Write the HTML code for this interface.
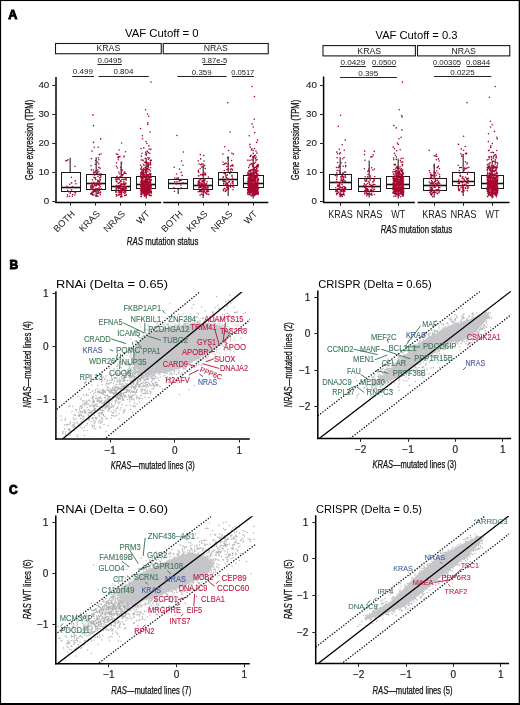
<!DOCTYPE html>
<html><head><meta charset="utf-8"><style>
html,body{margin:0;padding:0;background:#fff;width:520px;height:705px;overflow:hidden;}
svg{display:block;font-family:"Liberation Sans", sans-serif;will-change:transform;}
</style></head><body><svg width="520" height="705" viewBox="0 0 520 705" font-family='"Liberation Sans", sans-serif'><rect x="0" y="0" width="520" height="705" fill="#fff"/><rect x="0" y="0" width="520" height="1.05" fill="#000"/><rect x="0" y="0" width="1.1" height="705" fill="#000"/><rect x="0" y="703" width="520" height="2" fill="#000"/><rect x="518.7" y="0" width="1.3" height="705" fill="#000"/><text x="8.30" y="18.80" font-size="12.6" font-weight="bold" stroke="#000" stroke-width="0.9">A</text><text x="9.40" y="269.30" font-size="12.0" font-weight="bold" stroke="#000" stroke-width="0.9">B</text><text x="8.90" y="494.30" font-size="12.0" font-weight="bold" stroke="#000" stroke-width="0.9">C</text><line x1="70.20" y1="172.50" x2="70.20" y2="157.80" stroke="#444" stroke-width="1.3" /><line x1="70.20" y1="191.50" x2="70.20" y2="194.00" stroke="#444" stroke-width="1.3" /><rect x="61.50" y="172.50" width="19.00" height="19.00" fill="#fff" stroke="#1a1a1a" stroke-width="1"/><line x1="61.50" y1="187.50" x2="80.50" y2="187.50" stroke="#111" stroke-width="1.6" /><line x1="96.20" y1="174.50" x2="96.20" y2="157.20" stroke="#444" stroke-width="1.3" /><line x1="96.20" y1="189.50" x2="96.20" y2="196.50" stroke="#444" stroke-width="1.3" /><rect x="86.50" y="174.50" width="19.00" height="15.00" fill="#fff" stroke="#1a1a1a" stroke-width="1"/><line x1="86.50" y1="183.50" x2="105.50" y2="183.50" stroke="#111" stroke-width="1.6" /><line x1="121.20" y1="177.50" x2="121.20" y2="161.40" stroke="#444" stroke-width="1.3" /><line x1="121.20" y1="190.50" x2="121.20" y2="197.50" stroke="#444" stroke-width="1.3" /><rect x="111.50" y="177.50" width="19.00" height="13.00" fill="#fff" stroke="#1a1a1a" stroke-width="1"/><line x1="111.50" y1="186.50" x2="130.50" y2="186.50" stroke="#111" stroke-width="1.6" /><line x1="146.20" y1="176.50" x2="146.20" y2="158.30" stroke="#444" stroke-width="1.3" /><line x1="146.20" y1="188.50" x2="146.20" y2="198.50" stroke="#444" stroke-width="1.3" /><rect x="136.50" y="176.50" width="19.00" height="12.00" fill="#fff" stroke="#1a1a1a" stroke-width="1"/><line x1="136.50" y1="184.50" x2="155.50" y2="184.50" stroke="#111" stroke-width="1.6" /><line x1="178.20" y1="179.50" x2="178.20" y2="177.00" stroke="#444" stroke-width="1.3" /><line x1="178.20" y1="188.50" x2="178.20" y2="194.00" stroke="#444" stroke-width="1.3" /><rect x="168.50" y="179.50" width="19.00" height="9.00" fill="#fff" stroke="#1a1a1a" stroke-width="1"/><line x1="168.50" y1="183.50" x2="187.50" y2="183.50" stroke="#111" stroke-width="1.6" /><line x1="203.20" y1="178.50" x2="203.20" y2="163.60" stroke="#444" stroke-width="1.3" /><line x1="203.20" y1="189.50" x2="203.20" y2="198.00" stroke="#444" stroke-width="1.3" /><rect x="193.50" y="178.50" width="19.00" height="11.00" fill="#fff" stroke="#1a1a1a" stroke-width="1"/><line x1="193.50" y1="185.50" x2="212.50" y2="185.50" stroke="#111" stroke-width="1.6" /><line x1="228.20" y1="172.50" x2="228.20" y2="156.20" stroke="#444" stroke-width="1.3" /><line x1="228.20" y1="185.50" x2="228.20" y2="196.00" stroke="#444" stroke-width="1.3" /><rect x="218.50" y="172.50" width="19.00" height="13.00" fill="#fff" stroke="#1a1a1a" stroke-width="1"/><line x1="218.50" y1="179.50" x2="237.50" y2="179.50" stroke="#111" stroke-width="1.6" /><line x1="253.20" y1="175.50" x2="253.20" y2="158.30" stroke="#444" stroke-width="1.3" /><line x1="253.20" y1="187.50" x2="253.20" y2="198.50" stroke="#444" stroke-width="1.3" /><rect x="243.50" y="175.50" width="20.00" height="12.00" fill="#fff" stroke="#1a1a1a" stroke-width="1"/><line x1="243.50" y1="183.50" x2="263.50" y2="183.50" stroke="#111" stroke-width="1.6" /><line x1="340.20" y1="174.50" x2="340.20" y2="157.30" stroke="#444" stroke-width="1.3" /><line x1="340.20" y1="189.50" x2="340.20" y2="196.50" stroke="#444" stroke-width="1.3" /><rect x="329.50" y="174.50" width="22.00" height="15.00" fill="#fff" stroke="#1a1a1a" stroke-width="1"/><line x1="329.50" y1="182.50" x2="351.50" y2="182.50" stroke="#111" stroke-width="1.6" /><line x1="369.20" y1="178.50" x2="369.20" y2="160.40" stroke="#444" stroke-width="1.3" /><line x1="369.20" y1="191.50" x2="369.20" y2="197.50" stroke="#444" stroke-width="1.3" /><rect x="358.50" y="178.50" width="22.00" height="13.00" fill="#fff" stroke="#1a1a1a" stroke-width="1"/><line x1="358.50" y1="186.50" x2="380.50" y2="186.50" stroke="#111" stroke-width="1.6" /><line x1="398.20" y1="176.50" x2="398.20" y2="158.80" stroke="#444" stroke-width="1.3" /><line x1="398.20" y1="188.50" x2="398.20" y2="198.50" stroke="#444" stroke-width="1.3" /><rect x="386.50" y="176.50" width="23.00" height="12.00" fill="#fff" stroke="#1a1a1a" stroke-width="1"/><line x1="386.50" y1="184.50" x2="409.50" y2="184.50" stroke="#111" stroke-width="1.6" /><line x1="434.20" y1="178.50" x2="434.20" y2="163.40" stroke="#444" stroke-width="1.3" /><line x1="434.20" y1="190.50" x2="434.20" y2="197.50" stroke="#444" stroke-width="1.3" /><rect x="423.50" y="178.50" width="23.00" height="12.00" fill="#fff" stroke="#1a1a1a" stroke-width="1"/><line x1="423.50" y1="185.50" x2="446.50" y2="185.50" stroke="#111" stroke-width="1.6" /><line x1="463.20" y1="172.50" x2="463.20" y2="154.10" stroke="#444" stroke-width="1.3" /><line x1="463.20" y1="185.50" x2="463.20" y2="196.00" stroke="#444" stroke-width="1.3" /><rect x="452.50" y="172.50" width="22.00" height="13.00" fill="#fff" stroke="#1a1a1a" stroke-width="1"/><line x1="452.50" y1="181.50" x2="474.50" y2="181.50" stroke="#111" stroke-width="1.6" /><line x1="492.20" y1="175.50" x2="492.20" y2="160.40" stroke="#444" stroke-width="1.3" /><line x1="492.20" y1="188.50" x2="492.20" y2="198.50" stroke="#444" stroke-width="1.3" /><rect x="481.50" y="175.50" width="22.00" height="13.00" fill="#fff" stroke="#1a1a1a" stroke-width="1"/><line x1="481.50" y1="183.50" x2="503.50" y2="183.50" stroke="#111" stroke-width="1.6" /><path d="M66.4 187.5h0M75.9 183.8h0M67.7 190.2h0M72.7 194.5h0M68.6 191.7h0M74.8 195.0h0M72.6 186.8h0M66.8 160.6h0M74.5 192.0h0M75.6 192.9h0M75.2 180.9h0M71.6 182.9h0M67.0 186.3h0M67.5 194.7h0M75.4 187.8h0M71.4 177.2h0M67.3 196.5h0M74.9 191.7h0M72.3 196.3h0M71.6 189.9h0M69.5 196.2h0M69.8 184.2h0M68.0 159.8h0M65.8 160.7h0M74.9 166.2h0" stroke="#a8062f" stroke-width="1.6" stroke-linecap="round" fill="none"/><path d="M94.7 175.1h0M93.5 186.9h0M100.2 168.3h0M95.9 183.8h0M98.0 176.4h0M91.4 193.1h0M100.0 179.7h0M94.0 194.8h0M95.9 195.9h0M92.7 186.6h0M95.1 191.0h0M99.5 181.9h0M99.5 190.5h0M95.7 189.1h0M98.9 181.4h0M95.5 177.7h0M94.6 185.4h0M96.5 185.7h0M92.8 174.6h0M94.0 177.3h0M98.2 191.7h0M98.9 184.5h0M91.2 183.3h0M98.5 191.8h0M99.4 180.8h0M95.4 190.7h0M91.3 169.9h0M98.0 181.6h0M93.3 182.7h0M97.5 188.9h0M94.7 184.9h0M97.5 195.8h0M93.4 192.3h0M95.7 179.5h0M96.3 196.2h0M97.4 172.2h0M92.8 195.0h0M101.0 173.7h0M93.7 190.6h0M93.9 173.3h0M93.4 182.3h0M91.3 194.2h0M95.2 164.2h0M98.9 159.7h0M98.3 184.4h0M92.7 186.3h0M92.1 185.3h0M94.1 191.4h0M98.9 167.4h0M95.9 188.5h0M100.6 184.2h0M97.7 190.3h0M97.3 189.1h0M98.9 193.0h0M98.7 164.0h0M94.3 185.2h0M93.4 170.0h0M95.3 183.6h0M95.9 189.6h0M92.1 186.8h0M95.4 188.7h0M97.5 183.6h0M92.1 187.2h0M92.1 186.6h0M92.5 193.5h0M93.7 190.4h0M101.0 154.0h0M90.9 189.5h0M92.6 191.8h0M92.4 179.8h0M95.7 160.5h0M90.8 193.8h0M95.5 185.7h0M92.4 189.2h0M93.5 195.0h0M99.2 174.0h0M92.6 183.9h0M97.3 182.9h0M95.0 190.0h0M95.1 178.2h0M99.4 188.5h0M92.3 185.1h0M100.6 192.1h0M100.2 192.7h0M97.8 162.2h0M91.1 188.3h0M97.8 180.4h0M97.1 184.0h0M98.9 187.7h0M92.9 188.3h0M100.9 175.7h0M100.2 186.6h0M91.8 185.2h0M94.0 183.5h0M91.0 165.8h0M99.6 174.9h0M100.5 179.2h0M101.3 188.7h0M97.2 193.5h0M97.8 170.3h0M97.9 170.0h0M96.8 185.1h0M100.9 177.0h0M97.2 173.3h0M94.2 172.4h0M96.1 170.8h0M90.8 187.9h0M98.4 157.8h0M98.1 192.9h0M95.1 171.9h0M99.8 177.7h0M98.8 171.7h0M94.2 147.2h0M91.4 158.6h0M92.0 192.3h0M92.6 194.8h0M93.9 172.7h0M95.4 191.6h0M100.6 183.8h0M93.6 172.3h0M100.3 194.6h0M97.9 196.2h0M99.8 180.8h0M95.0 183.2h0M90.6 186.1h0M99.1 183.3h0M93.3 190.7h0M92.1 194.1h0M99.2 185.4h0M98.0 191.4h0M92.9 114.9h0M93.5 125.6h0M100.7 138.9h0M93.5 142.4h0M98.2 147.3h0M92.0 151.1h0M99.4 154.6h0" stroke="#a8062f" stroke-width="1.6" stroke-linecap="round" fill="none"/><path d="M119.8 187.2h0M121.1 181.0h0M116.8 179.4h0M121.7 162.9h0M123.9 173.2h0M123.5 183.4h0M118.4 183.5h0M126.3 178.1h0M123.4 190.0h0M120.2 186.5h0M120.1 176.5h0M124.0 157.0h0M117.5 187.5h0M122.5 186.6h0M123.4 184.5h0M121.2 169.8h0M125.0 186.4h0M120.7 167.5h0M120.6 192.4h0M118.7 187.7h0M125.5 187.7h0M119.0 178.1h0M123.1 174.5h0M120.0 194.6h0M125.7 192.1h0M125.8 183.1h0M115.9 190.7h0M126.3 194.7h0M122.1 174.6h0M116.4 181.5h0M121.0 181.5h0M116.1 189.6h0M121.5 174.8h0M117.6 188.0h0M119.6 173.8h0M118.9 192.1h0M122.1 191.8h0M124.5 184.4h0M125.7 191.0h0M119.2 179.4h0M121.8 183.9h0M115.7 192.1h0M119.6 185.6h0M126.0 188.8h0M116.9 176.4h0M125.0 190.6h0M122.6 189.4h0M118.8 172.0h0M124.0 156.0h0M118.7 185.7h0M125.3 184.3h0M116.5 166.3h0M116.9 187.2h0M123.7 192.4h0M120.5 185.2h0M117.2 182.0h0M121.1 191.7h0M118.8 195.1h0M121.5 194.3h0M123.6 179.6h0M124.9 191.3h0M116.2 187.3h0M122.0 184.3h0M126.2 180.1h0M120.6 188.7h0M123.9 181.5h0M116.7 192.0h0M125.0 188.9h0M121.9 192.6h0M125.2 173.2h0M124.1 186.4h0M125.0 191.2h0M116.2 188.8h0M123.3 187.9h0M117.7 179.1h0M118.5 194.9h0M119.1 192.7h0M122.0 189.0h0M122.4 175.8h0M125.7 187.1h0M115.7 179.0h0M117.7 154.5h0M119.5 188.0h0M124.4 188.9h0M121.5 172.0h0M121.1 181.5h0M123.8 179.5h0M122.7 189.8h0M118.7 157.8h0M116.5 162.7h0M120.6 180.7h0M125.1 179.3h0M122.1 196.2h0M116.2 179.9h0M120.4 187.7h0M119.8 182.2h0M121.9 179.4h0M121.9 188.8h0M125.9 195.2h0M119.3 182.8h0M120.0 191.2h0M122.2 188.7h0M125.2 190.4h0M123.2 188.8h0M120.7 196.9h0M124.4 171.9h0M120.8 184.0h0M126.0 173.5h0M118.7 156.5h0M117.0 186.0h0M124.6 195.6h0M118.8 192.0h0M124.8 193.4h0M122.2 189.8h0M121.1 185.5h0M116.5 196.1h0M124.1 183.1h0M116.3 194.6h0M126.0 183.5h0M125.1 187.1h0M118.9 188.6h0M117.0 186.8h0M125.2 190.0h0M120.8 190.5h0M116.9 195.2h0M121.0 186.4h0M118.3 159.7h0M120.0 156.5h0M122.5 170.1h0M125.5 179.1h0M124.3 190.8h0M117.3 168.0h0M120.8 186.7h0M120.9 186.8h0M126.3 188.4h0M116.5 185.4h0M121.1 189.4h0M125.5 186.9h0M119.9 192.9h0M118.4 189.0h0M121.6 143.0h0M119.1 150.0h0M125.6 151.7h0M116.5 154.0h0M117.8 157.5h0" stroke="#a8062f" stroke-width="1.6" stroke-linecap="round" fill="none"/><path d="M150.4 162.0h0M145.0 195.5h0M149.6 186.8h0M145.2 182.1h0M144.2 187.1h0M143.6 189.9h0M142.9 184.6h0M145.3 184.1h0M142.3 184.8h0M149.5 194.6h0M151.1 185.3h0M141.7 190.1h0M141.2 188.3h0M140.6 182.0h0M150.7 177.5h0M141.4 174.1h0M147.9 187.9h0M143.9 173.8h0M142.7 170.0h0M143.3 170.6h0M148.0 166.3h0M140.8 185.3h0M149.9 185.6h0M146.7 175.1h0M143.1 192.7h0M142.9 182.2h0M147.7 188.2h0M147.4 187.0h0M144.0 194.1h0M144.2 190.3h0M145.6 184.3h0M150.4 174.3h0M146.4 172.8h0M149.7 184.8h0M147.5 185.7h0M146.7 190.0h0M145.9 180.2h0M148.0 186.1h0M145.9 177.9h0M148.4 159.2h0M142.6 184.4h0M144.1 193.2h0M150.0 190.2h0M144.9 193.0h0M149.7 191.9h0M150.7 167.8h0M146.8 182.0h0M141.7 193.3h0M148.8 177.3h0M147.8 168.6h0M143.7 187.0h0M149.9 189.1h0M145.8 186.8h0M141.2 181.4h0M141.3 177.5h0M143.1 169.9h0M147.2 169.4h0M149.4 169.8h0M141.7 166.8h0M140.8 177.2h0M147.3 193.3h0M145.0 185.2h0M145.4 181.1h0M149.5 187.1h0M150.5 173.9h0M151.0 187.0h0M149.0 190.5h0M140.6 165.3h0M142.2 177.2h0M146.9 182.1h0M150.9 173.7h0M141.5 171.7h0M146.2 180.8h0M144.9 196.3h0M145.0 189.1h0M143.5 187.7h0M143.5 190.8h0M143.2 182.3h0M141.7 169.7h0M146.6 187.8h0M145.4 191.6h0M148.3 152.8h0M147.5 187.6h0M150.9 192.1h0M144.3 181.9h0M150.1 179.9h0M144.8 189.3h0M147.7 175.6h0M149.3 187.9h0M144.9 190.5h0M145.4 182.5h0M147.4 175.8h0M141.8 188.8h0M146.3 181.0h0M141.6 184.9h0M143.0 189.3h0M147.3 166.4h0M151.1 184.6h0M151.4 185.2h0M143.4 176.5h0M142.2 174.2h0M146.2 168.5h0M145.4 181.0h0M144.7 188.6h0M148.9 188.2h0M148.3 179.0h0M146.7 178.2h0M147.3 166.2h0M146.9 180.0h0M147.9 171.8h0M150.6 164.0h0M150.8 182.6h0M151.2 193.2h0M149.9 191.8h0M141.7 193.0h0M145.5 162.5h0M149.0 190.1h0M143.8 169.1h0M147.2 178.1h0M141.2 160.0h0M142.8 172.6h0M144.9 185.0h0M141.4 185.8h0M145.2 183.3h0M143.1 182.5h0M149.9 188.2h0M144.0 184.4h0M144.7 162.2h0M149.3 194.0h0M146.6 181.7h0M141.1 190.4h0M142.9 182.4h0M147.2 174.9h0M142.8 184.6h0M143.3 175.8h0M147.3 193.6h0M145.9 171.1h0M143.5 188.6h0M146.6 177.7h0M147.4 182.4h0M141.0 196.6h0M143.6 189.6h0M143.9 182.1h0M150.1 163.3h0M141.2 181.4h0M144.3 181.7h0M142.7 192.9h0M148.1 165.6h0M149.4 158.0h0M141.2 183.8h0M149.9 185.9h0M148.1 193.7h0M142.9 174.3h0M150.5 176.5h0M143.8 168.5h0M149.1 178.6h0M141.4 190.8h0M145.5 167.3h0M146.1 192.1h0M150.3 185.8h0M149.6 181.5h0M146.5 174.3h0M141.2 180.0h0M145.2 180.4h0M144.7 189.6h0M151.4 192.3h0M148.0 183.6h0M145.0 189.3h0M144.5 192.4h0M148.9 192.2h0M141.6 187.9h0M149.4 194.5h0M147.8 192.6h0M145.3 193.7h0M148.3 182.4h0M144.9 180.1h0M142.1 153.3h0M145.1 193.2h0M141.2 189.1h0M141.5 173.9h0M145.3 185.9h0M149.5 186.7h0M142.8 160.1h0M146.0 186.8h0M151.2 191.7h0M149.5 192.4h0M150.3 180.9h0M147.9 181.2h0M147.0 192.7h0M146.9 190.8h0M147.1 178.7h0M145.6 178.2h0M144.5 188.9h0M143.2 177.7h0M141.3 178.3h0M144.6 194.3h0M148.9 186.6h0M146.6 180.1h0M142.4 188.4h0M149.4 195.4h0M141.0 186.4h0M150.7 176.1h0M147.6 162.8h0M146.6 195.6h0M145.1 191.6h0M149.5 173.3h0M140.7 169.0h0M140.8 172.9h0M146.2 182.7h0M143.8 191.7h0M144.9 177.6h0M146.4 189.3h0M141.1 196.4h0M151.2 176.6h0M147.9 157.8h0M141.7 190.4h0M148.6 164.9h0M146.4 162.6h0M148.0 163.3h0M148.6 184.3h0M151.3 191.9h0M141.9 185.6h0M151.4 195.6h0M145.8 194.0h0M142.8 183.3h0M144.6 190.9h0M144.5 185.5h0M150.3 185.0h0M146.3 155.2h0M141.3 168.0h0M148.3 184.5h0M146.0 169.4h0M149.4 189.7h0M141.1 186.8h0M149.9 173.9h0M150.2 192.1h0M140.7 186.4h0M145.8 192.5h0M141.9 183.0h0M146.3 161.7h0M141.6 189.5h0M150.2 182.0h0M142.6 190.4h0M147.8 191.7h0M147.7 192.1h0M144.1 165.2h0M142.9 179.3h0M150.5 189.3h0M141.0 176.7h0M143.3 186.8h0M144.1 175.4h0M146.9 181.4h0M144.6 181.5h0M141.8 177.9h0M146.8 188.5h0M148.4 187.3h0M148.2 194.1h0M145.9 187.6h0M143.9 192.9h0M140.7 185.3h0M146.4 190.7h0M147.4 183.2h0M145.4 179.6h0M151.0 192.9h0M142.8 189.9h0M149.4 190.6h0M148.4 176.1h0M150.3 160.2h0M150.6 174.8h0M143.2 186.9h0M150.6 165.0h0M145.0 193.3h0M147.9 164.3h0M150.9 189.0h0M147.0 162.8h0M146.9 191.1h0M141.4 182.6h0M147.0 185.9h0M143.2 183.2h0M144.8 193.1h0M144.7 189.1h0M151.1 179.5h0M147.5 182.0h0M148.4 169.6h0M142.5 183.4h0M143.9 189.3h0M150.1 181.7h0M141.9 194.7h0M150.9 192.2h0M145.2 167.4h0M144.8 190.6h0M146.2 178.8h0M145.4 184.6h0M145.7 191.2h0M145.2 186.9h0M148.2 188.0h0M143.6 187.9h0M142.4 176.1h0M145.3 177.3h0M141.6 188.5h0M145.4 190.4h0M145.9 181.4h0M149.1 185.0h0M141.8 172.2h0M144.9 174.9h0M149.0 184.4h0M144.3 185.5h0M149.6 190.1h0M148.4 190.4h0M141.1 190.9h0M144.8 187.2h0M148.9 187.4h0M146.3 176.2h0M147.9 187.2h0M151.3 185.7h0M147.9 192.0h0M146.5 161.5h0M149.7 179.0h0M145.2 158.4h0M140.7 175.5h0M143.5 164.5h0M147.0 186.1h0M150.8 176.5h0M147.2 192.0h0M143.7 170.0h0M151.3 160.4h0M144.9 180.0h0M143.1 175.9h0M146.6 168.3h0M144.3 189.0h0M141.8 180.0h0M148.3 190.3h0M148.1 189.2h0M151.1 188.8h0M142.1 185.3h0M150.4 182.7h0M149.2 179.5h0M143.3 193.0h0M145.8 152.8h0M147.4 169.8h0M144.0 176.2h0M141.8 187.0h0M149.6 184.9h0M142.4 178.4h0M145.9 180.0h0M145.3 194.1h0M150.4 176.0h0M146.6 194.6h0M145.2 172.4h0M151.1 180.4h0M144.4 185.1h0M148.4 166.0h0M143.1 192.0h0M148.8 182.6h0M148.7 164.3h0M149.5 185.8h0M145.8 187.5h0M143.0 183.0h0M147.4 187.7h0M150.4 162.6h0M143.9 190.6h0M140.8 174.1h0M142.6 192.3h0M150.7 176.9h0M140.7 185.0h0M141.2 196.7h0M141.7 184.2h0M150.2 191.4h0M144.7 187.7h0M148.1 162.7h0M148.2 191.7h0M145.3 191.4h0M148.5 164.7h0M145.6 183.0h0M146.5 162.7h0M143.9 180.9h0M140.6 190.4h0M147.0 184.7h0M143.5 168.5h0M143.6 173.1h0M150.1 184.1h0M144.5 183.7h0M141.7 185.1h0M147.4 188.6h0M146.4 153.8h0M141.2 184.0h0M144.4 191.7h0M147.2 187.9h0M143.6 176.1h0M151.3 177.2h0M149.2 185.3h0M146.0 189.2h0M150.5 183.9h0M141.0 194.1h0M143.0 192.5h0M150.5 175.2h0M146.1 187.9h0M142.4 180.4h0M146.8 168.7h0M148.5 177.1h0M147.1 183.9h0M141.1 148.6h0M141.0 176.9h0M145.0 187.0h0M140.8 176.1h0M141.5 180.0h0M147.5 190.3h0M145.3 183.4h0M141.5 185.5h0M150.1 195.1h0M144.6 185.6h0M150.1 186.5h0M147.2 187.6h0M147.3 193.9h0M145.2 187.0h0M147.9 184.5h0M143.2 183.2h0M143.4 191.8h0M150.0 177.3h0M142.8 192.1h0M144.8 186.0h0M148.6 167.2h0M144.2 189.3h0M144.6 188.1h0M150.4 171.1h0M142.8 187.2h0M143.2 186.6h0M150.2 182.0h0M143.6 171.5h0M144.2 195.8h0M150.1 190.1h0M144.1 191.1h0M151.4 191.5h0M149.5 190.3h0M149.7 190.2h0M143.0 181.2h0M142.9 190.5h0M148.7 183.0h0M149.5 180.1h0M143.0 189.5h0M142.8 182.9h0M143.2 160.8h0M142.1 181.0h0M145.1 188.9h0M146.0 184.7h0M147.4 190.6h0M141.2 181.5h0M142.7 174.3h0M141.9 190.0h0M143.5 185.9h0M142.6 170.6h0M150.7 188.0h0M144.6 182.3h0M142.1 191.2h0M147.8 190.0h0M151.1 188.1h0M149.2 149.0h0M147.6 187.3h0M144.7 188.1h0M145.0 188.4h0M143.9 185.5h0M149.3 177.3h0M149.3 182.4h0M145.9 152.0h0M149.9 182.1h0M147.6 165.3h0M148.0 181.5h0M143.5 177.9h0M143.2 193.0h0M143.1 185.2h0M150.5 184.7h0M149.2 186.1h0M150.3 195.4h0M149.5 174.4h0M149.3 187.2h0M145.3 187.5h0M148.9 186.2h0M142.4 186.0h0M147.7 180.1h0M141.1 192.2h0M151.0 190.6h0M150.1 181.4h0M142.4 182.8h0M148.9 187.1h0M149.5 188.4h0M141.1 190.0h0M146.7 184.6h0M145.1 169.9h0M147.3 191.2h0M150.2 163.9h0M148.4 174.9h0M142.9 187.6h0M146.6 175.7h0M146.7 193.1h0M140.7 194.1h0M142.0 192.3h0M144.5 187.3h0M142.5 186.7h0M143.2 188.1h0M147.9 183.2h0M151.0 82.1h0M145.5 109.7h0M147.6 114.0h0M148.8 116.3h0M147.9 122.7h0M147.7 124.2h0M140.6 128.5h0M150.0 132.0h0M142.3 135.8h0M142.5 138.7h0M146.1 141.6h0M146.9 143.6h0M148.8 145.9h0M143.8 147.9h0M150.8 149.4h0M147.4 151.4h0M149.7 153.2h0M145.8 154.6h0M141.4 156.1h0" stroke="#a8062f" stroke-width="1.6" stroke-linecap="round" fill="none"/><path d="M174.8 181.7h0M176.9 181.8h0M174.8 178.0h0M182.1 175.4h0M174.0 187.8h0M181.0 179.5h0M176.6 184.0h0M180.9 185.1h0M181.3 187.7h0M174.5 191.2h0M181.2 172.4h0M183.2 183.0h0M179.1 181.1h0M180.0 188.7h0M176.5 174.0h0M174.9 178.3h0M181.0 180.3h0M181.9 179.6h0M175.2 183.6h0M174.2 167.3h0M176.8 178.4h0M179.8 180.7h0M176.9 135.5h0M183.4 152.0h0M181.5 161.0h0M182.9 165.3h0M179.5 169.1h0" stroke="#a8062f" stroke-width="1.6" stroke-linecap="round" fill="none"/><path d="M208.3 185.7h0M200.7 174.7h0M205.4 189.4h0M205.5 193.0h0M207.8 191.7h0M205.2 189.2h0M208.6 191.4h0M198.6 172.4h0M198.4 170.4h0M200.1 182.8h0M204.2 191.4h0M202.6 186.0h0M198.9 189.6h0M200.2 168.7h0M204.3 182.5h0M202.3 180.8h0M206.2 187.9h0M203.0 195.0h0M207.5 190.1h0M206.2 191.8h0M203.3 182.0h0M201.9 184.3h0M200.3 190.2h0M201.2 187.8h0M201.8 166.9h0M201.9 191.0h0M199.9 190.8h0M203.1 186.8h0M199.2 189.7h0M207.4 188.1h0M203.9 180.4h0M199.0 164.0h0M201.5 194.3h0M200.8 185.2h0M199.7 184.8h0M203.2 185.7h0M200.0 186.5h0M199.6 187.5h0M205.6 175.0h0M202.6 188.3h0M205.3 186.1h0M203.1 185.1h0M203.4 184.2h0M201.4 186.4h0M202.6 175.1h0M203.2 185.2h0M201.7 183.7h0M206.9 185.5h0M200.7 191.3h0M200.4 190.4h0M201.7 191.5h0M206.5 183.5h0M207.2 189.8h0M204.1 191.5h0M201.9 183.1h0M205.0 180.5h0M206.9 194.3h0M200.6 164.7h0M205.2 184.8h0M205.7 185.9h0M202.2 174.2h0M199.6 184.5h0M204.6 189.2h0M200.3 154.6h0M202.0 191.6h0M203.9 185.8h0M208.4 177.0h0M199.6 191.6h0M198.8 185.9h0M203.8 181.8h0M208.2 190.7h0M198.5 185.5h0M204.9 179.1h0M198.3 184.5h0M204.0 192.2h0M199.3 181.6h0M205.1 184.2h0M201.9 181.2h0M205.1 173.4h0M200.8 174.9h0M198.8 181.6h0M200.0 182.5h0M201.0 191.7h0M199.8 186.1h0M200.1 183.3h0M203.9 187.9h0M202.7 184.3h0M206.9 190.4h0M203.4 167.4h0M203.8 155.6h0M205.7 187.9h0M207.2 181.7h0M204.3 186.8h0M198.4 171.6h0M203.0 181.3h0M198.3 184.5h0M204.5 186.7h0M198.7 184.1h0M203.8 191.2h0M199.6 178.9h0M207.2 189.8h0M199.0 180.4h0M205.1 184.1h0M205.6 173.9h0M201.0 185.2h0M204.4 174.8h0M201.6 190.9h0M200.8 179.6h0M200.8 186.7h0M198.2 183.5h0M205.3 184.5h0M198.8 175.9h0M200.1 195.1h0M198.9 182.4h0M206.7 193.3h0M203.7 172.4h0M203.0 194.9h0M204.3 191.3h0M206.7 194.0h0M204.7 165.6h0M203.5 192.5h0M201.4 184.2h0M203.6 188.8h0M208.7 194.4h0M204.2 187.5h0M203.2 179.0h0M207.6 186.5h0M198.6 175.8h0M198.7 187.7h0M206.5 185.0h0M208.2 187.8h0M198.5 182.2h0M198.3 160.8h0M198.1 182.0h0M204.2 183.5h0M199.5 189.2h0M204.1 190.0h0M205.2 168.5h0M198.2 191.8h0M207.4 190.8h0M200.7 158.9h0M204.0 161.0h0M201.8 163.9h0" stroke="#a8062f" stroke-width="1.6" stroke-linecap="round" fill="none"/><path d="M231.5 165.5h0M223.2 172.5h0M226.8 179.4h0M228.0 184.7h0M229.3 181.3h0M224.4 173.5h0M228.8 186.0h0M230.4 169.3h0M230.8 187.3h0M225.3 191.3h0M227.7 187.4h0M226.1 190.8h0M227.1 189.4h0M226.8 166.5h0M233.1 181.7h0M223.0 177.8h0M233.1 166.1h0M223.3 164.5h0M223.7 184.1h0M225.1 163.4h0M226.0 176.1h0M232.2 179.9h0M232.0 175.4h0M233.0 189.7h0M227.1 186.0h0M223.1 180.9h0M229.7 173.5h0M232.6 183.1h0M224.1 181.0h0M231.8 168.8h0M222.9 162.0h0M230.8 171.5h0M228.2 164.4h0M232.7 183.3h0M232.3 182.5h0M223.4 176.8h0M228.3 182.5h0M225.5 184.1h0M227.6 157.7h0M223.6 181.7h0M226.8 187.1h0M227.3 174.9h0M222.9 154.1h0M228.0 179.1h0M232.6 164.9h0M223.6 183.6h0M233.1 184.0h0M228.2 185.4h0M225.2 181.2h0M233.4 154.1h0M228.0 188.2h0M227.6 158.0h0M227.0 187.4h0M232.4 181.9h0M224.3 170.6h0M225.2 173.2h0M226.0 177.1h0M223.6 190.7h0M232.0 176.3h0M228.2 187.5h0M229.4 181.8h0M232.5 178.1h0M228.2 188.2h0M225.9 183.9h0M228.6 189.0h0M228.3 168.7h0M226.1 182.2h0M225.4 174.0h0M226.8 185.3h0M230.8 184.0h0M224.7 164.0h0M233.7 187.2h0M225.4 191.4h0M225.8 175.8h0M224.2 188.2h0M227.1 183.6h0M226.9 169.6h0M230.3 186.2h0M232.6 170.1h0M225.6 185.3h0M231.6 160.6h0M226.2 163.4h0M227.3 183.8h0M224.3 181.8h0M232.5 186.3h0M226.9 178.0h0M230.5 166.2h0M223.2 189.8h0M230.4 169.5h0M225.3 189.1h0M227.8 102.7h0M230.2 132.0h0M224.7 146.8h0M228.6 150.5h0M231.9 153.2h0" stroke="#a8062f" stroke-width="1.6" stroke-linecap="round" fill="none"/><path d="M251.1 184.5h0M249.4 176.5h0M251.3 177.7h0M252.5 185.9h0M258.1 192.6h0M253.2 171.8h0M255.0 181.4h0M255.6 171.8h0M247.8 194.3h0M250.2 193.0h0M253.5 194.7h0M248.3 189.3h0M249.3 171.0h0M255.8 177.2h0M255.0 183.3h0M249.2 181.8h0M249.0 174.9h0M256.8 185.5h0M252.8 179.1h0M251.1 181.7h0M255.5 194.8h0M254.9 186.1h0M258.4 165.9h0M248.8 186.2h0M256.0 184.2h0M252.7 187.6h0M250.4 186.8h0M253.1 169.7h0M247.9 185.2h0M249.0 190.1h0M248.9 187.4h0M255.2 194.1h0M255.4 193.6h0M250.3 174.4h0M251.0 175.5h0M256.0 194.0h0M251.9 173.7h0M251.5 178.4h0M257.9 188.7h0M253.6 175.2h0M253.5 192.9h0M254.3 191.0h0M248.1 192.1h0M252.0 190.6h0M256.2 173.3h0M254.7 191.6h0M257.3 190.8h0M251.1 189.7h0M252.8 181.2h0M250.2 185.8h0M249.7 173.5h0M248.7 188.3h0M249.8 191.4h0M249.5 186.9h0M252.4 182.7h0M252.1 189.6h0M256.0 180.4h0M256.1 157.2h0M253.5 187.5h0M254.8 182.7h0M252.8 166.2h0M251.1 188.0h0M253.1 189.2h0M254.5 190.5h0M258.0 179.3h0M256.5 178.0h0M248.4 184.4h0M254.6 182.8h0M248.7 167.6h0M254.4 173.7h0M256.9 192.0h0M255.3 183.3h0M249.0 182.2h0M252.3 175.6h0M249.8 185.1h0M254.8 188.0h0M255.4 186.8h0M255.7 193.6h0M251.5 183.5h0M254.2 187.7h0M249.9 178.7h0M257.7 190.3h0M257.8 186.7h0M248.0 190.0h0M253.8 190.5h0M255.5 176.0h0M250.2 186.9h0M248.1 179.0h0M247.7 190.8h0M255.3 182.4h0M247.8 193.3h0M251.9 187.0h0M256.3 187.2h0M248.3 177.5h0M255.3 181.7h0M252.4 184.8h0M251.9 174.4h0M252.9 181.6h0M251.5 178.0h0M257.0 175.3h0M254.9 183.9h0M251.9 185.7h0M249.0 180.3h0M253.1 186.6h0M258.5 179.7h0M257.3 170.7h0M248.4 174.2h0M251.5 186.4h0M252.8 191.6h0M252.1 183.9h0M248.9 184.4h0M249.7 170.7h0M253.5 186.4h0M255.5 185.1h0M255.4 175.8h0M255.0 187.1h0M255.0 184.7h0M247.8 160.3h0M250.1 164.5h0M251.3 177.1h0M250.5 180.9h0M251.9 190.1h0M252.0 177.9h0M251.4 182.9h0M247.8 181.4h0M257.0 187.4h0M258.0 183.5h0M254.3 184.9h0M250.6 180.5h0M252.6 165.6h0M257.6 180.0h0M254.2 193.2h0M255.2 190.1h0M255.3 192.9h0M258.3 189.1h0M254.8 177.9h0M248.9 179.6h0M253.2 187.9h0M257.7 181.0h0M249.1 188.9h0M248.3 192.2h0M248.2 192.2h0M248.5 189.5h0M249.5 165.7h0M256.0 191.9h0M254.2 168.7h0M255.6 167.3h0M253.7 184.9h0M251.5 183.8h0M256.2 188.0h0M249.5 183.6h0M251.6 176.7h0M252.2 183.4h0M255.0 172.4h0M255.9 169.6h0M253.8 180.2h0M254.3 180.4h0M250.7 184.0h0M254.1 180.2h0M256.8 190.8h0M252.4 179.6h0M255.8 181.6h0M253.2 189.5h0M253.2 150.6h0M254.3 190.1h0M249.2 189.5h0M250.0 180.9h0M249.6 194.2h0M253.5 189.1h0M254.9 192.7h0M255.3 190.1h0M250.0 184.6h0M251.3 180.5h0M249.3 170.9h0M254.8 175.0h0M252.2 169.7h0M250.6 177.6h0M250.1 187.1h0M258.0 170.7h0M252.9 187.2h0M258.4 188.0h0M251.2 163.9h0M250.0 175.2h0M255.4 181.5h0M257.6 175.7h0M249.5 174.0h0M257.0 192.0h0M254.0 184.3h0M257.5 191.2h0M257.9 182.4h0M252.3 188.4h0M257.9 166.9h0M249.6 178.4h0M252.5 189.2h0M252.5 183.6h0M250.3 191.3h0M252.9 183.1h0M255.8 178.1h0M248.9 181.1h0M252.9 194.2h0M253.4 186.1h0M249.8 178.5h0M254.6 180.7h0M250.4 170.1h0M253.9 191.7h0M253.9 178.4h0M255.8 188.3h0M257.8 181.7h0M257.7 179.6h0M253.1 176.5h0M250.5 187.8h0M250.3 181.8h0M256.2 191.1h0M255.9 192.2h0M256.3 178.0h0M256.7 184.0h0M253.8 193.1h0M257.4 189.5h0M254.8 183.3h0M254.5 163.5h0M256.7 171.8h0M254.7 175.1h0M256.0 193.7h0M257.7 184.3h0M252.0 178.9h0M255.8 179.8h0M250.9 179.5h0M253.0 185.4h0M257.1 159.6h0M258.2 164.9h0M257.9 184.3h0M255.9 190.2h0M256.9 153.1h0M257.3 187.7h0M254.3 169.5h0M250.3 156.4h0M247.9 190.0h0M255.9 180.8h0M255.9 186.3h0M255.6 178.5h0M254.0 180.5h0M254.8 155.6h0M255.5 177.6h0M253.4 183.6h0M254.8 170.6h0M250.1 185.7h0M253.5 186.4h0M254.5 148.5h0M253.8 189.3h0M250.5 187.2h0M249.1 183.1h0M254.8 190.6h0M248.9 194.8h0M256.3 171.6h0M249.7 189.1h0M256.0 187.6h0M251.5 186.4h0M257.4 190.2h0M250.1 190.7h0M249.4 182.1h0M255.0 175.9h0M256.1 175.8h0M251.5 192.6h0M252.8 183.7h0M254.8 191.2h0M250.9 175.5h0M251.9 185.4h0M253.8 183.2h0M251.0 184.3h0M249.3 187.9h0M257.5 192.7h0M249.0 177.8h0M258.4 192.1h0M256.8 191.2h0M252.5 185.9h0M257.0 188.6h0M248.4 181.1h0M253.8 172.3h0M251.5 181.2h0M250.9 181.7h0M257.4 183.3h0M248.1 174.4h0M257.0 193.9h0M248.6 180.1h0M255.0 189.9h0M250.8 191.5h0M253.4 183.5h0M257.7 186.5h0M256.3 177.7h0M248.8 171.0h0M251.0 195.4h0M253.0 184.1h0M255.4 155.3h0M247.8 174.2h0M257.0 165.4h0M256.8 182.6h0M258.0 192.4h0M249.9 190.9h0M250.0 176.2h0M256.7 173.0h0M253.3 188.8h0M250.3 185.7h0M247.9 181.1h0M250.0 193.6h0M255.0 186.3h0M255.6 162.3h0M251.5 149.9h0M257.6 184.4h0M253.2 158.0h0M253.3 187.5h0M252.0 189.3h0M252.1 195.2h0M251.6 173.0h0M256.6 186.4h0M252.5 180.4h0M250.2 181.8h0M252.4 193.8h0M257.7 164.5h0M254.6 186.4h0M248.8 184.8h0M252.2 195.1h0M252.7 173.4h0M247.9 172.6h0M258.1 188.0h0M257.6 182.7h0M248.8 179.8h0M253.7 172.9h0M251.1 182.6h0M250.0 160.2h0M250.7 185.5h0M248.3 188.0h0M255.1 187.1h0M251.7 196.0h0M255.3 189.2h0M256.5 172.3h0M253.9 181.1h0M251.4 189.3h0M249.2 180.2h0M254.7 194.5h0M255.0 185.8h0M256.1 178.3h0M249.2 176.3h0M248.2 189.0h0M257.2 173.6h0M254.2 157.1h0M248.7 186.8h0M255.4 175.8h0M248.3 192.8h0M254.5 194.3h0M253.7 177.3h0M255.4 183.1h0M248.7 181.7h0M257.5 187.8h0M257.9 185.8h0M258.3 174.9h0M256.0 160.2h0M251.1 185.2h0M258.3 193.2h0M254.3 168.2h0M255.5 177.4h0M254.8 176.5h0M249.9 181.8h0M256.9 182.8h0M254.7 178.4h0M250.1 193.9h0M251.8 187.8h0M249.3 188.5h0M252.4 183.7h0M258.4 180.2h0M251.8 188.9h0M252.0 159.9h0M256.4 190.6h0M248.6 186.9h0M249.0 181.3h0M255.8 191.5h0M249.1 177.8h0M254.3 177.0h0M256.5 185.8h0M253.8 156.2h0M248.6 182.7h0M249.9 180.8h0M253.5 190.0h0M258.0 193.3h0M254.8 188.1h0M255.2 186.0h0M254.1 187.0h0M251.2 175.4h0M254.3 195.6h0M247.8 190.9h0M252.2 193.8h0M256.5 167.1h0M249.9 187.7h0M254.7 187.4h0M255.5 190.8h0M249.4 173.7h0M257.0 186.7h0M250.3 181.4h0M258.1 194.5h0M251.4 169.8h0M254.3 179.7h0M257.9 178.0h0M256.6 168.8h0M252.9 185.0h0M249.8 184.8h0M254.3 176.0h0M254.0 179.3h0M248.4 185.4h0M251.8 183.0h0M257.6 187.3h0M253.4 176.0h0M249.7 173.2h0M254.7 183.4h0M252.6 156.8h0M257.6 192.8h0M253.0 185.3h0M248.0 160.2h0M249.4 186.7h0M249.6 193.0h0M258.0 166.1h0M251.6 178.0h0M251.5 191.2h0M258.2 175.3h0M249.9 190.4h0M254.4 191.9h0M257.9 184.7h0M257.5 187.1h0M249.4 190.8h0M252.8 186.3h0M250.4 190.3h0M255.3 182.9h0M250.4 183.6h0M249.6 175.6h0M250.6 186.9h0M249.1 191.9h0M255.4 191.8h0M250.7 185.4h0M252.0 163.6h0M250.7 174.3h0M251.8 188.2h0M251.0 173.0h0M251.5 191.1h0M255.4 172.0h0M249.6 186.4h0M255.1 175.3h0M251.5 177.1h0M248.7 185.7h0M249.0 180.3h0M257.4 190.6h0M248.2 184.0h0M250.7 171.0h0M257.0 176.1h0M248.6 182.6h0M250.0 190.3h0M250.6 171.4h0M256.7 193.2h0M249.0 189.1h0M257.9 180.0h0M249.0 191.3h0M253.8 163.4h0M256.1 170.9h0M253.7 187.7h0M253.2 187.6h0M252.4 191.8h0M250.4 192.2h0M258.4 179.1h0M252.1 177.1h0M254.6 180.1h0M254.0 180.9h0M258.1 187.6h0M250.3 180.0h0M249.4 192.5h0M257.4 183.3h0M253.2 164.6h0M254.6 167.2h0M254.5 187.0h0M256.1 186.1h0M256.7 166.3h0M255.3 158.6h0M247.8 192.6h0M256.7 186.7h0M248.2 181.2h0M257.0 168.9h0M247.7 189.4h0M256.1 176.8h0M254.6 185.8h0M248.0 179.2h0M255.8 184.5h0M254.0 186.1h0M249.0 171.4h0M257.2 176.4h0M254.1 190.7h0M252.7 181.4h0M257.9 191.9h0M249.9 188.9h0M249.6 191.7h0M257.3 191.8h0M249.4 188.4h0M256.5 190.1h0M250.0 178.2h0M256.5 174.9h0M252.1 86.5h0M254.4 96.6h0M254.3 119.2h0M252.0 123.9h0M253.3 127.0h0M254.7 132.6h0M249.2 135.8h0M257.6 140.1h0M256.6 142.4h0M249.9 144.4h0M250.1 147.1h0M252.0 148.8h0M256.0 151.1h0M253.3 153.4h0M251.1 155.2h0" stroke="#a8062f" stroke-width="1.6" stroke-linecap="round" fill="none"/><path d="M338.0 184.8h0M340.0 187.4h0M341.2 191.8h0M339.7 183.3h0M344.7 186.9h0M344.7 188.2h0M343.4 173.0h0M343.8 191.7h0M340.6 177.0h0M338.1 188.7h0M344.0 177.2h0M336.5 182.1h0M341.6 179.9h0M342.0 191.3h0M336.4 189.9h0M337.4 190.5h0M342.5 180.8h0M344.5 172.0h0M339.4 165.2h0M340.9 187.8h0M342.8 182.0h0M341.5 194.5h0M340.2 196.6h0M342.1 190.6h0M342.9 189.2h0M343.9 194.3h0M341.3 195.2h0M342.3 175.8h0M337.3 190.2h0M336.9 194.8h0M343.9 181.0h0M337.6 186.3h0M339.9 173.5h0M344.8 189.9h0M336.8 152.1h0M342.5 194.2h0M337.9 193.2h0M342.0 184.6h0M344.0 190.0h0M344.1 157.5h0M343.6 194.5h0M340.8 189.8h0M341.1 180.3h0M337.1 175.6h0M336.5 167.5h0M343.3 178.9h0M335.8 187.8h0M345.3 181.2h0M337.2 170.5h0M343.0 186.5h0M340.0 186.3h0M341.8 187.8h0M343.4 189.2h0M338.4 192.3h0M344.1 188.5h0M343.4 194.3h0M341.5 178.5h0M341.4 194.5h0M339.3 149.3h0M345.7 165.5h0M339.4 185.6h0M337.8 188.8h0M341.2 162.8h0M345.1 181.2h0M345.2 175.9h0M341.4 189.8h0M339.4 166.5h0M343.3 190.4h0M341.2 182.2h0M344.1 195.1h0M344.2 189.4h0M342.8 176.9h0M345.7 187.8h0M342.2 187.8h0M345.7 172.1h0M342.2 184.2h0M337.6 162.6h0M342.0 175.9h0M343.5 176.9h0M339.8 194.4h0M337.0 193.3h0M339.0 170.5h0M343.6 192.1h0M337.4 189.3h0M335.3 175.4h0M344.7 186.8h0M345.7 177.3h0M344.6 190.9h0M343.9 179.9h0M343.1 166.3h0M341.2 179.5h0M342.2 196.6h0M343.3 174.6h0M338.7 182.8h0M337.4 191.1h0M342.7 158.8h0M341.7 195.2h0M345.9 189.3h0M339.7 153.8h0M339.7 184.0h0M336.5 193.4h0M335.4 182.4h0M336.7 179.4h0M341.6 176.4h0M345.6 166.8h0M336.4 191.1h0M336.9 177.1h0M342.6 173.2h0M338.5 186.3h0M335.7 191.3h0M344.8 191.4h0M336.8 172.9h0M339.9 172.0h0M343.3 190.6h0M343.6 193.5h0M345.5 162.8h0M341.6 194.4h0M336.8 181.7h0M336.1 190.5h0M342.1 195.2h0M341.0 182.1h0M337.9 185.5h0M337.0 157.7h0M339.0 185.5h0M338.3 167.6h0M339.0 167.2h0M339.0 188.4h0M343.3 190.9h0M340.2 152.8h0M344.4 187.1h0M340.6 115.2h0M338.3 126.2h0M345.2 140.1h0M342.2 144.7h0M344.3 150.2h0M337.7 153.7h0" stroke="#a8062f" stroke-width="1.6" stroke-linecap="round" fill="none"/><path d="M366.9 193.4h0M365.6 186.9h0M374.4 194.5h0M371.5 193.4h0M368.2 190.1h0M374.7 176.6h0M365.2 176.8h0M367.8 190.8h0M373.5 181.3h0M374.5 189.3h0M372.6 185.4h0M366.0 185.0h0M370.1 179.9h0M364.8 190.9h0M364.7 187.5h0M373.3 184.4h0M364.0 185.6h0M365.0 191.9h0M365.1 160.3h0M371.7 189.9h0M370.8 178.1h0M366.3 184.6h0M368.4 170.8h0M374.3 151.4h0M366.3 188.2h0M364.7 194.0h0M371.0 185.3h0M365.2 181.3h0M370.0 194.0h0M366.8 190.0h0M364.4 168.7h0M371.1 194.7h0M372.1 187.9h0M367.4 188.8h0M365.7 188.8h0M374.5 169.1h0M366.6 191.3h0M366.7 192.0h0M368.0 174.5h0M366.6 179.9h0M366.7 195.8h0M374.0 179.7h0M364.9 179.7h0M373.0 190.9h0M369.8 184.4h0M364.4 183.9h0M365.6 190.1h0M371.1 190.8h0M370.0 191.3h0M366.6 188.7h0M367.1 194.4h0M374.0 186.8h0M372.0 195.1h0M371.1 185.8h0M374.0 187.2h0M366.5 193.2h0M367.6 176.9h0M373.1 154.9h0M368.8 169.0h0M368.8 194.6h0M372.7 170.0h0M374.8 184.5h0M373.6 186.9h0M372.3 190.8h0M368.8 186.6h0M371.6 167.8h0M366.4 180.9h0M366.7 189.7h0M366.2 191.3h0M371.4 189.7h0M374.2 180.4h0M372.2 156.8h0M366.9 193.3h0M371.1 186.5h0M367.8 189.5h0M372.9 191.7h0M369.2 182.6h0M366.7 180.9h0M367.1 194.8h0M364.9 193.2h0M367.9 171.4h0M367.7 183.5h0M368.9 181.2h0M371.1 190.2h0M374.0 189.4h0M372.8 181.9h0M370.2 190.2h0M367.9 193.5h0M365.8 186.5h0M370.4 176.1h0M364.7 151.1h0M364.6 154.6h0M370.9 156.9h0" stroke="#a8062f" stroke-width="1.6" stroke-linecap="round" fill="none"/><path d="M402.7 186.6h0M395.2 193.7h0M400.8 177.9h0M394.8 181.4h0M397.9 192.6h0M396.6 183.8h0M399.7 177.3h0M399.8 185.5h0M402.6 176.6h0M402.0 176.9h0M393.6 193.3h0M394.8 187.0h0M393.4 180.1h0M400.6 174.9h0M396.6 167.3h0M403.4 194.9h0M395.2 185.2h0M403.2 177.4h0M401.1 170.4h0M401.1 162.2h0M399.5 190.9h0M402.5 187.5h0M395.4 191.5h0M402.3 176.1h0M402.4 192.7h0M399.4 171.0h0M400.0 174.6h0M395.4 180.0h0M398.2 195.6h0M399.2 189.5h0M396.3 177.0h0M393.4 193.1h0M403.2 186.6h0M401.6 185.5h0M396.8 175.2h0M398.6 182.1h0M399.3 182.2h0M403.2 188.0h0M398.9 184.6h0M400.7 185.8h0M401.6 177.3h0M394.0 186.1h0M399.2 173.2h0M402.9 194.2h0M401.8 170.7h0M402.9 186.0h0M394.7 171.8h0M401.3 184.0h0M395.9 175.7h0M402.4 165.8h0M401.4 188.7h0M397.0 184.0h0M399.2 186.0h0M398.0 182.8h0M403.1 193.9h0M398.9 186.0h0M393.7 186.6h0M398.7 190.1h0M393.1 186.2h0M394.4 193.6h0M398.2 167.5h0M397.9 180.5h0M393.6 158.0h0M396.6 190.6h0M396.0 192.0h0M396.0 182.1h0M397.7 194.1h0M393.3 182.7h0M393.3 189.6h0M395.4 187.3h0M400.6 182.4h0M403.0 184.3h0M401.1 158.6h0M393.7 178.4h0M401.8 192.6h0M401.8 174.0h0M402.0 192.8h0M400.8 184.0h0M395.7 192.4h0M398.2 190.3h0M397.7 169.0h0M393.3 188.8h0M398.7 189.3h0M395.8 188.8h0M403.2 187.1h0M400.1 166.8h0M401.6 192.1h0M393.2 192.4h0M400.6 179.1h0M401.6 193.8h0M397.9 187.5h0M395.6 171.9h0M398.2 184.7h0M398.8 188.3h0M397.6 189.7h0M396.3 190.8h0M400.1 189.0h0M402.5 183.6h0M395.8 170.2h0M402.4 174.3h0M393.5 188.9h0M400.3 189.8h0M396.6 177.8h0M398.6 194.6h0M396.7 188.1h0M393.8 187.3h0M394.7 191.8h0M403.6 191.3h0M397.4 181.6h0M403.2 194.1h0M398.5 190.9h0M402.6 189.4h0M397.7 184.1h0M403.6 193.0h0M398.1 172.8h0M395.7 187.2h0M394.8 186.9h0M393.7 187.6h0M394.1 189.6h0M400.3 191.3h0M396.8 172.0h0M402.3 183.1h0M395.0 185.8h0M403.0 174.2h0M395.0 189.8h0M395.8 178.8h0M396.6 184.7h0M395.7 190.8h0M397.4 177.3h0M401.6 193.5h0M393.7 178.6h0M395.5 190.8h0M393.5 181.2h0M401.3 168.5h0M394.2 179.6h0M398.4 189.2h0M402.3 185.2h0M396.3 187.7h0M394.1 192.2h0M395.8 191.9h0M403.0 184.7h0M393.9 180.0h0M402.2 194.5h0M394.2 185.6h0M394.7 180.3h0M401.2 184.1h0M399.8 191.5h0M396.4 173.9h0M400.5 192.5h0M394.5 178.8h0M402.4 164.9h0M399.1 195.4h0M403.1 182.9h0M399.3 182.3h0M399.1 183.2h0M402.2 190.3h0M399.2 187.5h0M393.8 193.2h0M399.5 184.0h0M396.1 180.1h0M399.8 189.7h0M403.7 191.1h0M399.5 188.6h0M401.9 185.2h0M396.7 184.7h0M393.0 186.0h0M393.4 184.6h0M393.1 192.9h0M395.3 179.3h0M395.8 168.3h0M396.4 193.3h0M400.0 189.7h0M401.0 182.6h0M401.2 175.3h0M401.0 179.0h0M402.1 170.7h0M400.7 185.6h0M397.9 181.5h0M397.4 181.5h0M393.8 188.3h0M393.0 171.9h0M402.2 179.3h0M394.5 175.0h0M402.2 188.1h0M397.2 174.3h0M393.5 191.8h0M401.9 181.7h0M400.6 196.8h0M403.7 191.6h0M398.8 178.0h0M402.9 188.5h0M398.4 183.8h0M395.7 194.1h0M397.2 166.3h0M400.0 179.6h0M402.5 185.4h0M401.7 181.5h0M403.0 182.4h0M398.7 168.6h0M397.9 183.4h0M398.6 193.5h0M403.0 187.2h0M396.9 170.7h0M393.6 179.9h0M397.1 188.3h0M399.9 179.5h0M401.9 184.3h0M403.1 179.5h0M400.3 194.0h0M401.7 191.0h0M401.7 178.9h0M401.6 186.9h0M399.4 182.2h0M403.1 158.3h0M402.5 187.5h0M393.0 183.2h0M394.2 189.1h0M403.6 189.5h0M400.1 185.8h0M394.4 193.5h0M402.7 195.6h0M393.9 169.5h0M398.7 186.0h0M397.1 173.1h0M396.0 184.2h0M395.5 184.0h0M393.8 178.8h0M397.0 178.3h0M394.0 192.4h0M399.6 171.9h0M396.4 191.4h0M401.2 183.5h0M403.0 184.6h0M402.5 164.2h0M400.9 187.8h0M401.3 179.5h0M393.9 184.8h0M403.4 181.5h0M399.1 190.8h0M398.8 191.1h0M400.2 182.3h0M394.9 193.9h0M398.0 190.7h0M394.2 179.2h0M402.8 189.5h0M398.3 191.0h0M394.3 192.0h0M403.4 184.0h0M399.2 187.9h0M401.1 184.0h0M401.6 186.7h0M400.4 160.6h0M397.7 188.4h0M395.9 195.2h0M393.5 184.3h0M399.6 185.2h0M394.1 183.9h0M396.9 194.0h0M402.5 173.0h0M402.7 185.5h0M401.8 185.6h0M395.0 193.9h0M403.1 180.9h0M394.4 185.7h0M402.8 169.7h0M401.0 188.2h0M403.4 192.6h0M403.5 184.2h0M398.6 191.1h0M396.3 181.5h0M402.8 191.9h0M396.3 186.2h0M396.5 186.9h0M399.0 185.5h0M394.4 188.8h0M397.8 190.5h0M394.4 185.7h0M397.8 189.2h0M402.7 184.0h0M402.8 187.3h0M403.2 195.9h0M400.7 185.7h0M401.0 169.2h0M397.5 182.6h0M402.6 179.7h0M394.3 181.1h0M394.7 188.6h0M394.2 193.0h0M397.3 177.3h0M393.5 174.1h0M400.5 180.0h0M394.9 181.5h0M400.3 181.7h0M399.0 185.4h0M400.4 182.9h0M400.5 185.1h0M401.4 182.4h0M398.1 191.2h0M399.1 189.5h0M395.6 180.0h0M398.3 187.7h0M393.9 196.3h0M403.2 184.2h0M402.9 196.0h0M393.7 159.8h0M393.0 178.3h0M397.2 178.9h0M398.6 189.7h0M398.1 192.0h0M396.5 186.8h0M399.6 185.0h0M397.2 190.3h0M397.3 183.9h0M393.2 178.7h0M399.3 179.7h0M393.8 191.6h0M402.2 195.6h0M398.1 185.2h0M396.7 189.6h0M400.0 181.2h0M402.5 165.1h0M394.7 165.1h0M397.2 182.7h0M403.4 173.5h0M402.2 165.0h0M397.1 184.8h0M396.8 182.9h0M401.7 176.8h0M393.8 185.4h0M394.2 188.6h0M399.1 190.1h0M399.0 185.1h0M399.0 189.4h0M401.2 177.4h0M402.4 187.5h0M397.2 168.1h0M396.4 172.0h0M402.1 192.4h0M395.5 173.8h0M402.4 188.0h0M400.5 169.6h0M402.0 180.5h0M399.8 185.4h0M394.0 178.8h0M400.6 188.9h0M398.3 182.2h0M394.9 181.7h0M394.0 186.2h0M395.7 181.7h0M394.3 191.3h0M394.4 179.9h0M402.0 192.2h0M403.2 179.2h0M403.6 180.8h0M398.9 178.3h0M399.0 188.9h0M393.5 186.7h0M394.2 183.7h0M401.2 190.0h0M399.1 168.4h0M399.0 188.3h0M401.0 174.8h0M401.7 190.9h0M400.6 182.3h0M393.0 187.6h0M398.8 175.5h0M401.9 187.1h0M401.8 190.5h0M403.1 180.9h0M398.5 192.1h0M398.5 191.0h0M393.2 177.4h0M398.4 194.6h0M399.0 177.5h0M402.8 187.8h0M402.5 190.7h0M393.6 182.8h0M394.4 178.9h0M397.0 188.9h0M401.3 186.2h0M394.7 177.0h0M401.3 177.5h0M399.3 185.2h0M402.4 189.9h0M396.6 190.8h0M397.2 188.9h0M393.6 178.3h0M398.5 179.4h0M401.3 182.1h0M398.4 168.8h0M398.5 187.0h0M402.8 187.5h0M401.2 187.5h0M396.3 159.4h0M403.1 195.1h0M400.7 182.2h0M396.2 180.7h0M395.2 184.2h0M400.2 149.7h0M398.4 172.0h0M399.4 177.2h0M394.3 190.5h0M401.2 180.1h0M402.2 187.4h0M397.4 184.3h0M396.2 183.0h0M403.4 188.1h0M403.4 178.7h0M394.2 164.6h0M398.7 173.8h0M397.6 182.8h0M395.9 194.6h0M398.5 173.1h0M400.1 173.2h0M396.9 186.1h0M396.2 188.0h0M402.2 178.3h0M400.0 189.9h0M396.2 176.7h0M394.6 191.3h0M397.1 190.5h0M403.0 184.4h0M401.9 192.9h0M395.2 184.5h0M399.4 179.6h0M393.0 192.3h0M402.7 175.1h0M403.1 188.5h0M395.2 179.4h0M396.6 182.7h0M396.2 187.8h0M394.9 188.2h0M400.3 193.8h0M397.0 189.2h0M393.0 189.7h0M395.3 164.2h0M400.0 173.8h0M400.5 192.5h0M393.1 176.6h0M398.8 182.6h0M399.8 187.3h0M399.8 180.3h0M399.9 176.7h0M401.3 188.5h0M396.5 186.5h0M402.1 183.1h0M397.7 190.8h0M393.6 182.9h0M399.9 185.1h0M396.6 189.1h0M399.8 190.0h0M396.9 181.8h0M398.3 175.6h0M398.9 181.5h0M400.5 190.1h0M396.1 177.1h0M400.1 183.0h0M395.4 178.9h0M401.4 171.8h0M395.4 190.3h0M393.7 185.5h0M393.3 188.6h0M399.4 190.2h0M396.4 157.1h0M399.1 174.8h0M396.3 194.0h0M397.6 180.6h0M402.3 188.3h0M402.9 172.0h0M393.4 183.7h0M403.1 185.8h0M398.4 183.2h0M400.9 181.0h0M402.9 184.2h0M394.9 186.1h0M397.0 185.5h0M402.5 179.7h0M398.5 191.4h0M402.6 184.4h0M402.0 185.4h0M403.7 187.9h0M400.0 177.3h0M393.6 192.1h0M402.6 187.1h0M394.9 190.0h0M394.6 179.4h0M396.9 187.8h0M395.1 184.0h0M394.4 181.0h0M399.8 193.4h0M402.7 180.3h0M395.7 189.5h0M396.9 186.3h0M399.8 185.3h0M396.1 176.4h0M398.2 177.3h0M402.8 161.9h0M394.2 182.9h0M398.7 187.8h0M395.2 188.0h0M401.3 178.2h0M395.1 164.9h0M401.7 181.4h0M397.3 188.5h0M403.0 182.0h0M396.8 182.2h0M398.2 184.1h0M394.1 189.4h0M395.9 196.2h0M397.4 188.2h0M402.5 82.1h0M399.2 109.7h0M401.6 115.5h0M402.1 116.9h0M393.9 125.6h0M396.3 127.9h0M401.9 129.9h0M401.1 137.2h0M399.0 138.7h0M397.3 143.0h0M398.3 144.4h0M393.1 147.1h0M394.3 148.8h0M396.7 150.8h0M394.4 153.2h0M395.4 155.2h0" stroke="#a8062f" stroke-width="1.6" stroke-linecap="round" fill="none"/><path d="M435.0 190.3h0M437.9 182.9h0M435.7 192.5h0M438.6 181.6h0M429.4 178.8h0M436.2 175.3h0M435.7 181.1h0M437.6 167.4h0M431.6 191.8h0M435.5 172.9h0M432.1 189.2h0M437.4 189.7h0M430.1 172.6h0M430.9 183.1h0M439.4 168.8h0M437.2 193.7h0M431.9 182.7h0M432.6 189.1h0M433.9 187.3h0M431.7 195.3h0M430.7 174.9h0M439.7 183.3h0M431.5 191.7h0M437.3 193.3h0M437.0 191.1h0M437.1 167.6h0M432.5 186.0h0M431.6 187.8h0M435.9 180.4h0M440.0 185.1h0M433.4 183.1h0M431.6 177.4h0M434.7 182.1h0M431.3 175.6h0M432.9 192.6h0M437.1 184.6h0M431.8 187.9h0M434.0 184.2h0M436.2 185.5h0M430.9 189.7h0M430.8 187.8h0M439.6 174.6h0M438.6 189.2h0M438.8 192.8h0M435.4 179.2h0M434.6 174.3h0M430.4 187.2h0M431.8 184.0h0M430.4 190.8h0M434.9 186.7h0M433.9 172.2h0M431.1 176.6h0M430.3 183.7h0M435.4 187.2h0M430.7 194.3h0M429.3 182.1h0M431.6 180.6h0M437.9 173.0h0M436.3 154.3h0M434.8 181.5h0M431.6 174.4h0M434.2 192.2h0M429.3 170.6h0M432.7 175.6h0M434.4 168.0h0M430.2 178.1h0M435.5 180.6h0M434.0 165.9h0M429.8 189.8h0M430.8 178.4h0M434.5 172.5h0M438.9 190.5h0M429.8 192.3h0M435.3 180.8h0M432.3 183.9h0M433.4 178.8h0M439.2 178.4h0M436.0 190.3h0M432.3 181.8h0M434.1 171.8h0M439.8 187.7h0M438.6 187.2h0M433.8 192.2h0M434.9 176.2h0M434.2 155.7h0M430.8 193.2h0M439.7 176.9h0M431.7 175.0h0M431.6 189.0h0M430.4 187.8h0M439.4 191.7h0M439.1 190.4h0M436.1 183.4h0M434.9 178.2h0M435.5 183.8h0M433.2 175.6h0M438.8 183.0h0M435.2 192.3h0M438.4 166.2h0M436.7 170.8h0M436.5 189.9h0M436.4 159.7h0M437.6 180.3h0M438.0 183.7h0M436.6 156.3h0M432.7 196.7h0M432.0 194.1h0M431.3 177.4h0M438.4 186.8h0M434.4 191.2h0M429.2 150.2h0M435.7 156.1h0M438.5 158.9h0M439.1 161.0h0" stroke="#a8062f" stroke-width="1.6" stroke-linecap="round" fill="none"/><path d="M461.0 187.6h0M465.6 168.5h0M460.3 175.4h0M467.0 182.4h0M465.4 161.8h0M468.4 178.3h0M461.9 191.8h0M465.5 177.2h0M464.6 181.1h0M465.5 153.7h0M468.3 180.7h0M461.9 182.4h0M460.6 176.2h0M466.8 178.2h0M459.7 190.1h0M464.1 179.5h0M468.1 183.4h0M467.2 162.8h0M465.6 188.6h0M458.3 187.7h0M468.7 187.0h0M463.0 185.8h0M461.2 186.0h0M458.8 180.1h0M459.7 167.8h0M458.6 189.6h0M464.1 190.7h0M462.2 192.0h0M461.3 167.5h0M466.9 164.0h0M459.0 190.7h0M462.7 191.1h0M466.8 179.3h0M467.1 167.7h0M465.8 168.8h0M463.8 178.7h0M459.8 173.3h0M462.4 177.3h0M466.0 185.0h0M466.5 153.1h0M464.7 180.6h0M467.8 188.6h0M464.2 184.4h0M467.3 190.7h0M467.9 180.4h0M459.9 167.6h0M459.7 189.4h0M468.8 167.2h0M461.3 148.9h0M462.9 176.8h0M462.7 188.8h0M467.3 187.0h0M458.2 183.4h0M463.4 189.5h0M463.1 189.3h0M459.2 182.8h0M462.9 182.1h0M467.5 174.2h0M458.7 189.0h0M460.8 153.8h0M464.7 168.1h0M464.0 170.6h0M466.3 185.7h0M461.8 156.5h0M459.4 183.5h0M462.1 155.0h0M467.1 168.0h0M462.8 187.3h0M462.4 184.3h0M466.5 153.8h0M464.4 169.0h0M459.6 181.9h0M462.2 178.6h0M467.9 178.7h0M458.4 186.5h0M466.3 182.3h0M461.4 185.8h0M466.2 184.1h0M459.9 175.8h0M465.2 187.7h0M467.4 172.7h0M458.8 179.5h0M468.4 172.2h0M459.2 170.6h0M458.2 165.3h0M467.0 102.7h0M463.6 136.3h0M458.5 144.4h0M465.2 146.5h0M463.6 150.2h0" stroke="#a8062f" stroke-width="1.6" stroke-linecap="round" fill="none"/><path d="M493.5 152.8h0M488.1 191.2h0M488.8 182.8h0M487.7 187.6h0M491.5 171.3h0M495.4 154.8h0M489.7 185.6h0M496.4 196.7h0M487.7 176.1h0M490.7 176.1h0M489.5 193.4h0M497.3 185.0h0M488.8 183.5h0M496.2 195.5h0M492.6 175.3h0M489.9 178.3h0M491.5 180.5h0M488.4 190.5h0M493.6 188.5h0M494.2 188.0h0M491.8 177.8h0M495.6 190.1h0M495.3 162.4h0M494.3 179.0h0M495.1 195.1h0M491.6 157.8h0M488.7 181.4h0M492.7 187.4h0M492.0 181.9h0M488.6 194.0h0M494.5 181.1h0M491.8 195.9h0M494.3 190.4h0M489.1 164.6h0M489.5 166.3h0M488.0 185.9h0M496.8 190.1h0M494.5 171.7h0M490.3 183.4h0M487.6 180.9h0M490.6 176.0h0M495.4 190.7h0M496.7 173.8h0M488.8 195.0h0M497.0 162.5h0M489.2 193.0h0M487.4 188.0h0M488.4 188.3h0M487.2 174.7h0M489.6 174.5h0M495.3 179.3h0M492.2 177.1h0M495.6 178.0h0M488.0 183.7h0M495.1 194.3h0M488.5 195.6h0M490.5 195.6h0M497.1 183.5h0M494.9 185.0h0M494.9 184.3h0M494.0 180.8h0M491.0 185.1h0M493.8 190.3h0M491.6 192.8h0M495.5 194.3h0M494.3 167.2h0M496.6 172.2h0M496.0 192.1h0M496.1 185.5h0M488.0 178.4h0M487.2 159.9h0M491.1 187.9h0M497.2 181.4h0M493.5 168.2h0M493.2 193.8h0M495.9 188.8h0M493.8 183.5h0M488.2 188.7h0M492.1 172.9h0M496.4 181.2h0M495.7 190.2h0M487.7 172.9h0M497.8 176.1h0M492.6 187.3h0M490.1 186.7h0M491.7 192.7h0M497.2 183.8h0M496.7 172.9h0M490.8 170.9h0M493.9 176.8h0M487.8 173.5h0M495.6 187.9h0M487.8 187.0h0M494.7 167.5h0M490.4 178.4h0M488.6 189.2h0M488.6 177.8h0M497.5 173.5h0M489.4 175.2h0M492.1 182.1h0M488.7 187.4h0M492.3 179.0h0M495.9 157.8h0M489.7 181.7h0M494.7 188.4h0M490.8 179.7h0M488.3 191.6h0M495.8 180.9h0M490.7 185.7h0M493.9 171.6h0M497.3 182.2h0M494.8 170.2h0M490.6 185.1h0M493.6 189.5h0M495.1 178.4h0M489.3 184.0h0M497.3 181.8h0M489.5 188.0h0M487.4 177.2h0M492.7 182.5h0M492.1 195.2h0M488.7 185.2h0M492.2 179.8h0M489.9 168.1h0M495.8 187.8h0M492.3 189.3h0M492.7 168.6h0M488.6 188.0h0M497.2 182.2h0M489.7 178.2h0M493.3 174.9h0M495.4 183.1h0M492.6 191.0h0M490.5 170.9h0M493.9 186.8h0M494.7 187.4h0M488.5 150.6h0M489.8 172.9h0M489.0 190.7h0M487.2 187.1h0M493.7 185.3h0M497.8 188.9h0M489.9 194.4h0M497.1 174.0h0M491.2 174.4h0M496.9 180.8h0M488.0 186.6h0M490.4 181.1h0M496.1 176.2h0M496.8 190.6h0M495.7 186.0h0M494.4 187.7h0M490.4 175.5h0M497.6 180.6h0M493.2 191.9h0M495.8 188.1h0M491.3 156.6h0M497.1 190.3h0M493.7 181.8h0M494.7 188.2h0M488.5 167.1h0M491.5 183.8h0M488.0 186.8h0M490.8 191.3h0M493.1 185.4h0M490.1 173.7h0M487.1 175.9h0M491.7 192.1h0M495.2 161.2h0M491.1 185.4h0M495.4 190.7h0M491.2 182.0h0M492.9 188.1h0M490.3 187.9h0M487.9 188.2h0M495.4 184.1h0M492.5 187.3h0M495.6 193.7h0M495.5 177.8h0M495.4 187.5h0M491.1 168.1h0M490.2 177.6h0M489.4 176.6h0M492.1 181.5h0M493.5 166.4h0M496.3 186.0h0M497.8 190.4h0M494.9 179.8h0M493.1 196.7h0M490.1 186.4h0M493.3 181.2h0M490.1 186.7h0M496.4 167.1h0M489.5 175.6h0M491.4 182.2h0M489.4 186.6h0M489.4 169.9h0M495.3 188.5h0M489.2 186.7h0M490.5 175.0h0M487.5 177.0h0M496.8 150.5h0M496.7 185.2h0M491.1 194.3h0M496.9 176.2h0M489.5 167.2h0M489.7 184.8h0M493.0 161.5h0M489.3 156.7h0M496.8 188.5h0M497.5 187.2h0M488.3 191.7h0M491.8 177.6h0M491.6 175.4h0M497.7 176.9h0M497.6 191.7h0M487.7 189.1h0M497.3 192.6h0M494.0 193.3h0M492.1 192.2h0M491.7 193.2h0M496.2 184.9h0M488.4 179.1h0M491.3 176.7h0M488.1 183.5h0M491.3 188.5h0M495.6 183.5h0M496.0 177.4h0M488.5 185.9h0M489.7 182.9h0M494.6 185.9h0M488.9 187.5h0M487.5 183.1h0M496.4 191.1h0M487.3 170.7h0M496.6 193.1h0M493.5 178.7h0M491.3 192.3h0M490.2 162.7h0M491.2 173.5h0M496.7 189.4h0M493.3 187.0h0M488.6 191.1h0M493.1 183.9h0M490.4 179.2h0M496.7 192.3h0M488.7 167.7h0M492.3 188.0h0M487.3 180.7h0M489.8 173.3h0M494.7 177.7h0M493.6 179.1h0M496.9 185.1h0M488.7 183.5h0M492.0 182.0h0M488.1 168.4h0M494.5 192.7h0M488.1 187.3h0M497.0 191.7h0M492.3 190.3h0M492.8 189.3h0M491.0 170.1h0M491.3 165.7h0M496.4 191.4h0M495.2 182.7h0M491.2 191.2h0M495.8 178.9h0M491.1 167.2h0M487.9 177.2h0M489.5 173.5h0M491.6 184.7h0M491.8 194.6h0M488.9 194.6h0M494.6 184.3h0M489.6 177.4h0M494.0 167.2h0M492.7 186.3h0M494.0 182.7h0M496.6 180.9h0M494.7 170.6h0M493.6 184.0h0M494.4 191.0h0M492.6 170.3h0M497.7 179.3h0M495.8 179.6h0M488.7 191.8h0M488.7 183.5h0M491.7 193.7h0M497.0 194.7h0M488.5 185.4h0M489.6 186.9h0M497.8 177.5h0M495.1 164.1h0M492.9 183.7h0M488.8 157.0h0M487.3 188.0h0M490.6 175.0h0M489.1 191.8h0M496.5 182.2h0M492.6 186.0h0M492.5 185.2h0M493.6 177.2h0M492.3 194.3h0M489.6 182.3h0M494.9 189.4h0M495.0 182.3h0M496.8 179.5h0M492.3 186.5h0M488.4 186.5h0M497.4 191.3h0M487.2 177.7h0M488.7 188.5h0M494.6 178.9h0M496.3 192.5h0M497.2 165.5h0M493.4 190.6h0M490.0 169.2h0M487.3 187.0h0M494.9 177.7h0M493.9 184.7h0M488.3 176.1h0M495.1 183.4h0M497.3 167.3h0M489.0 176.2h0M493.5 176.0h0M491.5 159.6h0M493.6 188.7h0M488.3 166.7h0M496.7 182.7h0M490.2 192.8h0M493.9 178.5h0M489.5 185.1h0M488.9 159.2h0M497.4 187.3h0M489.8 183.0h0M497.3 181.2h0M496.3 194.4h0M493.0 178.2h0M493.1 190.4h0M487.3 164.8h0M495.3 159.7h0M494.4 183.5h0M493.3 193.2h0M495.8 181.7h0M492.1 181.7h0M491.1 175.5h0M495.0 185.9h0M492.3 191.4h0M493.5 184.6h0M488.6 190.0h0M489.2 157.4h0M489.0 188.7h0M495.7 188.4h0M497.7 183.8h0M497.5 191.7h0M493.0 187.0h0M495.5 184.6h0M488.3 187.3h0M490.6 185.5h0M497.1 167.8h0M490.2 179.0h0M488.7 192.1h0M491.7 186.9h0M495.3 175.2h0M497.7 188.4h0M487.3 182.6h0M493.9 183.7h0M496.1 177.9h0M495.8 184.9h0M496.9 184.6h0M494.0 189.7h0M496.2 179.8h0M491.3 190.1h0M493.4 158.3h0M492.9 183.6h0M491.8 185.3h0M491.8 174.7h0M494.6 184.1h0M488.6 182.6h0M496.0 183.9h0M494.7 188.9h0M489.2 190.0h0M490.8 188.7h0M496.1 169.6h0M491.6 188.2h0M496.2 186.7h0M491.3 187.0h0M497.7 175.8h0M491.2 152.5h0M497.6 190.0h0M491.2 177.7h0M491.5 182.3h0M488.9 185.9h0M495.5 178.2h0M487.8 191.8h0M495.4 174.1h0M492.4 181.3h0M496.3 190.4h0M493.7 161.2h0M497.2 173.8h0M492.6 169.1h0M489.4 192.6h0M497.0 185.7h0M496.7 187.5h0M496.1 176.8h0M493.5 165.8h0M489.8 194.4h0M487.2 183.2h0M495.8 184.5h0M494.1 171.7h0M491.8 183.8h0M492.5 191.8h0M495.5 185.1h0M489.5 190.6h0M487.2 189.2h0M488.0 183.0h0M497.7 187.2h0M489.3 180.7h0M497.6 192.9h0M487.3 167.5h0M494.3 175.6h0M492.7 191.9h0M492.3 195.2h0M487.0 189.7h0M493.1 185.4h0M493.7 166.7h0M496.0 187.5h0M496.0 168.4h0M495.8 168.1h0M487.6 183.3h0M496.5 168.2h0M492.7 180.2h0M496.4 188.4h0M496.8 191.3h0M487.9 184.5h0M491.4 171.7h0M492.5 192.2h0M493.5 193.3h0M497.1 177.7h0M487.4 196.6h0M493.5 156.4h0M492.3 186.9h0M488.4 175.4h0M494.4 155.5h0M494.9 192.6h0M488.2 190.7h0M488.1 185.8h0M492.3 184.5h0M497.3 181.2h0M496.0 170.8h0M494.2 166.4h0M491.3 182.4h0M497.3 186.2h0M492.1 183.7h0M488.5 180.5h0M493.5 166.6h0M488.0 182.1h0M496.3 156.4h0M492.4 189.6h0M495.0 177.9h0M496.2 157.9h0M495.5 167.0h0M495.5 180.1h0M495.5 189.8h0M491.2 188.8h0M487.3 184.8h0M489.7 180.4h0M494.0 185.5h0M490.4 192.6h0M497.7 188.9h0M490.4 178.1h0M494.7 174.0h0M488.3 192.4h0M491.9 186.4h0M495.7 193.5h0M496.8 187.8h0M487.8 182.8h0M495.7 186.2h0M497.4 188.0h0M487.3 191.5h0M495.8 194.2h0M487.5 183.8h0M494.3 185.7h0M497.7 163.6h0M487.9 193.4h0M495.1 179.0h0M488.2 166.1h0M493.3 194.5h0M490.7 176.4h0M493.0 193.3h0M495.2 178.0h0M489.1 163.6h0M490.2 183.4h0M488.2 180.6h0M491.4 188.6h0M487.9 180.6h0M487.3 169.6h0M494.9 185.0h0M494.6 184.6h0M487.3 179.5h0M494.1 174.2h0M494.3 193.4h0M490.7 182.9h0M490.2 188.6h0M489.5 178.3h0M493.5 171.1h0M488.4 180.4h0M492.9 166.9h0M491.4 190.4h0M492.5 186.7h0M495.2 86.5h0M489.4 97.2h0M490.4 121.2h0M492.2 124.7h0M490.5 127.0h0M494.4 131.4h0M488.5 133.7h0M496.9 137.2h0M497.2 138.9h0M488.4 141.6h0M492.3 143.6h0M490.7 145.9h0M490.7 147.6h0M489.2 150.2h0M492.8 152.3h0M495.7 154.6h0" stroke="#a8062f" stroke-width="1.6" stroke-linecap="round" fill="none"/><line x1="56.00" y1="77.00" x2="56.00" y2="202.90" stroke="#000" stroke-width="1.5" /><line x1="55.30" y1="202.50" x2="161.30" y2="202.50" stroke="#000" stroke-width="1.5" /><line x1="163.20" y1="202.50" x2="268.30" y2="202.50" stroke="#000" stroke-width="1.5" /><line x1="323.60" y1="76.50" x2="323.60" y2="203.00" stroke="#000" stroke-width="1.5" /><line x1="323.00" y1="202.60" x2="414.90" y2="202.60" stroke="#000" stroke-width="1.5" /><line x1="417.60" y1="202.60" x2="509.50" y2="202.60" stroke="#000" stroke-width="1.5" /><line x1="52.30" y1="201.50" x2="55.50" y2="201.50" stroke="#222" stroke-width="1.0" /><text x="49.30" y="204.30" font-size="9.8" fill="#222" text-anchor="end" stroke="#222" stroke-width="0.1">0</text><line x1="320.00" y1="201.50" x2="323.20" y2="201.50" stroke="#222" stroke-width="1.0" /><text x="317.00" y="203.70" font-size="9.8" fill="#222" text-anchor="end" stroke="#222" stroke-width="0.1">0</text><line x1="52.30" y1="172.50" x2="55.50" y2="172.50" stroke="#222" stroke-width="1.0" /><text x="49.30" y="175.30" font-size="9.8" fill="#222" text-anchor="end" stroke="#222" stroke-width="0.1">10</text><line x1="320.00" y1="172.50" x2="323.20" y2="172.50" stroke="#222" stroke-width="1.0" /><text x="317.00" y="174.70" font-size="9.8" fill="#222" text-anchor="end" stroke="#222" stroke-width="0.1">10</text><line x1="52.30" y1="143.50" x2="55.50" y2="143.50" stroke="#222" stroke-width="1.0" /><text x="49.30" y="146.30" font-size="9.8" fill="#222" text-anchor="end" stroke="#222" stroke-width="0.1">20</text><line x1="320.00" y1="143.50" x2="323.20" y2="143.50" stroke="#222" stroke-width="1.0" /><text x="317.00" y="145.70" font-size="9.8" fill="#222" text-anchor="end" stroke="#222" stroke-width="0.1">20</text><line x1="52.30" y1="114.50" x2="55.50" y2="114.50" stroke="#222" stroke-width="1.0" /><text x="49.30" y="117.30" font-size="9.8" fill="#222" text-anchor="end" stroke="#222" stroke-width="0.1">30</text><line x1="320.00" y1="114.50" x2="323.20" y2="114.50" stroke="#222" stroke-width="1.0" /><text x="317.00" y="116.70" font-size="9.8" fill="#222" text-anchor="end" stroke="#222" stroke-width="0.1">30</text><line x1="52.30" y1="85.50" x2="55.50" y2="85.50" stroke="#222" stroke-width="1.0" /><text x="49.30" y="88.30" font-size="9.8" fill="#222" text-anchor="end" stroke="#222" stroke-width="0.1">40</text><line x1="320.00" y1="85.50" x2="323.20" y2="85.50" stroke="#222" stroke-width="1.0" /><text x="317.00" y="87.70" font-size="9.8" fill="#222" text-anchor="end" stroke="#222" stroke-width="0.1">40</text><line x1="70.50" y1="202.80" x2="70.50" y2="205.60" stroke="#222" stroke-width="1.0" /><line x1="95.50" y1="202.80" x2="95.50" y2="205.60" stroke="#222" stroke-width="1.0" /><line x1="120.50" y1="202.80" x2="120.50" y2="205.60" stroke="#222" stroke-width="1.0" /><line x1="145.50" y1="202.80" x2="145.50" y2="205.60" stroke="#222" stroke-width="1.0" /><line x1="178.50" y1="202.80" x2="178.50" y2="205.60" stroke="#222" stroke-width="1.0" /><line x1="203.50" y1="202.80" x2="203.50" y2="205.60" stroke="#222" stroke-width="1.0" /><line x1="228.50" y1="202.80" x2="228.50" y2="205.60" stroke="#222" stroke-width="1.0" /><line x1="253.50" y1="202.80" x2="253.50" y2="205.60" stroke="#222" stroke-width="1.0" /><line x1="340.50" y1="203.00" x2="340.50" y2="205.80" stroke="#222" stroke-width="1.0" /><line x1="369.50" y1="203.00" x2="369.50" y2="205.80" stroke="#222" stroke-width="1.0" /><line x1="398.50" y1="203.00" x2="398.50" y2="205.80" stroke="#222" stroke-width="1.0" /><line x1="434.50" y1="203.00" x2="434.50" y2="205.80" stroke="#222" stroke-width="1.0" /><line x1="463.50" y1="203.00" x2="463.50" y2="205.80" stroke="#222" stroke-width="1.0" /><line x1="492.50" y1="203.00" x2="492.50" y2="205.80" stroke="#222" stroke-width="1.0" /><text x="0.00" y="0.00" font-size="9.3" fill="#222" text-anchor="end" transform="translate(75.50,214.40) rotate(-45)">BOTH</text><text x="0.00" y="0.00" font-size="9.3" fill="#222" text-anchor="end" transform="translate(100.60,214.40) rotate(-45)">KRAS</text><text x="0.00" y="0.00" font-size="9.3" fill="#222" text-anchor="end" transform="translate(125.60,214.40) rotate(-45)">NRAS</text><text x="0.00" y="0.00" font-size="9.3" fill="#222" text-anchor="end" transform="translate(150.50,214.40) rotate(-45)">WT</text><text x="0.00" y="0.00" font-size="9.3" fill="#222" text-anchor="end" transform="translate(183.20,214.40) rotate(-45)">BOTH</text><text x="0.00" y="0.00" font-size="9.3" fill="#222" text-anchor="end" transform="translate(208.20,214.40) rotate(-45)">KRAS</text><text x="0.00" y="0.00" font-size="9.3" fill="#222" text-anchor="end" transform="translate(233.10,214.40) rotate(-45)">NRAS</text><text x="0.00" y="0.00" font-size="9.3" fill="#222" text-anchor="end" transform="translate(257.90,214.40) rotate(-45)">WT</text><text x="328.30" y="217.80" font-size="10.0" fill="#222" textLength="24.60" lengthAdjust="spacingAndGlyphs" >KRAS</text><text x="356.40" y="217.80" font-size="10.0" fill="#222" textLength="26.00" lengthAdjust="spacingAndGlyphs" >NRAS</text><text x="391.30" y="217.80" font-size="10.0" fill="#222" textLength="14.00" lengthAdjust="spacingAndGlyphs" >WT</text><text x="422.30" y="217.80" font-size="10.0" fill="#222" textLength="24.60" lengthAdjust="spacingAndGlyphs" >KRAS</text><text x="450.50" y="217.80" font-size="10.0" fill="#222" textLength="26.00" lengthAdjust="spacingAndGlyphs" >NRAS</text><text x="485.40" y="217.80" font-size="10.0" fill="#222" textLength="14.00" lengthAdjust="spacingAndGlyphs" >WT</text><rect x="55.50" y="43.50" width="105.75" height="10.25" fill="#fff" stroke="#1a1a1a" stroke-width="1.1"/><text x="108.38" y="51.45" font-size="8.7" fill="#1a1a1a" text-anchor="middle" >KRAS</text><rect x="163.25" y="43.50" width="105.00" height="10.25" fill="#fff" stroke="#1a1a1a" stroke-width="1.1"/><text x="215.75" y="51.45" font-size="8.7" fill="#1a1a1a" text-anchor="middle" >NRAS</text><rect x="323.00" y="45.60" width="92.40" height="10.30" fill="#fff" stroke="#1a1a1a" stroke-width="1.1"/><text x="369.20" y="53.60" font-size="8.7" fill="#1a1a1a" text-anchor="middle" >KRAS</text><rect x="417.50" y="45.60" width="92.30" height="10.30" fill="#fff" stroke="#1a1a1a" stroke-width="1.1"/><text x="463.65" y="53.60" font-size="8.7" fill="#1a1a1a" text-anchor="middle" >NRAS</text><text x="124.90" y="36.60" font-size="11" textLength="73.80" lengthAdjust="spacingAndGlyphs" >VAF Cutoff = 0</text><text x="375.50" y="38.90" font-size="11" textLength="82.00" lengthAdjust="spacingAndGlyphs" >VAF Cutoff = 0.3</text><text x="97.60" y="62.90" font-size="7.0" fill="#222" textLength="24.20" lengthAdjust="spacingAndGlyphs" >0.0495</text><line x1="97.50" y1="64.50" x2="121.80" y2="64.50" stroke="#222" stroke-width="1.0" /><text x="72.80" y="74.40" font-size="7.0" fill="#222" textLength="20.20" lengthAdjust="spacingAndGlyphs" >0.499</text><line x1="72.10" y1="76.50" x2="94.00" y2="76.50" stroke="#222" stroke-width="1.0" /><text x="113.50" y="74.40" font-size="7.0" fill="#222" textLength="19.80" lengthAdjust="spacingAndGlyphs" >0.804</text><line x1="98.50" y1="76.50" x2="148.80" y2="76.50" stroke="#222" stroke-width="1.0" /><text x="201.40" y="63.10" font-size="7.0" fill="#222" textLength="26.00" lengthAdjust="spacingAndGlyphs" >3.87e-5</text><line x1="203.00" y1="64.50" x2="225.80" y2="64.50" stroke="#222" stroke-width="1.0" /><text x="191.80" y="74.60" font-size="7.0" fill="#222" textLength="19.80" lengthAdjust="spacingAndGlyphs" >0.359</text><line x1="177.30" y1="76.50" x2="226.70" y2="76.50" stroke="#222" stroke-width="1.0" /><text x="231.20" y="74.60" font-size="7.0" fill="#222" textLength="23.10" lengthAdjust="spacingAndGlyphs" >0.0517</text><line x1="231.90" y1="76.50" x2="254.00" y2="76.50" stroke="#222" stroke-width="1.0" /><text x="340.50" y="64.50" font-size="7.0" fill="#222" textLength="24.90" lengthAdjust="spacingAndGlyphs" >0.0429</text><line x1="340.00" y1="66.50" x2="365.80" y2="66.50" stroke="#222" stroke-width="1.0" /><text x="372.00" y="64.50" font-size="7.0" fill="#222" textLength="24.10" lengthAdjust="spacingAndGlyphs" >0.0500</text><line x1="372.30" y1="66.50" x2="396.20" y2="66.50" stroke="#222" stroke-width="1.0" /><text x="358.20" y="75.80" font-size="7.0" fill="#222" textLength="20.10" lengthAdjust="spacingAndGlyphs" >0.395</text><line x1="340.00" y1="77.50" x2="396.90" y2="77.50" stroke="#222" stroke-width="1.0" /><text x="432.80" y="64.70" font-size="7.0" fill="#222" textLength="28.30" lengthAdjust="spacingAndGlyphs" >0.00305</text><line x1="434.00" y1="66.50" x2="460.10" y2="66.50" stroke="#222" stroke-width="1.0" /><text x="465.90" y="64.70" font-size="7.0" fill="#222" textLength="24.30" lengthAdjust="spacingAndGlyphs" >0.0844</text><line x1="466.50" y1="66.50" x2="489.90" y2="66.50" stroke="#222" stroke-width="1.0" /><text x="450.30" y="75.10" font-size="7.0" fill="#222" textLength="24.30" lengthAdjust="spacingAndGlyphs" >0.0225</text><line x1="434.00" y1="76.50" x2="491.30" y2="76.50" stroke="#222" stroke-width="1.0" /><text x="0" y="0" font-size="10" fill="#111" stroke="#111" stroke-width="0.25" text-anchor="middle" textLength="80.4" lengthAdjust="spacingAndGlyphs" transform="translate(32.60,140.00) rotate(-90)"><tspan>Gene expression (TPM)</tspan></text><text x="0" y="0" font-size="10" fill="#111" stroke="#111" stroke-width="0.25" text-anchor="middle" textLength="80.4" lengthAdjust="spacingAndGlyphs" transform="translate(299.20,140.00) rotate(-90)"><tspan>Gene expression (TPM)</tspan></text><text x="162.60" y="245.30" font-size="10" fill="#111" stroke="#111" stroke-width="0.25" text-anchor="middle" textLength="71.5" lengthAdjust="spacingAndGlyphs"><tspan font-style="italic">RAS</tspan><tspan> mutation status</tspan></text><text x="416.40" y="232.90" font-size="10" fill="#111" stroke="#111" stroke-width="0.25" text-anchor="middle" textLength="71.5" lengthAdjust="spacingAndGlyphs"><tspan font-style="italic">RAS</tspan><tspan> mutation status</tspan></text><clipPath id="cBL"><rect x="55.9" y="292.1" width="193.9" height="147.0"/></clipPath><g clip-path="url(#cBL)"><path transform="scale(0.5)" d="M306 694h0m156-51h0m-157 57h0m33-17h0m-2 14h0m53-8h0m62-86h0m-66 80h0m45-41h0m-153 87h0m-7 7h0m102-34h0m64-25h0m-140 11h0m52-9h0m-24 62h0m-77 20h0m35-36h0m114-50h0m-22-13h0m134-34h0m-142 72h0m-60-34h0m-13 99h0m96-125h0m-50 68h0m91-46h0m-135 119h0m-9-64h0m65-21h0m-13 4h0m67-63h0m50-10h0m-71-11h0m-15 113h0m-170-9h0m222-53h0m-174 49h0m45 32h0m74-12h0m-39-53h0m-25 60h0m41-51h0m25 0h0m39 3h0m-141 115h0m121-149h0m-30-32h0m20 28h0m14 31h0m-141 37h0m93-64h0m67-39h0m-143 152h0m142-95h0m-64 37h0m-9-24h0m-32 34h0m132-40h0m-101 33h0m54 52h0m-127-33h0m116 42h0m-92-25h0m77-87h0m-41 12h0m99-44h0m-135 142h0m52-74h0m28 28h0m-137 16h0m102-44h0m39-21h0m0 3h0m6 0h0m-24 31h0m120-92h0m-92 40h0m-47 95h0m41-85h0m-39 23h0m57-36h0m-58 72h0m-31 14h0m-45-11h0m191-117h0m-74 68h0m-13-11h0m-140 70h0m58 25h0m67-80h0m-60 19h0m53 45h0m-82-4h0m68-51h0m66-9h0m-35-28h0m-89 39h0m91-5h0m-13-32h0m-11 88h0m78-73h0m-178 66h0m140-29h0m-4-1h0m28-71h0m-50 97h0m-64-35h0m-16 11h0m102-72h0m26 34h0m-107 41h0m1-15h0m114-9h0m109-104h0m-57 7h0m-181 168h0m71-11h0m-68 1h0m74-88h0m-41 40h0m83 4h0m-39-54h0m72-16h0m-157 112h0m86-53h0m-33 27h0m17-13h0m-39 4h0m101-108h0m-100 74h0m157-57h0m1 29h0m-25-49h0m-169 156h0m66-59h0m16 14h0m40-74h0m-75 61h0m-15-3h0m230-167h0m-178 148h0m-117 24h0m84-7h0m31-9h0m-112 66h0m-4 23h0m139-104h0m-56 23h0m144-113h0m-136 141h0m-38 21h0m55-48h0m-49 55h0m62-40h0m-18-14h0m-77 29h0m38-44h0m100-46h0m-85 53h0m18 46h0m109-103h0m-52 7h0m9 9h0m-51 81h0m32-38h0m57-58h0m8 19h0m-72-10h0m-79 84h0m58-38h0m-20 10h0m57-25h0m-94 15h0m19 29h0m63-40h0m-21 11h0m78-31h0m-43 41h0m121-81h0m-138 73h0m48 0h0m-140 36h0m93-16h0m82-81h0m-97 50h0m-19 35h0m92-107h0m12 42h0m13-19h0m-130 63h0m53-58h0m-96 66h0m24-25h0m2 48h0m161-107h0m-96 66h0m3 27h0m-166 87h0m165-76h0m-34-23h0m33-8h0m1 1h0m-93 91h0m81-132h0m92-47h0m-42 63h0m-10-17h0m-102 75h0m68-30h0m141-104h0m-293 183h0m-54 15h0m210-86h0m-39 23h0m16-25h0m3-41h0m29 43h0m-9-55h0m-62 25h0m124 14h0m-171 80h0m76-51h0m50-28h0m-53-11h0m56 21h0m1-34h0m-89-6h0m207-34h0m-192 77h0m52-6h0m-42 44h0m19-26h0m-164 73h0m102-55h0m61 10h0m-26-50h0m10-25h0m78-6h0m-27 19h0m-70 57h0m93-46h0m-15-2h0m-161 108h0m223-122h0m-22-5h0m-128 42h0m69-57h0m2 81h0m83-111h0m-154 86h0m46-32h0m-58 59h0m3-12h0m-110 65h0m99-42h0m-73 2h0m201-73h0m-52 10h0m9 15h0m-61 48h0m48-107h0m-39 106h0m-54-48h0m171-115h0m-52 85h0m35 6h0m-77 45h0m135-105h0m3 26h0m-268 132h0m184-110h0m-13 9h0m42-41h0m-75 54h0m-10 38h0m30-74h0m23 47h0m-156 41h0m60-23h0m55-13h0m-53 28h0m-8-2h0m83-37h0m49-35h0m-158 48h0m52 60h0m-80-26h0m58-14h0m36-33h0m56 10h0m9-75h0m-101 82h0m61-52h0m133-24h0m-166 75h0m66-6h0m21-50h0m-118 45h0m76-24h0m-18 38h0m11-78h0m38 13h0m-36 96h0m24-68h0m-19 23h0m34-1h0m-60-17h0m99-12h0m-125 42h0m-21-11h0m163-52h0m-77 4h0m19-29h0m3 13h0m-38 27h0m55 0h0m50-33h0m-51 47h0m-85-8h0m-49 13h0m76-7h0m-154 89h0m236-151h0m-46 53h0m-73 43h0m-9-42h0m57 21h0m-98 83h0m49-28h0m53-22h0m74-88h0m-131 76h0m139-49h0m-53 34h0m-5-36h0m-150 95h0m85-40h0m5 17h0m58-77h0m-1 17h0m-29 20h0m-85 42h0m12-8h0m133-105h0m-45 43h0m34 19h0m24-52h0m-54 45h0m-29 50h0m68-37h0m-84-20h0m59 32h0m19-33h0m-87 80h0m65-117h0m-55 53h0m-42 80h0m-63-35h0m167-58h0m-47 0h0m67-9h0m-60 67h0m-54 16h0m99-112h0m-185 178h0m14-85h0m196-80h0m-168 67h0m25 21h0m42-40h0m-25 19h0m73 13h0m61-75h0m-39 57h0m-45-28h0m-9 25h0m174-121h0m-18 13h0m-179 108h0m70-63h0m-151 79h0m196-72h0m-60 57h0m-37 21h0m23-48h0m-75 98h0m12-56h0m140-87h0m-159 81h0m11-18h0m103-20h0m-22 27h0m-8 31h0m-109 56h0m33-44h0m62-93h0m31 73h0m-68 40h0m23-27h0m2-54h0m-47 37h0m68-87h0m94-5h0m-94 93h0m-12 9h0m-42 22h0m81-85h0m-112 33h0m166-42h0m-26-6h0m-1 3h0m98-48h0m-12-11h0m-65 15h0m-72 79h0m-55 69h0m101-98h0m-72 49h0m-18 20h0m80-28h0m-90-28h0m127 6h0m53-61h0m-226 200h0m104-136h0m-58 29h0m73-25h0m-77 52h0m210-125h0m-132 83h0m-55 9h0m53-4h0m-147 81h0m200-137h0m-91 77h0m34-72h0m142 35h0m-159-12h0m-92 57h0m98-37h0m-6-4h0m55-31h0m35 22h0m-110 59h0m11 3h0m-89-49h0m-40 111h0m50-3h0m70-114h0m-18-24h0m-31 83h0m65-95h0m-55 64h0m28 24h0m17-38h0m-46 16h0m1 3h0m82-78h0m-49 115h0m-43-57h0m-31 89h0m73-117h0m-192 134h0m84-74h0m198-85h0m-122 67h0m102-53h0m10 15h0m-43-44h0m-12 64h0m-40 13h0m99-42h0m25-35h0m-82 63h0m1-45h0m-28 7h0m-12 114h0m1-107h0m25 58h0m16-68h0m-71 74h0m8 43h0m49-81h0m98-44h0m-154 48h0m8 66h0m-61-38h0m23-27h0m154-25h0m-179 104h0m32-87h0m67 11h0m-5-57h0m64 68h0m-26-12h0m-86-24h0m43 75h0m96-78h0m-98 26h0m158-76h0m-266 157h0m114-52h0m32-15h0m12-10h0m-95 66h0m116-90h0m-80 7h0m-36 84h0m-25-47h0m86-20h0m67-41h0m-80 79h0m-58-2h0m92-16h0m-26-46h0m-7-11h0m-6 58h0m-9 63h0m25-86h0m28 16h0m143-112h0m-150 115h0m43-21h0m-86 10h0m-59 39h0m8-20h0m102-35h0m32 6h0m-4-51h0m27 5h0m-29 47h0m-11-95h0m29 72h0m56-23h0m-111 5h0m-42 60h0m30-16h0m-40 13h0m8-9h0m109-84h0m-67 162h0m-88-69h0m24-13h0m-12 33h0m150-85h0m16 2h0m-195 71h0m229-95h0m65-29h0m-159 36h0m-17 44h0m55-60h0m-11 48h0m-65 4h0m-66 62h0m219-39h0m-184 4h0m74-53h0m34-9h0m-56 25h0m110 10h0m-79 55h0m-84-38h0m87-37h0m62-42h0m-128 116h0m-68-37h0m157-34h0m-189 64h0m36 4h0m67-21h0m52-63h0m67-37h0m-8 7h0m-74 109h0m60-45h0m-138 94h0m191-124h0m-199 96h0m-5-12h0m89-34h0m32-23h0m-119 34h0m49-15h0m119-53h0m-67 30h0m-100 95h0m148-123h0m-68 28h0m94-37h0m-50 67h0m-75 1h0m-26 0h0m72 6h0m9 6h0m8-34h0m-111-1h0m-12 81h0m84-46h0m25-1h0m6-68h0m-30-16h0m49 19h0m17 28h0m-42 42h0m-153 58h0m101-48h0m7-33h0m23 36h0m-47 14h0m-81 33h0m125-94h0m-118 143h0m40-110h0m-29 31h0m-43 33h0m53-42h0m5 34h0m-51 51h0m-64 25h0m65-33h0m10-82h0m57 18h0m-61 6h0m-62 81h0m63-60h0m33-2h0m-48 16h0m63-57h0m-49 59h0m67-41h0m-76 32h0m66 2h0m-103 35h0m26-10h0m63-41h0m-65 42h0m42-87h0m-59 84h0m-10 17h0m45-1h0m-63 2h0m73-48h0m61-39h0m-62 89h0m39-64h0m-104 89h0m93-138h0m25 55h0m10-20h0m-8-20h0m-24 29h0m34-24h0m-38 32h0m18-27h0m4 42h0m-136 71h0m122-100h0m15-10h0m-74 71h0m56-55h0m7-39h0m-135 137h0m53-78h0m87 16h0m-88-12h0m59 38h0m30-79h0m30 30h0m-92 19h0m-23 3h0m29-17h0m47-38h0m38 30h0m-9-21h0m-139 104h0m125-105h0m-45 71h0m-33-9h0m70-38h0m13-44h0m-106 41h0m97-33h0m-12-23h0m45 51h0m-129 30h0m72-5h0m-20 6h0m23-27h0m25-18h0m-4 0h0m-35 41h0m1-16h0m-42 4h0m54 18h0m3-37h0m-62 52h0m-16 9h0m44-66h0m-44 41h0m48-2h0m-6 18h0m41-78h0m4-8h0m-40 74h0m-45-5h0m114-14h0m-124 55h0m77-56h0m41 1h0m-49-9h0m20-48h0m27 51h0m-77 16h0m-55 22h0m131-44h0m-130 53h0m107-70h0m-62 68h0m-17 10h0m112-44h0m-70-2h0m-13 34h0m-17 28h0m63-85h0m5-15h0m-82 41h0m-3 37h0m-2 1h0m-17-24h0m75-10h0m13-39h0m22 7h0m-47 30h0m-51 42h0m-9-26h0m83-39h0m-8-14h0m-77 85h0m26-1h0m-19 3h0m46-46h0m8 3h0m-36 20h0m44-79h0m-22 72h0m70-43h0m-14-35h0m10 40h0m-109 53h0m111-64h0m-58-4h0m70-16h0m-40 40h0m-94 48h0m81-25h0m-60 21h0m11-16h0m48-84h0m8 73h0m3-38h0m-42 46h0m29-55h0m-11 36h0m-77 74h0m119-109h0m-79 69h0m2 37h0m-37 15h0m128-124h0m-12-9h0m1-18h0m-128 141h0m90-94h0m-98 81h0m155-89h0m-66-4h0m49 24h0m-92 43h0m60-40h0m-76 41h0m24 1h0m21-43h0m-34 37h0m1 5h0m113-53h0m-42 18h0m-70 40h0m49-44h0m-11 28h0m53-79h0m-46 18h0m42-6h0m-30 30h0m-8 48h0m56-91h0m-99 88h0m53-34h0m-104 61h0m73-33h0m44-23h0m25-87h0m12 35h0m-117 65h0m41 9h0m-52 17h0m100-49h0m-76 60h0m128-90h0m-39-40h0m-57 47h0m0 14h0m-8 56h0m-43 2h0m102-82h0m-17 10h0m-109 110h0m54-73h0m48-62h0m-57 61h0m97-63h0m-153 125h0m123-73h0m-66 36h0m-14-30h0m108-33h0m-19-2h0m-54 26h0m84-52h0m-60 25h0m-59 96h0m97-97h0m6 10h0m-96 70h0m83-66h0m-73 49h0m76-71h0m-42 62h0m13-34h0m-36 30h0m-26 2h0m88-43h0m1-20h0m-43 42h0m-51 86h0m-5-59h0m89-37h0m-8 22h0m13-23h0m-110 75h0m87-52h0m-68 36h0m148-44h0m-10-33h0m-110 57h0m-72 27h0m62-58h0m-46 79h0m139-113h0m10 24h0m-19-14h0m-20 4h0m42 22h0m-109 27h0m9-2h0m72-10h0m15-55h0m11 43h0m13-3h0m-38-32h0m-46 29h0m26 28h0m6-36h0m-50 30h0m25-18h0m55-37h0m-10-22h0m-122 113h0m28-9h0m89-68h0m-72-5h0m11 29h0m4 20h0m86-48h0m-57 27h0m-50 19h0m67-25h0m-34 37h0m55-81h0m-21 11h0m12 22h0m-39 46h0m34-22h0m-109 65h0m42-55h0m50-15h0m24-11h0m-29-12h0m10-5h0m-58 38h0m49-51h0m49-5h0m-26 41h0m-101 30h0m53-9h0m-25 20h0m-5 31h0m48-54h0m70-37h0m-31 10h0m-59-6h0m-27 70h0m66-58h0m4-49h0m-56 50h0m58-53h0m60 34h0m-41-43h0m-75 126h0m82-100h0m9 0h0m-23 5h0m-83 92h0m52-43h0m-60 22h0m114-48h0m5 23h0m-70-8h0m-2 6h0m-6 5h0m-5 8h0m57-61h0m-118 146h0m-10-68h0m97-61h0m41 30h0m-25-51h0m21 11h0m-64 11h0m67-28h0m-5 31h0m20 7h0m-127 53h0m-21 19h0m95-59h0m15-43h0m4 23h0m-55 22h0m68-29h0m-15 52h0m-4-40h0m-18 67h0m-11-71h0m-22 73h0m66-94h0m-71 50h0m47-23h0m58-13h0m-85 26h0m2-34h0m3 23h0m48 20h0m-24-17h0m-118 86h0m135-129h0m-98 97h0m68-43h0m-34 13h0m-39 29h0m129-99h0m-38 50h0m-63 53h0m10-31h0m-12 48h0m106-66h0m-107 25h0m0 37h0m81-42h0m-61-23h0m84-34h0m-22 29h0m36-7h0m-103 65h0m76-89h0m-43 67h0m33-62h0m-53 70h0m12-42h0m-36 44h0m-6 11h0m83-81h0m-9-16h0m-50 52h0m-15 13h0m-15-1h0m23 4h0m-55 47h0m54-101h0m-16 48h0m47-19h0m-30-18h0m90-31h0m-45 24h0m-70 44h0m122-29h0m-26-26h0m-28 35h0m30-32h0m-6-13h0m31 11h0m12 25h0m-127 34h0m95-37h0m-9-12h0m-68 72h0m9-15h0m107-40h0m-83 17h0m-103 60h0m61-53h0m16 15h0m39-27h0m-21-23h0m51 8h0m-52 4h0m72-3h0m-129 52h0m81-77h0m-34 22h0m72-32h0m-42 53h0m-15-3h0m-92 58h0m11-6h0m8-16h0m100-56h0m0-25h0m-55 98h0m70-123h0m-66 90h0m-33-16h0m30-9h0m4 21h0m13 34h0m46-52h0m-3-20h0m-66 69h0m97-75h0m-27 2h0m-23 18h0m43-12h0m-109 19h0m-24 46h0m77-73h0m19-7h0m-55 35h0m68-28h0m12-10h0m16-10h0m-58 51h0m6-3h0m-52 33h0m70-66h0m-72 103h0m7-72h0m115-28h0m-3 12h0m-67-19h0m-74 89h0m119-58h0m-70 18h0m58-13h0m-78 15h0m53-29h0m-83 74h0m138-95h0m-18-33h0m-19 47h0m-33-9h0m-84 93h0m132-108h0m-66 71h0m90-61h0m-26-3h0m0 4h0m-26 22h0m30-46h0m5 29h0m-13 23h0m-88 33h0m81-47h0m-34 31h0m60-26h0m-6-37h0m-52 61h0m-12-13h0m-56 55h0m99-77h0m-78 65h0m-24 18h0m112-98h0m30 0h0m-26 1h0m30 23h0m-99-16h0m56 48h0m16-77h0m4 11h0m7 0h0m-8 17h0m12-8h0m-92 37h0m63-27h0m-67 49h0m55-21h0m-49 29h0m62-40h0m-66 44h0m-17 4h0m82-74h0m-7 18h0m-2 24h0m-13-6h0m-60 21h0m97-59h0m-2-12h0m-66 86h0m-5-25h0m20-16h0m29-19h0m-8-2h0m12-39h0m24 45h0m-86 76h0m63-90h0m-21 53h0m-61 38h0m25-78h0m39 14h0m2-19h0m-18 68h0m44-62h0m27-22h0m-24-6h0m-33 31h0m-5 28h0m-90 28h0m119-75h0m-7 11h0m-119 97h0m75-45h0m19-32h0m39 20h0m-3-3h0m-9-43h0m5-40h0m11 47h0m-8 27h0m-27 4h0m28-52h0m-88 61h0m63-2h0m35-46h0m-105 64h0m-6-3h0m111-66h0m-8 17h0m-41-13h0m-54 65h0m111-55h0m-54 12h0m-21 26h0m51-37h0m-61 73h0m-29 9h0m67-60h0m-45 34h0m60-11h0m-16 6h0m-91 11h0m52-59h0m-2 36h0m86-17h0m-25 11h0m43-14h0m-91 25h0m-41 45h0m94-92h0m-32-7h0m-69 73h0m18-9h0m97-60h0m-93 91h0m-59 28h0m81-56h0m-12 2h0m-9-37h0m93-54h0m-15 47h0m1 5h0m-67 47h0m9 12h0m78-90h0m0 47h0m-88 26h0m20 3h0m61-69h0m-13 58h0m-72-11h0m-20-22h0m105-37h0m-52 64h0m-6-8h0m-74 33h0m89-34h0m69-49h0m-66 45h0m0-5h0m28-53h0m28 5h0m-82 62h0m43-34h0m0 1h0m-72 56h0m53-27h0m52-34h0m-96 19h0m81-13h0m4-13h0m-151 111h0m33-12h0m71-40h0m48-72h0m-41 43h0m21-48h0m-59 48h0m-3 69h0m-12-10h0m73-51h0m-8-66h0m-17 70h0m45-42h0m22 0h0m-62 12h0m-32 27h0m-14-25h0m-7 53h0m-41 6h0m143-64h0m-153 47h0m144-74h0m-73 66h0m32-11h0m37-37h0m18-20h0m-29 31h0m31-23h0m-80 67h0m77-43h0m-102 43h0m75-39h0m-109 57h0m96-62h0m14-21h0m-119 106h0m36-42h0m39-52h0m21 20h0m-92 67h0m143-103h0m-71 88h0m9-53h0m57-2h0m-11-20h0m-95 47h0m107-64h0m-46 82h0m23-59h0m0 16h0m-38 46h0m-60 3h0m-16-34h0m38 15h0m100-93h0m-18 34h0m-46 33h0m-63 8h0m76-36h0m10 21h0m-23 3h0m-55 37h0m-35 43h0m145-109h0m-145 63h0m66-33h0m-6 38h0m-16-20h0m104-36h0m-124 54h0m56-37h0m-45 70h0m100-127h0m-39 26h0m-68 54h0m82-60h0m-11 43h0m-77 40h0m72-60h0m19-14h0m24-10h0m-44 35h0m-60 28h0m51-17h0m43 12h0m-14-50h0m-25 31h0m0 41h0m69-73h0m13 1h0m-43 43h0m-34-47h0m15 4h0m17 37h0m-42-20h0m-1 16h0m-52 27h0m73-34h0m-3-8h0m-39 28h0m47-9h0m49-20h0m-66 7h0m34-6h0m23-10h0m0-5h0m-115 55h0m110-53h0m-25-23h0m-10 71h0m-91 24h0m95-78h0m9 72h0m-99 31h0m150-80h0m-134 55h0m91-85h0m-105 92h0m115-85h0m-6 50h0m2-52h0m-76 60h0m37-29h0m10-8h0m15-23h0m6 39h0m-63 0h0m60 0h0m-101 33h0m-51 19h0m96-15h0m94-89h0m-58 40h0m-2 6h0m34-23h0m-7 21h0m-59 9h0m52-46h0m-24 40h0m5 12h0m-44 36h0m11 6h0m32-45h0m11 23h0m43-24h0m-72 15h0m-13-7h0m70-32h0m-44 45h0m45-74h0m-7 29h0m-64 19h0m-13 18h0m69-26h0m-49 20h0m-53 29h0m121-73h0m-83 37h0m69-74h0m-39 104h0m-12-16h0m14-4h0m-16-36h0m-45 41h0m114-60h0m-3-6h0m-58 45h0m-15 19h0m27-43h0m22 29h0m36-47h0m-100 81h0m1-25h0m19-20h0m23 13h0m-52 38h0m50-31h0m0-6h0m-27 28h0m34-22h0m-116 55h0m119-73h0m-52 7h0m70-66h0m-58 86h0m17-24h0m-40 27h0m75-11h0m49-44h0m-69-6h0m52 41h0m-73-50h0m53-4h0m-17 28h0m-9-4h0m13-11h0m-61 84h0m101-62h0m-23-8h0m-116 70h0m-14 20h0m32-12h0m50-28h0m51-36h0m-8-13h0m-86 91h0m46-65h0m38-9h0m-60 31h0m61-20h0m-33-1h0m48-50h0m-106 99h0m15-2h0m41-72h0m-16 54h0m13 15h0m-110 0h0m179-78h0m-104 72h0m-2-49h0m25-11h0m60-34h0m-92 83h0m43-41h0m26-30h0m1 31h0m-132 91h0m74-47h0m51-28h0m-60 30h0m62-73h0m-36 62h0m75-63h0m12-7h0m-30 26h0m19-21h0m-14 59h0m3-23h0m-131 49h0m102-36h0m-92 43h0m93-62h0m-116 74h0m68-61h0m56-15h0m-9 11h0m13-33h0m9-8h0m19 4h0m-87 38h0m54-31h0m-47 24h0m-73 85h0m128-117h0m-20-6h0m-9 6h0m-67 42h0m3 51h0m42-41h0m55-30h0m-100 41h0m62-32h0m-33 48h0m29-32h0m0-11h0m5 22h0m19-5h0m-36 2h0m-8-16h0m23 9h0m-18 26h0m-17-36h0m57 0h0m-6 35h0m-27-36h0m-36 10h0m55 23h0m-14-78h0m25 16h0m-63 90h0m17-15h0m38-29h0m9-53h0m-50 97h0m-36 17h0m44 2h0m-23-43h0m71-72h0m-41 57h0m70-74h0m-90 111h0m5-41h0m73-61h0m-52 36h0m-4 17h0m-6-3h0m-1 13h0m60-51h0m-6-28h0m17 33h0m-111 104h0m95-106h0m-11-1h0m-58 61h0m104-61h0m-91 49h0m93-59h0m-80 51h0m17-71h0m-8 64h0m-43 3h0m10 13h0m64-75h0m-59 25h0m12 29h0m-25 13h0m113-53h0m-107 75h0m86-53h0m-27-5h0m-31 28h0m43-48h0m-33 21h0m-8 19h0m61-58h0m-85 85h0m58-35h0m-67 73h0m-8-33h0m44-10h0m64-66h0m-56 54h0m-52 32h0m61-51h0m-49 14h0m21 13h0m0-15h0m-92 57h0m157-69h0m-84 55h0m68-41h0m3-33h0m-35 53h0m16-65h0m-27 92h0m70-101h0m-75 53h0m-53 28h0m-5 33h0m40-8h0m60-73h0m14-13h0m-39 39h0m19-36h0m-54 27h0m92-38h0m-128 77h0m118-89h0m20 40h0m-171 87h0m97-109h0m-28 76h0m60-77h0m-62 72h0m61-47h0m11-7h0m-76 39h0m19-2h0m97-62h0m-111 88h0m54-36h0m27 4h0m-90 0h0m47-21h0m53-26h0m-71 11h0m-25 66h0m89-83h0m-21 2h0m-3 47h0m-80 35h0m-12-6h0m48-61h0m-4 38h0m23-1h0m-38 49h0m69-110h0m-41 49h0m23-8h0m-93 40h0m108-5h0m27-68h0m-71 86h0m-9 6h0m16-89h0m-75 122h0m-30-3h0m140-114h0m12 9h0m-65 8h0m4 81h0m64-54h0m6-81h0m-70 99h0m-24 24h0m103-108h0m19 38h0m-41-59h0m-20 59h0m12-22h0m-81 104h0m33-45h0m-70 30h0m51-34h0m80-90h0m-25 63h0m-53 66h0m8 8h0m69-97h0m19-8h0m-80 23h0m-20 33h0m69-16h0m42-33h0m-21 3h0m-124 90h0m15-36h0m69-61h0m-47 107h0m21-55h0m-15 22h0m-48 11h0m96-79h0m-99 91h0m81-52h0m4-2h0m-82 61h0m32-47h0m-2-1h0m119-65h0m-180 125h0m102-86h0m39 5h0m-53 21h0m42-24h0m-125 58h0m151-59h0m22-22h0m-9-32h0m-38 2h0m34 27h0m8-4h0m-39 54h0m-120 44h0m36-17h0m-14 7h0m134-78h0m-54 1h0m1 8h0m0-42h0m-26 74h0m78-41h0m-117 42h0m110-46h0m-122 54h0m94-29h0m-54 33h0m-7 18h0m-2-49h0m-28 42h0m75-68h0m-83 43h0m110 14h0m-33 14h0" stroke="#b3b3b5" stroke-width="2.88" stroke-linecap="round" fill="none" stroke-opacity="1.0"/><polygon points="136.0,346.0 144.0,337.0 152.0,333.0 165.0,329.0 190.0,325.0 212.0,325.0 224.0,328.0 230.0,333.0 226.0,340.0 216.0,347.0 205.0,354.0 193.0,361.0 180.0,367.0 165.0,372.0 150.0,373.0 139.0,371.0 133.0,362.0" fill="#c6c5c9" stroke="#c6c5c9" stroke-width="1.5" stroke-linejoin="round"/><path transform="scale(0.5)" d="M309 735h0m76-66h0m-8 9h0m-55 31h0m88-6h0m-2-16h0m-61 12h0m-11 41h0m-50-42h0m58 35h0m31-86h0m13 10h0m-102 50h0m112 0h0m9-22h0m-20 36h0m-5-48h0m-63 34h0m15-8h0m59 2h0m-71 1h0m-33-31h0m62 51h0m-12-62h0m8 40h0m77-18h0m-89 55h0m-4-42h0m10-34h0m66 26h0m-74-14h0m62 27h0m-20 8h0m20-32h0m-77 66h0m77-92h0m-71 77h0m92-32h0m-137 1h0m89-25h0m89 4h0m-71-11h0m39 9h0m-17 30h0m16-3h0m-73-38h0m-3 68h0m-7-2h0m45-35h0m4 11h0m-76-37h0m21 37h0m-1-28h0m-64 31h0m137-20h0m13-16h0m-89 68h0m34-34h0m-62-41h0m143 5h0m-153 36h0m21 10h0m104-15h0m-3-15h0m-55 7h0m-43-11h0m-45 35h0m63-46h0m-9 67h0m53-14h0m-98 5h0m92-1h0m-53-14h0m21-31h0m6 9h0m17 16h0m-53-40h0m32 31h0m-40 34h0m42-70h0m-27 46h0m-45 10h0m152-33h0m-53-25h0m-57 24h0m18-20h0m-20 37h0m-4-19h0m68-6h0m-93 41h0m120-16h0m-49 33h0m-10-80h0m-41 30h0m133-18h0m-139 63h0m20 2h0m94-40h0m-44-28h0m-3 11h0m-33 59h0m-39-16h0m49 8h0m81-62h0m-65 8h0m-54 3h0m96 32h0m-90 38h0m44-38h0m-51 0h0m36 17h0m-45-47h0m-5 49h0m83-61h0m-27-5h0m-10 27h0m-62 49h0m150-82h0m-143 85h0m131-54h0m-45 37h0m72-49h0m-74-13h0m-49 11h0m-10 43h0m53-1h0m-21-6h0m-28 6h0m128-47h0m-134 47h0m105-22h0m11-37h0m13 33h0m-47-31h0m-83 20h0m134 2h0m-54-15h0m-98 82h0m52-20h0m-9-33h0m-14-7h0m121 10h0m-80-34h0m50 40h0m-56-3h0m30-46h0m-83 81h0m86-74h0m-57 63h0m74-24h0m-34-28h0m9 43h0m25-22h0m-76-6h0m-5 49h0m29-26h0m-41 29h0m87-36h0m-15-34h0m-59 27h0m69 2h0m-31-31h0m44 22h0m-28-26h0m-42 68h0m115-61h0m-169 60h0m109-41h0m-44 30h0m-5-14h0m32-32h0m11 54h0m-60-29h0m-15 40h0m42-21h0m-16 25h0m96-51h0m-28-4h0m-83 43h0m51 0h0m-51-67h0m-2 58h0m108-55h0m-3 25h0m-14-32h0m-131 58h0m29 19h0m59-69h0m-6 29h0m-39 16h0m37-36h0m40-19h0m-76 39h0m-33 44h0m107-31h0m-112 26h0m72-72h0m6 5h0m67 20h0m-14-22h0m13 21h0m-28 2h0m-74 52h0m83-47h0m-13-25h0m-70 68h0m121-71h0m-86 65h0m-35-2h0m49 3h0m38-40h0m-125 12h0m35-30h0m81 28h0m-32 12h0m-74 0h0m17-44h0m60 39h0m27 1h0m3 2h0m-127 26h0m117-29h0m-80-36h0m76 6h0m-34 29h0m-70 17h0m47-21h0m-42 4h0m49-37h0m100 21h0m-22-6h0m-87 12h0m77 16h0m-93-42h0m59 27h0m14 10h0m-69-13h0m70-11h0m25 13h0m-90 21h0m42-28h0m93-15h0m-158 69h0m123-91h0m-137 34h0m53 25h0m-1 27h0m-12-11h0m101-64h0m-83 11h0m67 24h0m-40-42h0m-42 84h0m11-38h0m-55-3h0m84 8h0m22 6h0m8-49h0m-11 7h0m19 26h0m-59 8h0m89-36h0m-112 44h0m-36-21h0m98-27h0m-12 71h0m-36-33h0m32-13h0m56-41h0m-69 40h0m-45 38h0m41-39h0m41-16h0m7-19h0m-51 23h0m-53 11h0m42 4h0m0 22h0m97-48h0m-23 18h0m-94 63h0m115-83h0m17 1h0m-135 25h0m23 27h0m-26 20h0m67-27h0m-28 18h0m-4-61h0m14 67h0m6-55h0m-50 51h0m63-37h0m-38 23h0m30 1h0m-20-18h0m61-32h0m-4 35h0m20-16h0m-99-21h0m-31 12h0m27-8h0m60 52h0m21-27h0m-35 29h0m-9-40h0m25-20h0m34 3h0m30 14h0m-100 54h0m-7-41h0m12 43h0m-53-45h0m24 18h0m-11 39h0m77-42h0m20-17h0m-78 46h0m25-17h0m70-58h0m-84 47h0m57-48h0m-97 45h0m96-1h0m-24 25h0m-37-43h0m65 13h0m-59 6h0m-42-19h0m144-3h0m-166 34h0m138-43h0m-90 10h0m-2 27h0m20 8h0m-42-9h0m95-54h0m-83 41h0m-8 24h0m57-18h0m-79 4h0m9-25h0m68 12h0m55 1h0m-98 10h0m-30-10h0m120 3h0m-67 2h0m-69 26h0m9-15h0m120-12h0m-14-31h0m-45 18h0m-60 0h0m26 44h0m39-66h0m60-10h0m-64 88h0m-14-36h0m49-44h0m29 0h0m-70 58h0m14-55h0m44 49h0m-102-37h0m59 6h0m-24 16h0m14 6h0m-28-7h0m90 1h0m-83-19h0m19 12h0m72-12h0m-108 22h0m-4 32h0m25 3h0m116-52h0m-13 11h0m-112 23h0m8-25h0m3-5h0m76-27h0m-90 36h0m46-27h0m46 3h0m-127 56h0m-14-25h0m46 17h0m14-5h0m-43 6h0m20-34h0m-35 31h0m18-2h0m50-15h0m-37 23h0m115-24h0m8-4h0m-132-5h0m66-41h0m-36 25h0m92-10h0m-67 20h0m-67 2h0m30 16h0m-4-15h0m121-3h0m-114 41h0m69-50h0m64-5h0m-145 53h0m23-35h0m90-26h0m-19 34h0m-6-9h0m-88-13h0m128-11h0m-77 9h0m-33 32h0m68-13h0m35-1h0m-65 27h0m16-63h0m-56 24h0m81-21h0m-7 7h0m-4 14h0m-24-8h0m-72 45h0m69-21h0m21-16h0m-48 16h0m-4 26h0m-36-17h0m82-12h0m13 15h0m-71 36h0m16-70h0m66 10h0m-28 28h0m2-3h0m-39 19h0m3 16h0m80-77h0m-47 22h0m-78 5h0m1 14h0m55 11h0m-5-57h0m86-5h0m-12 42h0m-73-16h0m-31-18h0m64 15h0m-21 44h0m2-34h0m26 10h0m34-33h0m-57 53h0m-24-41h0m76-31h0m-128 90h0m55-9h0m-8-15h0m103-29h0m-133-1h0m-15 55h0m154-58h0m-105-20h0m-45 17h0m151 0h0m-145 49h0m-11 20h0m135-65h0m-111-11h0m-11 74h0m18-40h0m73-26h0m-58-9h0m-7 46h0m18-49h0m45-2h0m-72 30h0m-19 33h0m9-56h0m-13 32h0m24 18h0m51-54h0m-15 42h0m48-38h0m-88 11h0m42 21h0m-57 18h0m14 12h0m39-33h0m-37-6h0m-18 28h0m24-40h0m71-15h0m-106 64h0m83-1h0m-50-31h0m-21-11h0m21-3h0m-54 32h0m148-36h0m-68 57h0m3-58h0m-41 17h0m65 27h0m31-57h0m-109 67h0m64-35h0m46-33h0m-38 67h0m-88-6h0m96-34h0m63-26h0m-103 17h0m64 27h0m-3-56h0m-100 82h0m71-30h0m-94-2h0m75 10h0m-74-12h0m63-29h0m-20 45h0m51 2h0m69-47h0m-69 10h0m45-26h0m-90 72h0m-28-32h0m80-19h0m-15 12h0m-24-13h0m-1 19h0m-8 2h0m-11-7h0m8 23h0m56-38h0m-60 19h0m-28-16h0m84-14h0m-27 51h0m-10-36h0m103-1h0m-115-10h0m-9 10h0m-17 5h0m98 15h0m-18-39h0m28 8h0m-32 52h0m12-14h0m-29-40h0m-67 32h0m111-22h0m-74 46h0m50-33h0m28 18h0m-42 4h0m-82 4h0m135-14h0m-131-7h0m54 44h0m-75-29h0m34 23h0m14-67h0m66 25h0m-99 37h0m67-22h0m47-18h0m-47 47h0m71-68h0m-126 22h0m23 44h0m59-41h0m-37 29h0m114-56h0m-1 2h0m-64 13h0m-6 24h0m-18-41h0m48 49h0m5-55h0m-9 1h0m-87 77h0m8-10h0m38-11h0m26-37h0m-23 22h0m-20-25h0m12 16h0m-54 0h0m101 11h0m21-22h0m-83 46h0m-58-18h0m126-9h0m-14-5h0m4 10h0m-25-42h0m-64 30h0m42 2h0m-30 33h0m-36-11h0m100 0h0m-96-15h0m40-18h0m80-3h0m-51 10h0m-75 41h0m140-35h0m-52-33h0m5 6h0m-46 29h0m101-13h0m-50 22h0m-11-24h0m-59 8h0m-47 21h0m14 31h0m30-37h0m-11 12h0m122-35h0m-58 9h0m-22-12h0m3 51h0m-42-20h0m67-10h0m-61-19h0m12 41h0m40-49h0m24 4h0m18-18h0m-75 19h0m117 0h0m-161 13h0m94 27h0m-42-44h0m12-11h0m-67 51h0m44 8h0m-36 23h0m102-44h0m30-49h0m-2 25h0m-79 12h0m49-27h0m-23 14h0m29-19h0m36 13h0m-85 31h0m16-16h0m12 27h0m42-11h0m-34-21h0m70-21h0m-142 73h0m40-34h0m0-25h0m28-26h0m21 56h0m18-44h0m-76 54h0m70-12h0m-116-22h0m116-13h0m-99 26h0m-39 5h0m74-3h0m65-14h0m-42 38h0m-35 20h0m-31-65h0m115-15h0m-128 55h0m3-11h0m-9-14h0m77 12h0m-35 22h0m-1-37h0m-16-12h0m108 17h0m-101-18h0m-24 10h0m20 24h0m17-27h0m-21-11h0m-15 20h0m148-10h0m-122-7h0m28 54h0m60-50h0m17-11h0m-23-3h0m-50 77h0m-14-50h0m-67 33h0m155-55h0m-111-4h0m115-6h0m-139 86h0m155-78h0m-167 24h0m9 39h0m160-49h0m-48-25h0m-77 34h0m77-24h0m-74 79h0m109-56h0m-152 1h0m110 30h0m-74-16h0m106-17h0m18-18h0m-108 23h0m-15-9h0m111-13h0m-15 5h0m27-5h0m-108 15h0m25-22h0m-61 8h0m53 52h0m-16-55h0m-40 12h0m-15 10h0m79 26h0m55-65h0m-26 63h0m44-31h0m-85 27h0m30-41h0m-12 39h0m27-13h0m-29 12h0m38-45h0m-45 16h0m58 1h0m-117 11h0m33-1h0m-8 0h0m118 5h0m-68-4h0m-8 9h0m42 13h0m-87 32h0m92-53h0m-78-20h0m-52 27h0m94 20h0m-2-55h0m-17 22h0m51-4h0m-136 41h0m106 1h0m-52-5h0m16 2h0m-60 4h0m117-13h0m-117-8h0m34 31h0m-17-59h0m40 37h0m-52-25h0m140-10h0m-128 13h0m31-7h0m20-20h0m-29 17h0m49 5h0m48-14h0m-86-1h0m-18 70h0m-5-56h0m-11-8h0m17 67h0m-2-50h0m78-28h0m-112 19h0m150 14h0m-85-10h0m-55 54h0m-7-26h0m35-15h0m-28 25h0m5-50h0m136 5h0m-119-6h0m88 16h0m11 14h0m-81-43h0m83 9h0m-134 69h0m74-64h0m43-25h0m-42 75h0m21-29h0m-53-11h0m39 23h0m-61 8h0m37-58h0m-33 45h0m55-3h0m-88 21h0m98-20h0m-39-3h0m76-42h0m-8 40h0m-27 26h0m-83 9h0m84-13h0m-74-3h0m77-8h0m-93 23h0m142-76h0m-79 30h0m69-7h0m-136 17h0m47-12h0m19-1h0m20 47h0m-10 2h0m-28 7h0m22-62h0m17 19h0m40-26h0m-79 21h0m20-23h0m19 3h0m80 1h0m-103 20h0m24-28h0m30-4h0m-47 42h0m25-42h0m-22 77h0m97-70h0m-2-5h0m-88 57h0m42-10h0m-44-12h0m35-17h0m-100 65h0m41-3h0m-37-47h0m31-15h0m-31-1h0m-4 44h0m79-7h0m-28-37h0m-66 21h0m131 6h0m-110 23h0m110-23h0m-76-33h0m-14 32h0m29 39h0m10-48h0m23-12h0m-105 7h0m23 45h0m34-71h0m58 0h0m69 11h0m-126 0h0m111-8h0m-77 36h0m65-15h0m-135 13h0m-18 32h0m55-2h0m79-65h0m-5 16h0m-78 65h0m76-51h0m-120 20h0m20-9h0m24-38h0m-28 0h0m65 12h0m-20 10h0m32-26h0m-108 51h0m113-40h0m-76-3h0m73 50h0m14-57h0m-16 43h0m-3-24h0m-86 64h0m25-24h0m-32-44h0m69-3h0m11-15h0m-91 31h0m86-20h0m-75 22h0m97-17h0m-5-5h0m23 43h0m-57-35h0m63 0h0m-39 32h0m55-38h0m-10 13h0m-105-3h0m-4 60h0m12 1h0m120-53h0m-96 5h0m-28 30h0m66 1h0m-40-19h0m-8-39h0m49 17h0m-4-5h0m-44 24h0m-27 10h0m-27 22h0m3-46h0m171-11h0m-100-17h0m20 21h0m-94 22h0m79 3h0m-24-38h0m40 24h0m-15 4h0m41-2h0m-17-34h0m-29 48h0m-7-35h0m-72 40h0m66 19h0m38-38h0m-37 2h0m52 15h0m-88-33h0m-1 3h0m97-17h0m-101 50h0m13-12h0m27 35h0m21-17h0m-18 8h0m-32-17h0m28-50h0m-33 61h0m32-11h0m-9-26h0m-12-17h0m-1 40h0m33-27h0m-4 5h0m70-16h0m-22 21h0m-66 16h0m42-44h0m35 0h0m-98 7h0m134-8h0m-135 33h0m-19 40h0m-10-22h0m84-39h0m86-6h0m-124 28h0m55-39h0m-91 60h0m11 24h0m71-35h0m70-27h0m-99 31h0m29 13h0m-77-52h0m61 57h0m23-40h0m2 34h0m15-29h0m-10 0h0m-108 37h0m91-75h0m-70 41h0m11 10h0m86-56h0m-114 79h0m117-58h0m-118 55h0m138-36h0m-58 13h0m-41 26h0m67-46h0m-39-8h0m27-13h0m42 11h0m16 0h0m-49 33h0m-14-51h0m17 33h0m-15-2h0m-6 13h0m-29 41h0m15-79h0m93 3h0m-111 13h0m-1 10h0m-4-18h0m44 28h0m-95 9h0m79-9h0m1 38h0m80-81h0m-25 23h0m-67 45h0m42-62h0m-18-10h0m-30 37h0m34-17h0m-87 67h0m105-21h0m-56-49h0m65-5h0m-6 56h0m26-53h0m-56 50h0m17-58h0m-21 6h0m57 13h0m42-15h0m-181 71h0m44-43h0m21-23h0m-33 46h0m149-41h0m-135-1h0m119 8h0m-33-17h0m11 36h0m-110 2h0m88-18h0m-91 3h0m-16 41h0m133-73h0m-123 88h0m9-72h0m16 54h0m105-26h0m-34-9h0m-21 26h0m-1-21h0m30-29h0m-88 66h0m-8-21h0m133-38h0m-122 67h0m118-84h0m-136 31h0m-24 9h0m47-24h0m118-13h0m-72-5h0m-71 37h0m60 10h0m-32 24h0m119-46h0m-142-10h0m-11 70h0m58-25h0m108-42h0m-128 34h0m83-20h0m-36-27h0m-80 60h0m23 11h0m-25-27h0m103 12h0m31-26h0m-38 16h0m-55 19h0m-31-43h0m111 19h0m-45-31h0m4 32h0m-59 2h0m-1-18h0m12 7h0m40-10h0m-65 36h0m139-37h0m-160 27h0m131-53h0m-81 66h0m1-48h0m-18 54h0m88-16h0m-40-49h0m18 42h0m-28-39h0m-1 66h0m-29 7h0m70-80h0m-76 79h0m5-22h0m-33-10h0m-5-5h0m141-33h0m-116 71h0m71-59h0m-25 53h0m54-45h0m17-18h0m10 12h0m-130 23h0m83-49h0m-88 32h0m33-20h0m46 44h0m-13 12h0m0-35h0m-69 1h0m3 48h0m136-60h0m-39 7h0m-88-20h0m105 34h0m-126-15h0m112-17h0m-54-1h0m7 60h0m1 1h0m2-69h0m-3 20h0m-59 7h0m121 9h0m-24-32h0m44 0h0m-29 45h0m-63-13h0m20 0h0m59-45h0m-54 79h0m40-61h0m-21 29h0m-48-11h0m76-22h0m-80 54h0m31-40h0m-87 63h0m93-22h0m-29-38h0m47-14h0m62 12h0m-160 70h0m111-74h0m-30-3h0m45 22h0m21-17h0m-111 43h0m-27 28h0m88-58h0m-2 5h0m4-20h0m-30 62h0m-83-47h0m133 15h0m-66-28h0m40 8h0m4-25h0m-84 49h0m-30 4h0m50-43h0m-21 29h0m30 29h0m-50-49h0m50 20h0m6 37h0m100-69h0m-152 30h0m91-7h0m-102 43h0m65-56h0m-5-10h0m40 25h0m-76 11h0m-5 41h0m98-39h0m-1 12h0m-83-9h0m75 10h0m-88-3h0m38 6h0m-11 4h0m56-36h0m-89 37h0m-1-20h0m21 30h0m43 0h0m41-46h0m-49 38h0m-54-12h0m57-39h0m12-7h0m-33 8h0m-25 46h0m-6 14h0m130-61h0m8 13h0m-70 8h0m55-36h0m5 29h0m-125-10h0m67-12h0m44 37h0m-42-52h0m-3 63h0m-35-11h0m-35 42h0m41-73h0m-26 70h0m23-57h0m-12 55h0m105-48h0m4-8h0m-141 6h0m136-29h0m-129 20h0m45 24h0m-23-16h0m80 24h0m-80-39h0m62-7h0m33-17h0m-64 12h0m-16 1h0m-2-1h0m42 24h0m-30-14h0m47 36h0m27-9h0m-18 16h0m-109 2h0m110-52h0m-95 57h0m16-24h0m70-27h0m16 27h0m3-20h0m-17 8h0m-12 5h0m48-38h0m-81 16h0m83 3h0m-115 68h0m49-32h0m41-34h0m-46 7h0m57-3h0m-5 1h0m4 4h0m-15 20h0m-38 16h0m27-21h0m10-12h0m-18-25h0m50 23h0m-35-8h0m-107 46h0m-14-12h0m144-22h0m19-23h0m-41 36h0m-8-36h0m22 32h0m-90-22h0m3 56h0m85-79h0m-14 57h0m34-43h0m-140 63h0m11-40h0m15 52h0m106-43h0m-108-14h0m56-2h0m15 36h0m-111 4h0m38-37h0m136-17h0m-87-13h0m-1 8h0m78-1h0m-91 35h0m-45 50h0m-12-21h0m49-62h0m50-15h0m-56 66h0m34-50h0m61 25h0m-14 2h0m-102-25h0m38-14h0m-67 77h0m71-8h0m33-18h0m-93 30h0m71-36h0m36-28h0m10-12h0m-62 16h0m-55 7h0m80-27h0m-16 74h0m59-53h0m10 11h0m-72-3h0m28-7h0m12 23h0m-101-12h0m123 9h0m-26 17h0m-58-44h0m99 12h0m-24 24h0m-2-1h0m-94-15h0m34 47h0m-3-55h0m-24-14h0m41 5h0m-7 69h0m-74-27h0m39-13h0m110-44h0m-63 36h0m-6-33h0m-37 55h0m38 13h0m-34 0h0m-38 13h0m48-34h0m57-8h0m-95-7h0m19 28h0m-35-33h0m83 35h0m-90 15h0m101-67h0m-56 65h0m25-78h0m95 12h0m-9 6h0m2 17h0m-90-29h0m19 10h0m-35-5h0m73-15h0m-98 76h0m82-39h0m-63 50h0m35-37h0m20 20h0m38-27h0m-90 47h0m49-87h0m-23 69h0m66-47h0m-6-9h0m-71 31h0m3-27h0m-5 38h0m10-45h0m38 35h0m-101-18h0m114 16h0m-79-36h0m7 24h0m128-15h0m-130 32h0m-46 12h0m79 4h0m42-67h0m-14 46h0m-38-8h0m-56-1h0m44 5h0m-21 35h0m104-51h0m-47 6h0m-35-18h0m-32 44h0m48-34h0m89-14h0m-120 2h0m30-1h0m81 14h0m-122 7h0m-23 48h0m28-28h0m72-6h0m29 3h0m-142 11h0m168-33h0m-139 21h0m104-41h0m13 37h0m9-15h0m-134 27h0m111-1h0m-50-48h0m-8 60h0m15-33h0m-73-6h0m94 10h0m-103 38h0m31-33h0m23 25h0m11-37h0m-10-20h0m51-15h0m12 6h0m11 9h0m-80 45h0m-42-26h0m67-6h0m-40 27h0m88-20h0m42-9h0m-146 8h0m92-16h0m9 8h0m-72 9h0m7 10h0m-7 46h0m7-16h0m94-65h0m-44 32h0m37 1h0m-67 42h0m-45 3h0m93-43h0m32-37h0m-109 83h0m2-37h0m-41 20h0m42-62h0m37 21h0m-46 26h0m94-1h0m0-32h0m13-20h0m-70 48h0m-54 6h0m104-39h0m-65 6h0m79-22h0m-40 51h0m-22-28h0m-72 64h0m21-40h0m74-24h0m-12 28h0m-90-7h0m136-1h0m-101 38h0m-29-7h0m29-21h0m28-43h0m-9 41h0m-21-17h0m-13-14h0m42-4h0m80 21h0m-133 9h0m53 40h0m69-42h0m-44 21h0m23-11h0m-114 8h0m117-3h0m31-22h0m-52-31h0m-39 32h0m75-24h0m-103 12h0m71-5h0m28 23h0m8-13h0m-54-34h0m4 23h0m-35 32h0m34-48h0m58 20h0m22-25h0m-8 1h0m-22 39h0m4-44h0m-74 27h0m47-18h0m-21 21h0m-17 5h0m-73 42h0m79 0h0m63-67h0m11-7h0m0 15h0m-35 53h0m-58-53h0m30 18h0m-29 15h0m67 7h0m-70-6h0m73 4h0m-63 3h0m-7 32h0m-35-69h0m98 15h0m-101 45h0m22-61h0m64-10h0m-47 70h0m112-48h0m-139 17h0m37 0h0m-5 42h0m34-18h0m-9-32h0m-45-13h0m11 32h0m-37 1h0m39-33h0m-28 3h0m-25 12h0m49 14h0m0 19h0m8-43h0m41-25h0m12 56h0m-109-31h0m68 21h0m-46 6h0m18 30h0m15-26h0m-44-21h0m27 33h0m-53-6h0m146-54h0m-44 27h0m-24-36h0m0 60h0m-43-15h0m61-48h0m-40 67h0m-40-30h0m68 12h0m-51 21h0m23-32h0m46 24h0m51-26h0m-64 7h0m-26 10h0m-12-28h0m-36 55h0m16-4h0m120-62h0m-74 0h0m-54 49h0m126-22h0m-74-11h0m-69 37h0m66-20h0m15 27h0m100-55h0m-114 55h0m-7-61h0m101-4h0m-32 9h0m46 3h0m-72 7h0m-60-14h0m130 5h0m-107-7h0m17 52h0m-79-20h0m49-28h0m12 63h0m-6-31h0m22 29h0m-42-7h0m99-70h0m-97 70h0m133-50h0m-89 61h0m-86-14h0m165-37h0m-40-21h0m27 0h0m-62 69h0m-30-60h0m-53 33h0m67-39h0m30 25h0m12-8h0m-112 50h0m164-50h0m-51-3h0m65-7h0m-174 9h0m84 29h0m-20 9h0m38-33h0m9 15h0m-81 6h0m95-20h0m-48-11h0m12 39h0m-28-48h0m75 3h0m-11 33h0m-57 8h0m-47-37h0m116-15h0m-131 40h0m90-10h0m-60 34h0m115-45h0m-5-23h0m-139 75h0m46-72h0m59 17h0m-17 32h0m-67-47h0m-28 63h0m61-5h0m89-55h0m-121 35h0m127-44h0m-83 70h0m-2-26h0m-57-18h0m42 7h0m-53 50h0m21 3h0m-7-56h0m-13 46h0m101-25h0m-51-31h0m89 6h0m-67-18h0m-29 28h0m-43 17h0m-9-10h0m47-22h0m-13 39h0m118-62h0m7 25h0m-97-15h0m-8 10h0m32 59h0m-25-32h0m-25-10h0m21 7h0m17 21h0m-47-17h0m-28 5h0m134-18h0m-2-10h0m-119 49h0m40 9h0m-13-70h0m65 34h0m31-6h0m-74-14h0m58 33h0m-43-22h0m21-22h0m4-13h0m-87 25h0m51 57h0m42-27h0m-18-57h0m-88 49h0m92 10h0m55-30h0m-127 10h0m3-20h0m-13 12h0m28-11h0m71-3h0m-4 13h0m-20-18h0m-67 60h0m56 2h0m-65-20h0m78-19h0m-88 11h0m16 8h0m80-10h0m6-1h0m-72 14h0m17-15h0m25 43h0m25-34h0m43-14h0m-107 17h0m8 8h0m28 13h0m20-46h0m-80 28h0m100-56h0m-1 23h0m-89 3h0m102-19h0m-61-1h0m8 10h0m15 9h0m2 29h0m-22-11h0m-60 21h0m126-34h0m-39 50h0m13-85h0m-12 17h0m-41 48h0m54-59h0m-70 85h0m94-81h0m-30 37h0m-9 16h0m-53-1h0m62 11h0m77-43h0m-115 62h0m-24-81h0m88 42h0m-34-14h0m84-17h0m-36-14h0m-48 28h0m54-35h0m-27 17h0m-64 58h0m-39-35h0m62-16h0m43 39h0m29-23h0m-29-1h0m-77 13h0m-25-15h0m83-24h0m-1 23h0m-77 39h0m101-77h0m2 10h0m-33 45h0m-4-2h0m-60-26h0m135-13h0m-50 49h0m-14-58h0m53-8h0m-50 17h0m-83 76h0m52-43h0m-35 16h0m6-43h0m56 11h0m-50 45h0m29-28h0m-78-3h0m94-42h0m23 49h0m-17-12h0m-54-15h0m-50 25h0m121-4h0m-72-4h0m-3 15h0m31 2h0m88-47h0m-150 22h0m2 14h0m33 13h0m-21 16h0m46 4h0m18-35h0m2 8h0m-41-1h0m13 5h0m-59 21h0m30-1h0m19-38h0m10-31h0m65 20h0m-93 60h0m15-75h0m69 6h0m-105 16h0m95-25h0m56 25h0m-34-8h0m-57 57h0m71-50h0m-89 0h0m55 34h0m40-24h0m-121-28h0m-22 67h0m-17-18h0m37-33h0m53 17h0m54-6h0m-119 23h0m140-39h0m-84 7h0m52-35h0m-81 20h0m15 74h0m63-47h0m-32 8h0m-20-5h0m37 3h0m-55 36h0m55-49h0m27 15h0m6-28h0m-39-8h0m76-7h0m-134 58h0m95-45h0m-137 34h0m5 3h0m114-27h0m-58 45h0m20-18h0m67-28h0m-81-20h0m53 29h0m23-37h0m-106 28h0m23 40h0m-23-27h0m72-41h0m39 12h0m-79 43h0m9-47h0m-31 76h0m15 0h0m-36-55h0m51-23h0m-13 70h0m66-40h0m16-30h0m-35 7h0m-57 42h0m-36-22h0m121-17h0m-117-1h0m81 1h0m-93 40h0m51-46h0m-20 8h0m63 27h0m-55 40h0m0-57h0m-9 2h0m74 19h0m-109 26h0m81 1h0m-16-21h0m63-19h0m-49 4h0m18 18h0m-89-35h0m48 42h0m23 9h0m9-41h0m24-7h0m-106 1h0m76-2h0m0-13h0m-6 64h0m64-32h0m-51 30h0m65-73h0m4 11h0m-146 4h0m10 47h0m-11-18h0m130-30h0m-67-18h0m57 17h0m-80-2h0m0 36h0m40 24h0m26-8h0m21-51h0m-94 36h0m-11 0h0m90-44h0m-66 73h0m111-59h0m-176 48h0m119-62h0m-64 16h0m28-17h0m5 37h0m-32 41h0m21-34h0m-33-32h0m20 60h0m8-9h0m-49 23h0m37-85h0m-57 43h0m42-6h0m79 13h0m49-49h0m-141 58h0m7-42h0m-3 24h0m-37 31h0m55 5h0m-25 5h0m54-42h0m84-33h0m-97 7h0m12-17h0m51 16h0m-25 7h0m-47-15h0m66-9h0m-106 66h0m138-49h0m-27 13h0m-58 39h0m3-8h0m-83 7h0m56 13h0m28-74h0m7 15h0m-56 55h0m90-58h0m-121 55h0m53-64h0m-36 51h0m153-38h0m-121 22h0m125-25h0m-131 64h0m75-21h0m-19-38h0m79-26h0m-81 48h0m-89 25h0m58-51h0m-14 62h0m68-22h0m-75-46h0m57 51h0m-50-12h0m68-37h0m42-21h0m-77 77h0m-30-41h0m64-26h0m18-6h0m-114 69h0m146-35h0m-39-27h0m-15 33h0m-81 23h0m95-38h0m-16-4h0m-35 34h0m-6 8h0m-65 9h0m21-43h0m27-16h0m-16 73h0m118-69h0m-93 44h0m-13 0h0m47-46h0m-49 27h0m-26 40h0m96-65h0m-72 40h0m81-36h0m-20 1h0m14 18h0m59-34h0m-142 21h0m-22 49h0m36-18h0m-34 14h0m45-47h0m17-9h0m-57 40h0m121-55h0m10 1h0m-58 38h0m-22-38h0m-21 4h0m84 1h0m46 8h0m-31 2h0m-118 46h0m73-15h0m2-21h0m-2-25h0m-57 65h0m34 3h0m8-1h0m62-50h0m-160 46h0m155-30h0m-58-36h0m10 62h0m-32-6h0m33-5h0m-27 16h0m35-41h0m2 41h0m57-66h0m-109 6h0m54 8h0m-72 32h0m-43 14h0m46-12h0m22-1h0m-19 8h0m24 13h0m-21-31h0m-6 18h0m8 13h0m76-39h0m-17-1h0m-111 49h0m31-41h0m55 25h0m-83 13h0m121-71h0m-8-1h0m0 60h0m-71-26h0m34-34h0m-36 21h0m-28 42h0m36-25h0m15 16h0m6-11h0m65-1h0m-95-35h0m11 17h0m-45 50h0m20-22h0m49 24h0m-76-22h0m85-8h0m-64-25h0m-1 3h0m80 45h0m-81 8h0m96-72h0m-109 60h0m35-51h0m66 24h0m-104 22h0m92-36h0m-9 34h0m-71-12h0m53-27h0m-9 13h0m0 5h0m28-9h0m54-21h0m-23 6h0m-106 40h0m23-24h0m80-39h0m-80 79h0m101-34h0m-11-11h0m-19-8h0m-55 12h0m53 12h0m-110 1h0m66-24h0m-42 0h0m108 15h0m24-24h0m-128 19h0m81 29h0m-34-33h0m68-9h0m-138 55h0m42 6h0m-9-23h0m-28 12h0m86-16h0m-37-37h0m71 38h0m-6-10h0m-49 34h0m85-50h0m-114-5h0m117 13h0m-93-16h0m19 15h0m-39 22h0m10-5h0m29 34h0m-70-54h0m13 0h0m67-18h0m51 22h0m-63-15h0m57-20h0m-15 20h0m-71 6h0m-6 51h0m99-30h0m-109 33h0m121-52h0m-119 45h0m59-64h0m-66 32h0m86-23h0m-79 62h0m57-49h0m-56 56h0m70-82h0m-23 43h0m-20-7h0m13 24h0m74-27h0m-83 12h0m76-29h0m-50-26h0m-89 52h0m48-30h0m48-16h0m-33 15h0m29-6h0m-14 38h0m67-28h0m-141 11h0m87 22h0m-59 10h0m52-51h0m-40 62h0m-27-51h0m7 44h0m146-49h0m-81-16h0m-54 64h0m85-38h0m-42-6h0m-10 42h0m-71-18h0m166-27h0m-142 5h0m126-4h0m-133 1h0m4 58h0m60-72h0m20 59h0m-9-22h0m-13 15h0m-60-4h0m108-40h0m-129 40h0m57-1h0m92-22h0m-130 26h0m144-44h0m-136 18h0m-25 7h0m107 9h0m-40-33h0m58 8h0m2 1h0m-64 44h0m-61 20h0m23-29h0m79-19h0m11-41h0m-45 57h0m-36 20h0m131-76h0m-61 39h0m38-4h0m10-8h0m-98 7h0m-59 10h0m142-37h0m-89 64h0m5-9h0m-3 6h0m72-66h0m-83 9h0m24 27h0m-14 46h0m-20-18h0m89-32h0m10-35h0m9-2h0m-100 34h0m17 32h0m-46-25h0m68 22h0m-23 24h0m20-19h0m-29-9h0m57-36h0m35 23h0m-3-33h0m-82 3h0m-33 10h0m55 38h0m11 2h0m-84-2h0m43 28h0m102-84h0m-129 77h0m7-32h0m18-22h0m28-29h0m-38 91h0m10-45h0m-47 22h0m161-33h0m-137-8h0m38 5h0m-64 37h0m32-21h0m45-13h0m102-23h0m-72 49h0m36-12h0m-54 13h0m26-15h0m-86 31h0m140-52h0m-68-27h0m83 26h0m-151 2h0m125-12h0m-65 29h0m-32 15h0m-47-8h0m105-12h0m40-21h0m-85 2h0m-15-1h0m57-20h0m-82 35h0m-9 41h0m100-33h0m-86-6h0m98-34h0m-2 44h0m-32 25h0m-73-52h0m32 45h0m35 7h0m33-30h0m-62 42h0m43-28h0m2-53h0m-58 42h0m-11 31h0m21-53h0m107-13h0m-127 11h0m35 58h0m-81-32h0m137-9h0m-89 5h0m6 31h0m-7-55h0m62 47h0m-36-1h0m47-6h0m-99-30h0m-16 36h0m131-10h0m-123-10h0m137-4h0m15-24h0m-41 16h0m-113 30h0m117-47h0m3-10h0m-68 84h0m-65-26h0m105-6h0m-89 18h0m159-57h0m-107-3h0m90-9h0m-20 50h0m-91-15h0m28-33h0m53 36h0m-47 4h0m54-43h0m-71 69h0m2 16h0m-38-4h0m66-22h0m-29 17h0m-64-33h0m25 40h0m53-43h0m39 8h0m-44 26h0m-2-70h0m19-2h0m-61 54h0m58 3h0m72-32h0m-58-21h0m-38 44h0m-32-11h0m100 19h0m35-25h0m-27-22h0m-136 45h0m145-12h0m-77 36h0m-25-34h0m56-49h0m31 29h0m45 1h0m-130 16h0m103 1h0m-128 37h0m97-73h0m4 43h0m-122-7h0m160-27h0m-101 19h0m37-20h0m66 6h0m-83 38h0m-8-51h0m86 0h0m-16-14h0m-77 36h0m-40 47h0m79-40h0m-47-33h0m37 49h0m44-50h0m-57 45h0m21-6h0m-99-3h0m63 10h0m-39-22h0m65 44h0m-34-1h0m86-69h0m9 13h0m-10 24h0m-136 4h0m102 14h0m-13-7h0m-29-15h0m-29-9h0m58 20h0m-70 39h0m18-58h0m61-17h0m-95 45h0m74 16h0m-67-10h0m55 0h0m-22-3h0m-10-5h0m-8 24h0m-2 8h0m91-67h0m-99 61h0m86-33h0m35-53h0m-42 7h0m-23 59h0m-14-53h0m-22 53h0m35-56h0m27 37h0m-57-20h0m36 20h0m0 24h0m-23-47h0m46 45h0m35-32h0m-42-34h0m58 13h0m-149 65h0m100-34h0m31-19h0m-67-13h0m-32 55h0m37-51h0m80 5h0m-118 34h0m65 7h0m79-50h0m-179 55h0m89-10h0m-46-7h0m-26 8h0m74-43h0m-50 22h0m11 27h0m-28-25h0m38 8h0m97-17h0m-55 6h0m-98 33h0m75 15h0m-90-20h0m152-23h0m-49 3h0m-17-7h0m56-13h0m-41-6h0m-52 3h0m-9-2h0m-17 45h0m40 5h0m34-12h0m24 6h0m-21-34h0m-65 6h0m117 13h0m-30 12h0m-71-6h0m84-29h0m-65 22h0m75-20h0m-25-2h0m-40 46h0m42-71h0m-18 62h0m-3 18h0m29-31h0m-51 18h0m69-24h0m-67 19h0m53-54h0m-105 66h0m31-51h0m-37 33h0m107-26h0m-21 44h0m16-69h0m-6 30h0m-114 29h0m112-3h0m-31-45h0m-49 20h0m44 24h0m-51 8h0m64 5h0m-1-38h0m-11 42h0m46-14h0m-39-12h0m75-36h0m-132 46h0m28 25h0m43-74h0m89 1h0m-88 60h0m-2-2h0m28-70h0m34 29h0m-105-11h0m63 40h0m-84 1h0m109-7h0m-102-21h0m34 27h0m70-44h0m18 11h0m-34-21h0m-76 82h0m120-76h0m-86 1h0m-47 57h0m-20-36h0m110 23h0m-36-45h0m-81 15h0m73-7h0m-11 31h0m-47 35h0m62-10h0m-64-21h0m139-52h0m-160 45h0m123-9h0m-42 17h0m40-9h0m-67-31h0m-8 77h0m88-79h0m-15 21h0m-74 22h0m35 1h0m84-43h0m-40 22h0m-1-17h0m-70-12h0m128 11h0m-19 16h0m-68-9h0m-37-5h0m40 10h0m-84 0h0m44 27h0m76-32h0m-98 55h0m26-44h0m-24-11h0m147-14h0m-178 28h0m23 55h0m37-52h0m-52 42h0m95-36h0m-91-23h0m14 43h0m22-15h0m59-13h0m-92 13h0m46-32h0m60-5h0m-24 45h0m-48-47h0m-2 19h0m91-12h0m-51-2h0m-68 70h0m81-38h0m-11 2h0m-14-19h0m-61 10h0m46-21h0m40 50h0m18-33h0m-54 38h0m55-58h0m-14 48h0m-71-20h0m93 7h0m-75-3h0m78-43h0m-74 22h0m109-33h0m-138 70h0m85-8h0m14-52h0m-65 69h0m6-41h0m24 32h0m-42 21h0m71-59h0m-102 39h0m-13-44h0m90-12h0m68 22h0m-68 31h0m32-44h0m-53 28h0m-3-42h0m-21 22h0m75 18h0m8-36h0m-25 21h0m-58 22h0m66-34h0m-57 38h0m57-59h0m-84 51h0m-20 30h0m135-38h0m-111 28h0m17 16h0m-41-28h0m-4-31h0m16 16h0m40 37h0m-26-14h0m57-32h0m-85 43h0m73-16h0m-56-3h0m-25-29h0m48 10h0m54 30h0m-88-27h0m153-41h0m-71 18h0m-87 58h0m141-67h0m-83 49h0m-23-22h0m13 28h0m45-61h0m-69 75h0m11-16h0m90-65h0m-85 67h0m-2 14h0m8-72h0m11-3h0m-46 8h0m53 61h0m59-40h0m-121 31h0m44-40h0m-8-3h0m-13 8h0m12-7h0m67 10h0m-75 20h0m-41-23h0m41 50h0m16-73h0m89 0h0m-131 6h0m72 15h0m86-7h0m-69-11h0m-96 68h0m42-36h0m-28 30h0m131-78h0m-88 74h0m-25 18h0m-31-61h0m27 17h0m-28-4h0m151-9h0m-139 41h0m68-62h0m39-12h0m-22 49h0m-26-13h0m-43 57h0m70-29h0m-85-10h0m-22-6h0m62-2h0m65 1h0m39-32h0m-100-7h0m-34 23h0m84 25h0m-111 23h0m153-38h0m-109-1h0m43-30h0m7 11h0m12-13h0m-42 12h0m2 32h0m-2-36h0m-12 73h0m119-61h0m-55-12h0m-63-2h0m-21 46h0m33 17h0m-30-70h0m32 35h0m2 5h0m96-24h0m-50 7h0m-56 40h0m-39 7h0m13-15h0m7-2h0m97-12h0m-132 5h0m70 21h0m59-37h0m-14-32h0m-118 69h0m94-11h0m-68 16h0m142-62h0m-100 38h0m45-35h0m33 4h0m-85 35h0m-9-14h0m-19-15h0m28 47h0m-27-27h0m118-36h0m-157 53h0m53-43h0m65 7h0m-92 16h0m80-8h0m-108 30h0m35-52h0m129 9h0m-156 57h0m26-54h0m-10 38h0m58-2h0m-4-59h0m17 4h0m-39 40h0m57-44h0m-28 66h0m-59-25h0m95-45h0m61 16h0m-163 44h0m25-35h0m36 35h0m-37-40h0m84 34h0m16-45h0m-114 60h0m65-37h0m76-13h0m-108-11h0m82 5h0m-32 46h0m-92-18h0m72-38h0m1 51h0m16-44h0m18-9h0m-87 55h0m13-28h0m-26 8h0m112-28h0m-56 57h0m-66-13h0m121-15h0m-130-5h0m-14 21h0m3 23h0m3-13h0m105-22h0m37-19h0m-132 27h0m121-16h0m-15 30h0m-63 26h0m-55-17h0m17-24h0m23 21h0m129-37h0m-94-13h0m33 22h0m4-28h0m63 15h0m-33-16h0m-42 24h0m-44-2h0m-30-15h0m66 0h0m12-12h0m-7 56h0m31-19h0m-58 19h0m81-57h0m-62 55h0m-51-39h0m56-19h0m40 4h0m22 32h0m-49-32h0m-35 59h0m11-20h0m24-21h0m-90 37h0m-14-20h0m64 23h0m-58-17h0m12-26h0m105 11h0m-39-9h0m40-7h0m18 14h0m13-14h0m-91 36h0m-22-41h0m-38 36h0m24 37h0m40-78h0m-35 26h0m7 44h0m24 0h0m-22-85h0m-14 63h0m49 21h0m-53 26h0m47-65h0m55-15h0m-97-9h0m20 24h0m-50 43h0m79-37h0m-35 6h0m-8 5h0m40-16h0m30-52h0m-59 76h0m0-80h0m-21 71h0m76-49h0m-26 38h0m-34 12h0m53 1h0m26-24h0m-2 4h0m-48 28h0m-14 5h0m21-10h0m-94 28h0m136-57h0m-40 56h0m-41-41h0m49-15h0m8 46h0m-13-7h0m61-64h0m-68 27h0m-32 71h0m92-63h0m19-12h0m-33-2h0m39-21h0m-118 49h0m63 5h0m-77-38h0m98-11h0m-96 30h0m15-14h0m19-6h0m65-9h0m-7 30h0m23-25h0m-114 71h0m137-88h0m-173 65h0m151-26h0m-17 12h0m-113 8h0m111-53h0m-17 65h0m49-45h0m-165 36h0m71 6h0m-16 13h0m-30-63h0m52 11h0m-68 31h0m57-23h0m-35 15h0m32-15h0m76-9h0m-104 12h0m8-20h0m95-4h0m-4 44h0m-33 3h0m16-28h0m-84 21h0m44 31h0m-19-35h0m119-53h0m-134 30h0m40 87h0m-18-49h0m9-4h0m6-41h0m-47-2h0m-3 67h0m-24-66h0m42-22h0m-10 13h0m15 8h0m89-12h0m22 40h0m-129 32h0m145-49h0m-71 33h0m36-68h0m-21 13h0m-82 42h0m-19-20h0m150-52h0m-15 39h0m-29 41h0m-13-43h0m-86 36h0m8 1h0m33 19h0m-69-19h0m162-44h0m-140 26h0m-19 15h0m115-3h0m-84 30h0m29-23h0m-34 25h0m52-64h0m-12 0h0m-54 29h0m100-25h0m-62 68h0m-32-43h0m16 43h0m81-26h0m54-54h0m-79 70h0m-64 14h0m120-44h0m-84-15h0m15-26h0m-14 56h0m-55-39h0m43 73h0m-11-33h0m24-24h0m54 34h0m-46 2h0m48-47h0m11-16h0m26-11h0m-150 90h0m121-41h0m10-27h0m-133 62h0m110-55h0m-62 14h0m18 10h0m77-8h0m-105-26h0m51 40h0m15-63h0m64 32h0m-172 25h0m13 1h0m18-40h0m-7 77h0m0-81h0m24 52h0m61-34h0m-7 36h0m-99 17h0m99-68h0m-19-2h0m14 54h0m-103 25h0m0-5h0m157-71h0m-18-17h0m-21 60h0m-69 24h0m23-41h0m-13 8h0m11 40h0m20-10h0m-38-24h0m-10 1h0m80-30h0m-55 62h0m-53-70h0m34 53h0m3-41h0m-11-19h0m2 69h0m17-20h0m62-12h0m-4 8h0m-114 32h0m100-67h0m-23 3h0m-68 17h0m83 17h0m-97-6h0m126-14h0m-52-19h0m66-24h0m-23 22h0m-31 21h0m-74 29h0m102-11h0m4-33h0m3-7h0m-121 54h0m75 2h0m-98-15h0m162-24h0m-17 30h0m10-36h0m-25-19h0m-43 57h0m3-18h0m7 9h0m77-48h0m-93 79h0m0-70h0m-4 73h0m121-56h0m-3-20h0m-152 54h0m84 1h0m-104 2h0m17-50h0m6 11h0m73-40h0m-59 43h0m24 29h0m58-10h0m18-3h0m-70 19h0m-40-55h0m36 16h0m-50 11h0m16 28h0m112-57h0m-57 36h0m-2-44h0m35 23h0m-33 39h0m-31-15h0m79-20h0m-132 34h0m22-5h0m-9-21h0m24 26h0m58-32h0m-2 62h0m15-68h0m32-12h0m-125 41h0m53-33h0m9 28h0m-19-24h0m97 0h0m-152 36h0m133 0h0m-78-35h0m20 20h0m14-2h0m14-10h0m-73 46h0m115-60h0m-31 7h0m17-33h0m-95 42h0m0 36h0m-4 2h0m30 20h0m26-23h0m12-62h0m-84 68h0m126-59h0m18-13h0m-127 15h0m22 48h0m24-40h0m15-2h0m69-28h0m-39 13h0m-105 71h0m144-52h0m-111 62h0m10-61h0m-71 50h0m70-3h0m98-58h0m-149 39h0m89-9h0m-29 9h0m62-37h0m-86-6h0m58 32h0m-88-10h0m37 2h0m-25-15h0m60 1h0m32 24h0m-73-39h0m104 10h0m0 9h0m-133 69h0m3 3h0m43-56h0m73 20h0m-92-8h0m128-32h0m-77-2h0m-75 63h0m99-10h0m-15-17h0m35-51h0m-69 24h0m62-9h0m-73-29h0m-54 60h0m107-9h0m31 10h0m-24-53h0m-48 62h0m-3-38h0m-49 50h0m98-56h0m70-31h0m-134 52h0m-23-20h0m58 48h0m7-17h0m19-32h0m55-1h0m-26-6h0m-18 17h0m-68-20h0m-27 39h0m68-11h0m-60 9h0m78-22h0m-114 11h0m185-15h0m-104 22h0m29 33h0m-62 1h0m-6-49h0m82-1h0m-24-22h0m-80-7h0m29 76h0m15-62h0m-12-10h0m21 90h0m-10-72h0m76-1h0m-70 34h0m-37-34h0m98 24h0m-11-49h0m-8 62h0m63-61h0m-18 31h0m-47 31h0m-26-41h0m-21-21h0m-56 59h0m2-32h0m62 56h0m36-74h0m-34-2h0m48 6h0m-64 32h0m90 12h0m17-24h0m-111 10h0m47-16h0m-9-3h0m40-1h0m-44-13h0m82 28h0m-106-14h0m92 11h0m-50 10h0m40-1h0m-54 29h0m20-43h0m-19 28h0m-26-4h0m109-33h0m-91-24h0m-32 79h0m32-41h0m-53-15h0m-26 34h0m45 20h0m122-53h0m-125 18h0m19-25h0m45 30h0m-117 42h0m159-74h0m-70 29h0m17-22h0m-66 2h0m-25 50h0m124-45h0m-99 50h0m142-68h0m-106 20h0m-47 7h0m74 12h0m36-12h0m-128 16h0m9 8h0m48-13h0m-41 38h0m108-60h0m-111 33h0m57-58h0m48 37h0m-26 39h0m-21-13h0m-63 40h0m132-57h0m-38-13h0m-93 20h0m137-41h0m-75 2h0m64 9h0m-79 18h0m-35 29h0m67-2h0m32-57h0m-23 2h0m-56 18h0m85-8h0m52-12h0m-64-3h0m-58 4h0m97 34h0m-101-34h0m55 50h0m-43-21h0m-43 44h0m73-8h0m14-35h0m-47 13h0m44-57h0m-113 36h0m67 38h0m-31 12h0m117-43h0m-64-10h0m-82 6h0m-5 38h0m148-49h0m-82 54h0m40-34h0m15 10h0m-122-10h0m7 40h0m97-51h0m-94 17h0m124-10h0m-25 24h0m43-43h0m-55 3h0m-8-13h0m90 13h0m-145 15h0m54 46h0m-25-98h0m110 28h0m-145 43h0m103 11h0m-111-30h0m25-20h0m110 25h0m-107 47h0m77-94h0m-49 51h0m-2-11h0m60-15h0m-35 39h0m-14-1h0m8-16h0m-18 41h0m-50-27h0m39-24h0m-2 50h0m38-22h0m82-43h0m-133-8h0m73 32h0m-78 49h0m79-79h0m22 6h0m-10 8h0m-47 20h0m-71 7h0m55 20h0m92-50h0m-113-13h0m92 4h0m-80 1h0m115-2h0m-109 82h0m-75-24h0m27-11h0m156-23h0m-18-47h0m-135 109h0m132-87h0m-96 74h0m-28-29h0m123 1h0m-82 14h0m-42-40h0m109-51h0m-6 11h0m-99 86h0m-18-15h0m39 18h0m75-76h0m-56 39h0m98-16h0m-39-23h0m-52 79h0m1-6h0m-52-35h0m29-11h0m-25 59h0m-12-68h0m21 26h0m13-37h0m-21 46h0m-5 8h0m-24 25h0m71-65h0m-45 22h0m111-52h0m-27 64h0m-97-2h0m93-53h0m-73 15h0m70-11h0m-95 30h0m-3 54h0m7-57h0m106 3h0m-30 48h0m-75-7h0m11-24h0m41-52h0m-41 88h0m17-51h0m103-28h0m-115 50h0m52-57h0m-82 73h0m104 6h0m-101-21h0m60-50h0m-30 54h0m160-38h0m-188 48h0m20-25h0m56 3h0m23 4h0m56-33h0m-98 53h0m-45-20h0m159-40h0m-175 62h0m8 0h0m-7-20h0m30-25h0m56 38h0m-82-10h0m152-43h0m-92 42h0m26-7h0m-86-16h0m77 6h0m-42 19h0m-23-56h0m52 55h0m3-65h0m-85 52h0m125-50h0m-71 73h0m93-27h0m-97 38h0m29-64h0m29 44h0m-5-57h0m-28 56h0m3-52h0m105 5h0m-111-5h0m78-22h0m-61 79h0m97-64h0m-21 7h0m-146 1h0m60 47h0m120-32h0m-169 1h0m51-6h0m-69 75h0m127-85h0m-117 94h0m83-56h0m-52-23h0m76-11h0m-2 17h0m0 20h0m15-57h0m-65 72h0m-72-3h0m157-68h0m-75 38h0m23 27h0m-45-37h0m129 0h0m-159 51h0m11-67h0m29 41h0m45 14h0m-87 25h0m32-30h0m36-11h0m39-55h0m-60 47h0m-17 48h0m-32-10h0m33 5h0m68-56h0m-70 33h0m131-47h0m-35 19h0m-112 0h0m66-7h0m47 4h0m-61 27h0m38-21h0m-135 35h0m44-17h0m24-29h0m39 13h0m-46-38h0m11 14h0m-11 49h0m73-43h0m-9-16h0m-75 17h0m102 1h0m-73 28h0m43-27h0m-109 10h0m123-14h0m-37-23h0m-93 86h0m200-89h0m-164 58h0m23-33h0m22-14h0m-70 111h0m142-109h0m5 15h0m-95 16h0m24-18h0m-65 43h0m-34-18h0m8-13h0m57 69h0m-24-22h0m64-69h0m-67 59h0m144-70h0m-143 18h0m70 70h0m36-32h0m-121 4h0m154-45h0m-108 60h0m10-35h0m-8-4h0m38-2h0m58 3h0m-56 29h0m-26-3h0m-68 4h0m168-65h0m-145 81h0m7-36h0m116-18h0m-134 67h0m5-57h0m8-19h0m-25 50h0m78-19h0m2 36h0m-46-38h0m-25-14h0m50 41h0m53-44h0m-8 1h0m-78 47h0m106-19h0m-123-23h0m68 19h0m-64-24h0m93 31h0m-75-6h0m-41 25h0m171-53h0m-138 49h0m57-14h0m-80-68h0m45 51h0m70 10h0m25-24h0m-2-17h0m-98 16h0m99-26h0m-46 4h0m46 59h0m-94-46h0m28-18h0m50 73h0m-80-66h0m-10 46h0m59-43h0m74 6h0m-156 32h0m26-59h0m55 47h0m-21-24h0m74-14h0m-130 54h0m116-6h0m16-30h0m11-1h0m-105 48h0m43-24h0m32-58h0m-39 87h0m-64 29h0m0-63h0m28 31h0m-24-7h0m131-52h0m-91 35h0m96-41h0m-146 55h0m55 13h0m-20-14h0m63-44h0m-29 6h0m-8 18h0m-27-5h0m72-34h0m-43 35h0m-31 36h0m59-45h0m-101 29h0m19 12h0m67-20h0m-88 17h0m106-38h0m-107 36h0m76-44h0m-88 32h0m143-27h0m-126 61h0m48-21h0m102-52h0m-89-7h0m-66 68h0m63-21h0m-81 19h0m137-35h0m-109 25h0m-20 18h0m69-64h0m-36 40h0m30 37h0m-31-37h0m20-25h0m-50 13h0m127-41h0m-88 72h0m96-41h0m-57-20h0m81 13h0m-113 24h0m-16 31h0m54-32h0m21-52h0m2 19h0m17 22h0m-79-2h0m2 27h0m42-7h0m-24-34h0m36 46h0m-52 2h0m31 24h0m-47-57h0m38 50h0m37-77h0m63 13h0m-63 24h0m9-28h0m-14 34h0m10-50h0m-17 62h0m-1-11h0m-36-16h0m-28 33h0m73-27h0m-26-25h0m-10 49h0m74 5h0m-88-6h0m69-80h0m20 63h0m-91-38h0m81 3h0m-106 25h0m-29 64h0m59-8h0m-40 6h0m176-102h0m-34 37h0m-73 21h0m-66-58h0m61 46h0m34 17h0m-72-51h0m10 65h0m6-44h0m33 19h0m16-31h0m-41 49h0m91-43h0m-104 54h0m3-42h0m-24-1h0m59 25h0m-14 20h0m-53-23h0m127-39h0m-31 51h0m-129-9h0m179-49h0m-131 22h0m109 30h0m-91-25h0m2 1h0m14-22h0m-68 40h0m40-3h0m102-44h0m-90 74h0m46-58h0m-106 21h0m60 24h0m-42-16h0m75-38h0m18-10h0m-112 66h0m151-63h0m-107 36h0m-8 37h0m-20-33h0m136-29h0m-32 10h0m-125 58h0m52-26h0m-13-39h0m20 8h0m34 11h0m81-57h0m-174 96h0m30-55h0m-14 37h0m44-31h0m127-26h0m-59 70h0m-46-50h0m41 9h0m-54 9h0m-8-9h0m-40 41h0m-12-32h0m54 7h0m-51 16h0m48-62h0m78 24h0m-19-30h0m-59 52h0m40-35h0m30-18h0m-39 43h0m81-6h0m4 1h0m-82 43h0m-37 8h0m-13-56h0m71 12h0m-78 10h0m-11 4h0m94-18h0m-87-30h0m118 0h0m53-11h0m-187 80h0m109-30h0m-51-7h0m19 2h0m-47 19h0m12 1h0m53-59h0m-4 9h0m-88 31h0m58 43h0m-67-32h0m64 41h0m2-34h0m-76-19h0m73 42h0m80-35h0m-67 8h0m-52 19h0m7-37h0m57 21h0m62-42h0m-163 25h0m61 21h0m33 5h0m-87-23h0m-7 41h0m29-50h0m114-14h0m-118 27h0m34 12h0m52-12h0m-16-17h0m-1-6h0m63 3h0m-51-5h0m-12-13h0m-62 61h0m91-16h0m-56 9h0m65-7h0m-64 12h0m-28-13h0m145-38h0m-16-13h0m-165 72h0m27-21h0m19-19h0m-19 3h0m29 46h0m22-9h0m-50-17h0m54-52h0m56 6h0m-3-7h0m30-7h0m1 21h0m-83 24h0m43 11h0m19-16h0m-103 44h0m17-26h0m39-42h0m21-23h0m71 31h0m-98-22h0m-81 19h0m94-11h0m-92 38h0m149-37h0m-14-10h0m-36 23h0m-27 3h0m40 2h0m10-2h0m6-18h0m-53 26h0m25-1h0m-54-29h0m103 10h0m-138 66h0m150-65h0m-44 26h0m-115-13h0m128 7h0m-59-28h0m-20 38h0m-14-8h0m49 20h0m-29 41h0m-19-78h0m110 19h0m-34-40h0m1 4h0m-57 15h0m11 49h0m48-46h0m8 29h0m-73-19h0m73-23h0m0 23h0m-4-19h0m-84-11h0m98 16h0m-93-14h0m-59 3h0m69 30h0m61-51h0m-15 39h0m29 34h0m-123-17h0m155-42h0m-149 97h0m7-50h0m97-30h0m-89 15h0m85 34h0m-39-39h0m57 39h0m-50-5h0m3-48h0m-42 30h0m-9 10h0m45-54h0m-18 33h0m61-40h0m-74 63h0m119-39h0m-158 9h0m104 16h0m8-8h0m-16 24h0m-74-13h0m3-1h0m-24 33h0m-3-53h0m94-30h0m59 8h0m-106 73h0m39-16h0m33-11h0m-146 26h0m76-27h0m-45 27h0m20-61h0m129 0h0m-107 70h0m43-29h0m45-39h0m-88 54h0m-11 4h0m72-95h0m3 32h0m51-27h0m-69 57h0m-48 24h0m71-22h0m-8-49h0m-43 41h0m-94 17h0m182-21h0m-150 3h0m47 46h0m89-58h0m44-1h0m-77 55h0m4-31h0m-71-58h0m38 78h0m20-31h0m-25 37h0m17-64h0m-25 12h0m-46 78h0m17-48h0m57-12h0m26-30h0m38 5h0m-139 1h0m3 38h0m78-42h0m12-6h0m-33 27h0m-77 69h0m5-81h0m-17 16h0m47-2h0m26 12h0m31-10h0m-9 36h0m52-73h0m-80 68h0m71-12h0m-90-29h0m10 32h0m-6 9h0m-32-30h0m109 39h0m-99 16h0m123-63h0m-88 20h0m9-32h0m34-11h0m-59 12h0m6 5h0m58 15h0m-26-20h0m24 49h0m28-50h0m-129 54h0m102-6h0m-5 8h0m-72-20h0m7-7h0m15-40h0m-17 29h0m37-38h0m68 26h0m-121 53h0m95-22h0m-77-5h0m125-31h0m-34 9h0m-59 50h0m85-30h0m-55 43h0m-44-57h0m-6 3h0m-33-3h0m134 5h0m-73 32h0m11-9h0m-46-21h0m-67 37h0m137-74h0m-85 13h0m95 24h0m-29-3h0m-42 3h0m-4 30h0m-31-46h0m-35 28h0m48 32h0m117-43h0m-130 61h0m52-60h0m-47 16h0m102-32h0m-119 39h0m65-31h0m-64 49h0m98-29h0m-62-33h0m24 62h0m6-49h0m10-20h0m-21-2h0m-38 39h0m2-26h0m-23 7h0m37 33h0m19-17h0m76-17h0m-54 43h0m74-42h0m-35 18h0m-34-18h0m-19-1h0m-79 34h0m144-22h0m-66 20h0m34-35h0m66-21h0m-134 43h0m30-13h0m-66-31h0m55 55h0m94-31h0m-34-2h0m-22 10h0m-91 39h0m136-52h0m-98 33h0m102-45h0m-18-6h0m-44 25h0m39-25h0m8 37h0m39-8h0m-192-3h0m108-7h0m22 17h0m35-49h0m13 40h0m-1-5h0m-64-28h0m-91 56h0m65-40h0m-26 22h0m-27 54h0m123-92h0m-75 62h0m111-33h0m-129-5h0m87 4h0m49 2h0m-137 16h0m30 2h0m53-9h0m-62-3h0m79-21h0m-69 77h0m95-79h0m-66 70h0m-81-7h0m-30-1h0m74-52h0m107-8h0m-25-18h0m-107 100h0m-17-66h0m25-25h0m-36 74h0m95-42h0m-39-41h0m30 52h0m-33-4h0m-40 47h0m124-58h0m-117-9h0m95-17h0m50 7h0m-84 29h0m25-46h0m-82 17h0m-17 86h0m2-82h0m164 3h0m-101 16h0m-60 60h0m74-72h0m9 19h0m-16-31h0m4 48h0m-32-7h0m-35-3h0m99-49h0m-104 9h0m107 49h0m-26 11h0m-37 7h0m42-87h0m-53 30h0m125 3h0m-32 14h0m-48-46h0m-90 60h0m80 34h0m98-99h0m-28 24h0m-108-3h0m70 14h0m-70 60h0m40-20h0m-25-28h0m50-5h0m-34 40h0m-71-31h0m112-29h0m-65 71h0m16 3h0m-6-9h0m-15-10h0m-19-40h0m18-18h0m-19 23h0m137-22h0m-108 29h0m-34 34h0m6-19h0m99 6h0m-91 29h0m9-11h0m-2-40h0m82-3h0m-58-27h0m43 60h0m56-52h0m-74 59h0m24-71h0m-20-3h0m-46 45h0m1 40h0m43-31h0m56-30h0m-43-25h0m-26 74h0m-38 19h0m5-15h0m75-39h0m4-28h0m-134 77h0m62-72h0m49 62h0m-71-11h0m34 12h0m59-10h0m-108-43h0m77 42h0m3-17h0m-75-21h0m66-2h0m36 13h0m-92 18h0m19-53h0m-8 4h0m7 51h0m112-30h0m-78-18h0m27 2h0m-88 44h0m16 11h0m-27 2h0m27-42h0m74-31h0m-82 33h0m151-21h0m-117 33h0m-38 20h0m85-57h0m-97 35h0m72 52h0m24-29h0m-22-1h0m-42 0h0m41-54h0m63 6h0m-103 24h0m36 13h0m-8-16h0m46-31h0m-5 27h0m67 9h0m-69-36h0m27 15h0m-98 47h0m127-41h0m-55-10h0m6 59h0m-88-37h0m39 37h0m68-34h0m18-27h0m-109 36h0m96-49h0m-131 77h0m-10-43h0m118-20h0m-102 13h0m-37 50h0m140-85h0m-125 87h0m120-48h0m-15 4h0m-102 21h0m118 1h0m-68-48h0m55 19h0m-59 28h0m75-12h0m-88-40h0m106-19h0m-126 81h0m14-25h0m106-17h0m-143 51h0m44-58h0m90 1h0m-13-17h0m-37 39h0m78-16h0m-90 41h0m5-12h0m71 6h0m-29-66h0m2 2h0m28 27h0m-49-15h0m47 53h0m-124 18h0m36-48h0m61-5h0m-82 24h0m-12 5h0m96-34h0m-23 22h0m-40 39h0m-3-23h0m48 3h0m-49-34h0m1-33h0m-7 14h0m66-22h0m-95 38h0m13-22h0m38 50h0m61-44h0m-50 0h0m-5 0h0m-25 7h0m-11 56h0m7-61h0m39 42h0m2-34h0m66-28h0m-42 30h0m-75 26h0m17-51h0m-6 6h0m72 79h0m33-64h0m-106 65h0m-10-2h0m-40 3h0m128-110h0m-40 42h0m25 42h0m1-64h0m-69 42h0m34 9h0m73-4h0m-62-48h0m13 77h0m86-76h0m-106 21h0m-7 82h0m-37-29h0m24 7h0m32-40h0m51-30h0m-99-9h0m-46 56h0m12-6h0m122-42h0m-118 21h0m43-4h0m48 8h0m4-26h0m26 55h0m-20 6h0m-15-33h0m14 3h0m-4 13h0m-99 29h0m127-62h0m-77 38h0m-13 45h0m163-91h0m-176 60h0m65-16h0m-66 35h0m79-64h0m23 24h0m-50-11h0m13 3h0m57-18h0m-32-17h0m-50 75h0m64-23h0m-59 14h0m56-49h0m-25 24h0m-1 13h0m-100 40h0m42-54h0m-24 22h0m116-55h0m-36 54h0m5-35h0m-46 10h0m32 28h0m-28-111h0m8 90h0m14 4h0m-60-7h0m-3-16h0m187-20h0m-133 1h0m39 20h0m-104 20h0m62 37h0m-71-27h0m-6-24h0m50 25h0m42-25h0m-98 75h0m58-45h0m52-26h0m-29-37h0m24 25h0m-50 3h0m-11 29h0m-19-1h0m125-34h0m-65 10h0m8-15h0m-44 21h0m12-40h0m-15 75h0m31-25h0m-41-42h0m33 17h0m-53 27h0m157-55h0m-102 73h0m87-58h0m-63 53h0m67-42h0m-116 42h0m33-33h0m1 27h0m44-29h0m-83-21h0m4-14h0m-53 68h0m65 27h0m99-88h0m9 22h0m-100 87h0m-29-70h0m101-37h0m-108 25h0m-22 41h0m128-14h0m-52-26h0m83 24h0m-161-36h0m28 13h0m32 24h0m-36 27h0m111-73h0m-70 52h0m-49-36h0m86-16h0m4 53h0m-35-11h0m-50 4h0m21 15h0m-15 26h0m26-10h0m52-8h0m-4-41h0m-25-30h0m-32 77h0m61-11h0m13-53h0m-86 38h0m110 9h0m-11-26h0m-72-27h0m45 44h0m-3-44h0m32 56h0m-26 31h0m31-77h0m-105-3h0m47 1h0m15 28h0m-89 44h0m135-47h0m52-3h0m-127-11h0m6-36h0m50 21h0m-91 49h0m110-14h0m27-6h0m-113-38h0m29 27h0m47-26h0m-30-12h0m-78 58h0m5-12h0m96 17h0m-58 25h0m-51-27h0m84-33h0m48-35h0m-81 83h0m19 13h0m47-58h0m-109-19h0m46 51h0m88-80h0m-95 28h0m77 24h0m38-53h0m-25 0h0m-153 100h0m84-15h0m-111-2h0m83-16h0m-3-30h0m70 59h0m12-25h0m-74-29h0m88 31h0m-27-53h0m20 47h0m-76-17h0m46 23h0m5-8h0m36 4h0m-181-17h0m92 40h0m-48-19h0m9 31h0m-40-11h0m189-46h0m-145-13h0m101 15h0m-19-13h0m-64 73h0m-14 31h0m108-62h0m22-16h0m-81-28h0m-19-15h0m-13 29h0m33 46h0m59-65h0m-31-30h0m-78 75h0m45-4h0m-8-49h0m-54 54h0m50 5h0m22-30h0m-83 6h0m87 19h0m-60-10h0m14 2h0m43-36h0m-50 60h0m65-10h0m75-83h0m-83 67h0m-28 3h0m-66 45h0m25 13h0m5-38h0m148-10h0m-24-52h0m-67-6h0m-13 36h0m-63 53h0m45-33h0m-70 30h0m100-44h0m-48 46h0m-30-85h0m120 66h0m-84-22h0m5 18h0m52-41h0m41-25h0m-101 107h0m145-100h0m-27 4h0m-73 55h0m25-43h0m-119 17h0m134-32h0m-71 29h0m12 6h0m79-6h0m-96 44h0m-11-19h0m45-12h0m0 28h0m-81-8h0m134-35h0m24-14h0m-4-15h0m-85-2h0m102 40h0m7 4h0m-51-21h0m-11 15h0m-12 3h0m-115 47h0m66-7h0m56-33h0m12-8h0m-2-18h0m-70-8h0m-10 54h0m34 10h0m86-61h0m-122 11h0m116 28h0m-117-56h0m19 60h0m75-23h0m-82 37h0m13 5h0m-25-53h0m34-15h0m-50 53h0m32-29h0m-14 23h0m2 29h0m-74-17h0m56-80h0m25 77h0m-3-41h0m18 27h0m72-7h0m-112-15h0m127-1h0m-115 81h0m-23-106h0m-18 82h0m105-48h0m61-25h0m-72 20h0m82-23h0m-56 41h0m-34 12h0m-52 12h0m90-71h0m-92 90h0m-1-52h0m-12 14h0m-10 0h0m123-58h0m13 54h0m-82 21h0m6-47h0m-75 39h0m73-19h0m-74 19h0m23 32h0m149-75h0m-116-12h0m25 75h0m18-66h0m42-9h0m5-10h0m-67 92h0m26-71h0m-12-16h0m-85 60h0m129-45h0m-14 5h0m-3-14h0m-53 42h0m68-10h0m-37-12h0m1 10h0m-2-4h0m-33-42h0m54 19h0m-92 38h0m-3 33h0m23-30h0m103 5h0m-71-13h0m12-27h0m29 57h0m-129-20h0m78 66h0m104-130h0m14 12h0m-111 90h0m51-101h0m43 4h0m3 71h0m-67-41h0m-55-5h0m148 13h0m-153 39h0m0-31h0m86-22h0m-37 22h0m-20-3h0m64-22h0m-84 70h0m11-47h0m75 11h0m-89 25h0m18-71h0m-38 21h0m76 14h0m-21-18h0m5 33h0m41-42h0m-26-15h0m-3 18h0m-104 31h0m67-29h0m-35 13h0m-9 21h0m135-46h0m30-26h0m-31 20h0m3 39h0m-98-37h0m-20 49h0m9 2h0m28-27h0m25-27h0m55 4h0m-92 9h0m26-27h0m-55 55h0m94-7h0m-63 32h0m35-5h0m35-14h0m-30-9h0m-91-11h0m24 19h0m85-41h0m-12 55h0m-4-27h0m-91 62h0m186-46h0m-186 22h0m194-64h0m-161 42h0m-20 3h0m59 2h0m-29 3h0m33-60h0m9 55h0m13-13h0m39 7h0m-129 9h0m126-49h0m-81 95h0m-48-46h0m58 31h0m-20 4h0m135-69h0m-12 25h0m-9-25h0m23-16h0m-148 57h0m66-23h0m-72-17h0m11 44h0m110-45h0m-20 33h0m-40-16h0m-35 14h0m-5-71h0m122 31h0m-163 30h0m64 19h0m45-48h0m-62-13h0m71 33h0m-49-17h0m-24 31h0m-48 1h0m51-9h0m-2 36h0m23 16h0m-21-75h0m107-2h0m-46 47h0m-48-27h0m51-31h0m-35 29h0m-26 41h0m15-23h0m22 24h0m-37-63h0m74 2h0m-96 47h0m121-9h0m-98-38h0m-61-1h0m58 54h0m-36 0h0m134-77h0m-174 34h0m108 17h0m0 4h0m-49-35h0m-3-11h0m48 81h0m16 7h0m0-36h0m25-7h0m-93 18h0m24-61h0m18-13h0m-20 75h0m-31-6h0m81 1h0m-55-57h0m-40 66h0m18 3h0m73-8h0m16-55h0m-25-30h0m17 14h0m-23 35h0m73-30h0m-200 57h0m65 37h0m116-41h0m-42-11h0m-55-3h0m40 19h0m23-61h0m-64 55h0m23-1h0m93-20h0m-124 21h0m21 3h0m72-19h0m-88 5h0m8-21h0m105-14h0m-117 50h0m86 0h0m-28-27h0m-80 79h0m23-29h0m-18-37h0m72-20h0m25 7h0m65 22h0m-166 14h0m101-46h0m10-2h0m-76-21h0m67 14h0m-130 51h0m30-3h0m133-13h0m-151 13h0m29 36h0m56-28h0m-10 1h0m72-83h0m-140 90h0m17-37h0m99-37h0m31 49h0m-122-35h0m109-1h0m-116 73h0m143-43h0m-111 46h0m38-56h0m-72 21h0m6 12h0m-19 8h0m43-27h0m-36 20h0m60 30h0m69-47h0m-129 13h0m-4-54h0m-1 40h0m-6 55h0m29-69h0m34 38h0m-25 15h0m44-88h0m-43 31h0m19 41h0m-38-40h0m8-6h0m102-16h0m-82 23h0m-32 56h0m25-22h0m123-51h0m-153 25h0m-10 77h0m85-32h0m-70-35h0m98 1h0m29-66h0m-15-3h0m-11 86h0m-75 23h0m-60-72h0m2 63h0m58-2h0m104-22h0" stroke="#c6c5c9" stroke-width="2.64" stroke-linecap="round" fill="none" stroke-opacity="1.0"/><line x1="45.60" y1="452.90" x2="258.78" y2="278.00" stroke="#000" stroke-width="1.3" /><line x1="45.60" y1="418.45" x2="258.78" y2="243.55" stroke="#000" stroke-width="1.25" stroke-dasharray="1.3 1.6"/><line x1="45.60" y1="487.35" x2="258.78" y2="312.45" stroke="#000" stroke-width="1.25" stroke-dasharray="1.3 1.6"/></g><line x1="55.90" y1="291.30" x2="55.90" y2="439.80" stroke="#000" stroke-width="1.5" /><line x1="55.20" y1="439.10" x2="249.80" y2="439.10" stroke="#000" stroke-width="1.5" /><line x1="52.50" y1="293.50" x2="55.50" y2="293.50" stroke="#222" stroke-width="1.0" /><text x="48.50" y="297.40" font-size="10" fill="#222" text-anchor="end" stroke="#222" stroke-width="0.2">1</text><line x1="52.50" y1="346.50" x2="55.50" y2="346.50" stroke="#222" stroke-width="1.0" /><text x="48.50" y="350.40" font-size="10" fill="#222" text-anchor="end" stroke="#222" stroke-width="0.2">0</text><line x1="52.50" y1="399.50" x2="55.50" y2="399.50" stroke="#222" stroke-width="1.0" /><text x="48.50" y="403.40" font-size="10" fill="#222" text-anchor="end" stroke="#222" stroke-width="0.2">−1</text><line x1="110.50" y1="439.50" x2="110.50" y2="442.50" stroke="#222" stroke-width="1.0" /><text x="110.20" y="453.50" font-size="10" fill="#222" text-anchor="middle" stroke="#222" stroke-width="0.2">−1</text><line x1="174.50" y1="439.50" x2="174.50" y2="442.50" stroke="#222" stroke-width="1.0" /><text x="174.80" y="453.50" font-size="10" fill="#222" text-anchor="middle" stroke="#222" stroke-width="0.2">0</text><line x1="239.50" y1="439.50" x2="239.50" y2="442.50" stroke="#222" stroke-width="1.0" /><text x="239.40" y="453.50" font-size="10" fill="#222" text-anchor="middle" stroke="#222" stroke-width="0.2">1</text><clipPath id="cBR"><rect x="317.8" y="291.3" width="193.3" height="147.09999999999997"/></clipPath><g clip-path="url(#cBR)"><path transform="scale(0.5)" d="M810 743h0m96-86h0m-50 39h0m-62 42h0m104-84h0m-17 25h0m-53 36h0m9-28h0m-18 84h0m30-60h0m87-53h0m-86 57h0m-12-5h0m-40 32h0m87-65h0m-62 30h0m-70 71h0m194-141h0m-48 35h0m-31-12h0m-35 33h0m85-29h0m-92 29h0m65-28h0m-93 96h0m10 0h0m17-45h0m-64 35h0m147-78h0m-83 28h0m67-26h0m-74 25h0m-20 58h0m105-115h0m53 8h0m-199 101h0m74-60h0m23 2h0m52-17h0m30-27h0m-131 101h0m-7-37h0m-22 17h0m36 8h0m-20-9h0m152-50h0m-16-20h0m-116 94h0m-49 8h0m81-52h0m67-73h0m-35 49h0m77-60h0m-37 57h0m-134 99h0m76-89h0m-65 60h0m163-117h0m-183 109h0m159-58h0m-151 53h0m124-64h0m-66 42h0m43-20h0m-91 34h0m143-93h0m-57 43h0m-23 24h0m-56 62h0m50-78h0m-37 45h0m120-89h0m-9 32h0m21-36h0m16 2h0m-131 82h0m-114 65h0m121-67h0m-46 30h0m157-124h0m-95 83h0m23-25h0m-4 9h0m-74 35h0m97-70h0m30 4h0m-144 94h0m33-28h0m30-29h0m70-48h0m6 7h0m-153 91h0m3 9h0m79-54h0m-13 30h0m12-65h0m96-33h0m-139 97h0m116-79h0m-40 12h0m56-9h0m44-25h0m-141 51h0m-29 46h0m-30-2h0m112-21h0m-109 58h0m189-102h0m-88-19h0m-2 41h0m-78 65h0m124-101h0m-162 103h0m130-90h0m64-19h0m-85 60h0m-116 57h0m62-43h0m86-38h0m-16 10h0m6-30h0m-121 76h0m-34 23h0m51-13h0m171-119h0m-153 96h0m1 6h0m-17-7h0m-30 33h0m57-53h0m114-53h0m-123 72h0m5 34h0m102-93h0m-15 18h0m-146 72h0m61-9h0m-14-20h0m43-29h0m74-41h0m39-19h0m-170 104h0m88-68h0m-86 75h0m70-40h0m-55 29h0m-35 15h0m103-64h0m-102 63h0m2-8h0m57-18h0m-21 2h0m101-59h0m-54 10h0m30 11h0m-80 44h0m47-27h0m85-48h0m-58 21h0m40-38h0m-31 14h0m21 4h0m60-34h0m-90 45h0m-141 101h0m92-63h0m75-38h0m49-7h0m-30-34h0m8 20h0m-160 70h0m139-54h0m-43-23h0m-146 127h0m150-43h0m76-83h0m-146 100h0m39-7h0m-96 14h0m124-86h0m-63 71h0m97-67h0m-93 95h0m148-103h0m-67 6h0m-65 60h0m-81 52h0m100-89h0m-48 44h0m93-57h0m12-1h0m45-28h0m-86 20h0m71-16h0m-80 56h0m-70 37h0m15-6h0m145-84h0m-69 20h0m58-2h0m-163 78h0m9-6h0m118-86h0m-49 28h0m-31 28h0m-18 3h0m156-80h0m-98 69h0m-22 12h0m86-63h0m18-2h0m-107 89h0m-13-7h0m149-99h0m-178 102h0m148-83h0m-160 83h0m31-8h0m-25 13h0m69-24h0m27-22h0m91-41h0m-104 13h0m103-32h0m-176 94h0m137-78h0m-126 99h0m7-21h0m5 11h0m97-53h0m58-59h0m-128 61h0m-5 5h0m92-39h0m-163 89h0m68-29h0m105-49h0m-108 14h0m36 3h0m89-35h0m-230 115h0m156-115h0m-70 90h0m123-89h0m-31-10h0m-92 60h0m151-76h0m-92 66h0m-51 41h0m141-90h0m-135 95h0m52-62h0m55-10h0m-50-4h0m-60 70h0m80-85h0m32 22h0m-6 10h0m-68 36h0m25-15h0m-7-7h0m-1-4h0m76-35h0m-132 65h0m-49 27h0m-8 19h0m94-71h0m80-45h0m-95 72h0m-19 7h0m-51 16h0m79-56h0m54-10h0m12-23h0m16-6h0m-12 18h0m-100 75h0m72-71h0m-21 0h0m-116 103h0m153-85h0m12-58h0m-35 44h0m-7 7h0m49 2h0m-12-7h0m-108 42h0m93-62h0m-5-16h0m48 16h0m-59 27h0m-112 55h0m121-97h0m-53 94h0m111-85h0m-73 24h0m41-40h0m-31 40h0m52 4h0m-107 40h0m-54 25h0m80-75h0m-48 44h0m59-38h0m17-14h0m82-25h0m-69 38h0m56-15h0m-32-13h0m-156 119h0m93-81h0m-81 57h0m56-51h0m-55 62h0m64-22h0m-5-36h0m97-38h0m-141 83h0m134-80h0m-35 12h0m44-43h0m-93 52h0m-26 64h0m13-24h0m65-56h0m-38 73h0m-73 10h0m126-89h0m-24 28h0m-56-3h0m61-18h0m-43 8h0m-48 41h0m68-40h0m-102 76h0m35-15h0m115-73h0m-101 52h0m-3 14h0m31-38h0m-6 8h0m60-28h0m6 2h0m-148 76h0m188-111h0m-23 19h0m17-15h0m-5 11h0m-109 55h0m3 15h0m71-41h0m-137 61h0m140-79h0m-91 40h0m27 11h0m2-2h0m123-78h0m-173 92h0m133-74h0m-3-3h0m-172 106h0m132-79h0m40 4h0m-117 61h0m51-3h0m-27-38h0m-47 28h0m124-54h0m69-17h0m-10-3h0m-108 32h0m103-41h0m-121 104h0m10-44h0m-121 67h0m155-89h0m-176 80h0m251-124h0m-59 19h0m8 2h0m-44 5h0m-91 87h0m97-88h0m83 6h0m-111 12h0m30-5h0m44 5h0m-31 10h0m-113 73h0m86-102h0m81-2h0m-188 86h0m88-11h0m85-89h0m-100 78h0m-25 14h0m-42 13h0m111-63h0m-159 109h0m120-82h0m48-32h0m-31 26h0m-57 46h0m175-111h0m-124 104h0m68-82h0m-109 71h0m150-91h0m-182 107h0m69-57h0m-8 24h0m114-65h0m-136 58h0m-13 7h0m93-53h0m-59 63h0m2-24h0m92-51h0m34-13h0m-58-4h0m-53 80h0m122-91h0m-128 72h0m-45 45h0m56-4h0m-19 4h0m5-14h0m41-31h0m-115 49h0m111-79h0m-73 75h0m98-70h0m-24 30h0m-7 1h0m17-6h0m78-57h0m-52 25h0m-76 54h0m-38 15h0m107-52h0m-72 12h0m87-8h0m7-28h0m-185 99h0m67-46h0m101-39h0m-171 119h0m62-59h0m-5 4h0m-33 39h0m12-11h0m133-83h0m-70 25h0m-18-2h0m99-41h0m32 7h0m-63-6h0m-63 57h0m95-60h0m3-45h0m-75 50h0m79-6h0m45-26h0m-199 114h0m102-47h0m-38-18h0m46-2h0m71-38h0m-99 67h0m9-24h0m-102 40h0m-12 49h0m36-45h0m9 10h0m-10-15h0m179-101h0m-24 26h0m-79 34h0m100-52h0m-146 70h0m-46 40h0m109-48h0m50-28h0m-160 98h0m52-29h0m-19 12h0m93-79h0m-122 119h0m107-104h0m-72 19h0m110-36h0m-32 14h0m9-20h0m-127 82h0m-7 29h0m127-82h0m-85 50h0m120-60h0m-45-9h0m-88 71h0m24-42h0m13 19h0m-34 21h0m-15 1h0m98-57h0m-11 24h0m44-34h0m-111 49h0m132-50h0m10-8h0m-180 96h0m133-92h0m-85 62h0m37-32h0m90-24h0m-85 55h0m38-68h0m61-7h0m-63 22h0m-59 30h0m53-25h0m1 9h0m-125 70h0m118-68h0m24-18h0m24-8h0m-157 70h0m188-100h0m-40 25h0m-83 66h0m88-35h0m-75-9h0m-109 92h0m111-87h0m33 46h0m-1-56h0m11 40h0m24-47h0m-180 99h0m165-97h0m-150 80h0m162-60h0m-60-23h0m-76 65h0m96-62h0m3 27h0m-59 36h0m107-64h0m-150 93h0m119-83h0m-76 37h0m-4 2h0m-7 9h0m56-58h0m17 5h0m48-21h0m-155 92h0m61-59h0m22 10h0m-12-10h0m-75 102h0m120-111h0m88-39h0m-9 10h0m-73 18h0m87-35h0m-45 9h0m-88 70h0m-10-21h0m-46 73h0m96-86h0m54-48h0m-29 15h0m34 5h0m-97 56h0m8-4h0m-10-13h0m99-56h0m-178 127h0m126-89h0m4-4h0m-39-1h0m44-9h0m8-5h0m-103 52h0m20-2h0m96-43h0m-149 88h0m2 24h0m131-97h0m-132 71h0m194-93h0m-251 134h0m217-120h0m-80 14h0m69-12h0m-179 106h0m103-102h0m-77 80h0m107-89h0m-115 119h0m8-28h0m154-94h0m7-8h0m-126 62h0m73-29h0m-13 4h0m61-14h0m-22 17h0m17-42h0m-139 103h0m29-27h0m25-20h0m-54 43h0m38-31h0m25-37h0m45 0h0m40-16h0m-170 88h0m98-55h0m-49 10h0m-6 22h0m167-107h0m-50 29h0m-96 65h0m93-56h0m-65 3h0m19 37h0m-1-29h0m87-22h0m-144 58h0m93-67h0m-28 32h0m39-5h0m-5-9h0m16 1h0m-90 27h0m-21 37h0m2-6h0m0 19h0m82-75h0m-11 5h0m48-11h0m22-13h0m-62-8h0m-80 114h0m82-71h0m-81 20h0m27 14h0m-96 79h0m163-128h0m-110 78h0m160-84h0m-16 1h0m-46 7h0m59-36h0m-116 73h0m34-1h0m-94 45h0m76-74h0m-104 89h0m-10-9h0m121-40h0m32-42h0m14-16h0m65-31h0m-48 49h0m-3-37h0m1 19h0m-106 40h0m25 15h0m46-47h0m-89 72h0m125-80h0m-129 56h0m94 7h0m-119 44h0m136-77h0m-89-8h0m111-28h0m-173 124h0m76-48h0m-25 7h0m-17 12h0m69-46h0m-30 13h0m117-69h0m-17 38h0m-135 74h0m168-97h0m-78 52h0m-131 44h0m152-86h0m69-32h0m-11 1h0m-154 112h0m101-84h0m-56 9h0m36-27h0m-110 90h0m159-79h0m-98 97h0m-34-31h0m53-23h0m9-3h0m-77 20h0m98-45h0m-34 35h0m44-65h0m-73 120h0m57-76h0m-84 29h0m95-34h0m-6 7h0m3-15h0m51-24h0m-29 8h0m7 3h0m-38 20h0m11 12h0m-83 18h0m53-39h0m-3-3h0m-18 36h0m120-51h0m-92 42h0m-39 45h0m-74 17h0m76-37h0m71-67h0m-109 95h0m131-107h0m-119 86h0m128-85h0m-71 43h0m-65 51h0m54 11h0m79-99h0m-128 63h0m11 24h0m-3-29h0m-28 24h0m20-1h0m117-61h0m-152 87h0m98-73h0m-44 31h0m103-51h0m-84 17h0m116-35h0m-147 72h0m-42 45h0m94-74h0m-64 42h0m121-80h0m-148 88h0m56-30h0m101-71h0m-20 33h0m-127 85h0m-18-11h0m117-85h0m-135 102h0m171-118h0m-166 116h0m132-70h0m-43 7h0m93-55h0m-210 135h0m231-142h0m-86 47h0m-25 30h0m92-40h0m-53 7h0m-55 29h0m96-61h0m-15-14h0m22 37h0m-33-32h0m-104 143h0m66-106h0m-131 105h0m114-100h0m32 28h0m-117 46h0m29-20h0m169-91h0m-43 11h0m-65 37h0m-45 43h0m4-8h0m73-62h0m-58 78h0m55-25h0m-64-9h0m145-51h0m-36-10h0m24-7h0m-1 15h0m-101 49h0m-54 42h0m62-46h0m3 9h0m7-15h0m-82 54h0m47-12h0m122-99h0m-58 59h0m-11-21h0m65-13h0m-96 49h0m62-40h0m-12 6h0m-1 2h0m-104 37h0m-1 59h0m47-70h0m21 8h0m18-16h0m-97 60h0m18-32h0m81-66h0m-137 105h0m160-101h0m-158 97h0m21-2h0m-8 4h0m75-26h0m87-65h0m-47-16h0m-29 54h0m-78 45h0m191-84h0m-34-6h0m-34-4h0m-103 91h0m168-105h0m-45 39h0m-102 13h0m156-47h0m15-14h0m-126 32h0m-43 67h0m76-47h0m25-22h0m-66 73h0m-119 36h0m47-16h0m23-26h0m73-57h0m41 0h0m-4-47h0m9 50h0m-68 26h0m50-28h0m61-29h0m-92 32h0m-42 23h0m-57 41h0m98-79h0m-18 44h0m60-70h0m-51 83h0m90-67h0m-65 16h0m62-11h0m-104 34h0m74-14h0m-117 34h0m36-22h0m-51 46h0m119-62h0m-63 1h0m56-3h0m-66 33h0m-11 36h0m6-38h0m-4 27h0m22-23h0m43-59h0m-83 90h0m4-26h0m-57 63h0m113-85h0m-73 35h0m116-66h0m5 21h0m42-16h0m-55 9h0m26-15h0m-90 43h0m-37 49h0m108-95h0m-140 114h0m178-143h0m-1 28h0m-10-5h0m-144 90h0m-46 33h0m55-13h0m58-85h0m108-24h0m-69-6h0m-71 74h0m58-45h0m-72 41h0m62-43h0m83-26h0m-159 89h0m91-66h0m72-11h0m-127 86h0m87-64h0m20-48h0m-94 77h0m-37 16h0m-31 6h0m166-61h0m22-14h0m-194 95h0m-14 14h0m53-52h0m-41 38h0m48-31h0m96-73h0m-150 91h0m161-69h0m0-34h0m-10-1h0m-132 129h0m119-72h0m-118 53h0m10 1h0m99-53h0m-73 42h0m31-39h0m76-47h0m8 20h0m-126 63h0m103-92h0m13-8h0m-10 14h0m39-1h0m-25 28h0m-56-12h0m-73 61h0m105-39h0m-92 28h0m85-34h0m-61 15h0m21-10h0m-19 36h0m11 2h0m79-85h0m-1 11h0m-7 55h0m-53-3h0m-94 41h0m129-55h0m-105 59h0m6-22h0m168-60h0m-7-15h0m-38 36h0m-68 2h0m-63 64h0" stroke="#b3b3b5" stroke-width="2.88" stroke-linecap="round" fill="none" stroke-opacity="1.0"/><polygon points="488.0,313.5 478.0,316.0 470.0,320.1 460.0,323.5 450.0,326.2 430.0,337.9 415.0,347.0 400.0,361.0 390.0,371.0 380.0,378.0 372.0,384.0 372.0,386.0 380.0,383.0 390.0,380.0 400.0,375.0 415.0,365.0 430.0,354.9 450.0,341.2 460.0,339.5 470.0,337.1 478.0,328.0 488.0,316.5" fill="#c6c5c9" stroke="#c6c5c9" stroke-width="1.5" stroke-linejoin="round"/><path transform="scale(0.5)" d="M807 732h0m98-62h0m36-23h0m-12 14h0m-46 21h0m-23 29h0m-39 4h0m-24 27h0m69-63h0m-16 25h0m-64 49h0m57-37h0m-69 36h0m133-87h0m-17 9h0m76-35h0m-59 14h0m34 12h0m-168 87h0m188-109h0m-47 36h0m-25-19h0m-46 52h0m18-28h0m-19 2h0m69-15h0m-15-8h0m-97 71h0m109-56h0m-86 24h0m30 11h0m33-38h0m-54 40h0m3-19h0m31 8h0m62-51h0m-61 26h0m2 6h0m81-34h0m-184 111h0m87-66h0m-32 34h0m98-55h0m14-13h0m26-23h0m-87 40h0m24-20h0m24 0h0m-48 12h0m-1 33h0m-64 24h0m64-59h0m-10 14h0m17 10h0m-47 33h0m-36 23h0m145-106h0m-13 2h0m-125 92h0m103-82h0m-117 90h0m78-39h0m-39-8h0m-44 56h0m79-63h0m-57 44h0m136-86h0m11 1h0m-146 95h0m26-28h0m-84 55h0m182-129h0m-53 46h0m-65 44h0m-31 11h0m21-10h0m130-80h0m21 5h0m-19-7h0m-119 78h0m114-55h0m-126 55h0m25-7h0m80-59h0m5 9h0m-63 8h0m88-14h0m-83 21h0m-74 72h0m29-40h0m139-83h0m-10 12h0m-67 47h0m-17 0h0m-24 0h0m-26 30h0m52-27h0m-27 1h0m131-68h0m-85 44h0m2 22h0m-29 18h0m15-36h0m19-3h0m83-41h0m-51 25h0m5-2h0m39-15h0m-154 94h0m37-25h0m96-64h0m37-18h0m-113 48h0m-37 31h0m68-37h0m-12 8h0m-77 62h0m-17 4h0m124-81h0m-77 30h0m91-20h0m-12-25h0m-71 58h0m-91 62h0m61-36h0m18-8h0m-7-6h0m-51 38h0m27-32h0m79-43h0m59-31h0m-84 35h0m97-49h0m-112 50h0m1 14h0m-5 12h0m96-38h0m-102 41h0m8-22h0m-30 42h0m114-74h0m-51 18h0m-7 22h0m60-36h0m3-15h0m-121 75h0m71-52h0m-84 68h0m163-108h0m-86 55h0m-30 34h0m110-71h0m-101 59h0m-96 51h0m151-85h0m-31-7h0m19 13h0m77-38h0m-114 63h0m0-4h0m-1-26h0m80-26h0m-16 0h0m35-1h0m-50 0h0m-10 36h0m55-29h0m-125 63h0m117-58h0m-124 59h0m71-34h0m-62 13h0m80-34h0m61-29h0m-169 88h0m178-100h0m-102 60h0m-23 16h0m116-64h0m-121 77h0m-8-8h0m106-46h0m-145 73h0m29-5h0m-44 15h0m2 6h0m18-19h0m149-75h0m-37 2h0m24 9h0m-129 56h0m72-52h0m45-25h0m-58 47h0m-47 29h0m74-37h0m53-27h0m-93 45h0m87-65h0m-41 41h0m27-17h0m7-5h0m7-19h0m16-1h0m-57 16h0m9 27h0m9-23h0m-1 2h0m-7 9h0m-100 57h0m150-84h0m-148 87h0m101-70h0m-149 102h0m68-32h0m124-67h0m-10-25h0m-81 57h0m7-12h0m-29 13h0m43-21h0m36 3h0m56-44h0m-42 18h0m-92 48h0m-68 50h0m47-22h0m61-43h0m-135 84h0m202-110h0m-9-19h0m-1 8h0m-157 100h0m35-9h0m-21 0h0m93-78h0m-45 58h0m22-45h0m-31 18h0m94-31h0m-39-1h0m44 3h0m-104 41h0m91-36h0m36-24h0m-37 31h0m-159 94h0m188-113h0m-33 8h0m-83 36h0m-3 20h0m-32 30h0m65-57h0m30-21h0m-3 0h0m-45 31h0m0 16h0m44-29h0m48-25h0m-73 17h0m-112 80h0m85-58h0m-82 59h0m97-80h0m3 6h0m6 9h0m48-36h0m-71 35h0m15 12h0m91-41h0m-29-6h0m36-5h0m-116 45h0m126-55h0m-17 13h0m-141 78h0m80-60h0m-75 34h0m24 6h0m91-59h0m33-9h0m-30 1h0m-80 50h0m-74 58h0m24-23h0m155-90h0m-90 49h0m-78 40h0m54-42h0m20-3h0m-50 45h0m134-92h0m-139 97h0m30-22h0m100-59h0m-55 27h0m-31 6h0m22-10h0m-105 85h0m134-100h0m-65 58h0m-1-14h0m21-19h0m63-18h0m6-6h0m-67 16h0m79-42h0m-152 113h0m153-96h0m-131 58h0m17 1h0m106-48h0m-148 75h0m178-95h0m-187 105h0m154-84h0m-5-15h0m26 5h0m-61 19h0m31-3h0m-101 56h0m85-54h0m-41 11h0m-29 14h0m-5 25h0m-50 23h0m150-93h0m-141 100h0m172-105h0m-58 26h0m-84 47h0m13-27h0m-79 64h0m194-92h0m8-30h0m-108 77h0m95-66h0m-94 64h0m114-61h0m-168 74h0m35-9h0m128-72h0m-58 30h0m2-7h0m54-25h0m-173 92h0m126-58h0m40-35h0m-17 15h0m-95 36h0m29-8h0m1 15h0m95-69h0m6 20h0m-60 17h0m-97 56h0m136-63h0m-93 42h0m-69 49h0m62-65h0m9-8h0m-17 7h0m15 19h0m-97 58h0m168-107h0m-123 71h0m45-13h0m-30 14h0m105-64h0m-61 36h0m69-29h0m18-17h0m-57 28h0m-56 6h0m78-31h0m17-1h0m-124 60h0m-35 36h0m172-113h0m-69 68h0m-62 18h0m152-76h0m-113 48h0m26-20h0m89-29h0m-127 68h0m55-31h0m-110 67h0m63-51h0m-35 38h0m42-45h0m90-38h0m-132 64h0m17 2h0m9-35h0m-71 66h0m161-93h0m-141 73h0m184-100h0m-33 19h0m-62 31h0m20-14h0m7-2h0m-55 22h0m-7 5h0m84-39h0m23-14h0m-121 74h0m78-57h0m-10 24h0m-78 36h0m17 6h0m56-64h0m-40 45h0m15-10h0m-18 18h0m-31 22h0m11-35h0m133-54h0m-55 12h0m43-7h0m-78 30h0m-83 63h0m101-75h0m1-1h0m-35 25h0m55-18h0m-47 23h0m50-47h0m-4-2h0m-64 38h0m-50 64h0m19-15h0m128-98h0m-27 25h0m-62 52h0m8-19h0m100-51h0m-55 9h0m-25 22h0m21-23h0m-26 18h0m92-39h0m-207 129h0m65-49h0m34-2h0m109-65h0m-176 93h0m13 2h0m159-104h0m-210 129h0m76-61h0m-61 51h0m101-71h0m-62 56h0m82-71h0m-95 70h0m140-86h0m-148 95h0m0 7h0m25-19h0m114-73h0m-3 5h0m52-32h0m-123 70h0m-57 39h0m179-114h0m-136 78h0m-3-4h0m113-63h0m-27 21h0m61-35h0m-72 41h0m-113 65h0m158-96h0m-146 88h0m16-14h0m51-22h0m-8-3h0m16-22h0m-36 40h0m-60 42h0m78-52h0m-3-11h0m3 13h0m32-29h0m25 7h0m-52 24h0m52-45h0m35-10h0m-204 121h0m48-25h0m171-104h0m-77 45h0m31-10h0m-39-12h0m-15 12h0m57-15h0m-136 91h0m79-46h0m7-14h0m53-44h0m-9 23h0m-8-15h0m41 0h0m-51 19h0m0-14h0m-31 23h0m70-23h0m-39-1h0m31-7h0m12-6h0m-40 20h0m-22 13h0m-53 25h0m-5 19h0m-11 14h0m92-85h0m33 22h0m-126 50h0m101-55h0m-143 95h0m144-87h0m-45 25h0m0-21h0m0 11h0m-10-9h0m-6 30h0m-81 35h0m131-78h0m-87 42h0m-37 43h0m172-105h0m-50 21h0m17-16h0m-71 53h0m-88 53h0m90-47h0m-43 24h0m134-67h0m-153 72h0m8 3h0m13-11h0m75-47h0m-18 17h0m79-45h0m-44 14h0m-16-1h0m33-18h0m-11 6h0m-29 18h0m-25 13h0m26-19h0m12 4h0m66-15h0m-14-8h0m-86 44h0m10-3h0m76-53h0m-145 104h0m18-16h0m71-57h0m-11 21h0m-39 16h0m123-53h0m-175 96h0m104-77h0m-75 39h0m-23 19h0m-15 22h0m75-71h0m87-12h0m33-29h0m-115 42h0m3-4h0m30-18h0m51-18h0m-76 45h0m65-38h0m-63 47h0m-9-8h0m-94 69h0m63-38h0m-29 24h0m79-76h0m-60 66h0m157-104h0m-24 24h0m-110 55h0m30-21h0m49-23h0m-92 42h0m83-30h0m3-24h0m-88 73h0m53-53h0m-48 36h0m95-60h0m22 3h0m-47-1h0m21 17h0m-14-8h0m-75 66h0m24-20h0m57-47h0m-78 39h0m87-29h0m-89 47h0m73-61h0m36-8h0m-34 11h0m54-9h0m-48-5h0m-61 57h0m-4 6h0m65-37h0m-36 23h0m5-33h0m-10 12h0m-106 88h0m64-65h0m30 0h0m-8 18h0m109-75h0m-93 48h0m92-52h0m-103 73h0m33-29h0m-60 35h0m-29 13h0m29-21h0m114-40h0m-75 33h0m15-26h0m1-4h0m-106 80h0m15-22h0m99-49h0m-12-5h0m-71 51h0m89-66h0m-97 66h0m-15 25h0m61-61h0m116-33h0m-151 60h0m112-45h0m3-2h0m8-8h0m24-14h0m-54 10h0m42-10h0m-33 15h0m-30 13h0m-111 79h0m128-92h0m51-19h0m-93 42h0m-38 46h0m48-54h0m-41 53h0m9-26h0m23-17h0m60-13h0m50-40h0m-78 40h0m-15 0h0m-10-3h0m-64 55h0m104-73h0m-8 34h0m-80 42h0m10-6h0m20-42h0m27 4h0m1 1h0m-118 79h0m41-14h0m88-73h0m-36 28h0m11-3h0m0-4h0m33-29h0m-47 29h0m27-25h0m58-11h0m-150 85h0m-11 1h0m104-52h0m25-21h0m35-5h0m-131 65h0m79-68h0m27-1h0m14-2h0m11-26h0m-144 102h0m45-18h0m-36 6h0m27-31h0m-32 27h0m70-37h0m70-39h0m40-13h0m-37 33h0m-22-8h0m-16-4h0m-84 54h0m-2 6h0m49-36h0m-115 86h0m127-81h0m-29 4h0m-51 55h0m73-59h0m-64 51h0m145-79h0m-112 57h0m80-59h0m-158 103h0m192-112h0m-38 15h0m-73 33h0m-10 16h0m101-52h0m-51 13h0m11 3h0m-52 23h0m-30 43h0m35-51h0m41-23h0m-35 34h0m-66 43h0m9 0h0m18-23h0m6 15h0m-2-6h0m120-85h0m-85 44h0m84-35h0m9 4h0m-139 68h0m134-83h0m-29 13h0m-31 13h0m90-30h0m-76 42h0m36-16h0m-115 43h0m72-15h0m-82 43h0m54-45h0m32-29h0m-112 80h0m108-58h0m-31 2h0m51-39h0m-52 58h0m98-68h0m-26 10h0m-146 109h0m114-93h0m-103 88h0m19-35h0m67-40h0m-55 28h0m144-63h0m-105 45h0m41-17h0m-45 12h0m114-51h0m-24 17h0m-70 22h0m11-8h0m39-12h0m-66 49h0m97-54h0m-162 107h0m151-120h0m-72 63h0m-76 41h0m-9 6h0m165-89h0m-57 17h0m-12 1h0m23-6h0m23-1h0m-63 41h0m-68 48h0m-24-12h0m74-46h0m-36 39h0m97-66h0m-3 3h0m31-10h0m-123 75h0m-56 28h0m109-68h0m-60 32h0m-6 12h0m36-46h0m-14 17h0m79-40h0m-124 80h0m55-40h0m8-22h0m-17 17h0m-46 45h0m136-76h0m-28 3h0m-6-8h0m-116 95h0m133-86h0m-36 9h0m109-55h0m-166 101h0m68-51h0m-13 17h0m1-27h0m-9 30h0m63-33h0m-10-10h0m-67 56h0m-2-25h0m129-51h0m-45 30h0m-26 17h0m-120 70h0m70-67h0m-2 25h0m7-23h0m-67 59h0m61-58h0m120-60h0m-151 83h0m-25 21h0m8-7h0m83-49h0m-8 6h0m-76 49h0m27-21h0m81-51h0m56-22h0m-9 7h0m-25 29h0m10-5h0m36-34h0m-90 39h0m40-13h0m-113 54h0m-6 14h0m97-49h0m1 0h0m17-15h0m29-17h0m-114 54h0m19-25h0m-66 66h0m161-96h0m-149 79h0m38-17h0m-48 39h0m180-119h0m-210 126h0m90-48h0m91-68h0m-83 51h0m46-19h0m34-31h0m-70 53h0m-23 8h0m-90 67h0m213-126h0m-107 39h0m-103 80h0m160-113h0m-111 95h0m12-10h0m-1-26h0m123-68h0m-177 115h0m133-74h0m3-24h0m-121 91h0m182-121h0m-205 132h0m180-90h0m-139 56h0m159-72h0m-55 3h0m-79 60h0m111-43h0m22-29h0m-16 19h0m-129 74h0m-7 0h0m118-78h0m16 12h0m-14-20h0m-104 49h0m2 21h0m82-54h0m52-19h0m-67 11h0m-29 43h0m-75 55h0m67-74h0m5 31h0m-51 19h0m69-42h0m88-53h0m-35 24h0m-122 70h0m15-23h0m2 12h0m-44 24h0m114-79h0m-3 1h0m-99 81h0m96-69h0m57-33h0m-1 6h0m-93 36h0m81-19h0m-94 40h0m-37 28h0m142-94h0m-101 66h0m93-47h0m-106 48h0m50-28h0m-55 49h0m15-9h0m49-53h0m1 14h0m-57 43h0m54-55h0m-78 75h0m42-59h0m69-28h0m-26 3h0m-53 60h0m85-59h0m-145 97h0m149-97h0m-101 59h0m-56 37h0m42-47h0m102-59h0m-89 75h0m7 1h0m-2-28h0m22-11h0m89-33h0m33-25h0m-152 79h0m85-50h0m-88 51h0m13 7h0m-31 16h0m-21 8h0m81-42h0m24-16h0m-71 45h0m58-58h0m-29 14h0m33-11h0m10-13h0m-54 61h0m148-97h0m-147 93h0m3-27h0m-33 30h0m94-42h0m-135 75h0m137-104h0m6 20h0m-38 10h0m18-21h0m-47 56h0m43-43h0m-30 8h0m55-6h0m-119 62h0m102-56h0m-107 71h0m88-71h0m82-40h0m-123 70h0m101-42h0m-100 61h0m57-47h0m8 2h0m-65 15h0m-16 36h0m94-64h0m-125 74h0m73-39h0m-36 13h0m119-60h0m-70 22h0m20-18h0m-46 27h0m-52 55h0m130-96h0m-106 61h0m109-61h0m-9 21h0m-98 57h0m9-12h0m-77 51h0m139-93h0m-55 28h0m76-47h0m34-15h0m-68 31h0m91-34h0m-172 94h0m145-84h0m-128 62h0m120-44h0m-59 7h0m76-28h0m-84 40h0m71-33h0m-59 39h0m-38 25h0m32-17h0m68-30h0m0-26h0m-21 32h0m6-19h0m-8 21h0m-36-11h0m-87 82h0m57-47h0m96-54h0m-10 13h0m-19-4h0m12-4h0m-111 71h0m53-34h0m-27 24h0m37-32h0m-22 17h0m11 0h0m-22 1h0m-1-12h0m67-19h0m-89 43h0m-44 37h0m109-62h0m42-35h0m9 11h0m4 5h0m-74 12h0m-5 25h0m48-33h0m-136 82h0m107-59h0m-11-19h0m24-10h0m-25 29h0m-53 35h0m83-46h0m-129 75h0m158-95h0m11-18h0m-154 98h0m7-8h0m29-24h0m108-51h0m-89 36h0m-13 27h0m129-80h0m-163 94h0m73-35h0m-66 34h0m107-88h0m28 9h0m-88 38h0m44-19h0m1 10h0m-56 17h0m106-42h0m-82 31h0m-59 51h0m-4-15h0m-28 25h0m55-55h0m65-19h0m-63 50h0m37-30h0m-30-3h0m4-3h0m68-40h0m17-7h0m-27 25h0m-77 38h0m67-27h0m-94 48h0m12 7h0m17-12h0m51-39h0m-6 13h0m74-36h0m-36 12h0m-49 21h0m25-25h0m33-21h0m-23 39h0m38-28h0m-11 17h0m-99 30h0m25 16h0m-59 14h0m166-75h0m-49 3h0m-29 25h0m-103 71h0m197-122h0m-36 7h0m-29 27h0m-45 7h0m-9 0h0m-55 49h0m4 4h0m10 6h0m-20 9h0m151-98h0m-80 52h0m-22-1h0m31-7h0m12-18h0m29-10h0m54-26h0m-191 109h0m70-49h0m4 14h0m-60 30h0m61-57h0m11 23h0m-17-2h0m-3-8h0m48-12h0m-47 23h0m104-54h0m9-18h0m-106 64h0m53-39h0m51-1h0m14-31h0m-114 49h0m-43 50h0m86-78h0m-63 51h0m79-25h0m-76 25h0m10-5h0m-79 59h0m82-76h0m-49 66h0m33-49h0m65-21h0m-133 81h0m44-39h0m97-69h0m-21 27h0m79-38h0m-128 89h0m0-9h0m-29 18h0m47-22h0m2-15h0m35-44h0m-61 53h0m75-44h0m-68 28h0m-42 35h0m4 7h0m59-38h0m44-24h0m64-43h0m-106 54h0m5 11h0m30-31h0m91-36h0m-57 20h0m-99 75h0m46-54h0m-110 86h0m168-84h0m-16-24h0m-30 13h0m-34 39h0m-40 43h0m-18-11h0m0 13h0m53-38h0m-18-1h0m-25 30h0m43-31h0m-85 55h0m41-26h0m33-23h0m135-80h0m-22 16h0m-69 17h0m-45 46h0m-32 23h0m110-59h0m-82 44h0m101-43h0m19-19h0m-12 2h0m-56 24h0m-55 42h0m94-51h0m-1-26h0m-43 36h0m36-28h0m-116 94h0m101-86h0m-16 35h0m30-29h0m-12 2h0m-139 89h0m176-95h0m38-34h0m-138 86h0m43-51h0m-81 61h0m42-39h0m108-40h0m-41 29h0m-166 89h0m7-6h0m51-19h0m99-70h0m64-39h0m-165 96h0m-28 24h0m87-65h0m-51 46h0m-40 23h0m199-113h0m4-6h0m-60 37h0m-41 6h0m-3-8h0m-111 87h0m-1 10h0m205-133h0m-28 11h0m-27 25h0m44-25h0m13-18h0m-110 69h0m-75 54h0m120-66h0m-7-22h0m41-12h0m7-13h0m-49 30h0m-1 8h0m-26 20h0m68-52h0m-105 68h0m48-17h0m-31-2h0m102-52h0m-21 30h0m-41 20h0m-66 47h0m139-92h0m-154 98h0m172-112h0m-92 56h0m80-43h0m-75 47h0m22-39h0m43 3h0m-165 83h0m89-59h0m-39 17h0m95-45h0m-47 19h0m32-11h0m-132 84h0m166-94h0m-28 21h0m-53 21h0m86-35h0m-95 45h0m-24-11h0m56-16h0m-46 28h0m-43 18h0m158-84h0m-208 121h0m150-89h0m-49 20h0m69-35h0m-25-1h0m-92 81h0m94-73h0m-102 62h0m99-69h0m-37 58h0m47-43h0m-34 7h0m-74 48h0m-15 20h0m56-52h0m21 8h0m-18 6h0m22-23h0m-56 44h0m23 8h0m29-28h0m-43 6h0m63-27h0m90-51h0m-149 91h0m92-68h0m-31 11h0m87-42h0m-26 17h0m-15-3h0m-125 87h0m140-79h0m-38 2h0m-79 75h0m56-36h0m-45 2h0m-59 56h0m83-70h0m20 9h0m-42 32h0m95-56h0m-22-17h0m59-7h0m-140 77h0m63-60h0m-63 63h0m107-57h0m-22 0h0m-121 79h0m153-103h0m-27 4h0m14 29h0m-63 20h0m5-1h0m36-36h0m-15 7h0m-6-8h0m-59 61h0m-22 21h0m-21-1h0m152-90h0m-64 41h0m25-31h0m-25 19h0m-23 35h0m-52 39h0m-8-12h0m120-60h0m-13 8h0m61-55h0m-21 13h0m-94 43h0m-45 46h0m-12 6h0m175-104h0m-163 109h0m33-21h0m15-5h0m-87 39h0m111-84h0m54-11h0m-40 10h0m-29 13h0m49-31h0m-43 25h0m10-5h0m67-13h0m-111 31h0m21 13h0m11-14h0m18 5h0m-57 15h0m64-30h0m-102 58h0m87-45h0m-109 68h0m100-84h0m-75 60h0m60-44h0m114-55h0m-46 29h0m8 3h0m-96 38h0m107-47h0m-147 96h0m102-96h0m-79 65h0m90-64h0m1 7h0m-13 5h0m2-12h0m56-3h0m-113 51h0m106-63h0m-33 8h0m53 8h0m-66 9h0m-21 22h0m87-53h0m-118 71h0m72-38h0m-110 67h0m110-76h0m12-8h0m44-35h0m-48 34h0m24-13h0m-135 83h0m77-28h0m-20-11h0m59-25h0m-24 9h0m-46 19h0m-71 52h0m-26 1h0m59-40h0m-66 60h0m33-39h0m75-37h0m19-23h0m-37 43h0m43-43h0m-29 43h0m8-14h0m-43 18h0m110-58h0m-89 42h0m27-29h0m46-3h0m-89 52h0m-21 32h0m-10 1h0m-4-31h0m-24 40h0m-9 1h0m108-79h0m-17 23h0m7-11h0m75-38h0m18-13h0m-110 67h0m-11 33h0m127-106h0m-40 33h0m-6-9h0m-64 34h0m97-39h0m-177 106h0m97-94h0m-47 57h0m64-52h0m13 3h0m-19 9h0m46-12h0m55-27h0m-12-13h0m-70 53h0m52-30h0m-55 28h0m54-10h0m-17-5h0m-33 25h0m17-25h0m-122 60h0m41-2h0m5-18h0m-9-18h0m18 1h0m55-31h0m13 4h0m-172 99h0m92-54h0m26-11h0m112-64h0m-130 69h0m95-22h0m-77 8h0m-72 60h0m151-110h0m11 19h0m-138 73h0m-32 20h0m68-30h0m60-65h0m-82 78h0m42-63h0m-44 53h0m135-67h0m-123 51h0m37-46h0m-16 27h0m119-59h0m-145 109h0m-57 12h0m129-73h0m40-29h0m-111 64h0m22-22h0m69-27h0m-22-15h0m1 21h0m-45 40h0m93-72h0m-140 88h0m86-42h0m41-34h0m-62 34h0m51-15h0m-21-11h0m-158 96h0m70-40h0m99-39h0m12-7h0m-36-2h0m-47 33h0m-30 30h0m26-10h0m61-58h0m72-23h0m-167 107h0m168-106h0m-45 24h0m9-11h0m1 18h0m-100 26h0m30-4h0m18-22h0m-35 22h0m-25 18h0m-47 49h0m2-1h0m102-71h0m58-24h0m-79 3h0m-2 39h0m102-59h0m-148 97h0m-26-8h0m8 8h0m51-45h0m55-37h0m-6-1h0m-33 31h0m-11-3h0m-71 81h0m18-40h0m150-77h0m-111 43h0m40-2h0m-42 41h0m-47 8h0m46-23h0m103-52h0m-87 39h0m63-27h0m3-26h0m-104 64h0m-30 32h0m35-16h0m71-60h0m-11 10h0m72-32h0m-165 113h0m-4-4h0m62-54h0m-73 44h0m35-19h0m19-4h0m-14-2h0m22-9h0m57-50h0m2 12h0m42-21h0m-170 84h0m86-30h0m71-58h0m-2 28h0m30-27h0m-87 50h0m-22 21h0m109-74h0m-32 13h0m-132 82h0m98-65h0m-91 61h0m9 8h0m52-36h0m5-23h0m28-28h0m-84 67h0m182-104h0m-92 48h0m-39 18h0m-19 30h0m78-54h0m34-27h0m-71 36h0m-38 24h0m94-57h0m-136 102h0m8-2h0m120-78h0m-84 34h0m-4 6h0m134-70h0m-63 48h0m26-24h0m21-14h0m-23-2h0m-122 89h0m124-49h0m-105 43h0m-33 14h0m130-84h0m-31 14h0m-39 12h0m-100 89h0m98-67h0m61-51h0m-130 91h0m24-22h0m96-38h0m-18-8h0m-24 26h0m33-31h0m8-4h0m-122 80h0m43-4h0m23-36h0m35-50h0m-104 94h0m42-49h0m134-67h0m-159 97h0m107-55h0m-40 25h0m99-61h0m-42 25h0m-120 80h0m136-103h0m3 26h0m-63 6h0m-68 57h0m40-11h0m66-51h0m-126 73h0m54-38h0m28-22h0m-19 24h0m-58 35h0m184-105h0m-185 106h0m120-67h0m13-19h0m-128 83h0m65-41h0m100-67h0m-119 78h0m-84 62h0m68-65h0m105-65h0m-47 50h0m42-43h0m3 21h0m-125 51h0m4 1h0m125-70h0m-36 12h0m-89 80h0m81-57h0m67-16h0m-7-17h0m-22 2h0m-2 24h0m-56 11h0m30-12h0m-98 48h0m37-8h0m34-40h0m11 15h0m12-22h0m-115 81h0m139-97h0m22-22h0m-188 128h0m227-127h0m-124 81h0m17-21h0m-38 16h0m97-54h0m-135 69h0m59-58h0m117-35h0m-83 43h0m59-13h0m-38 11h0m-107 73h0m121-87h0m-128 68h0m12-5h0m39-15h0m55-36h0m-74 34h0m26 3h0m-53 37h0m38-47h0m60-28h0m-77 61h0m-9 5h0m-21 15h0m53-28h0m6-18h0m-62 24h0m22-8h0m112-80h0m-46 27h0m-63 57h0m66-51h0m-20 9h0m24-24h0m31 2h0m-53 61h0m92-57h0m-26 17h0m-67 22h0m-69 47h0m159-125h0m9 22h0m-103 42h0m-21 18h0m15-25h0m97-50h0m-147 98h0m100-72h0m-100 78h0m16-15h0m-22 35h0m170-118h0m-3-4h0m-142 96h0m65-40h0m-4-10h0m19-19h0m-24 7h0m72-9h0m-10 16h0m1 0h0m-130 35h0m-35 57h0m122-84h0m-19-1h0m64 0h0m-71 14h0m-62 29h0m0 16h0m154-109h0m-139 90h0m72-48h0m-117 80h0m88-62h0m-11-14h0m2 9h0m0 20h0m124-76h0m-139 77h0m-43 31h0m43-59h0m88-26h0m-50 13h0m-61 69h0m139-87h0m-126 67h0m87-45h0m-58 36h0m-84 42h0m161-83h0m-100 42h0m130-84h0m-147 99h0m57-61h0m-73 60h0m67-42h0m83-48h0m-24 31h0m10-19h0m-154 87h0m170-76h0m-48 11h0m-61 27h0m46-28h0m-23 27h0m62-50h0m-97 64h0m119-42h0m-136 58h0m144-83h0m-3-4h0m-83 33h0m-73 53h0m160-87h0m9-5h0m-100 37h0m-28 33h0m50-31h0m5-16h0m-3 24h0m-55 20h0m37-20h0m38-13h0m-131 84h0m172-97h0m-25-10h0m33 14h0m-17-16h0m1 22h0m27-34h0m-160 91h0m49-9h0m42-46h0m-75 49h0m132-79h0m-40 31h0m-66 21h0m1 21h0m70-54h0m-111 74h0m-23 7h0m77-65h0m-17 17h0m63-13h0m-94 42h0m37-48h0m-69 67h0m59-44h0m-29 26h0m-49 42h0m39-37h0m128-48h0m-180 82h0m88-59h0m58-26h0m-17-2h0m-51 60h0m0-36h0m-27 31h0m1 7h0m-60 36h0m139-71h0m24-44h0m32 3h0m-22 11h0m10 10h0m-21-10h0m24-15h0m-47 27h0m-93 74h0m31-32h0m68-57h0m45 22h0m10-33h0m-82 32h0m21 6h0m-42 12h0m-45 42h0m110-79h0m-34 21h0m-59 41h0m-15 15h0m37-21h0m25-46h0m5 12h0m98-60h0m-50 56h0m-17-9h0m9-4h0m-8-9h0m-103 73h0m155-76h0m-102 29h0m2 28h0m56-54h0m24 9h0m-32-7h0m-31 24h0m77-32h0m-123 41h0m62-16h0m22-18h0m26-10h0m-160 93h0m129-69h0m-52 20h0m-11 17h0m27-9h0m-11 8h0m29-47h0m18 18h0m-117 65h0m119-87h0m-26 7h0m43-3h0m-44 9h0m-98 83h0m39-38h0m93-63h0m-77 56h0m65-51h0m-22 16h0m-4 13h0m77-51h0m-12 19h0m-115 67h0m-39 11h0m56-47h0m-8 13h0m48-34h0m5-14h0m-90 86h0m84-64h0m-82 69h0m151-82h0m-66 29h0m-43 15h0m105-70h0m-70 39h0m33-10h0m-127 65h0m58-24h0m-52 34h0m169-90h0m-34 13h0m-31 4h0m-33 37h0m14-20h0m-87 53h0m168-72h0m-127 48h0m-29 29h0m101-78h0m-63 40h0m51-14h0m-54 34h0m36-12h0m74-57h0m-28 7h0m-50 33h0m-75 34h0m98-32h0m69-55h0m-155 71h0m166-57h0m-44 15h0m-106 41h0m-22 20h0m124-64h0m-88 31h0m113-58h0m-80 28h0m-31 33h0m89-46h0m19-15h0m-134 87h0m38-4h0m7-4h0m118-75h0m-137 73h0m123-76h0m-110 74h0m81-65h0m-26 9h0m-11 11h0m-23 21h0m-86 58h0m44-34h0m58-52h0m41 6h0m27-9h0m-82 17h0m95-32h0m-130 59h0m100-51h0m-109 57h0m64-36h0m-42 13h0m-82 63h0m38-22h0m145-58h0m-81 6h0m-57 40h0m111-74h0m32 11h0m-157 72h0m86-40h0m76-51h0m-118 51h0m91-30h0m-78 24h0m42-14h0m29-5h0m-25 1h0m16-9h0m-62 37h0m-21 17h0m13-24h0m-102 91h0m212-109h0m-137 42h0m98-44h0m-7-2h0m-41 26h0m-121 70h0m124-63h0m-45 7h0m60-34h0m-65 71h0m36-42h0m75-36h0m-21 0h0m-106 50h0m168-62h0m-25-12h0m-115 65h0m101-40h0m-150 83h0m-13 9h0m70-70h0m30 1h0m-127 76h0m78-46h0m22-29h0m-26 17h0m-17 43h0m76-49h0m5-41h0m-108 102h0m160-91h0m10-25h0m-2 16h0m-44 17h0m-9 11h0m-81 46h0m60-55h0m74-11h0m-22 8h0m-87 14h0m-2 34h0m110-66h0m-123 87h0m132-106h0m-136 94h0m48-31h0m78-29h0m-11-13h0m-132 64h0m99-61h0m-41 25h0m51-24h0m-124 85h0m134-74h0m-54 12h0m-1 17h0m-71 36h0m145-75h0m-140 75h0m148-54h0m-161 68h0m-15 2h0m3-13h0m118-82h0m34 23h0m-49-13h0m-117 80h0m25-11h0m162-86h0m-53 21h0m-77 59h0m31-24h0m-52 43h0m-18-11h0m135-62h0m-97 55h0m64-40h0m-98 66h0m12-23h0m-16 21h0m-37 12h0m36-2h0m81-67h0m-27 0h0m4 18h0m1-22h0m17-14h0m56-12h0m-68 52h0m56-45h0m41-8h0m-42 7h0m66-16h0m-155 62h0m-40 49h0m173-124h0m-138 92h0m107-57h0m-53 27h0m-93 57h0m136-86h0m10-25h0m-89 69h0m-56 47h0m95-61h0m43-56h0m-93 75h0m89-67h0m-14 15h0m-45 40h0m72-52h0m-84 67h0m50-36h0m35-52h0m-41 43h0m75-49h0m-42 42h0m34-9h0m-100 44h0m14-18h0m76-42h0m-15 5h0m-36 20h0m19-13h0m-68 23h0m-38 55h0m66-43h0m73-55h0m42-20h0m-19 47h0m-68 20h0m-70 45h0m146-100h0m-44 17h0m-115 81h0m-32 18h0m-16 11h0m143-90h0m-31 8h0m70-17h0m-96 55h0m132-72h0m-13-4h0m-39 29h0m0-6h0m-40 15h0m-28-1h0m98-9h0m-21-24h0m-78 46h0m29-11h0m36-8h0m-73 32h0m25-23h0m34-8h0m-20-3h0m80-26h0m-15-6h0m-96 57h0m12-3h0m67-47h0m-71 25h0m-21 40h0m117-62h0m-114 61h0m-2 8h0m-31 14h0m66-48h0m92-54h0m-190 122h0m53-56h0m130-55h0m-125 70h0m82-39h0m55-42h0m-61 29h0m12 19h0m16-20h0m-146 80h0m166-106h0m-35 33h0m-83 42h0m27-21h0m51-14h0m-18-7h0m-51 40h0m20-17h0m54-18h0m-42 11h0m-79 45h0" stroke="#c6c5c9" stroke-width="2.64" stroke-linecap="round" fill="none" stroke-opacity="1.0"/><line x1="313.20" y1="443.10" x2="517.02" y2="286.58" stroke="#000" stroke-width="1.3" /><line x1="313.20" y1="419.44" x2="517.02" y2="262.92" stroke="#000" stroke-width="1.25" stroke-dasharray="1.3 1.6"/><line x1="313.20" y1="466.76" x2="517.02" y2="310.24" stroke="#000" stroke-width="1.25" stroke-dasharray="1.3 1.6"/></g><line x1="317.80" y1="290.50" x2="317.80" y2="439.10" stroke="#000" stroke-width="1.5" /><line x1="317.10" y1="438.40" x2="511.10" y2="438.40" stroke="#000" stroke-width="1.5" /><line x1="314.40" y1="297.50" x2="317.40" y2="297.50" stroke="#222" stroke-width="1.0" /><text x="310.40" y="301.00" font-size="10" fill="#222" text-anchor="end" stroke="#222" stroke-width="0.2">1</text><line x1="314.40" y1="333.50" x2="317.40" y2="333.50" stroke="#222" stroke-width="1.0" /><text x="310.40" y="337.40" font-size="10" fill="#222" text-anchor="end" stroke="#222" stroke-width="0.2">0</text><line x1="314.40" y1="370.50" x2="317.40" y2="370.50" stroke="#222" stroke-width="1.0" /><text x="310.40" y="373.80" font-size="10" fill="#222" text-anchor="end" stroke="#222" stroke-width="0.2">−1</text><line x1="314.40" y1="406.50" x2="317.40" y2="406.50" stroke="#222" stroke-width="1.0" /><text x="310.40" y="410.20" font-size="10" fill="#222" text-anchor="end" stroke="#222" stroke-width="0.2">−2</text><line x1="360.50" y1="438.80" x2="360.50" y2="441.80" stroke="#222" stroke-width="1.0" /><text x="360.60" y="452.80" font-size="10" fill="#222" text-anchor="middle" stroke="#222" stroke-width="0.2">−2</text><line x1="408.50" y1="438.80" x2="408.50" y2="441.80" stroke="#222" stroke-width="1.0" /><text x="408.00" y="452.80" font-size="10" fill="#222" text-anchor="middle" stroke="#222" stroke-width="0.2">−1</text><line x1="455.50" y1="438.80" x2="455.50" y2="441.80" stroke="#222" stroke-width="1.0" /><text x="455.40" y="452.80" font-size="10" fill="#222" text-anchor="middle" stroke="#222" stroke-width="0.2">0</text><line x1="502.50" y1="438.80" x2="502.50" y2="441.80" stroke="#222" stroke-width="1.0" /><text x="502.80" y="452.80" font-size="10" fill="#222" text-anchor="middle" stroke="#222" stroke-width="0.2">1</text><clipPath id="cCL"><rect x="55.8" y="516.25" width="200.2" height="147.54999999999995"/></clipPath><g clip-path="url(#cCL)"><path transform="scale(0.5)" d="M297 1171h0m189-110h0m-240 173h0m145-124h0m18-22h0m-126 81h0m12-3h0m87-51h0m95-21h0m-66-37h0m-44 87h0m-95 9h0m75-8h0m-141 110h0m232-147h0m-108 44h0m112-48h0m-137 80h0m-138 66h0m241-169h0m153-46h0m-273 142h0m51-37h0m-25 25h0m-9-37h0m-119 114h0m203-150h0m83-9h0m-166 123h0m92-74h0m-25-38h0m61 34h0m-183 59h0m133-61h0m-50 25h0m88-43h0m-93 2h0m-116 102h0m77-6h0m-57 16h0m77-47h0m62-44h0m-39 36h0m-14-3h0m22-57h0m84-16h0m-125 126h0m105-119h0m-21 53h0m-144 26h0m21-19h0m212-95h0m-121 62h0m3 31h0m-129 12h0m109 21h0m-24-62h0m21 51h0m-87-3h0m102-43h0m-23 36h0m-76 33h0m5-15h0m111 0h0m-7-71h0m-7 45h0m71-31h0m-72 15h0m-26 15h0m192-91h0m-70 85h0m-60-3h0m96-43h0m-230 64h0m17 22h0m111-12h0m10-78h0m41 37h0m-164 44h0m-27 66h0m148-100h0m65-106h0m-199 144h0m36-9h0m164-95h0m-186 163h0m8-22h0m81-75h0m-67 11h0m160-83h0m-9-4h0m-103 102h0m134-122h0m-167 94h0m21-5h0m-21 7h0m-58 51h0m218-69h0m-130 59h0m125-103h0m-177 69h0m-8 14h0m99-24h0m92-37h0m-128-3h0m101 4h0m-90 20h0m-17 41h0m-30-4h0m-23 6h0m80-70h0m-53 55h0m-45 44h0m56-41h0m-96 111h0m122-142h0m67 27h0m-44-39h0m-177 11h0m55 57h0m108 18h0m-48-79h0m-18 108h0m107-86h0m-79 53h0m51-77h0m-107 103h0m100-91h0m-20-6h0m-39 76h0m-148 75h0m231-150h0m-42 64h0m80-149h0m-124 137h0m51 15h0m110-131h0m-192 110h0m117-39h0m-60 11h0m75-51h0m-5-30h0m-2 63h0m-8 43h0m-19-55h0m2 65h0m-36-25h0m-31-8h0m51-8h0m28-23h0m-94 40h0m120-41h0m-77 94h0m45-47h0m89-115h0m-175 117h0m183-78h0m-72 27h0m-11 47h0m-75 12h0m34-39h0m39-40h0m-114 76h0m131-33h0m-126 37h0m11 61h0m-57-41h0m113-50h0m-100 55h0m78-14h0m105-80h0m32-19h0m-104 50h0m115-62h0m-157 96h0m-10 20h0m44-10h0m-1 31h0m-34-39h0m53-13h0m-37 4h0m104-64h0m-76 77h0m-23-5h0m74-64h0m-6 9h0m-162 108h0m190-133h0m-80 45h0m-62 46h0m150-92h0m-190 102h0m154-28h0m-93 7h0m79-30h0m52-48h0m28-35h0m-158 138h0m49-36h0m0 22h0m-9-1h0m-5-37h0m92-65h0m-80 80h0m-38-24h0m64-53h0m-4-5h0m-77 110h0m0 30h0m-73-26h0m45-14h0m103-49h0m-18 0h0m16 75h0m-67-59h0m7 24h0m4-11h0m-33 9h0m92-58h0m13 52h0m-43-40h0m16-8h0m32-6h0m30-40h0m1 38h0m-38 42h0m66-57h0m-98 66h0m69-49h0m-118 34h0m135-23h0m-54 39h0m-71-23h0m21 53h0m6-40h0m121-40h0m-77 29h0m68-58h0m-27 68h0m-62 41h0m11-41h0m-140 36h0m8 4h0m89-16h0m128-62h0m-64-2h0m-85 109h0m68-51h0m-27-13h0m-100 24h0m133-77h0m-176 147h0m210-118h0m3-20h0m-120 75h0m-27 29h0m134-61h0m-129 39h0m126-89h0m-56 84h0m-51-8h0m118-43h0m17-49h0m-112 77h0m35-62h0m-39 110h0m92-88h0m-215 111h0m114-61h0m17-12h0m-12 48h0m119-126h0m-117 146h0m164-108h0m-29-39h0m-126 65h0m-123 98h0m94-11h0m-50-2h0m154-105h0m-73 42h0m-50-10h0m-23 48h0m142-109h0m-7 45h0m58-43h0m-115 34h0m-108 88h0m181-72h0m-17 4h0m-18-60h0m-17 43h0m21-25h0m9-16h0m-65 41h0m76-18h0m74-44h0m-259 142h0m31-33h0m-85 92h0m265-175h0m-38 23h0m-165 120h0m228-172h0m-203 143h0m136-105h0m-90 54h0m-43 62h0m35 2h0m188-133h0m-211 142h0m-18-31h0m160-109h0m-158 112h0m178-104h0m-18 24h0m-103 66h0m-121 86h0m110-133h0m4 16h0m50-11h0m-2-2h0m69-34h0m36-41h0m-57 103h0m-130-17h0m125-32h0m-64 0h0m-21 21h0m58-29h0m6-32h0m-41 98h0m97-44h0m16-39h0m-93 75h0m127-85h0m-39 33h0m-83 15h0m153-104h0m-198 157h0m42-74h0m-102 60h0m80-37h0m-37-29h0m146 9h0m-47-33h0m-32 100h0m-37-30h0m45-19h0m68-11h0m-202 97h0m-23-15h0m129-87h0m30 56h0m-24-59h0m123-12h0m-117 37h0m-73 77h0m72-105h0m-18 99h0m101-94h0m-7-69h0m-115 105h0m116-19h0m-38 33h0m-45 16h0m-52 3h0m59-71h0m130-15h0m-150 65h0m57-25h0m-24 45h0m148-46h0m-223 18h0m93-17h0m32-19h0m-65 14h0m0 56h0m15-63h0m-185 152h0m250-145h0m-209 65h0m193-123h0m-92 106h0m-82-5h0m215-91h0m-8 2h0m-3 69h0m-102-20h0m-48 15h0m-60 71h0m91-27h0m195-128h0m-185 78h0m88-56h0m2 23h0m-97 51h0m87-93h0m-144 36h0m75 33h0m-76 39h0m106-89h0m-27 77h0m-176 87h0m185-97h0m102-107h0m-133 110h0m60-28h0m-115 37h0m35-46h0m28 25h0m15 54h0m11-97h0m29 10h0m-41 33h0m69-43h0m-97 37h0m71 28h0m73-57h0m-83 33h0m-221 105h0m196-93h0m-60 8h0m93-74h0m-120 63h0m151-74h0m-79 70h0m-121 79h0m238-167h0m-111 141h0m-16-73h0m-82 61h0m42-31h0m28-15h0m37 23h0m41-32h0m147-101h0m-283 137h0m189-80h0m-80 96h0m-26-47h0m-95 121h0m-51-8h0m202-107h0m-78 70h0m5-54h0m30-67h0m-6-2h0m-110 149h0m283-256h0m-403 305h0m177-112h0m-9-38h0m119 14h0m-9-48h0m-149 70h0m188-71h0m-245 141h0m182-116h0m81-97h0m-25 66h0m11-29h0m-128 100h0m139-70h0m-143 7h0m140-21h0m-89 18h0m46-5h0m36 21h0m-168 51h0m122-19h0m-110-9h0m122-72h0m-96 113h0m-3-30h0m56-58h0m-62 83h0m-51 35h0m79-70h0m16 2h0m109 25h0m-264 22h0m128-60h0m71-18h0m117-49h0m-228 135h0m-43 13h0m-17-8h0m158-36h0m54-43h0m-51 41h0m-83 41h0m11 8h0m-27 11h0m48-70h0m60-37h0m85-35h0m81-80h0m-109 57h0m-164 134h0m-5-13h0m87-60h0m-34 29h0m0-31h0m159-54h0m-175 87h0m51 51h0m8-121h0m-49 112h0m107-76h0m-116 16h0m92 15h0m-37-23h0m118-50h0m80-55h0m-184 96h0m-50 43h0m22-56h0m8 22h0m-11 1h0m7-5h0m-30-5h0m-110 101h0m230-155h0m-137 102h0m-3 16h0m75-54h0m6-6h0m55 14h0m-187 5h0m54 19h0m-66 32h0m188-62h0m-135 23h0m107-78h0m-85 74h0m89-82h0m-29 103h0m-106-18h0m133-48h0m-2-9h0m39-59h0m-30 68h0m85 4h0m-199 73h0m126-108h0m-127 76h0m-2 32h0m109-53h0m-38 17h0m4-53h0m-135 120h0m70-73h0m99-58h0m-79 52h0m151-63h0m-266 158h0m158-119h0m-64 66h0m133-102h0m69-9h0m-83 47h0m-9-6h0m-14-44h0m-217 176h0m75-65h0m139-17h0m79-91h0m-112 59h0m9-40h0m-43 55h0m-47 79h0m65-133h0m-54 62h0m78-31h0m63-60h0m-88 135h0m53-51h0m-133 14h0m-57 68h0m161-99h0m63-49h0m-83 46h0m-72 117h0m-74-36h0m91-6h0m180-103h0m-7 1h0m-53-26h0m-33 54h0m95-62h0m-81 59h0m-103 91h0m0-85h0m260-118h0m-303 185h0m29 25h0m11-37h0m40-18h0m8 19h0m-38 12h0m143-130h0m16 3h0m13 10h0m-129 82h0m-37-32h0m-65 56h0m-12 16h0m143-95h0m-90 76h0m-51 23h0m45-18h0m116-78h0m4 28h0m-95-7h0m-36 81h0m-35 30h0m43 12h0m-35 5h0m198-158h0m23 2h0m-103 6h0m113-2h0m-103 31h0m13-34h0m-20 83h0m12-91h0m17 51h0m77-39h0m-80-31h0m-135 162h0m147-156h0m5 21h0m-167 101h0m135-44h0m-17 1h0m-79 23h0m72-49h0m22-31h0m-41 52h0m107-22h0m-126-27h0m40 13h0m-4 26h0m4-2h0m175-95h0m-118 37h0m25 43h0m-284 135h0m183-139h0m47-55h0m-89 72h0m39 7h0m10-30h0m21 64h0m22-72h0m-9-28h0m-171 86h0m52 53h0m90-94h0m3 23h0m56-12h0m111-96h0m-269 147h0m139-36h0m-33 40h0m-75 0h0m171-99h0m16 45h0m-27-64h0m-81 42h0m-1 50h0m103-51h0m-88 69h0m-6-57h0m-38 60h0m-6-80h0m31 34h0m-63 7h0m63-20h0m-43-1h0m51 12h0m-32 19h0m59-29h0m-67 26h0m57 7h0m-79 36h0m146-113h0m-70 18h0m3 46h0m222-142h0m-292 127h0m36 14h0m61-14h0m-94 47h0m-15-54h0m-53 100h0m75-38h0m-72 81h0m85-106h0m48-6h0m-76-29h0m9 61h0m169-75h0m-122 103h0m100-143h0m-12 43h0m-118 3h0m-35 19h0m93 16h0m-123 51h0m72-41h0m98-117h0m-255 187h0m116-38h0m-121 57h0m216-162h0m-52 50h0m-49 4h0m122-20h0m-37-30h0m-55 59h0m219-100h0m-77-9h0m-79 15h0m82 40h0m-115 14h0m36 23h0m149-106h0m-309 171h0m262-129h0m-176 76h0m8-5h0m1 22h0m64-1h0m132-113h0m-93 40h0m-114 107h0m-23-57h0m60 42h0m15 17h0m-141-18h0m87-18h0m78-73h0m-147 131h0m240-152h0m-175 57h0m-41 85h0m101-70h0m40-61h0m-75 48h0m70-43h0m-72 119h0m-114-11h0m145-43h0m29-24h0m56-56h0m14 34h0m9 0h0m-82 25h0m2-8h0m103-71h0m-76 60h0m-71 52h0m53-68h0m-16 4h0m-26 20h0m-140 106h0m107-99h0m4-15h0m20 28h0m43 4h0m31-48h0m-193 96h0m199-150h0m-7 63h0m-66 75h0m90-84h0m-205 90h0m140-42h0m69-38h0m-113 69h0m-25-29h0m31 20h0m-64 25h0m90 3h0m-82-51h0m2-4h0m62-13h0m71-43h0m-5 20h0m-70 52h0m5 47h0m-3-66h0m90-22h0m-12-39h0m-31 23h0m-34 29h0m63-26h0m28-12h0m-223 138h0m129-65h0m-12-2h0m44-34h0m2-3h0m27 15h0m-25-28h0m-145 67h0m-46 30h0m222-74h0m176-95h0m-324 153h0m16-52h0m208-71h0m-55 36h0m58-55h0m-1 9h0m-24 25h0m-19 22h0m-11-13h0m-13 13h0m15-14h0m-11-25h0m-30 33h0m60-36h0m-5 12h0m-42-9h0m41-9h0m-19 49h0m-24-2h0m58-62h0m7 16h0m-6 34h0m-19-14h0m-7 2h0m24-24h0m31-5h0m-64 20h0m24 38h0m-29-23h0m2-20h0m7-6h0m-6 18h0m-2 28h0m25-44h0m10 21h0m24-27h0m-52 58h0m52-44h0m-43-1h0m-1 0h0m7 6h0m-33 26h0m18-12h0m8 0h0m-17 1h0m4-14h0m18-33h0m23 17h0m-24 23h0m30 3h0m-28-16h0m48-7h0m-54 6h0m33 4h0m-59 42h0m6-8h0m50-63h0m-33 10h0m36 34h0m-23 13h0m5-7h0m6-29h0m-1-5h0m-21 17h0m28-26h0m-45 39h0m25-29h0m-49 40h0m38-39h0m13 14h0m3 28h0m-25-49h0m4 21h0m19 19h0m20-1h0m14-31h0m-42 14h0m6 11h0m-9-17h0m-8 20h0m22-6h0m-2-9h0m12 0h0m-15 1h0m50-8h0m-17-4h0m-46 57h0m17-57h0m-32 43h0m22-53h0m-30 43h0m54-34h0m-10-9h0m-10 18h0m-25 8h0m29-2h0m20-23h0m0 28h0m-10-27h0m-7 33h0m-40 10h0m64-60h0m-226 149h0m-49 26h0m12 11h0m33-39h0m-99 97h0m67-81h0m-4 6h0m-1 34h0m-15-6h0m54-72h0m-62 73h0m41-41h0m28-35h0m-21 53h0m-66 28h0m95-30h0m-73 30h0m64-48h0m-7-47h0m-65 50h0m44-5h0m17-9h0m-50 60h0m72-46h0m-86 7h0m33 8h0m23-43h0m-16 44h0m-2 1h0m3-4h0m-3 2h0m23-48h0m-28 64h0m16 2h0m-38-7h0m42 8h0m-25-12h0m-5-9h0m11-8h0m18-32h0m-65 96h0m86-61h0m-6 0h0m-11 33h0m31-55h0m-50 10h0m32 6h0m-21-7h0m10-12h0m36 20h0m-101 85h0m56-98h0m-20 28h0m-4 11h0m32-58h0m-45 70h0m73-40h0m-75 28h0m36-52h0m-97 127h0m135-81h0m-66 39h0m-27-46h0m25-14h0m38 9h0m23-15h0m-42 68h0m-18-54h0m20 4h0m-55 21h0m8-13h0m30-2h0m31-49h0m13 15h0m20 10h0m-29-42h0m-3 46h0m24-15h0m-30 21h0m45 1h0m-128 35h0m56-6h0m-7-11h0m49-49h0m-6 29h0m16-32h0m-31 22h0m20-2h0m-58 62h0m62-55h0m-39 49h0m-15-10h0m68-17h0m-90-3h0m-18 81h0m-3-36h0m70-60h0m3 2h0m-38 39h0m67-73h0m-99 87h0m26-31h0m-7 20h0m94-50h0m-7-1h0m0-37h0m-26 25h0m-33 36h0m48 0h0m-18 10h0m5-63h0m-30 72h0m33-37h0m-31-1h0m29-16h0m18-5h0m-42 38h0m21-34h0m6 32h0m-65-1h0m-39 65h0m90-93h0m-3 39h0m33-28h0m-16 33h0m-16-38h0m-5 8h0m-21 74h0m14-51h0m44-44h0m-2 12h0m-44 7h0m-38 29h0m-21 30h0m56-57h0m-7-6h0m71 20h0m-57-31h0m58 15h0m-48-18h0m16 20h0m-13 7h0m19-3h0m-81 22h0m81-22h0m-14-5h0m48 28h0m-53-46h0m-76 91h0m100-74h0m-44 14h0m39-19h0m0-13h0m-45 63h0m52-26h0m-51 18h0m-9 26h0m12-54h0m39 3h0m-18 13h0m26-23h0m-62 14h0m25-22h0m-4-2h0m-2-1h0m-12 37h0m-23 16h0m21-36h0m54-22h0m-60 48h0m28-13h0m29-5h0m-7-33h0m-27 33h0m-19 35h0m74-57h0m-129 99h0m55-50h0m-43 13h0m74-44h0m13-16h0m8-11h0m-35 58h0m-23-22h0m37-44h0m27-4h0m-23 55h0m11-55h0m1 43h0m-56 20h0m73-42h0m-139 47h0m134-58h0m-56 29h0m57-23h0m8 16h0m-74 25h0m49-26h0m-12-3h0m7 3h0m-29 6h0m2 40h0m6-34h0m0-17h0m17 0h0m23 12h0m-52 14h0m18-21h0m40 6h0m-111 26h0m117-42h0m-65 52h0m-59 29h0m41-41h0m-24 50h0m20-54h0m-16 47h0m102-75h0m-43-2h0m13 18h0m-4-35h0m-26 30h0m-19 39h0m55-33h0m-63 4h0m-3 35h0m90-49h0m-50 21h0m39 7h0m35-37h0m-97 9h0m68-9h0m-111 88h0m36-57h0m28-6h0m64-30h0m-122 66h0m129-50h0m-61-5h0m38-15h0m26 23h0m-104 52h0m82-90h0m-53 47h0m33-19h0m-21-8h0m-1 5h0m-52 54h0m52-50h0m-29 15h0m-19 27h0m-32 26h0m71-43h0m58-28h0m-14 9h0m5-18h0m-33 27h0m50-3h0m-111 66h0m54-34h0m27-60h0m-27 24h0m-12-6h0m-22 26h0m-13 36h0m107-69h0m-124 66h0m93-72h0m11 12h0m-95 54h0m74-85h0m-20 30h0m41-5h0m-31 31h0m-30 9h0m46 31h0m-58-39h0m45-28h0m61 23h0m-24-22h0m-21-5h0m-19 15h0m6-8h0m43-20h0m-13 3h0m-52 23h0m42-1h0m-59 23h0m8-7h0m-77 42h0m50-23h0m3-9h0m-38 49h0m78-60h0m43-47h0m-21 17h0m9-12h0m-66 55h0m61-41h0m10-32h0m-90 62h0m20 66h0m56-75h0m14-14h0m-89 15h0m53-25h0m18 15h0m-4-6h0m-23 32h0m3-20h0m-63 60h0m70-29h0m14 4h0m7-30h0m-39-13h0m-11 27h0m10-12h0m59-47h0m-12 34h0m3-24h0m-56 46h0m-33 28h0m91-45h0m-10-3h0m-23-6h0m-40 18h0m31 1h0m-43 52h0m73-73h0m10-37h0m5 6h0m8 52h0m-3-31h0m-123 79h0m54-38h0m73-61h0m-57 15h0m34 4h0m-21 7h0m-86 75h0m100-60h0m7 16h0m-49 15h0m69-44h0m8-17h0m-73 48h0m25-67h0m12 8h0m-31 43h0m36-53h0m-25 51h0m-100 56h0m120-42h0m-39-10h0m33-41h0m-72 74h0m79-109h0m-30 91h0m-1-21h0m-67 59h0m52-59h0m12 44h0m48-55h0m7-7h0m-11 23h0m-55 32h0m52-60h0m24-4h0m-76 44h0m10 2h0m7-18h0m19-11h0m-82 76h0m52-31h0m-13 17h0m65-71h0m-19-13h0m15 1h0m-27 42h0m3-3h0m-98 42h0m109-25h0m6 16h0m-80-18h0m113-15h0m-41-21h0m-44 49h0m81-50h0m-94 42h0m-17 25h0m72-61h0m23-4h0m-91 62h0m30-28h0m53-20h0m-67 0h0m2 33h0m47-32h0m-1-13h0m-32 4h0m11 33h0m48-72h0m-45 99h0m-76 16h0m99-103h0m-8 48h0m32-69h0m9 11h0m-64 42h0m27-13h0m10 13h0m5-7h0m21-19h0m-22 12h0m-52 10h0m83-11h0m-74 22h0m-10 50h0m-31-24h0m47-14h0m25 18h0m6-69h0m-48 53h0m29-28h0m-13 25h0m14-9h0m25-55h0m-62 64h0m-44 29h0m91-20h0m-32 17h0m89-30h0m-57-34h0m-32 15h0m19 21h0m19-22h0m3 0h0m-9 14h0m-69 19h0m89-64h0m6 1h0m-105 82h0m94-59h0m-65 43h0m-3 11h0m90-49h0m-58 26h0m8-29h0m14-11h0m26 10h0m-39 32h0m76-7h0m-65-43h0m-55 65h0m7-1h0m77-61h0m-88 99h0m-44-20h0m72-34h0m47-2h0m35-18h0m-38 6h0m4-7h0m-26-14h0m24 22h0m-25 28h0m-33-20h0m47-19h0m26 37h0m-24-67h0m-4 60h0m-30-17h0m-35 10h0m118-31h0m-28-1h0m-68 54h0m72-69h0m-41 56h0m-16 24h0m2-32h0m-8-15h0m38-14h0m31-9h0m-17 10h0m-13 31h0m8-46h0m-45 54h0m53-50h0m-7 14h0m5-12h0m-79 32h0m73 8h0m-31-13h0m26-23h0m-18 41h0m-6-32h0m61-7h0m-28 43h0m-30-44h0m22 6h0m-41 34h0m17-40h0m-85 70h0m61-52h0m57 19h0m-18 2h0m11-13h0m-13-13h0m-43 46h0m10-50h0m29-12h0m-4 3h0m42-6h0m31 23h0m-97 9h0m-1 34h0m33-42h0m-22-9h0m17 23h0m-63-13h0m82-33h0m15-3h0m-39 31h0m22 0h0m19-23h0m-29 55h0m-58-22h0m78-13h0m-56 43h0m12-13h0m68-22h0m-36-37h0m33 15h0m-43 6h0m-47 39h0m52-39h0m-66 70h0m44-64h0m47 7h0m-63 53h0m30-64h0m32 2h0m-45 53h0m35-109h0m-70 100h0m49 20h0m-15-45h0m-66 22h0m88-23h0m36-70h0m-77 99h0m65-31h0m-71 6h0m38-4h0m-20 13h0m25-27h0m-25-10h0m55-14h0m12 10h0m8-2h0m-57-3h0m-2 0h0m11 4h0m-74 78h0m81-37h0m-87 45h0m58-61h0m-48 49h0m59-31h0m13-35h0m-33 8h0m33-15h0m-11 7h0m8 13h0m32-38h0m-31 49h0m-27-1h0m42-26h0m-60 47h0m87-50h0m-34 8h0m6-26h0m-9 21h0m-57 40h0m88-48h0m-88 64h0m23 5h0m45-56h0m-27 27h0m31-10h0m-36-13h0m-72 74h0m103-86h0m10 48h0m-11-52h0m13-27h0m1 39h0m-34 6h0m-66 77h0m78-97h0m-52 68h0m6-9h0m38-45h0m-5 31h0m9-30h0m-65 9h0m89 0h0m-66 19h0m82-29h0m-56 36h0m-7-5h0m-35-15h0m101-26h0m-96 25h0m77-46h0m-64 44h0m11 1h0m55-46h0m9-3h0m-48 52h0m7-33h0m-30 48h0m-6 6h0m55-40h0m-8-30h0m21 32h0m-109 64h0m33-30h0m10-18h0m31-20h0m-63 33h0m52-23h0m16 5h0m1-2h0m34-42h0m7 7h0m-27 18h0m8 35h0m15-15h0m-75 27h0m51-76h0m2 38h0m-3 39h0m10-69h0m-26 17h0m32-17h0m-52 45h0m38-24h0m-56 59h0m32-53h0m39 11h0m22-17h0m-54 30h0m-61 34h0m76-39h0m-39-23h0m28 28h0m-42 4h0m36-3h0m-10 13h0m38-45h0m-28 21h0m19-44h0m-55 75h0m54-53h0m5 6h0m11 0h0m-77 39h0m82-71h0m-110 66h0m97-44h0m-68 45h0m41-30h0m-53 48h0m52-49h0m40-2h0m-6-4h0m-51 2h0m-31 39h0m59-29h0m-2 44h0m40-58h0m-38 2h0m-10 38h0m-39 4h0m78-45h0m-65 10h0m19 19h0m-18-20h0m30 11h0m-39 24h0m28-55h0m9 47h0m22-41h0m-55 42h0m9 1h0m46-28h0m-42 40h0m40-45h0m6-16h0m-14 25h0m-19-3h0m13 40h0m30-54h0m-26-7h0m-49 70h0m-50-4h0m67-31h0m58-34h0m-4 15h0m-116 67h0m118-74h0m-41 0h0m-43 46h0m-4-9h0m53-29h0m9-7h0m7 28h0m-34 7h0m-59 18h0m103-42h0m-69 34h0m17-7h0m24-45h0m9 29h0m-79 22h0m103-20h0m-33-26h0m-52 69h0m53-61h0m-23 42h0m-24-23h0m96-43h0m-24 15h0m-52 36h0m64-4h0m-12-19h0m2 4h0m-65 45h0m-23-6h0m5 10h0m17-39h0m81-20h0m-59 30h0m54-31h0m5-19h0m-3 8h0m-42 20h0m-69 53h0m115-90h0m-1 13h0m-73 33h0m49-27h0m-12 3h0m-12 46h0m7-28h0m40-24h0m2-17h0m-36 78h0m19-23h0m-26-10h0m58-28h0m-23-28h0m-58 65h0m51-33h0m-63 63h0m86-57h0m2-11h0m-7-13h0m-49 41h0m-61 18h0m57-8h0m51-16h0m-97 55h0m90-59h0m-29 13h0m-22-13h0m33 26h0m-92 14h0m107-27h0m-119 45h0m134-47h0m-93 45h0m61-6h0m14-50h0m-5 21h0m-43 6h0m27-59h0m-9 14h0m36-3h0m-105 64h0m98-56h0m-101 79h0m98-90h0m36 18h0m-40 10h0m41 5h0m-81 21h0m23 27h0m-37-10h0m6-53h0m-38 72h0m75-84h0m10 12h0m-38-2h0m-2 17h0m3 27h0m31-16h0m-16-13h0m-4 37h0m-29-12h0m38-23h0m7-21h0m39 41h0m-61-17h0m62-26h0m-29-1h0m-11-30h0m-5 41h0m57 12h0m-133 31h0m65-16h0m-47 20h0m75-73h0m-31 43h0m-29 50h0m47-96h0m-7 56h0m-31-14h0m-53 62h0m84-53h0m0 24h0m-37-30h0m54-55h0m6 56h0m10-48h0m-116 103h0m94-79h0m-85 45h0m49-27h0m26-28h0m29 46h0m10-21h0m-56-20h0m-25 46h0m66-57h0m11-4h0m-55 33h0m-2 0h0m53 18h0" stroke="#b3b3b5" stroke-width="2.88" stroke-linecap="round" fill="none" stroke-opacity="1.0"/><polygon points="120.0,594.0 128.0,585.0 144.6,572.3 156.2,566.5 170.0,561.0 183.8,555.3 193.0,553.5 201.0,556.0 208.0,559.0 212.0,563.0 210.0,570.0 204.0,575.0 194.0,580.0 180.0,586.3 166.0,592.0 152.0,597.7 138.0,601.0 124.0,602.0" fill="#c6c5c9" stroke="#c6c5c9" stroke-width="1.5" stroke-linejoin="round"/><path transform="scale(0.5)" d="M334 1163h0m-8-12h0m60 0h0m-100 14h0m-16 18h0m110-52h0m-73 20h0m114-18h0m-167 51h0m164-55h0m-21 17h0m-23 18h0m-73-7h0m21-16h0m-49 26h0m10 23h0m130-57h0m-127 48h0m-15 15h0m76-55h0m12 13h0m29-3h0m-20 9h0m-83 35h0m-15-26h0m-23 16h0m165-42h0m-125 43h0m96-49h0m-25-16h0m26 14h0m-11 16h0m-101 43h0m-5-27h0m99-15h0m-13-20h0m1-2h0m48-8h0m-57 10h0m-40 42h0m25-33h0m43-22h0m7 0h0m-69 50h0m78-23h0m-25-18h0m-55 27h0m97-16h0m-20-2h0m-40 18h0m31-36h0m-33 7h0m-33 25h0m32-26h0m53 10h0m-70 49h0m56-33h0m-53 32h0m-1-2h0m-52-4h0m96-39h0m-115 29h0m140-48h0m5 17h0m-114 54h0m-15-17h0m118-29h0m-92 1h0m111 4h0m-53-28h0m-73 77h0m-20-6h0m124-42h0m-131 47h0m128-90h0m-124 65h0m118-60h0m-47 57h0m27-30h0m-29 3h0m-48 54h0m59-72h0m16 14h0m-90 39h0m20-2h0m44 6h0m-43 17h0m129-78h0m-118 79h0m-40 3h0m75-30h0m-29-30h0m-54 42h0m65-17h0m-2 16h0m93-66h0m-40 12h0m-53 38h0m68-27h0m-127 33h0m160-38h0m-103 43h0m31-27h0m-75 37h0m16-25h0m65-5h0m56-26h0m-120 15h0m11 23h0m-35 34h0m134-55h0m-44 19h0m-95 29h0m143-67h0m-95 43h0m26 6h0m-47 17h0m62-77h0m70 29h0m-141 17h0m-36 23h0m160-73h0m-109 39h0m24 22h0m73-18h0m-52 12h0m-63 17h0m-15 12h0m98-65h0m-88 60h0m41-16h0m80-19h0m-125 47h0m72-42h0m34-21h0m-39 32h0m70-51h0m-70 51h0m-18 15h0m-41 6h0m8-31h0m112-21h0m-27-27h0m-21 8h0m-26 28h0m28-23h0m-76 56h0m45 0h0m13-36h0m-22 30h0m60-45h0m-105 57h0m58-4h0m-13-35h0m-36 23h0m115-51h0m-110 46h0m108-17h0m-109 16h0m120-49h0m-88 59h0m-22-21h0m40-24h0m5 17h0m-43 20h0m-8 14h0m-2-23h0m52-16h0m42-21h0m14-2h0m-72 64h0m-19-16h0m87-35h0m-95 11h0m25-13h0m-55 51h0m162-46h0m-58-12h0m-64 32h0m53-31h0m-14 54h0m8-25h0m-28 32h0m46-51h0m-61 8h0m22-13h0m63 6h0m-57 6h0m14-13h0m-1 26h0m-45-6h0m106-17h0m-74 42h0m-23 23h0m-32-30h0m28-4h0m47 11h0m-66-12h0m29 20h0m67-53h0m-93 69h0m55-62h0m-79 32h0m-12 29h0m103-22h0m25-21h0m-100 25h0m11-4h0m94-36h0m-12-27h0m-103 61h0m149-56h0m-127 74h0m45-48h0m51-14h0m-22 5h0m-73 40h0m117-63h0m-84 42h0m45-33h0m54 10h0m-176 56h0m93-39h0m-34-6h0m-56 44h0m104-64h0m-70 66h0m121-71h0m-83 39h0m42 2h0m-5-32h0m-40 19h0m61-14h0m-24 20h0m5 4h0m-82 40h0m62-31h0m36-51h0m-74 52h0m119-35h0m-55 28h0m-105 13h0m104-64h0m16 16h0m-49 7h0m37 12h0m-81 11h0m75-25h0m20 24h0m-62 19h0m79-53h0m-95 47h0m-41 31h0m-9-15h0m144-70h0m13 15h0m-138 42h0m101-41h0m-44 45h0m18-39h0m-41 11h0m14 26h0m-74 24h0m37-29h0m102-55h0m-126 67h0m13 4h0m-13-7h0m152-36h0m-78 9h0m-75 48h0m65-34h0m73-43h0m-47 50h0m-14 11h0m-37 7h0m32-24h0m-54 3h0m27-20h0m-6 36h0m-19-6h0m14-10h0m-4 17h0m88-21h0m-18-11h0m-56 44h0m43-46h0m-79 12h0m128-11h0m-18-22h0m-81 28h0m86-43h0m-16 51h0m17-23h0m34-1h0m-10 4h0m-15-6h0m-101 19h0m19-22h0m-23 41h0m35-45h0m8-2h0m9 29h0m-34-18h0m37 34h0m-56-19h0m63-21h0m7-9h0m-24 32h0m45-12h0m7-18h0m-108 60h0m131-50h0m-94 54h0m83-79h0m15 7h0m-136 58h0m67-35h0m6-6h0m-10 11h0m-17 24h0m-34 29h0m8-22h0m61-53h0m68 0h0m-21 27h0m-49-3h0m28-28h0m-52 57h0m-52-1h0m40-5h0m44-18h0m-35 12h0m-26 18h0m85-77h0m22 13h0m-85 61h0m73-42h0m-116 34h0m113-23h0m-115 6h0m7-6h0m87-23h0m-88 44h0m42 14h0m-28-6h0m-30-14h0m52-13h0m24-2h0m-26-10h0m-26 49h0m40-24h0m-64 30h0m-19-16h0m100-55h0m-36 55h0m-23-34h0m67 9h0m-31-6h0m4 15h0m0-19h0m-1 5h0m0 29h0m9-7h0m-90 10h0m85-39h0m16 27h0m-83 0h0m149-23h0m-132 43h0m39-45h0m-64 26h0m56 4h0m2-18h0m37-7h0m51-3h0m-55 3h0m40-1h0m-34 23h0m-5-21h0m53-1h0m-6-26h0m-82 18h0m62 23h0m-16-7h0m-63-12h0m-34 30h0m73-12h0m-6-12h0m67-14h0m-130 37h0m25-24h0m12 7h0m30 2h0m56-7h0m11-8h0m-34-19h0m-118 59h0m71-21h0m77-14h0m-102 11h0m-7 11h0m23 8h0m-60 26h0m57-48h0m72-20h0m-17-5h0m-5-4h0m41 2h0m-114 65h0m0-28h0m97-26h0m-96 43h0m105-42h0m-63 13h0m37 14h0m33-63h0m-52 53h0m-5-36h0m-38 19h0m18-9h0m38 32h0m-52 10h0m49-58h0m29-7h0m-61 62h0m65-52h0m-103 76h0m-14-5h0m66-48h0m-77 26h0m142-31h0m-70 13h0m54-10h0m-3-18h0m-127 79h0m97-51h0m22-33h0m-116 47h0m133-53h0m-107 60h0m54-15h0m28-6h0m-53 2h0m3 11h0m-51 28h0m50-31h0m87-28h0m-49 4h0m13-1h0m-101 56h0m129-40h0m-62 7h0m-6-1h0m33-20h0m0-17h0m-78 65h0m62-64h0m29 14h0m-27 34h0m-30-40h0m-13 25h0m81-12h0m32-5h0m-40 7h0m-119 39h0m118-33h0m-45-17h0m-87 65h0m67-46h0m36 21h0m-74 18h0m129-81h0m-53 38h0m-46 24h0m1 4h0m113-52h0m-119 58h0m11-18h0m-16 18h0m55-63h0m-53 65h0m124-55h0m-156 49h0m56-6h0m65-56h0m-17 41h0m-53-22h0m-60 60h0m143-64h0m-86 51h0m-4-39h0m-21 45h0m47-13h0m22-5h0m-61-26h0m34 10h0m14-12h0m-54 46h0m79-76h0m12 15h0m-26 35h0m-60 22h0m17-23h0m-18-16h0m106 7h0m-88 29h0m-14-35h0m42 33h0m74-37h0m-74-20h0m-12 43h0m37-27h0m0-14h0m-70 52h0m-3-17h0m96-43h0m-101 68h0m67-39h0m-42 11h0m85-10h0m-37-4h0m12-13h0m-10 1h0m-39 38h0m-58 19h0m112-84h0m-40 30h0m8 5h0m-6-15h0m4 15h0m18 14h0m60-31h0m-172 55h0m119-36h0m31-4h0m-99 26h0m80-1h0m-87 0h0m35-10h0m13-29h0m-77 58h0m44-35h0m64-22h0m-70 40h0m60-15h0m18 5h0m2-2h0m-69 14h0m-6 4h0m35-9h0m-46 9h0m-13-10h0m117-42h0m-122 70h0m3-3h0m-5 18h0m3-23h0m61-43h0m-39 19h0m4 31h0m20-21h0m58-34h0m-127 70h0m81-62h0m-45 42h0m-15-21h0m45-25h0m-49 42h0m144-61h0m-51 17h0m-49 7h0m20-20h0m-71 53h0m99-20h0m-54-3h0m-15 19h0m83-39h0m-131 63h0m7-14h0m36-4h0m126-59h0m-130 51h0m73-38h0m6 5h0m-88 31h0m55-9h0m-15-2h0m-52 24h0m79-43h0m15 32h0m-1-12h0m-93 32h0m56-25h0m73-29h0m-63 22h0m-5-21h0m57-22h0m-82 79h0m-59-9h0m56 8h0m-34-8h0m109-51h0m-68 54h0m108-67h0m-79 25h0m-76 44h0m25 10h0m116-86h0m-46 14h0m51 24h0m-159 46h0m41-40h0m30 29h0m98-60h0m-32-14h0m-81 45h0m63 0h0m3-42h0m-25 40h0m57 0h0m-125 22h0m-13-3h0m87-38h0m45 17h0m-1 2h0m-65 7h0m-67 39h0m118-38h0m-117 10h0m44 2h0m30-29h0m-22-4h0m-18 38h0m128-55h0m-32 32h0m17-15h0m-54 36h0m-82 9h0m-11 0h0m80-49h0m-68 39h0m25 18h0m-4-37h0m-10 17h0m57-11h0m62-17h0m-102 49h0m99-83h0m-112 46h0m-10 25h0m45-3h0m-27-43h0m60 32h0m21-40h0m-76 54h0m82-52h0m-106 68h0m-21 3h0m33-32h0m41-23h0m-32 36h0m4-10h0m44-5h0m7 4h0m-9-22h0m-19 18h0m0-17h0m-37 25h0m119-49h0m-96 63h0m-15-23h0m-8 16h0m18-42h0m42 16h0m-43 17h0m56-20h0m-79 37h0m3-28h0m112-22h0m-74 1h0m87-26h0m-11 1h0m-41 28h0m-48 17h0m3-7h0m40 9h0m-22-29h0m1 42h0m-76 13h0m71-18h0m37-11h0m-64 4h0m96-45h0m-153 71h0m119-55h0m-73 14h0m34 2h0m17 30h0m-78 12h0m70-34h0m-43 24h0m74-71h0m57 17h0m-31 6h0m21 8h0m-154 35h0m100-15h0m-59 0h0m30 0h0m-43 2h0m-7 26h0m-15 4h0m73-58h0m12 27h0m2-32h0m-13-7h0m3 1h0m-37 17h0m24 44h0m-26-8h0m1-6h0m-39 28h0m27-49h0m70-34h0m-29 7h0m-56 46h0m-21 1h0m15 16h0m75-42h0m39-31h0m-82 30h0m-30 33h0m7-9h0m60-5h0m-82 13h0m68-6h0m-38 8h0m-36 3h0m79-53h0m12 3h0m-12 43h0m-72 27h0m93-82h0m9 8h0m34 23h0m-76 33h0m32-62h0m-84 73h0m30-21h0m84-36h0m-79 16h0m49-27h0m45 20h0m-13 11h0m-82-12h0m-4 38h0m-14 14h0m41-38h0m86-43h0m-80 20h0m-8 45h0m-20-10h0m-9-1h0m15-36h0m-49 49h0m85-25h0m-53 0h0m84-10h0m32-10h0m11-14h0m-7 9h0m-15 13h0m-126 34h0m80-38h0m-64 23h0m120-24h0m-124 14h0m25 5h0m-29-2h0m27 18h0m13-41h0m35-22h0m1 38h0m11 0h0m30-1h0m-17-8h0m19-14h0m-99 62h0m14-55h0m47-18h0m-54 34h0m59-20h0m-92 56h0m71-54h0m13-1h0m23-22h0m-37 56h0m-47-2h0m45-33h0m68-19h0m-32 14h0m-17-4h0m-26 54h0m19-63h0m10 9h0m-55 40h0m90-44h0m-137 63h0m52-5h0m68-57h0m-73 34h0m-51 33h0m69-29h0m37-18h0m9 4h0m-78 5h0m63 20h0m-103 3h0m47 18h0m104-63h0m-18 29h0m-25 3h0m-21-21h0m44-18h0m-116 49h0m70-39h0m27 24h0m4 16h0m51-51h0m-44-9h0m43 34h0m-78 14h0m-59 20h0m100-41h0m-134 42h0m113-9h0m40-53h0m-62 18h0m17 19h0m-78 0h0m124-26h0m-88 6h0m80 15h0m-86 5h0m22-18h0m13 14h0m15 18h0m-55 23h0m78-72h0m-40 30h0m-2-25h0m-36 60h0m96-70h0m-40 22h0m-108 51h0m48-8h0m106-51h0m-22-1h0m-93 24h0m-3 29h0m20-13h0m107-53h0m-33 31h0m-92 35h0m46-1h0m61-37h0m6 0h0m-110 36h0m3-3h0m89-53h0m1 10h0m-43 10h0m14 6h0m-14-16h0m-95 48h0m105-61h0m-7 19h0m-64 34h0m114-18h0m-24-15h0m46 1h0m-50-24h0m-78 30h0m76 6h0m-50-2h0m88-41h0m-35 32h0m-35 35h0m-49-18h0m40 20h0m25-25h0m-28-12h0m-35 50h0m35-44h0m-49 35h0m19 1h0m59-8h0m-97 18h0m28-41h0m72-9h0m-66 12h0m77-28h0m-82 41h0m15 11h0m-15-8h0m0 9h0m68-43h0m10 19h0m-9-8h0m-75 7h0m22-4h0m83 4h0m-39 19h0m56-34h0m-99 24h0m5-1h0m-48 34h0m78-36h0m45-9h0m-88-2h0m21 30h0m114-60h0m-144 54h0m-8 19h0m67-26h0m79-36h0m-135 38h0m25-6h0m78-42h0m-106 71h0m92-72h0m-71 33h0m27 16h0m9-36h0m-46 46h0m25-31h0m-34 36h0m19-12h0m64-24h0m-112 43h0m57-12h0m84-35h0m-45 19h0m55-47h0m-99 52h0m23 18h0m30-26h0m-65 12h0m121-46h0m-76 4h0m-85 45h0m65 1h0m24-31h0m-46 32h0m89-58h0m-54 19h0m10 33h0m23-15h0m-74 18h0m46-44h0m-38 9h0m34 43h0m-68 10h0m117-68h0m-12 30h0m-38-1h0m-27 36h0m-50-1h0m51-54h0m16 12h0m-68 30h0m73-29h0m50 6h0m-92 39h0m68-19h0m-92 22h0m73-42h0m12-17h0m-8-4h0m40 29h0m-2-12h0m-41 12h0m-11-15h0m21 4h0m26-5h0m49-16h0m-111 32h0m68-48h0m-96 70h0m58-19h0m41-43h0m-45 2h0m31 19h0m13 1h0m27 2h0m-83 27h0m58-41h0m-100 58h0m4-38h0m4 2h0m82-35h0m-36 45h0m14-13h0m22-30h0m8 9h0m32 14h0m-84 8h0m50-15h0m-3 8h0m41-13h0m-109 28h0m1 23h0m-17-11h0m30-35h0m41 18h0m67-30h0m-150 40h0m96-53h0m-98 61h0m139-54h0m-23-7h0m-68 68h0m-19-33h0m43-5h0m-14-16h0m10 15h0m-74 21h0m55-7h0m29-7h0m-61 44h0m6-52h0m61 2h0m19-20h0m-63 14h0m-16 53h0m64-39h0m-55 34h0m13-29h0m82-16h0m-16 1h0m-42 17h0m3-27h0m-17-4h0m-34 65h0m102-47h0m-124 38h0m92-43h0m12-22h0m-7 44h0m-14-31h0m53-11h0m-123 70h0m-9-30h0m-18 45h0m118-41h0m-16-6h0m-70 4h0m10 1h0m69-33h0m-26-6h0m14 19h0m-24 9h0m1 0h0m-45 15h0m58 2h0m42-55h0m-79 64h0m39-19h0m9-40h0m-6 10h0m-44 48h0m8-23h0m50 12h0m-49-26h0m-66 43h0m37 11h0m34-51h0m6-18h0m8 19h0m29 20h0m-83-5h0m81-10h0m-31-16h0m78-12h0m-56 25h0m-14 18h0m75-39h0m-33 2h0m3 3h0m-32 21h0m-90 23h0m25-6h0m23-32h0m-59 48h0m36-20h0m104-13h0m-12-25h0m-33 46h0m-27-19h0m64-44h0m21 8h0m-156 73h0m4 1h0m84-22h0m15-28h0m17 11h0m48-25h0m-18 22h0m-58 28h0m-56-13h0m30 0h0m-26 12h0m16-18h0m118-29h0m-173 68h0m119-55h0m-17-24h0m-60 39h0m1 34h0m91-32h0m-15-39h0m-107 79h0m108-68h0m-70 56h0m113-57h0m-7-14h0m-51 40h0m25-14h0m-131 40h0m102-46h0m55 4h0m-24 4h0m-14-3h0m-76 8h0m6 15h0m-49 9h0m34 4h0m-37 26h0m104-68h0m1 9h0m-103 53h0m95-35h0m-9-41h0m6 0h0m-24 41h0m58-35h0m-58 42h0m16-37h0m35-17h0m20 22h0m-131 63h0m15-28h0m-6-1h0m103-20h0m15-2h0m-29-33h0m-11 45h0m-81 14h0m78-37h0m-17 23h0m20 6h0m-55-10h0m94-32h0m12 3h0m-25 15h0m-2-7h0m49-4h0m-36 28h0m-97 10h0m1-10h0m-7 20h0m-21-10h0m6-9h0m23 33h0m35-21h0m-73 15h0m102-71h0m8 1h0m-91 54h0m93-38h0m27 12h0m-4 0h0m-13 7h0m-90 14h0m35-1h0m-44 35h0m45-41h0m24-27h0m31-20h0m-85 50h0m33 5h0m82-41h0m-97 38h0m51-9h0m-82 19h0m15 11h0m-44 5h0m120-55h0m-79 20h0m86-39h0m-27 34h0m-48 35h0m-6-37h0m1 28h0m98-44h0m-96 29h0m54-27h0m-24 22h0m23-31h0m40 21h0m22-27h0m-33 6h0m-108 75h0m135-90h0m-15 16h0m1-10h0m-32 53h0m-45-5h0m-48 13h0m-14 1h0m166-60h0m-97 73h0m99-53h0m-21-1h0m-57 10h0m-47 37h0m-15 0h0m11-3h0m16-17h0m5 3h0m-20 14h0m40-18h0m20-3h0m-23-18h0m-15 7h0m-25 47h0m55-19h0m17-9h0m-36-30h0m84-8h0m-108 30h0m55 7h0m46-58h0m-84 57h0m103-29h0m-11-2h0m-64-1h0m6 27h0m-67 14h0m18-35h0m4 13h0m25 17h0m-65 21h0m116-52h0m-92 17h0m36-25h0m-50 33h0m124-50h0m-65 33h0m33 22h0m-86-7h0m120-38h0m-29 10h0m-69 37h0m63-9h0m-15-32h0m8 8h0m-34 11h0m-22 38h0m107-47h0m7-2h0m-63-5h0m-53 52h0m97-63h0m-43 35h0m-111 25h0m141-44h0m-44 10h0m77-28h0m-167 59h0m134-54h0m-99 41h0m132-46h0m0 14h0m-60-9h0m10 8h0m-78 30h0m86-35h0m-29 36h0m-22-15h0m-23 5h0m72 10h0m-5-27h0m-68 32h0m12-14h0m49-38h0m-85 57h0m75-44h0m22 17h0m-65 19h0m-44 12h0m-5-6h0m34 22h0m-36-7h0m18-12h0m91-28h0m17-24h0m17 13h0m-43 1h0m-10 21h0m20 9h0m-56 0h0m28-43h0m-58 59h0m73-34h0m-10 2h0m57-14h0m-64 3h0m14-17h0m-24 16h0m78-16h0m-24-2h0m-77 52h0m-48 10h0m93-11h0m-43-8h0m88-34h0m-142 67h0m58-19h0m-14-27h0m106-7h0m-54 0h0m-42 3h0m59-12h0m5-20h0m-94 59h0m8-28h0m-13 39h0m43-25h0m3 20h0m-63 7h0m113-55h0m-56 48h0m72-70h0m-60 73h0m9-15h0m89-43h0m-95 11h0m-16 45h0m68-66h0m-18 17h0m49-7h0m-17 26h0m-104 6h0m50 21h0m17-27h0m14-21h0m15 6h0m-19 1h0m26 2h0m8-21h0m-111 66h0m-10-23h0m-6 2h0m131-45h0m-100 28h0m77-13h0m-62 49h0m-55 18h0m39-35h0m-6 29h0m124-64h0m-59 37h0m-74 4h0m135-46h0m-141 51h0m-4-23h0m37 26h0m-2 7h0m90-70h0m-157 72h0m110-22h0m10-9h0m-13-8h0m5-33h0m-70 75h0m80-70h0m-85 56h0m-6-17h0m99-6h0m-68-2h0m60 3h0m-18-12h0m-30 28h0m57-41h0m-15 18h0m-28-4h0m-14 33h0m97-59h0m-130 44h0m82-55h0m-61 42h0m-59 46h0m158-81h0m-75 63h0m66-46h0m-52 19h0m28-25h0m-98 36h0m120-39h0m-62 11h0m-30 24h0m32-20h0m36 23h0m-59 3h0m99-23h0m-16-25h0m-62 11h0m73-15h0m-136 58h0m5 8h0m38 9h0m13-34h0m-54 11h0m111-29h0m-126 65h0m69-20h0m21-29h0m3 17h0m-1-2h0m45-6h0m-63-31h0m25 41h0m-33 7h0m-12-31h0m36-1h0m62-12h0m-65 17h0m-18 12h0m19 10h0m-37-4h0m-18 20h0m127-58h0m-108 11h0m114-11h0m-24 14h0m-89-11h0m-57 55h0m30-32h0m-25 42h0m14-29h0m115-21h0m-137 44h0m122-33h0m-63 6h0m64-15h0m-11-4h0m-49 40h0m-62-9h0m82-53h0m-84 74h0m139-43h0m19-36h0m-14 7h0m-19 7h0m-102 65h0m73-73h0m-36 62h0m50-54h0m-15 36h0m46-11h0m-96 11h0m22 6h0m91-29h0m4-33h0m3 21h0m-98 31h0m-36 13h0m-10 7h0m53-14h0m34-15h0m-87 35h0m1-19h0m104-48h0m-1-4h0m-40 13h0m-59 46h0m1 14h0m87-43h0m32-19h0m-87 57h0m80-63h0m-105 26h0m132-9h0m-90-5h0m55-15h0m20 26h0m-3-6h0m-59-10h0m-17 0h0m-38 14h0m64 21h0m-10-36h0m-49 19h0m95-11h0m-87 10h0m68-8h0m-112 58h0m168-61h0m-106 10h0m0 13h0m71-40h0m-89 70h0m97-50h0m-32 27h0m2-51h0m-54 29h0m16 37h0m-50 3h0m81-35h0m5-8h0m-40 27h0m-13-8h0m27-6h0m-77 26h0m55 4h0m-13-19h0m60-36h0m-55 36h0m16-10h0m78-10h0m-56-26h0m-7 37h0m27-21h0m-13-10h0m-79 41h0m17 1h0m54 2h0m52-52h0m-117 52h0m59-1h0m-28-3h0m2-14h0m-32 19h0m-25 27h0m100-69h0m15 19h0m-105 28h0m51-36h0m47 20h0m-16-11h0m-24 1h0m25-23h0m-5 15h0m-34-3h0m-5 9h0m74 4h0m-36-11h0m51-20h0m-4 28h0m-44-30h0m31 7h0m-22 21h0m-67 4h0m3 18h0m55-39h0m-56 26h0m78 12h0m-80 24h0m68-74h0m22 20h0m-7 23h0m-42-15h0m6 16h0m29-12h0m-5 1h0m-78-3h0m-11 32h0m54-37h0m-69 42h0m83-30h0m-63 24h0m93-46h0m15 23h0m-102 0h0m85 1h0m-45-12h0m69 1h0m-85 43h0m66-44h0m-23 27h0m70-48h0m-145 67h0m51-34h0m9-8h0m-35 16h0m102-24h0m-17-23h0m-34 26h0m-31 42h0m-45-7h0m115-35h0m-92 25h0m82-29h0m26-9h0m-45 2h0m-51 23h0m-4-5h0m4 9h0m-7 10h0m50-16h0m-5-13h0m-68 37h0m92-5h0m-57-31h0m35-16h0m55-11h0m-104 69h0m61-26h0m-61 23h0m76-61h0m-4 9h0m-47 42h0m65-46h0m-13 41h0m-105 11h0m62-2h0m-37 6h0m73-51h0m-66 25h0m70-25h0m-61 24h0m-32 39h0m38-47h0m13 13h0m21 10h0m22-21h0m-45 4h0m15 3h0m-23 8h0m-24-2h0m86-13h0m-29 7h0m-37-3h0m35-28h0m-81 69h0m84-47h0m35 1h0m-12 0h0m-111 32h0m81-40h0m-8 9h0m-45 29h0m37-32h0m51-5h0m-9-4h0m44-4h0m-67-5h0m-67 62h0m23-39h0m-37 39h0m74-69h0m-54 68h0m20-32h0m-14 18h0m-28 8h0m99-38h0m21 2h0m-50 30h0m-31-9h0m12-26h0m-27 53h0m70-22h0m-38 9h0m-50 2h0m106-31h0m-73-14h0m28 42h0m-48 16h0m127-68h0m-62 33h0m-35 25h0m84-76h0m-144 64h0m67-4h0m3-21h0m4 13h0m49-44h0m-42 4h0m-14 59h0m74-39h0m-119 30h0m32-25h0m72-2h0m23-15h0m-94 47h0m62-49h0m-58 52h0m41-44h0m14-19h0m-50 38h0m54-44h0m-68 77h0m22-34h0m1-4h0m-54 27h0m47-38h0m54-1h0m31-6h0m-8 9h0m-7 16h0m-23-18h0m-76 34h0m70-42h0m32-22h0m-31 46h0m-69 44h0m-17-17h0m147-45h0m-171 48h0m74-27h0m-14 33h0m0-6h0m-16-9h0m7 14h0m89-62h0m-7-15h0m-134 80h0m46-38h0m102-36h0m-130 51h0m109-11h0m24-11h0m-130 14h0m19-4h0m9 27h0m48-8h0m-3-44h0m-45 20h0m2 29h0m34-18h0m54-50h0m-58 24h0m59 0h0m-94 22h0m88 1h0m-82 22h0m29-59h0m50-17h0m-31 41h0m-74 45h0m59-29h0m-76 11h0m69-44h0m68-12h0m-26-9h0m-71 56h0m40-15h0m-60 37h0m24-33h0m6 30h0m-9-46h0m72 7h0m-84 25h0m-6 11h0m-17 5h0m125-73h0m-65 58h0m-33 4h0m119-60h0m-115 74h0m13-22h0m87-47h0m-10 3h0m-27 25h0m-59 6h0m-41 28h0m73-44h0m-25 47h0m51-39h0m52-16h0m-4 15h0m-116 50h0m86-74h0m-31 4h0m65-9h0m-115 41h0m111-8h0m-67-1h0m-28 0h0m99-28h0m-118 69h0m86-39h0m-59 12h0m34-37h0m73-4h0m-80 33h0m29-17h0m-82 47h0m1-39h0m9 50h0m85-62h0m-40 23h0m-98 31h0m31 9h0m30-42h0m98-49h0m-122 49h0m25 22h0m0 9h0m56-41h0m39 0h0m-80-8h0m-51 40h0m70-14h0m12 9h0m-4-42h0m-49 20h0m19 8h0m63-51h0m22 10h0m-21 32h0m-48 12h0m-12-25h0m41 10h0m-93 29h0m47 0h0m-2 6h0m72-53h0m-89 57h0m79-27h0m34-20h0m-39-1h0m-72 31h0m-3 12h0m6-12h0m98-34h0m-26-21h0m-64 74h0m-5-47h0m-13-4h0m19 50h0m-41-2h0m49-19h0m75-36h0m-17 18h0m-18-20h0m22 11h0m5-13h0m-20 20h0m-14-11h0m12 12h0m-2 17h0m-83-10h0m44-26h0m-14 25h0m56-38h0m5 28h0m-57 23h0m-76 22h0m86-57h0m68-22h0m-37 40h0m-85 14h0m13-2h0m102-30h0m-139 65h0m72-49h0m55-41h0m-107 90h0m137-72h0m-56 41h0m-54-9h0m58 0h0m16-32h0m-43 50h0m-7 13h0m93-69h0m-53 19h0m-95 27h0m51-12h0m56 9h0m-45-3h0m24-14h0m-44 39h0m-10-14h0m70-35h0m-89 16h0m39 29h0m-42-30h0m83-18h0m-118 52h0m23-13h0m31 8h0m39-43h0m44-10h0m-88 45h0m121-53h0m-9 19h0m-81 17h0m41-27h0m9-1h0m-123 53h0m26 16h0m59-20h0m-79 18h0m-3-17h0m53-1h0m-27 14h0m129-62h0m-137 40h0m94 0h0m-66-7h0m85-26h0m-38 1h0m64 1h0m-87-8h0m-31 71h0m73-85h0m-100 74h0m144-45h0m-98-2h0m-22 45h0m102-42h0m-9-3h0m-59 36h0m46-23h0m-69 35h0m30-59h0m-12 46h0m30-9h0m24-5h0m-31-41h0m-54 58h0m112-42h0m-50 21h0m-43 2h0m-36 19h0m68-26h0m-59-4h0m119 1h0m-143 3h0m98 25h0m-30-25h0m85-19h0m-26 29h0m-68-1h0m67-35h0m-68 69h0m-34-6h0m132-33h0m-61-8h0m-54 36h0m21-22h0m-1-35h0m-8-6h0m33 49h0m32-26h0m-120 49h0m-5-11h0m131-59h0m10 2h0m-32-24h0m-2 42h0m-93 47h0m89-33h0m-57 9h0m16 1h0m35-13h0m-29 3h0m99-17h0m-67-13h0m13 0h0m-126 46h0m96-2h0m16-55h0m-85 63h0m24-7h0m38-24h0m65 1h0m-5 9h0m-7-35h0m-38 27h0m25-17h0m-105 48h0m51-52h0m112 22h0m-85-31h0m-44 59h0m-42 17h0m104-33h0m-95 26h0m104-69h0m-53 44h0m83-40h0m20 14h0m-108 10h0m86-30h0m-86 10h0m74-24h0m-71 59h0m28 1h0m67-31h0m-122 4h0m77-19h0m62 13h0m-98-1h0m-23 23h0m-10 6h0m28 16h0m96-48h0m-50-6h0m-46 52h0m77-48h0m-23 11h0m-72-4h0m-20 81h0m36-30h0m64-64h0m-57 24h0m-65 35h0m112-34h0m49-23h0m-82 8h0m21-17h0m25 5h0m-102 56h0m48-4h0m62-37h0m-2-36h0m-102 50h0m16 52h0m60-44h0m-86 27h0m90-25h0m-49-27h0m-41 63h0m63-45h0m-76 42h0m116-52h0m-69 40h0m36-15h0m-68 5h0m50-9h0m-77 13h0m16-11h0m83-27h0m-11 62h0m36-57h0m-23 11h0m-36 35h0m-28-47h0m65 1h0m28-5h0m-48 12h0m-78 58h0m74-37h0m55-63h0m-41 85h0m-56-22h0m86-27h0m-42 13h0m20 10h0m18-22h0m38-6h0m-106 48h0m100-55h0m-102 51h0m-21 9h0m133-75h0m-108 15h0m6 60h0m97-63h0m-116 50h0m13-24h0m-39 19h0m136-58h0m-9-2h0m-26 28h0m0-9h0m-54 74h0m104-52h0m-90 17h0m52-51h0m-100 42h0m142-45h0m-132 64h0m-3 4h0m39-50h0m11 22h0m18-29h0m-56 31h0m-17 47h0m11-14h0m-51-10h0m120-27h0m18-28h0m-45 31h0m-6 16h0m5-26h0m-31 59h0m14-16h0m-1-22h0m-77 45h0m190-57h0m-43 3h0m-49-26h0m-36 37h0m32-18h0m-28 49h0m41-10h0m-11-12h0m-52-12h0m-9 38h0m-2 16h0m70-59h0m-25-10h0m95-11h0m-58 9h0m-87 49h0m105-65h0m-13 22h0m-36 20h0m32-38h0m41-10h0m-104 51h0m71-35h0m-94 46h0m41-21h0m94-50h0m-8-18h0m-164 103h0m104-89h0m61 7h0m-67 50h0m-27-27h0m3 24h0m82-45h0m-50 15h0m-52 28h0m122-37h0m-56 40h0m-25 4h0m-67 4h0m87-36h0m-3 6h0m28-22h0m44-7h0m-36 22h0m16 3h0m-119 33h0m83-34h0m-106 46h0m80-13h0m-80 34h0m34-31h0m80-40h0m-2 1h0m-119 18h0m48 9h0m73-19h0m-15-14h0m-52 65h0m94-82h0m-31 39h0m8 1h0m-119 30h0m121-61h0m-24 19h0m-61 49h0m41 4h0m-45-38h0m123-27h0m-140 48h0m131-25h0m-37-15h0m-60-4h0m-34 44h0m86-58h0m74 1h0m-117 66h0m72-65h0m-19 4h0m8 11h0m-69 4h0m-3 8h0m-9-19h0m-10 19h0m26 56h0m82-57h0m-104 43h0m107-75h0m-51 14h0m-48 48h0m19 34h0m-16-73h0m-27 47h0m116-28h0m-124 34h0m67-40h0m-80 15h0m143-26h0m-11 21h0m19-43h0m-18 24h0m-104 12h0m108-19h0m-55 17h0m65-30h0m-29 26h0m-45 29h0m57-38h0m-40 2h0m24-20h0m-54 58h0m64-40h0m-73 35h0m108-54h0m-87 38h0m46-69h0m-63 86h0m57-11h0m-31 8h0m-64 4h0m8 5h0m69-63h0m61 2h0m-151 55h0m58-16h0m52-43h0m-107 77h0m137-42h0m-108-3h0m61-31h0m-8 51h0m-13 6h0m-69 22h0m85-77h0m1 13h0m29 38h0m0-23h0m-73 25h0m8-17h0m41-21h0m36 14h0m17-23h0m-11 23h0m-101-5h0m102-17h0m-98 40h0m22 9h0m9-8h0m-5-13h0m95-16h0m-74 24h0m32-18h0m-115 51h0m48 20h0m104-81h0m-103 20h0m-39 54h0m73-30h0m43-53h0m43-9h0m-55-3h0m38 4h0m-73 51h0m41-8h0m-68 24h0m85-27h0m-115 15h0m28 2h0m53-64h0m-53 57h0m11-17h0m-63 52h0m58-57h0m-17-5h0m3 18h0m-15 32h0m101-36h0m-35-4h0m-105 52h0m151-74h0m-75 55h0m5-26h0m-14-10h0m-6 36h0m3-27h0m-33 26h0m33 0h0m64-14h0m7-53h0m-72 32h0m91-12h0m-16-8h0m-101 53h0m124-43h0m-110 60h0m38-24h0m-5-31h0m-29 33h0m44-53h0m-42 55h0m76-24h0m-46 20h0m-45-9h0m98-24h0m-118 59h0m49-2h0m69-64h0m-115 33h0m29-4h0m89-55h0m-91 70h0m32-35h0m-49 30h0m71-6h0m35-68h0m20 27h0m-93 40h0m32-40h0m-1 39h0m-3 10h0m6-20h0m-101 23h0m136-50h0m-37 48h0m27-27h0m-60 53h0m23-22h0m-81-2h0m45-4h0m82-50h0m-87 47h0m-32 10h0m51-14h0m112-37h0m-61 25h0m-51 41h0m21-71h0m-26 54h0m34-53h0m41 21h0m-1-6h0m6-16h0m-65 19h0m-41 51h0m32-13h0m-38-10h0m21-37h0m39-5h0m57-4h0m-25-12h0m-10 16h0m64 6h0m2 2h0m-112 25h0m113-46h0m-59 33h0m-11 9h0m-73-3h0m76-42h0m-58 53h0m69-19h0m20-14h0m-100 43h0m71-48h0m-84 41h0m60-17h0m33-4h0m26-18h0m-27 30h0m-83 31h0m81-52h0m-27-15h0m-66 74h0m69-25h0m51-57h0m-50 33h0m-78 44h0m90-59h0m14 1h0m-87 41h0m-16 14h0m30-19h0m-42 16h0m121-29h0m-65 21h0m-23 12h0m36-1h0m11-63h0m0 15h0m-52 43h0m36-54h0m93 19h0m-146 33h0m99-26h0m-47-16h0m-56 37h0m5-6h0m101-38h0m-54 29h0m72-60h0m1 5h0m-35 60h0m-93 10h0m33-40h0m-49 49h0m157-57h0m-108 14h0m98-14h0m-56 36h0m47-47h0m30-12h0m-132 100h0m68-77h0m-2 4h0m-76 39h0m98-53h0m-25 43h0m59-26h0m-129 57h0m41-35h0m-49 41h0m17-43h0m128-16h0m-99 13h0m-5 45h0m-23-29h0m8-24h0m64 28h0m-20 5h0m87-41h0m2-25h0m-92 69h0m25-16h0m-10-4h0m-81 17h0m38-15h0m108-24h0m-120 45h0m124-38h0m-22-17h0m-108 15h0m38 5h0m76-22h0m-89 23h0m34-17h0m63-3h0m-75 41h0m55-43h0m-108 74h0m13-56h0m23 16h0m-26 21h0m82-46h0m-42 15h0m-80 36h0m143-66h0m-68-3h0m-24 85h0m70-52h0m-34 20h0m-36-15h0m72 22h0m3-34h0m-86 45h0m44-32h0m79-18h0m-147 72h0m23-18h0m138-85h0m-114 47h0m-42 17h0m120-23h0m25-7h0m-130 26h0m54 21h0m59-49h0m-115 28h0m33-29h0m-31 7h0m15 46h0m106-71h0m-80 51h0m30-31h0m-22 38h0m37-41h0m-10-23h0m15 26h0m-19 15h0m-83 38h0m28 4h0m65-19h0m-110-15h0m42 26h0m-49-19h0m56-5h0m-4-24h0m-16 27h0m54 7h0m10-30h0m-40 2h0m38 8h0m-48-9h0m82 9h0m-81 5h0m76-10h0m29-37h0m-129 69h0m81-33h0m48-9h0m-22 24h0m-10-16h0m-102 41h0m73-33h0m-88 41h0m59-77h0m-55 64h0m-11-9h0m182-49h0m-60 12h0m-96 30h0m99-19h0m46-4h0m-47-23h0m-84 50h0m79-9h0m18-41h0m-13 3h0m-102 26h0m11 26h0m19-6h0m5-35h0m1 18h0m61 2h0m32-29h0m-36-1h0m-64 22h0m25 36h0m91-31h0m-67 21h0m38-42h0m-37-22h0m21 16h0m-69 23h0m-8 14h0m15 10h0m-32 8h0m60-20h0m76-37h0m-151 84h0m1-5h0m-11-14h0m2-11h0m38-25h0m88-9h0m-19-42h0m-33 28h0m5 6h0m-66 10h0m6 32h0m126-23h0m-89 13h0m21-43h0m35 34h0m-34-6h0m2-13h0m-25 10h0m72-25h0m-72 59h0m1-29h0m105-31h0m-127 57h0m114-21h0m-115 19h0m46-12h0m-7-49h0m82 34h0m-91-12h0m-62 36h0m113-18h0m-23-30h0m13-23h0m-17 34h0m28-26h0m-128 67h0m34 9h0m1 2h0m7-29h0m-23 43h0m76-50h0m28-33h0m32 13h0m-63 24h0m-7-1h0m68-37h0m-15 25h0m-134 32h0m83-42h0m-42 23h0m40-17h0m52-15h0m-3 17h0m38-13h0m-40 19h0m-70 16h0m78-65h0m-60 80h0m73-47h0m-47-9h0m-16-1h0m-44 39h0m73-42h0m-74 56h0m12-24h0m75 8h0m-32-31h0m61-13h0m-104 72h0m3-46h0m73-40h0m24-18h0m-77 80h0m-61 28h0m154-58h0m-110 32h0m108-16h0m-45-4h0m38-29h0m-106 47h0m83-47h0m-44 18h0m-18-2h0m-55 34h0m21-16h0m100-26h0m-84 31h0m67-59h0m-64 68h0m72-3h0m-76 10h0m89-48h0m-129 28h0m101-18h0m-71 40h0m25-5h0m88-19h0m-51-5h0m-103 22h0m33 12h0m74-3h0m-31-7h0m71-24h0m-54-13h0m15 7h0m-53 33h0m20-17h0m-57 16h0m45-29h0m6 25h0m30-32h0m11 15h0m30-27h0m-88 59h0m34-14h0m72-58h0m0 43h0m-116-1h0m70-1h0m-92-8h0m105-55h0m-72 80h0m38-21h0m81-24h0m-137 61h0m20-15h0m2-2h0m58-35h0m36-30h0m-88 40h0m5 3h0m-45 41h0m124-69h0m-31 6h0m19 9h0m-73 28h0m40-24h0m-54 53h0m90-54h0m3-8h0m-88 41h0m106-57h0m-50 41h0m-45 28h0m16-45h0m-60 28h0m22-10h0m34-28h0m56 25h0m-57-11h0m-42-8h0m99-11h0m27 7h0m-97 3h0m37 1h0m-49 18h0m68-25h0m-63 64h0m39-16h0m28-17h0m14-20h0m-146 34h0m112-67h0m-24 65h0m1 18h0m-9-72h0m67 49h0m-104-13h0m80-42h0m1 57h0m-45-21h0m17-20h0m75-3h0m-22 18h0m18-7h0m-70-15h0m64-16h0m-22 38h0m-43 2h0m-27 50h0m-47-1h0m136-49h0m-25-33h0m-78 53h0m28 22h0m84-67h0m-104 64h0m-34 12h0m111-87h0m-10 10h0m-46 63h0m-23-9h0m74-36h0m-87 35h0m72-12h0m13-47h0m-134 65h0m157-77h0m-40 56h0m33-3h0m-7-14h0m15-20h0m-52 37h0m28-45h0m-105 80h0m53-23h0m-48 12h0m95-25h0m-4 6h0m-116 41h0m139-58h0m42-13h0m-124 36h0m25-3h0m40-30h0m47 9h0m-113 42h0m54-57h0m-34 40h0m-53 14h0m143-68h0m-26-10h0m1 36h0m-90 27h0m101-49h0m-55 52h0m-80 22h0m101-43h0m-21 19h0m87-35h0m-58 26h0m-4-4h0m-18 19h0m-97 24h0m89-81h0m-26 94h0m33-39h0m-95 5h0m34-29h0m99 15h0m-103 19h0m64-28h0m-59-12h0m92-2h0m-36 16h0m-48 20h0m-9-14h0m82-15h0m14-17h0m-63 10h0m-37 31h0m120-32h0m-139 43h0m-13-2h0m107-9h0m32-21h0m-52 29h0m-14-3h0m-5 27h0m64-49h0m-116 4h0m55 9h0m37-59h0m60 16h0m-96 4h0m15 21h0m60-19h0m-40 28h0m73-20h0m-74 7h0m20-24h0m31-11h0m5 42h0m-43-14h0m-74 53h0m18-72h0m73 33h0m16-6h0m7-40h0m-90 44h0m-26 47h0m-49 7h0m54-70h0m79 12h0m-85 47h0m39-8h0m28-64h0m58 7h0m-125-9h0m70 4h0m25-16h0m24 17h0m19 11h0m-137 37h0m1 13h0m46 10h0m-84-22h0m38 18h0m34-26h0m-5 11h0m64-31h0m-84 44h0m100-59h0m-7 4h0m-130 35h0m110-8h0m-102 34h0m13-3h0m18-23h0m11 2h0m20-18h0m-78 30h0m75-19h0m44-53h0m22 17h0m-95 7h0m100 12h0m-26-17h0m-111 33h0m1 54h0m68-61h0m-2 13h0m36-15h0m-77-17h0m-11 67h0m80-43h0m23-42h0m-39 22h0m-41 46h0m-52-20h0m66-36h0m17 0h0m-70 46h0m0 24h0m-14-18h0m147-39h0m19-35h0m-5 45h0m-46-11h0m-19-17h0m-44 64h0m-42 4h0m29-24h0m52-6h0m-50 26h0m78-58h0m-51 27h0m67-37h0m-80 6h0m95 11h0m-55 0h0m-91 49h0m112-87h0m45 50h0m-133 9h0m126-34h0m-11-19h0m-28 69h0m-14-39h0m61-14h0m-48 29h0m-45-29h0m42 40h0m-33-39h0m45 2h0m5 6h0m-129 23h0m135-18h0m-49 17h0m17-47h0m-73 67h0m37-45h0m-11 1h0m120-5h0m-142 74h0m67-58h0m27-10h0m-23-5h0m51 1h0m-93 17h0m14-1h0m65 8h0m-18-52h0m-28 36h0m-80 35h0m81-11h0m-3 8h0m-15-11h0m-19-13h0m75 5h0m-28-11h0m11 5h0m-115 53h0m102-44h0m-27-15h0m-22 21h0m-11 45h0m-1-57h0m-5 20h0m-2 28h0m70-66h0m-117 54h0m46-12h0m169-23h0m-45-8h0m26-38h0m-66 15h0m-66 33h0m2 60h0m110-107h0m-5 27h0m-76 61h0m15-42h0m-11-45h0m-32 99h0m119-82h0m-116 40h0m30 10h0m-37 41h0m76-84h0m-63 47h0m74-61h0m-129 82h0m99-33h0m-70-4h0m122-15h0m-64-18h0m49-11h0m-39-11h0m-93 69h0m77-36h0m-25 21h0m77-8h0m-35-45h0m-50 44h0m13 36h0m-41 16h0m146-33h0m-97-28h0m84-51h0m-115 80h0m105-83h0m-104 64h0m50-20h0m-84 20h0m97 7h0m-81 19h0m45-4h0m16-22h0m-5-42h0m79 29h0m-126 16h0m124-30h0m-30 45h0m-45 30h0m-92-13h0m105-28h0m-36-14h0m-35 9h0m23-13h0m4 41h0m-11-49h0m-1 34h0m54-8h0m-75-8h0m88-30h0m-19 38h0m-69-14h0m-54 43h0m89-14h0m91-50h0m-30 27h0m-18-2h0m-95 42h0m121-73h0m-41 53h0m-7-34h0m71 30h0m-21-33h0m-21 33h0m-13-43h0m-35 13h0m-5 22h0m15 22h0m50-9h0m24-11h0m-122-22h0m26 53h0m99-59h0m-52 4h0m-34 14h0m63-36h0m-13 31h0m18-11h0m-101 25h0m58 3h0m14-50h0m-47 38h0m14 33h0m8-12h0m-3 9h0m36-57h0m-51 54h0m4 41h0m-28-24h0m49-39h0m-37 40h0m69-14h0m-34-30h0m-89 26h0m72-33h0m60-22h0m46 23h0m-38 4h0m-158 44h0m184-45h0m-80 21h0m-48-1h0m27-12h0m-6-13h0m2 0h0m-72 49h0m113-50h0m-33 22h0m-1-60h0m-12 26h0m40 74h0m-39-38h0m56-14h0m-42 41h0m42-56h0m26-2h0m-45-20h0m-78 81h0m100-23h0m20 5h0m-78 3h0m68-47h0m-3 1h0m-95 36h0m55-12h0m21 11h0m-79 10h0m6-6h0m75-23h0m1-33h0m-129 84h0m99-11h0m97-62h0m-121 31h0m54-17h0m-19 0h0m-17-2h0m-42 18h0m1 17h0m8 1h0m39 1h0m26 14h0m87-56h0m-152 79h0m-40-14h0m79-78h0m38 40h0m-10-45h0m16 26h0m-59 35h0m67-50h0m-68 12h0m-40 56h0m90-49h0m29 9h0m15-52h0m-79 48h0m12-49h0m-54 71h0m80-38h0m-88 18h0m113-32h0m-6-15h0m-89 46h0m2 21h0m139-74h0m-121 96h0m-18 11h0m14-38h0m71-58h0m-38-19h0m-47 74h0m98-36h0m-112 9h0m147-19h0m-159 74h0m-25-32h0m120-17h0m-35 1h0m-17 20h0m64-23h0m-49-25h0m76 18h0m-91 47h0m80-71h0m-145 49h0m110-20h0m-77 26h0m122-14h0m-73 2h0m19 38h0m93-42h0m-126-2h0m21-22h0m-29 83h0m-26-23h0m-21-31h0m84-36h0m-57 43h0m-5 2h0m5 30h0m3-65h0m-38 81h0m74-82h0m13 7h0m-36 27h0m55 1h0m8 1h0m24-47h0m36 27h0m-165 24h0m75-73h0m-52 98h0m-12 2h0m45 7h0m88-85h0m-81 49h0m77-37h0m-118 74h0m29-37h0m87-8h0m-131-8h0m70-23h0m6-1h0m69-12h0m-83 108h0m66-94h0m-7 11h0m-56 1h0m53-11h0m-109 67h0m-15-9h0m101-56h0m9 15h0m-106 28h0m97-47h0m-99 60h0m25-24h0m80-44h0m3 9h0m-62 60h0m-27 16h0m146-93h0m-132 61h0m96-22h0m11-2h0m-32-13h0m-127 61h0m64-67h0m31 2h0m15 48h0m5-4h0m-49 18h0m11-24h0m-31 8h0m47-30h0m-63 75h0m41-28h0m23-28h0m-70 0h0m97-14h0m45-29h0m-136 29h0m66 0h0m74-18h0m-113 55h0m18-33h0m59-17h0m-108 44h0m14 13h0m-8 0h0m7-4h0m-15-12h0m-3 12h0m-8-59h0m77 53h0m-92-34h0m42 9h0m80 3h0m-89 21h0m28-21h0m85-28h0m-87 50h0m86-31h0m17 24h0m-103 12h0m89-37h0m-41-46h0m-65 90h0m116-44h0m-73 44h0m-100-17h0m133-64h0m46 8h0m-19-27h0m-63 46h0m74-29h0m-40-9h0m41 34h0m-20-40h0m14 38h0m26-14h0m-138 84h0m-10-37h0m80 1h0m49-45h0m-29-12h0m14 45h0m-80-4h0m118-26h0m-76 15h0m-66 10h0m35-30h0m-27 49h0m13-11h0m111 4h0m-34-29h0m-76 70h0m13-17h0m-2-27h0m81-23h0m-79 14h0m-62 16h0m110-20h0m-93 46h0m104-76h0m-70 74h0m16-38h0m-9-17h0m-47 68h0m63-59h0m-20-18h0m58 37h0m-44 2h0m82-2h0m-80 8h0m-78-3h0m94-10h0m-17-26h0m18 16h0m-72-4h0m31 41h0m34-32h0m-19 39h0m-19-12h0m-40 20h0m41-38h0m-18 7h0m-38 27h0m109-37h0m32 12h0m-10-52h0m-4-5h0m-76 44h0m101-12h0m-96 25h0m65-58h0m-39 4h0m29-9h0m-11 60h0m34 34h0m-61-16h0m30-25h0m21-12h0m19 15h0m11-55h0m9 34h0m-106 13h0m79-20h0m-96 65h0m42-29h0m50-9h0m-50-9h0m67-35h0m-8-9h0m-119 74h0m42-7h0m66-79h0m-93 80h0m67-21h0m-58 25h0m91-57h0m-34-10h0m83 1h0m-155 76h0m91-54h0m23-11h0m-90 46h0m-53 21h0m121-17h0m-67 15h0m86-33h0m-15 0h0m-142 20h0m46-1h0m138-30h0m-80 20h0m15-62h0m53 52h0m-61 11h0m17-41h0m-32 17h0m50-8h0m38-9h0m0-34h0m-109 102h0m91-81h0m-48 10h0m-17 36h0m47-36h0m-72-11h0m66 8h0m-32 60h0m-39-23h0m57-28h0m-14-3h0m-77 58h0m58-11h0m96-56h0m-133 46h0m-46 17h0m19 36h0m59-46h0m18-47h0m-70 69h0m91-55h0m32-56h0" stroke="#c6c5c9" stroke-width="2.64" stroke-linecap="round" fill="none" stroke-opacity="1.0"/><line x1="41.30" y1="675.80" x2="264.55" y2="506.84" stroke="#000" stroke-width="1.3" /><line x1="41.30" y1="645.08" x2="264.55" y2="476.12" stroke="#000" stroke-width="1.25" stroke-dasharray="1.3 1.6"/><line x1="41.30" y1="706.52" x2="264.55" y2="537.56" stroke="#000" stroke-width="1.25" stroke-dasharray="1.3 1.6"/></g><line x1="55.80" y1="515.45" x2="55.80" y2="664.50" stroke="#000" stroke-width="1.5" /><line x1="55.10" y1="663.80" x2="249.80" y2="663.80" stroke="#000" stroke-width="1.5" /><line x1="52.40" y1="522.50" x2="55.40" y2="522.50" stroke="#222" stroke-width="1.0" /><text x="48.40" y="525.70" font-size="10" fill="#222" text-anchor="end" stroke="#222" stroke-width="0.2">1</text><line x1="52.40" y1="573.50" x2="55.40" y2="573.50" stroke="#222" stroke-width="1.0" /><text x="48.40" y="576.90" font-size="10" fill="#222" text-anchor="end" stroke="#222" stroke-width="0.2">0</text><line x1="52.40" y1="624.50" x2="55.40" y2="624.50" stroke="#222" stroke-width="1.0" /><text x="48.40" y="628.10" font-size="10" fill="#222" text-anchor="end" stroke="#222" stroke-width="0.2">−1</text><line x1="108.50" y1="664.20" x2="108.50" y2="667.20" stroke="#222" stroke-width="1.0" /><text x="108.95" y="678.20" font-size="10" fill="#222" text-anchor="middle" stroke="#222" stroke-width="0.2">−1</text><line x1="176.50" y1="664.20" x2="176.50" y2="667.20" stroke="#222" stroke-width="1.0" /><text x="176.60" y="678.20" font-size="10" fill="#222" text-anchor="middle" stroke="#222" stroke-width="0.2">0</text><line x1="244.50" y1="664.20" x2="244.50" y2="667.20" stroke="#222" stroke-width="1.0" /><text x="244.25" y="678.20" font-size="10" fill="#222" text-anchor="middle" stroke="#222" stroke-width="0.2">1</text><clipPath id="cCR"><rect x="315.7" y="516.0" width="193.40000000000003" height="147.39999999999998"/></clipPath><g clip-path="url(#cCR)"><path transform="scale(0.5)" d="M894 1117h0m41-14h0m-15-5h0m-48 46h0m-79 61h0m115-81h0m26-14h0m-51 31h0m-40 39h0m88-87h0m-54 74h0m-61 0h0m24 27h0m108-97h0m-192 112h0m40-4h0m62-60h0m74-42h0m6 8h0m-204 119h0m52-23h0m136-116h0m-95 107h0m-66 35h0m49-63h0m7 8h0m98-50h0m-73 50h0m122-99h0m-74 32h0m20-8h0m18-24h0m-175 147h0m125-58h0m-21-2h0m-137 83h0m179-118h0m-113 69h0m-21 21h0m114-90h0m-37 51h0m96-91h0m-16 4h0m20-13h0m-79 79h0m79-78h0m-119 91h0m34-41h0m-141 120h0m209-136h0m-80 27h0m-48 47h0m58-39h0m87-73h0m-74 56h0m-70 58h0m81-79h0m-45 86h0m116-131h0m-57 75h0m0 10h0m-52-2h0m-71 45h0m184-119h0m-16 17h0m-50 45h0m-81 50h0m4 14h0m63-79h0m61-8h0m-146 103h0m66-35h0m-55 10h0m59-55h0m69-21h0m-69 20h0m-24 34h0m-2-9h0m31-41h0m45 1h0m20-7h0m-130 89h0m95-70h0m48-40h0m-67 22h0m19 0h0m-9 40h0m-76 21h0m-6 7h0m-55 37h0m24-11h0m21-14h0m-41 16h0m135-75h0m-41 42h0m14-49h0m79-24h0m-95 54h0m-27 34h0m11-6h0m-40 10h0m146-99h0m-123 117h0m39-58h0m7-5h0m-92 64h0m105-91h0m-33 61h0m3-8h0m73-68h0m-122 101h0m51-44h0m42-30h0m52-34h0m-48 35h0m-54 16h0m53-23h0m36-41h0m-17 36h0m-28 1h0m-125 81h0m-7 11h0m72 5h0m53-57h0m47-62h0m-94 56h0m96-59h0m-80 60h0m-6 13h0m32-20h0m88-72h0m-85 38h0m-123 123h0m20-29h0m58-35h0m-54 42h0m88-52h0m-3 3h0m-16-18h0m21-3h0m-43 52h0m67-82h0m70-43h0m-64 45h0m37-33h0m29-18h0m-110 114h0m33-57h0m48-41h0m-116 93h0m103-71h0m-14-2h0m-40 33h0m57-49h0m-144 133h0m109-84h0m74-49h0m-132 71h0m35-58h0m108-33h0m-55 23h0m-118 118h0m100-96h0m-102 110h0m79-88h0m-51 8h0m92-47h0m-161 132h0m62-39h0m96-79h0m38-18h0m-169 111h0m127-77h0m-119 89h0m125-97h0m-76 42h0m80-51h0m26-21h0m-100 50h0m91-57h0m-33 23h0m39-18h0m19-10h0m-35 31h0m-161 100h0m68-51h0m110-68h0m7-17h0m-36 37h0m-134 94h0m-15 16h0m-9 4h0m192-129h0m-70 14h0m-57 29h0m121-42h0m-73 46h0m58-39h0m-106 95h0m5-33h0m104-73h0m-4 14h0m-123 71h0m49-41h0m71-43h0m7 14h0m-36 25h0m61-57h0m-157 124h0m96-90h0m-92 97h0m104-97h0m27-12h0m-60 18h0m31 19h0m-151 90h0m100-95h0m-72 95h0m1-10h0m115-79h0m2 5h0m50-65h0m-60 33h0m67-28h0m-73 76h0m-37 2h0m105-62h0m-45 13h0m-38 14h0m-126 120h0m83-33h0m48-94h0m-30 50h0m115-83h0m-105 72h0m-6 32h0m-97 40h0m208-161h0m-27 32h0m-38 22h0m-62 60h0m17-8h0m-41 10h0m81-43h0m-53 35h0m7-33h0m12-3h0m21-15h0m93-46h0m-122 113h0m29-54h0m-31 17h0m70-53h0m-87 64h0m139-91h0m-136 96h0m1 2h0m-38 42h0m96-104h0m-108 103h0m154-135h0m-144 110h0m78-48h0m79-44h0m-89 30h0m-66 77h0m49-41h0m85-74h0m12-6h0m-27 41h0m23-35h0m25-19h0m-120 84h0m-6 10h0m18 2h0m-124 73h0m175-125h0m-10-2h0m-47 46h0m57-43h0m-65 35h0m104-45h0m-45 0h0m-88 104h0m124-119h0m-3 5h0m-122 110h0m141-122h0m-106 93h0m-54 26h0m99-75h0m-129 89h0m70-32h0m22-6h0m32-69h0m12 40h0m30-60h0m27-12h0m-81 48h0m-36 58h0m105-74h0m-53 24h0m-21 24h0m83-68h0m-49 56h0m37-65h0m-105 120h0m-5 3h0m57-84h0m5 12h0m-61 41h0m53-45h0m83-49h0m-162 119h0m135-108h0m-114 96h0m43-44h0m65-50h0m32-17h0m-118 94h0m10 4h0m107-96h0m-199 137h0m130-89h0m-45 17h0m95-60h0m14 0h0m-154 134h0m65-85h0m-75 90h0m130-109h0m-130 85h0m160-106h0m-33 13h0m-137 113h0m84-92h0m48-1h0m-63 61h0m-98 44h0m193-125h0m-77 22h0m-4 35h0m-30 6h0m74-39h0m-83 53h0m58-63h0m45-31h0m-38 49h0m-137 90h0m105-89h0m36-31h0m-32 38h0m72-69h0m-47 85h0m-116 52h0m170-122h0m-51 17h0m-61 49h0m-12 36h0m62-70h0m-125 109h0m188-111h0m-49-18h0m4 24h0m55-34h0m-171 123h0m49-72h0m21 50h0m-15-32h0m-3 30h0m-4 0h0m62-65h0m-136 113h0m87-106h0m66-19h0m-42 34h0m-14 6h0m115-61h0m-120 79h0m66-71h0m46-6h0m-122 61h0m-61 59h0m188-137h0m-113 63h0m27-23h0m-64 94h0m81-94h0m-83 82h0m78-52h0m55-66h0m-64 36h0m55-36h0m2-3h0m-164 127h0m42-7h0m119-101h0m-44 10h0m-3 16h0m-72 60h0m130-94h0m-159 110h0m91-70h0m35-38h0m-43 35h0m-91 89h0m140-101h0m-134 93h0m51-42h0m113-69h0m-157 116h0m146-139h0m-122 98h0m16-7h0m52-26h0m-127 86h0m95-64h0m-9 16h0m-9-30h0m-26 45h0m139-86h0m-3-34h0m-22 35h0m-12 2h0m-23 35h0m-3-12h0m4-20h0m-106 66h0m143-71h0m-128 84h0m101-68h0m-68 58h0m125-107h0m-2 24h0m-61 39h0m7-15h0m-94 96h0m-19-25h0m159-116h0m-143 100h0m141-88h0m-187 126h0m116-78h0m43-34h0m-83 57h0m72-40h0m3-12h0m-18 20h0m-55 45h0m58-40h0m57-52h0m12 13h0m-202 122h0m147-77h0m40-53h0m-13 33h0m-30-7h0m-155 110h0m102-93h0m-4 37h0m-24 1h0m9-4h0m52-60h0m-97 102h0m-20-1h0m190-127h0m-171 133h0m170-131h0m-55 23h0m45-19h0m-76 67h0m88-71h0m-150 140h0m152-138h0m-66 27h0m37-5h0m-4-1h0m-49 20h0m-36 34h0m-67 45h0m134-79h0m-15 25h0m-105 45h0m172-115h0m-129 80h0m80-43h0m-29 5h0m9 25h0m-16-6h0m63-40h0m5-8h0m-124 79h0m144-78h0m-173 119h0m109-113h0m44-29h0m-172 143h0m116-68h0m34-35h0m-71 62h0m25-33h0m55-25h0m-101 59h0m73-58h0m-117 98h0m30-22h0m137-102h0m-135 113h0m86-80h0m-139 98h0m121-74h0m31-49h0m28-13h0m-158 142h0m57-49h0m39-37h0m-69 46h0m109-91h0m-64 47h0m63-13h0m-142 99h0m179-143h0m-165 125h0m61-46h0m1-1h0m99-86h0m1 4h0m-44 34h0m48-25h0m-43 8h0m-44 24h0m81-45h0m-43 23h0m-50 63h0m80-70h0m-111 75h0m64-59h0m2 24h0m-141 85h0m33-3h0m-34 18h0m183-146h0m-39 23h0m-53 43h0m38-29h0m-48 34h0m37-28h0m-80 87h0m101-84h0m-75 50h0m131-99h0m-71 51h0m-41 23h0m-61 53h0m-10-5h0m150-78h0m-31-22h0m1 29h0m-117 70h0m61-38h0m85-56h0m-112 81h0m129-77h0m8-32h0m-76 47h0m75-24h0m-17 12h0m-63 51h0m95-95h0m-161 130h0m109-83h0m-83 96h0m72-113h0m54-17h0m-40 32h0m-108 70h0m101-62h0m-130 72h0m45 11h0m74-92h0m46-11h0m-106 100h0m-68 10h0m66-47h0m-10 23h0m-50 8h0m121-83h0m2 11h0m47-35h0m-146 107h0m25-5h0m20-25h0m53-23h0m62-49h0m-180 138h0m48-60h0m74-63h0m-12 28h0m8-17h0m-40 45h0m23-22h0m-118 71h0m49-22h0m3 3h0m134-103h0m-127 93h0m35-20h0m-42-4h0m-50 65h0m48-44h0m156-98h0m-2-17h0m-172 115h0m126-83h0m-75 62h0m102-92h0m-146 145h0m43-23h0m95-87h0m17-23h0m-24 13h0m27-18h0m-17 10h0m-53 19h0m-44 66h0m33-24h0m-43 42h0m72-60h0m-65 25h0m-64 62h0m98-77h0m-53 50h0m15-10h0m12-25h0m88-54h0m5 25h0m-6-26h0m-164 128h0m166-122h0m-97 66h0m-64 44h0m149-112h0m-70 63h0m8-10h0m-61 51h0m168-128h0m-218 153h0m9-14h0m89-80h0m31-21h0m63-30h0m-99 79h0m115-92h0m-173 149h0m-1-16h0m143-98h0m-107 59h0m-68 65h0m206-150h0m-7-3h0m-21 19h0m-90 36h0m107-52h0m-8 18h0m-111 80h0m49-34h0m88-54h0m-148 99h0m41-53h0m-51 68h0m127-116h0m-109 93h0m111-89h0m-176 135h0m34-20h0m-32 1h0m179-114h0m32-16h0m-87 57h0m20-7h0m-128 90h0m181-120h0m-11-1h0" stroke="#b3b3b5" stroke-width="2.88" stroke-linecap="round" fill="none" stroke-opacity="1.0"/><polygon points="481.0,536.5 475.0,539.0 465.0,544.0 440.0,556.5 420.0,573.5 405.0,589.0 390.0,603.0 375.0,612.0 366.0,617.0 366.0,619.0 375.0,616.0 390.0,611.0 405.0,605.0 420.0,593.5 440.0,576.5 465.0,557.0 475.0,547.0 481.0,539.5" fill="#c6c5c9" stroke="#c6c5c9" stroke-width="1.5" stroke-linejoin="round"/><path transform="scale(0.5)" d="M894 1113h0m-92 81h0m105-77h0m-76 67h0m-50 31h0m43-13h0m10-45h0m40-19h0m12-28h0m-107 103h0m95-62h0m-20 14h0m24-23h0m-77 62h0m27-13h0m-17 3h0m91-65h0m-76 44h0m65-23h0m-86 35h0m0 8h0m127-78h0m-115 59h0m35-17h0m-2-2h0m-36 21h0m-36 43h0m101-67h0m21-15h0m-89 45h0m111-74h0m-98 62h0m55-23h0m-39 11h0m53-40h0m15 0h0m-77 40h0m113-72h0m-102 88h0m-39 15h0m59-29h0m4 2h0m-31 28h0m65-61h0m-75 56h0m-6-19h0m106-73h0m-81 59h0m-85 77h0m162-135h0m-44 52h0m-108 71h0m80-63h0m7-14h0m12 1h0m-114 85h0m50-28h0m42-45h0m-49 46h0m36-27h0m27-27h0m-29 16h0m67-40h0m-2 2h0m-25 11h0m12-21h0m-148 121h0m116-91h0m21-18h0m28 2h0m-76 67h0m72-81h0m-29 5h0m-73 94h0m155-116h0m-135 77h0m98-64h0m-80 73h0m-93 50h0m43-22h0m31-5h0m51-60h0m95-68h0m-41 37h0m-54 26h0m52-31h0m-63 61h0m60-57h0m-23 14h0m-87 64h0m110-90h0m-50 42h0m77-52h0m-89 53h0m17-3h0m-20 36h0m14-22h0m30-38h0m-112 93h0m25-15h0m-60 33h0m93-49h0m48-35h0m4-16h0m8 2h0m-43 24h0m-65 41h0m54-30h0m27-24h0m-46 39h0m60-59h0m10 3h0m-55 29h0m-1 10h0m-14 17h0m10 5h0m73-66h0m-37 35h0m-101 68h0m104-105h0m-2 14h0m5-4h0m-27 21h0m17-22h0m-28 53h0m-6-3h0m86-68h0m-34 30h0m-28-1h0m44-12h0m23-13h0m-29 8h0m22-23h0m-156 125h0m54-19h0m121-96h0m-5 7h0m-102 81h0m-32-2h0m148-99h0m-24 15h0m-102 80h0m32-33h0m106-72h0m-9 8h0m-35 31h0m-74 33h0m-79 72h0m174-141h0m-1 1h0m-160 133h0m152-124h0m-69 60h0m2-10h0m-47 49h0m97-81h0m-6-6h0m-36 55h0m21-27h0m68-52h0m-90 49h0m-21 42h0m-47 13h0m130-75h0m-2 2h0m-53 14h0m61-29h0m-41 22h0m-35 15h0m-34 31h0m-10 28h0m-51 24h0m92-50h0m-16 18h0m89-101h0m-12 29h0m-132 87h0m140-106h0m-96 90h0m69-57h0m53-37h0m-129 90h0m-42 23h0m29-25h0m91-51h0m-72 49h0m38-22h0m3-12h0m-28 12h0m17 12h0m23-15h0m-48 17h0m-27 39h0m60-74h0m-44 37h0m3 0h0m137-87h0m-140 98h0m103-73h0m-10-5h0m-2 2h0m-49 42h0m14 3h0m21-37h0m-107 87h0m130-99h0m-156 123h0m25-32h0m89-48h0m-19-10h0m95-58h0m-71 44h0m-56 60h0m-30 25h0m158-120h0m-26-1h0m5-4h0m-71 50h0m70-28h0m-72 24h0m31 6h0m-67 27h0m-56 53h0m53-40h0m3 2h0m3-7h0m-50 38h0m7-3h0m148-115h0m-31 23h0m-85 75h0m114-87h0m-20 15h0m-101 78h0m-4-4h0m37-41h0m86-56h0m-56 22h0m15-3h0m-86 89h0m71-76h0m16-12h0m38-20h0m-57 46h0m-126 93h0m156-126h0m21 9h0m-20-3h0m-43 54h0m-31 8h0m-33 20h0m72-67h0m-41 67h0m31-25h0m-34-7h0m-64 65h0m-1-3h0m186-134h0m-47 24h0m-44 37h0m85-56h0m-46 13h0m-88 101h0m100-91h0m-82 54h0m19-16h0m104-69h0m-51 34h0m7-5h0m45-19h0m-105 57h0m21-8h0m-18 7h0m-48 47h0m137-91h0m-45 2h0m-54 69h0m-15 13h0m139-109h0m-97 51h0m-65 61h0m128-90h0m23-17h0m-54 46h0m-16-16h0m-58 88h0m2-17h0m-43 29h0m185-142h0m-126 97h0m-26 7h0m84-70h0m-140 117h0m117-93h0m-28 27h0m-55 52h0m88-70h0m-83 50h0m83-65h0m-105 83h0m83-73h0m55-37h0m30-11h0m-123 81h0m-39 42h0m10 1h0m128-102h0m-97 80h0m96-92h0m-113 99h0m-21 12h0m18-9h0m61-62h0m-53 63h0m125-108h0m-59 39h0m79-46h0m-40 26h0m26-19h0m-156 114h0m3 4h0m44-39h0m66-50h0m37-21h0m-48 37h0m-135 85h0m74-21h0m-17-11h0m24-36h0m-79 69h0m38-20h0m86-82h0m-76 75h0m11 13h0m123-104h0m-66 19h0m68-41h0m-53 58h0m-66 56h0m36-24h0m36-51h0m-20 24h0m-52 36h0m-8 3h0m60-39h0m-128 76h0m148-92h0m17-25h0m-55 65h0m-38 22h0m6-27h0m68-64h0m-51 79h0m71-81h0m-7 27h0m45-35h0m-43 23h0m-59 44h0m-65 58h0m46-21h0m-60 20h0m196-134h0m-147 128h0m13-30h0m28-23h0m23-8h0m-102 66h0m47-44h0m-35 37h0m112-107h0m9 13h0m-42 35h0m-41 46h0m-27 11h0m83-71h0m-28 15h0m64-53h0m-53 33h0m-51 53h0m38-30h0m19-16h0m54-36h0m-100 65h0m86-49h0m-29 19h0m-52 37h0m87-84h0m-64 50h0m26-11h0m-26 32h0m1-14h0m101-62h0m-123 88h0m63-67h0m36 2h0m-60 38h0m-92 64h0m29-14h0m108-77h0m-99 73h0m72-63h0m-126 95h0m-6 1h0m117-100h0m25-21h0m-17 7h0m-50 58h0m-69 53h0m194-145h0m-91 55h0m45-34h0m-91 99h0m48-46h0m8-21h0m-123 97h0m38-12h0m106-104h0m-42 46h0m-17 18h0m83-66h0m-24 17h0m-87 55h0m81-46h0m-74 48h0m105-65h0m-114 88h0m-52 14h0m128-83h0m-30 22h0m26-10h0m5-32h0m39-19h0m-68 45h0m-39 52h0m57-41h0m-13-13h0m23-23h0m8 22h0m-74 34h0m41-36h0m-30 41h0m47-47h0m-75 75h0m46-38h0m47-23h0m-48 2h0m83-39h0m-73 41h0m-3-1h0m35-17h0m-73 68h0m60-56h0m-101 80h0m84-55h0m30-31h0m25-10h0m-152 96h0m149-120h0m-24 17h0m37-22h0m-146 120h0m56-33h0m56-59h0m-41 51h0m-57 32h0m32-26h0m67-49h0m-37 12h0m-25 32h0m82-66h0m-43 30h0m63-41h0m-92 79h0m86-74h0m-31 25h0m34-31h0m-109 99h0m72-52h0m18-33h0m-28 15h0m13-14h0m-117 101h0m22-27h0m114-65h0m-53 4h0m72-32h0m-124 102h0m101-73h0m16-25h0m-33 38h0m-86 65h0m139-126h0m-98 75h0m21-4h0m-53 40h0m128-100h0m-135 116h0m119-96h0m-97 73h0m-12-1h0m33-40h0m94-64h0m-87 95h0m-114 61h0m53-21h0m58-59h0m59-57h0m-31 47h0m-16-4h0m69-53h0m-98 98h0m-13 0h0m44-33h0m56-34h0m-20-14h0m-25 14h0m-82 74h0m50-47h0m-2 31h0m35-56h0m7 2h0m39-19h0m-137 109h0m-47 24h0m62-38h0m47-20h0m70-71h0m-69 47h0m-10 7h0m46-49h0m-37 43h0m26-8h0m-36 14h0m27-17h0m29-28h0m-11 10h0m43-33h0m-70 61h0m-22 22h0m54-69h0m68-32h0m-116 72h0m92-53h0m-175 125h0m123-85h0m13-24h0m2 11h0m-27 12h0m21-8h0m-46 32h0m62-43h0m-99 66h0m10 14h0m-12 16h0m1-17h0m9-13h0m65-34h0m-36 20h0m62-40h0m-104 67h0m-2 11h0m87-93h0m-12 15h0m29-15h0m-30 42h0m-21-13h0m-34 41h0m93-60h0m-57 35h0m-42 20h0m26 2h0m-52 23h0m48-34h0m62-39h0m26-36h0m-59 55h0m6-14h0m26-4h0m-10-2h0m-28 34h0m-25 12h0m102-69h0m-89 76h0m10-21h0m73-49h0m19-26h0m-82 44h0m-33 39h0m-3-7h0m103-63h0m-62 28h0m56-11h0m-86 53h0m41-37h0m-112 91h0m-3 7h0m120-110h0m-79 86h0m136-121h0m-121 100h0m100-78h0m-151 112h0m142-102h0m-70 32h0m50-5h0m-64 26h0m-54 47h0m67-48h0m-20 7h0m-13 30h0m26-28h0m97-82h0m-80 68h0m7-6h0m-11 5h0m32-17h0m-45 37h0m-35 27h0m79-60h0m2-13h0m-41 9h0m39-15h0m-54 33h0m61-54h0m39 4h0m37-34h0m-56 38h0m7 3h0m-39 6h0m-52 46h0m97-79h0m-70 54h0m70-51h0m-84 72h0m122-81h0m-120 64h0m6 19h0m37-34h0m4 4h0m6-24h0m-34 36h0m59-47h0m-28 10h0m-38 34h0m94-58h0m-54 32h0m0 4h0m-72 71h0m-15 0h0m45-49h0m52-24h0m-72 46h0m-10 0h0m-7 11h0m41-33h0m-17 34h0m-71 45h0m157-126h0m28-3h0m3-14h0m-133 110h0m-2-22h0m134-95h0m-219 160h0m157-99h0m-48 21h0m-44 37h0m98-75h0m-31 23h0m14-8h0m-4-16h0m42-17h0m-77 45h0m13 26h0m-9 5h0m-10 4h0m34-58h0m-81 74h0m14-4h0m39-46h0m-18 46h0m96-79h0m-166 112h0m110-98h0m37-5h0m-36 10h0m24-8h0m-2-10h0m-36 29h0m-116 92h0m128-106h0m54-17h0m-104 84h0m37-50h0m36-22h0m21-10h0m-22 4h0m-19 30h0m33-38h0m-103 97h0m68-79h0m71-39h0m-125 112h0m25-20h0m55-42h0m12-31h0m55-27h0m-125 97h0m75-50h0m27-44h0m-51 65h0m-102 53h0m24-19h0m130-72h0m-192 116h0m123-81h0m-55 59h0m60-59h0m-52 42h0m131-102h0m-104 71h0m84-68h0m-100 80h0m93-72h0m23-7h0m-82 73h0m-54 31h0m18-31h0m-31 46h0m133-98h0m-135 92h0m142-98h0m-107 59h0m83-46h0m35-39h0m-103 80h0m51-22h0m1-14h0m12-22h0m-161 124h0m115-61h0m47-62h0m-94 91h0m40-42h0m73-45h0m-46 25h0m-45 44h0m-87 46h0m69-43h0m105-66h0m-67 54h0m-12-2h0m-31 39h0m-16 8h0m81-56h0m47-50h0m-14 19h0m-178 102h0m98-58h0m26-1h0m-111 61h0m100-62h0m-63 39h0m57-31h0m39-23h0m-90 50h0m79-47h0m-24-11h0m90-42h0m19-19h0m-1-10h0m-32 34h0m43-33h0m-86 75h0m-56 41h0m112-95h0m-93 83h0m-76 42h0m102-94h0m-22 46h0m16-42h0m-65 69h0m44-15h0m-47 16h0m135-104h0m-13 11h0m-28 29h0m44-38h0m-112 83h0m88-80h0m-83 97h0m-24 3h0m10-5h0m37-35h0m-43 25h0m49-33h0m-12 1h0m26-13h0m-43 47h0m52-72h0m45-11h0m-104 67h0m-37 36h0m8-1h0m-15 12h0m57-38h0m26-7h0m-77 31h0m150-98h0m-17-3h0m-45 26h0m5 8h0m6-23h0m-6 32h0m-69 40h0m51-49h0m15-15h0m-1 18h0m78-45h0m-18 11h0m-14 13h0m-161 103h0m10-1h0m83-68h0m84-59h0m-11 10h0m-112 89h0m-35 24h0m64-40h0m-78 37h0m88-44h0m-44 23h0m72-51h0m-14 22h0m15-40h0m-22 40h0m60-66h0m-42 54h0m-28-13h0m68-34h0m-11-3h0m18-6h0m33-8h0m-8-10h0m-54 64h0m-19-10h0m67-40h0m-52 22h0m-43 43h0m20 0h0m-18 7h0m-7 20h0m49-70h0m-133 115h0m139-117h0m0 11h0m-116 88h0m102-68h0m-119 80h0m132-90h0m-31 30h0m49-63h0m-87 67h0m23-13h0m117-77h0m-80 64h0m33-46h0m-38 41h0m-39 32h0m-15 5h0m-16 28h0m122-100h0m-90 50h0m69-24h0m6-31h0m-130 113h0m123-90h0m-33 8h0m-59 65h0m90-62h0m-78 57h0m19-12h0m-42 10h0m135-98h0m-52 23h0m68-38h0m-103 90h0m42-25h0m-55 10h0m63-27h0m-91 68h0m38-37h0m-47 46h0m85-61h0m-100 68h0m81-50h0m-85 51h0m75-70h0m-7 26h0m68-51h0m-80 46h0m-21 13h0m10 7h0m83-68h0m-75 55h0m38-39h0m-72 78h0m125-91h0m-96 49h0m45-32h0m47-14h0m-120 64h0m128-83h0m-107 96h0m111-84h0m-47-1h0m-45 46h0m-19 26h0m100-96h0m-77 84h0m61-56h0m-66 70h0m12-23h0m103-82h0m-139 93h0m38-7h0m-18 13h0m36-27h0m70-57h0m5-10h0m-58 46h0m-16 0h0m32-7h0m7-20h0m-84 87h0m94-81h0m-66 34h0m51-19h0m-99 82h0m24-27h0m-16 10h0m116-78h0m28-27h0m-77 61h0m13-40h0m-114 110h0m32-25h0m17-12h0m87-79h0m-15 6h0m-65 54h0m0 12h0m-80 50h0m-27 15h0m85-37h0m-27 16h0m82-65h0m-56 33h0m111-76h0m-37 13h0m5-7h0m54-18h0m-100 69h0m-16 27h0m62-84h0m-39 55h0m83-68h0m-124 85h0m36-30h0m80-38h0m1-6h0m-128 83h0m67-55h0m36-24h0m-105 106h0m139-124h0m-51 47h0m-47 39h0m-13 4h0m-24 30h0m68-84h0m56-15h0m-10-18h0m-115 88h0m86-40h0m-14 0h0m9-8h0m-91 69h0m36-29h0m73-66h0m-107 89h0m43-20h0m33-38h0m20-32h0m54-9h0m-140 102h0m150-111h0m-116 88h0m115-96h0m-65 44h0m-76 75h0m23-28h0m43-26h0m-102 74h0m87-86h0m-14 12h0m62-37h0m-45 37h0m-91 71h0m169-125h0m-36 10h0m24 3h0m-94 50h0m51-14h0m-111 77h0m121-93h0m-97 73h0m59-37h0m2-28h0m42-12h0m44-32h0m-76 48h0m25-17h0m-67 37h0m32 6h0m-20 12h0m-9-21h0m66-15h0m-13-9h0m-14 29h0m1-34h0m43-14h0m-57 15h0m46-17h0m-67 40h0m-32 34h0m55-20h0m-3-30h0m-68 64h0m125-92h0m-59 60h0m-80 57h0m67-74h0m54-37h0m-124 113h0m143-104h0m-182 113h0m70-44h0m-15 27h0m35-21h0m75-90h0m-124 119h0m89-86h0m7 10h0m47-58h0m-102 91h0m1 17h0m9-39h0m46-25h0m-51 39h0m70-48h0m-61 27h0m-39 55h0m51-58h0m5-8h0m-45 63h0m15-27h0m10-7h0m2 23h0m-29 18h0m-11 0h0m82-86h0m-14 25h0m-70 48h0m2 10h0m45-50h0m-3 9h0m-11 22h0m106-84h0m-97 68h0m9-7h0m-52 50h0m46-59h0m53-36h0m-121 102h0m114-83h0m-96 80h0m117-103h0m14-7h0m-24 34h0m-146 86h0m203-143h0m-44 6h0m-74 71h0m-67 57h0m145-108h0m-43 36h0m-26 12h0m60-29h0m21-12h0m0-5h0m-68 39h0m79-45h0m-64 43h0m63-50h0m-54 47h0m36-25h0m13-25h0m-116 82h0m115-75h0m18-21h0m-116 101h0m-15-4h0m-38 41h0m17-15h0m120-94h0m6-15h0m10 14h0m-30 12h0m38-38h0m11 0h0m-79 74h0m-22 13h0m-18-8h0m20-18h0m-73 73h0m68-61h0m-60 53h0m25-8h0m126-109h0m-71 64h0m71-70h0m-70 44h0m-8 11h0m-14 23h0m2-7h0m-42 34h0m9 8h0m17-13h0m11-20h0m46-55h0m7 12h0m55-37h0m-41 15h0m-50 30h0m-15 28h0m27-13h0m-42 47h0m-9-2h0m110-87h0m-110 83h0m101-83h0m-27 9h0m-83 69h0m123-92h0m-6 17h0m-8-17h0m-62 75h0m12-21h0m72-52h0m-33 25h0m-2-5h0m-36 25h0m10-15h0m40-3h0m-14 8h0m2-2h0m-12 1h0m-66 27h0m68-29h0m64-41h0m-170 125h0m45-43h0m45-59h0m75-27h0m-175 134h0m129-82h0m-47 37h0m-57 36h0m89-94h0m-89 93h0m30-38h0m58-54h0m-51 36h0m83-39h0m-32 19h0m-146 95h0m144-106h0m-62 49h0m17-2h0m-36 26h0m55-42h0m33-18h0m-49 9h0m33 9h0m60-53h0m-67 60h0m74-71h0m-103 53h0m71-33h0m-39 46h0m-96 66h0m29-21h0m-60 30h0m80-65h0m25 3h0m33-29h0m-23 15h0m-10-8h0m21 3h0m12-32h0m-27 23h0m-77 79h0m116-80h0m-76 53h0m30-18h0m-4-30h0m-2 37h0m45-40h0m-23-1h0m35-28h0m-15 32h0m-82 62h0m103-97h0m-73 62h0m64-42h0m-6-18h0m-84 90h0m-40 21h0m74-43h0m-9 10h0m-17-11h0m136-102h0m-180 144h0m72-41h0m41-52h0m57-30h0m-111 90h0m76-79h0m-22 37h0m-25-4h0m50-39h0m-30 40h0m3 3h0m26-20h0m28-21h0m-51 6h0m-9 19h0m38-30h0m-60 29h0m-43 70h0m-63 29h0m69-46h0m-14 9h0m-6 1h0m41-40h0m-92 87h0m148-131h0m-36 56h0m22-19h0m-42 39h0m59-60h0m-90 64h0m67-59h0m-54 60h0m18-16h0m57-56h0m-93 82h0m-64 39h0m102-65h0m46-60h0m15 1h0m-72 80h0m94-76h0m-139 98h0m121-99h0m-36 27h0m-124 85h0m119-80h0m-22-3h0m70-32h0m-36 8h0m-146 117h0m138-96h0m16-13h0m2-18h0m57-21h0m-28 6h0m-15 36h0m28-40h0m-64 32h0m25 0h0m-63 69h0m4-8h0m93-79h0m-99 77h0m-44 27h0m-1-1h0m87-85h0m-34 55h0m42-49h0m66-39h0m-141 105h0m28-14h0m15-7h0m-14-8h0m-67 55h0m4-1h0m19-18h0m166-123h0m-59 33h0m12 13h0m-28 12h0m46-41h0m-9 34h0m-99 43h0m113-76h0m-49 25h0m0 5h0m-37 53h0m-65 29h0m125-90h0m5 9h0m-83 49h0m48-62h0m-14 24h0m4-5h0m-20 25h0m22-6h0m-36 36h0m121-105h0m-92 84h0m-9-22h0m66-26h0m-31 20h0m-79 65h0m74-62h0m-49 26h0m-99 66h0m158-119h0m-25 34h0m1-23h0m5 1h0m-59 61h0m90-60h0m-26 25h0m81-75h0m-82 46h0m-38 44h0m36-47h0m-71 86h0m80-77h0m-47 49h0m107-94h0m-122 122h0m28-60h0m55-17h0m-90 72h0m-55 23h0m71-45h0m-80 47h0m68-50h0m29-15h0m-1-20h0m4 4h0m-33 47h0m-43 26h0m74-79h0m41-11h0m-25 7h0m-59 55h0m21 5h0m111-92h0m-140 100h0m165-125h0m-46 34h0m7-11h0m10 4h0m-133 96h0m3-4h0m49-62h0m4 27h0m-103 55h0m48-18h0m66-62h0m-72 78h0m99-85h0m-44 23h0m-80 69h0m174-129h0m-58 40h0m-57 32h0m83-44h0m-64 66h0m-49 9h0m-30 25h0m30-28h0m-35 20h0m-9 10h0m146-120h0m-33 26h0m-127 104h0m219-159h0m-35 47h0m-38 5h0m-50 36h0m-44 39h0m114-96h0m-141 124h0m123-103h0m71-49h0m-110 78h0m21 0h0m39-27h0m-42 23h0m-39 29h0m107-97h0m5 14h0m-54 23h0m6-18h0m-117 107h0m138-108h0m-4 14h0m-23 16h0m-44 54h0m-16-20h0m35-21h0m100-55h0m-80 38h0m12-9h0m-103 77h0m73-60h0m81-47h0m-123 96h0m-67 46h0m138-111h0m-41 51h0m38-54h0m-102 86h0m80-52h0m7-20h0m-104 87h0m24-21h0m170-116h0m-33 19h0m-111 69h0m53-15h0m-70 58h0m34-33h0m58-41h0m53-51h0m-42 20h0m-93 90h0m25-28h0m20-30h0m-54 52h0m51-49h0m21 6h0m24-31h0m-160 115h0m101-75h0m20 22h0m21-37h0m-42 11h0m55-41h0m-97 73h0m15 18h0m127-100h0m-145 94h0m50-34h0m94-78h0m-165 140h0m144-137h0m-102 103h0m5-12h0m-17 23h0m37-24h0m7-27h0m-49 55h0m17-22h0m2-8h0m58-39h0m-107 76h0m142-84h0m-56 37h0m-37 40h0m-3-15h0m11-22h0m-2-9h0m77-52h0m-78 72h0m19-40h0m-20 53h0m91-90h0m-54 61h0m-29-7h0m-56 58h0m1-3h0m174-122h0m-123 84h0m-3-7h0m4 4h0m39-26h0m-28 32h0m61-58h0m-76 52h0m9-13h0m106-66h0m-143 119h0m-40 14h0m103-93h0m33-18h0m-121 95h0m46-24h0m48-54h0m77-41h0m-83 90h0m24-44h0m-6-5h0m20-15h0m54-32h0m-182 126h0m77-23h0m-17-10h0m55-43h0m24-7h0m-71 20h0m-36 53h0m-9 5h0m75-40h0m85-83h0m-171 139h0m143-132h0m29 3h0m-50 38h0m-90 74h0m50-72h0m56-16h0m-24-7h0m-10 21h0m-20 41h0m90-91h0m-60 43h0m2 8h0m-74 38h0m94-70h0m-97 69h0m14 0h0m4-1h0m33-26h0m15-4h0m-33 17h0m-3 5h0m-27 19h0m28-14h0m94-85h0m-43 41h0m-89 66h0m86-67h0m-30 26h0m-89 67h0m40-28h0m89-75h0m-9 3h0m-153 118h0m62-48h0m25-19h0m-8-9h0m23 10h0m-35 31h0m33-32h0m-42 29h0m23-36h0m30-27h0m44-29h0m-80 84h0m55-39h0m-42 17h0m9 4h0m19-24h0m-55 52h0m130-101h0m-108 90h0m40-23h0m-18-9h0m40-31h0m-43 22h0m-1 33h0m46-33h0m23-43h0m-125 105h0m157-118h0m-97 80h0m78-72h0m-36 43h0m-97 78h0m-39 14h0m73-42h0m66-82h0m-3 22h0m-32 5h0m18 12h0m-49 24h0m2 0h0m22 2h0m85-60h0m5-21h0m-13-4h0m-101 99h0m-71 38h0m76-53h0m-67 42h0m26-13h0m53-21h0m21-32h0m-10-5h0m-86 82h0m61-54h0m103-64h0m-122 88h0m-18 20h0m-36 13h0m13-10h0m94-64h0m-30 33h0m65-75h0m-149 117h0m156-102h0m-57 20h0m51-30h0m-54 26h0m53-35h0m3 3h0m-7 3h0m-8 12h0m-19 17h0m3-9h0m-77 59h0m87-61h0m-29 17h0m-91 72h0m98-83h0m33-2h0m24-5h0m-21-21h0m14-1h0m9 11h0m-74 40h0m87-72h0m-7 12h0m-158 120h0m150-104h0m-40 0h0m42 5h0m-159 98h0m19-13h0m50-31h0m0-9h0m79-47h0m-99 55h0m17 5h0m-64 33h0m67-31h0m40-43h0m-65 64h0m24-33h0m112-70h0m1-6h0m-47 43h0m-20 2h0m-54 40h0m-33 31h0m129-91h0m-152 112h0m63-77h0m24 0h0m-60 50h0m123-94h0m-20-1h0m-12 20h0m29-6h0m-94 72h0m56-82h0m-20 21h0m-38 48h0m2 8h0m79-46h0m-143 86h0m2-6h0m64-37h0m132-85h0m-124 98h0m85-91h0m-19 19h0m-75 59h0m21-11h0m15-29h0m0 26h0m-19 11h0m61-39h0m-70 34h0m17-16h0m119-78h0m-96 57h0m18 4h0m44-41h0m-91 63h0m92-51h0m-130 104h0m-5-5h0m79-69h0m-21-5h0m-42 59h0m116-108h0m-41 36h0m27-12h0m-21 14h0m-26 1h0m0 25h0m-34 12h0m50-59h0m-79 107h0m78-91h0m-72 67h0m-63 31h0m130-89h0m-121 89h0m77-40h0m120-92h0m-57 45h0m-18-6h0m-66 73h0m54-24h0m18-37h0m-99 88h0m53-79h0m-2 33h0m10-26h0m-21 30h0m8-13h0m-28 23h0m11 13h0m-78 25h0m133-84h0m17-12h0m-5 1h0m-108 65h0m104-68h0m-100 77h0m84-53h0m13-34h0m-58 85h0m14-40h0m-87 53h0m91-34h0m-47 10h0m17 7h0m80-90h0m-53 82h0m13-13h0m-74 26h0m159-99h0m-57 18h0m69-41h0m-211 149h0m141-96h0m72-65h0m-52 56h0m25-28h0m-116 82h0m79-61h0m9-11h0m-58 73h0m-61 25h0m33-20h0m30-23h0m-86 55h0m125-90h0m28-26h0m-5 13h0m-102 74h0m48-28h0m41-32h0m-14-6h0m40-13h0m-34 27h0m1-6h0m28-16h0m-22 22h0m26-31h0m-43 18h0m7-11h0m41 2h0m-66 37h0m49-58h0m-34 56h0m54-66h0m24 3h0m-130 112h0m87-63h0m-41 21h0m-25 24h0m-37 9h0m95-69h0m-60 34h0m24-1h0m70-45h0m-67 38h0m-95 72h0m142-107h0m-52 44h0m34-34h0m-27 16h0m-57 65h0m45-74h0m34 2h0m19-16h0m-9 26h0m1-8h0m-63 27h0m61-39h0m-76 78h0m69-84h0m11-14h0m-25 36h0m36-34h0m-29 15h0m-11 38h0m-118 70h0m174-132h0m5-12h0m-65 77h0m33-45h0m55-32h0m-56 40h0m-5-3h0m-86 87h0m49-50h0m21-43h0m-1 28h0m19-16h0m2-1h0m45-45h0m-113 92h0m-36 38h0m169-140h0m-32 18h0m-123 124h0m106-102h0m-89 58h0m-25 27h0m27-8h0m-27 16h0m89-82h0m-111 79h0m91-42h0m56-44h0m-73 55h0m69-76h0m-35 50h0m33-29h0m17-7h0m-24-7h0m-119 103h0m99-70h0m-6 4h0m-25 21h0m-114 70h0m104-55h0m-44 8h0m56-58h0m75-27h0m-41 22h0m-11 11h0m-50 21h0m32 1h0m-51 30h0m-14 6h0m98-59h0m41-38h0m-183 126h0m120-89h0m-57 46h0m5-4h0m4 20h0m58-67h0m3 5h0m-121 97h0m37-40h0m44-14h0m40-41h0m-9 0h0m-85 82h0m122-115h0m22 16h0m-146 78h0m46-39h0m68-60h0m-27 51h0m4 5h0m-69 25h0m99-67h0m-87 45h0m19-4h0m21 4h0m71-51h0m-51 18h0m55-13h0m-105 70h0m-10-8h0m87-71h0m-51 60h0m30-41h0m17 3h0m-49 44h0m27-48h0m-56 44h0m-77 68h0m69-41h0m128-102h0m-70 44h0m8-31h0m-54 54h0m-64 68h0m33-21h0m64-37h0m-81 32h0m93-55h0m-103 77h0m32-15h0m55-64h0m21-4h0m51-33h0m-26 3h0m-102 78h0m66-48h0m70-23h0m-83 32h0m-79 68h0m66-41h0m-39 40h0m-2-23h0m96-72h0m-97 75h0m70-77h0m-101 97h0m117-90h0m-18 32h0m-72 56h0m145-127h0m-1 7h0m-84 78h0m63-72h0m7-18h0m-42 48h0m-68 49h0m138-101h0m-188 146h0m22-26h0m84-70h0m-130 98h0m135-98h0m-14 3h0m31-13h0m-86 82h0m45-30h0m-43 26h0m0-9h0m147-97h0m-116 75h0m-96 68h0m144-101h0m-59 27h0m31-5h0m-56 56h0m-5-22h0m-5 24h0m129-106h0m-128 96h0m44-33h0m39-44h0m69-27h0m-99 67h0m41-39h0m60-35h0m-75 53h0m-68 33h0m133-85h0m-7 4h0m-42 34h0m-38 25h0m-2 9h0m51-60h0m-94 90h0m13 3h0m66-48h0m60-55h0m-16 15h0m-141 101h0m-25 15h0m-9 1h0m184-139h0m-71 49h0m-10 35h0m-38 30h0m38-37h0m19-23h0m48-50h0m4 9h0m-152 108h0m68-42h0m43-25h0m-135 83h0m66-40h0m48-38h0m-131 76h0m195-123h0m-164 121h0m25-8h0m138-102h0m-68 34h0m-2 16h0m-40 10h0m74-35h0m36-18h0m-165 99h0m157-102h0m-68 50h0m60-57h0m8 6h0m-11-15h0m-26 26h0m-16 3h0m-1 0h0m-45 44h0m1 14h0m44-17h0m-53 30h0m93-85h0m-161 118h0m125-109h0m-25 33h0m21-15h0m-145 94h0m167-122h0m12 1h0m-64 71h0m-57 38h0m25-20h0m24-45h0m98-47h0m-46 7h0m-31 30h0m-35 58h0m26-18h0m40-67h0m-43 51h0m-17 12h0m-32 32h0m26-14h0m45-49h0m75-41h0m-166 107h0m44-37h0m-42 45h0m100-69h0m-80 59h0m146-116h0m-122 82h0m54-28h0m18 9h0m-123 56h0m97-89h0m-84 94h0m34-9h0m-61 8h0m20-2h0m67-54h0m96-71h0m-43 27h0m-74 62h0m-13-4h0m108-72h0m-2 0h0m-21 10h0m-7 11h0m59-43h0m-83 50h0m73-49h0m-17 17h0m-123 109h0m31-48h0m47-23h0m-32 32h0m64-48h0m-106 59h0m86-69h0m68-32h0m-108 84h0m64-34h0m-76 34h0m95-68h0m-60 53h0m-49 34h0m106-90h0m10 11h0m-116 94h0m100-86h0m-162 115h0m55-36h0m-23 17h0m128-109h0m-6 22h0m-123 77h0m7-6h0m40-8h0m57-60h0m-38 26h0m-7-1h0m43-20h0m-79 63h0m70-59h0m9-21h0m-38 39h0m-28 36h0m64-52h0m-65 60h0m54-43h0m22-37h0m-102 95h0m103-81h0m-26 1h0m-72 41h0m86-46h0m6 21h0m58-51h0m-69 34h0m51-38h0m-166 124h0m59-49h0m86-42h0m-59 4h0m-29 53h0m27-20h0m-3-5h0m2-5h0m-76 60h0m181-129h0m-108 52h0m79-43h0m-120 116h0m14-17h0m87-79h0m-72 65h0m-8 22h0m-22 0h0m8-32h0m131-82h0m-122 115h0m-32 3h0m72-48h0m43-61h0m-79 81h0m8-23h0m63-16h0m-91 43h0m46-17h0m-15 10h0m-9 12h0m11-39h0m-41 54h0m8-18h0m74-31h0m-42 18h0m2 6h0m79-75h0m-19 11h0m-47 41h0m2-7h0" stroke="#c6c5c9" stroke-width="2.64" stroke-linecap="round" fill="none" stroke-opacity="1.0"/><line x1="311.20" y1="668.90" x2="515.02" y2="511.09" stroke="#000" stroke-width="1.3" /><line x1="311.20" y1="650.55" x2="515.02" y2="492.74" stroke="#000" stroke-width="1.25" stroke-dasharray="1.3 1.6"/><line x1="311.20" y1="687.25" x2="515.02" y2="529.44" stroke="#000" stroke-width="1.25" stroke-dasharray="1.3 1.6"/></g><line x1="315.70" y1="515.20" x2="315.70" y2="664.10" stroke="#000" stroke-width="1.5" /><line x1="315.00" y1="663.40" x2="509.10" y2="663.40" stroke="#000" stroke-width="1.5" /><line x1="312.30" y1="522.50" x2="315.30" y2="522.50" stroke="#222" stroke-width="1.0" /><text x="308.30" y="525.60" font-size="10" fill="#222" text-anchor="end" stroke="#222" stroke-width="0.2">1</text><line x1="312.30" y1="558.50" x2="315.30" y2="558.50" stroke="#222" stroke-width="1.0" /><text x="308.30" y="562.30" font-size="10" fill="#222" text-anchor="end" stroke="#222" stroke-width="0.2">0</text><line x1="312.30" y1="595.50" x2="315.30" y2="595.50" stroke="#222" stroke-width="1.0" /><text x="308.30" y="599.00" font-size="10" fill="#222" text-anchor="end" stroke="#222" stroke-width="0.2">−1</text><line x1="312.30" y1="632.50" x2="315.30" y2="632.50" stroke="#222" stroke-width="1.0" /><text x="308.30" y="635.70" font-size="10" fill="#222" text-anchor="end" stroke="#222" stroke-width="0.2">−2</text><line x1="358.50" y1="663.80" x2="358.50" y2="666.80" stroke="#222" stroke-width="1.0" /><text x="358.60" y="677.80" font-size="10" fill="#222" text-anchor="middle" stroke="#222" stroke-width="0.2">−2</text><line x1="406.50" y1="663.80" x2="406.50" y2="666.80" stroke="#222" stroke-width="1.0" /><text x="406.00" y="677.80" font-size="10" fill="#222" text-anchor="middle" stroke="#222" stroke-width="0.2">−1</text><line x1="453.50" y1="663.80" x2="453.50" y2="666.80" stroke="#222" stroke-width="1.0" /><text x="453.40" y="677.80" font-size="10" fill="#222" text-anchor="middle" stroke="#222" stroke-width="0.2">0</text><line x1="500.50" y1="663.80" x2="500.50" y2="666.80" stroke="#222" stroke-width="1.0" /><text x="500.80" y="677.80" font-size="10" fill="#222" text-anchor="middle" stroke="#222" stroke-width="0.2">1</text><text x="56.00" y="287.50" font-size="11" textLength="112.00" lengthAdjust="spacingAndGlyphs" >RNAi (Delta = 0.65)</text><text x="318.20" y="288.00" font-size="11" textLength="113.50" lengthAdjust="spacingAndGlyphs" >CRISPR (Delta = 0.65)</text><text x="56.00" y="512.50" font-size="11" textLength="112.00" lengthAdjust="spacingAndGlyphs" >RNAi (Delta = 0.60)</text><text x="316.00" y="512.80" font-size="11" textLength="106.00" lengthAdjust="spacingAndGlyphs" >CRISPR (Delta = 0.5)</text><text x="0" y="0" font-size="10" fill="#111" stroke="#111" stroke-width="0.25" text-anchor="middle" textLength="86.7" lengthAdjust="spacingAndGlyphs" transform="translate(31.20,364.50) rotate(-90)"><tspan font-style="italic">NRAS</tspan><tspan>—mutated lines (4)</tspan></text><text x="0" y="0" font-size="10" fill="#111" stroke="#111" stroke-width="0.25" text-anchor="middle" textLength="85.4" lengthAdjust="spacingAndGlyphs" transform="translate(292.40,364.80) rotate(-90)"><tspan font-style="italic">NRAS</tspan><tspan>—mutated lines (2)</tspan></text><text x="0" y="0" font-size="10" fill="#111" stroke="#111" stroke-width="0.25" text-anchor="middle" textLength="60.0" lengthAdjust="spacingAndGlyphs" transform="translate(31.20,589.30) rotate(-90)"><tspan font-style="italic">RAS</tspan><tspan> WT lines (6)</tspan></text><text x="0" y="0" font-size="10" fill="#111" stroke="#111" stroke-width="0.25" text-anchor="middle" textLength="60.0" lengthAdjust="spacingAndGlyphs" transform="translate(291.70,589.30) rotate(-90)"><tspan font-style="italic">RAS</tspan><tspan> WT lines (5)</tspan></text><text x="152.80" y="468.60" font-size="10" fill="#111" stroke="#111" stroke-width="0.25" text-anchor="middle" textLength="84.0" lengthAdjust="spacingAndGlyphs"><tspan font-style="italic">KRAS</tspan><tspan>—mutated lines (3)</tspan></text><text x="414.50" y="468.30" font-size="10" fill="#111" stroke="#111" stroke-width="0.25" text-anchor="middle" textLength="84.0" lengthAdjust="spacingAndGlyphs"><tspan font-style="italic">KRAS</tspan><tspan>—mutated lines (3)</tspan></text><text x="151.20" y="694.30" font-size="10" fill="#111" stroke="#111" stroke-width="0.25" text-anchor="middle" textLength="80.1" lengthAdjust="spacingAndGlyphs"><tspan font-style="italic">RAS</tspan><tspan>—mutated lines (7)</tspan></text><text x="412.60" y="693.80" font-size="10" fill="#111" stroke="#111" stroke-width="0.25" text-anchor="middle" textLength="80.0" lengthAdjust="spacingAndGlyphs"><tspan font-style="italic">RAS</tspan><tspan>—mutated lines (5)</tspan></text><text x="123.50" y="310.60" font-size="8.3" fill="#3d7658" textLength="37.60" lengthAdjust="spacingAndGlyphs" stroke="#3d7658" stroke-width="0.1">FKBP1AP1</text><text x="130.50" y="321.60" font-size="8.3" fill="#3d7658" textLength="30.60" lengthAdjust="spacingAndGlyphs" stroke="#3d7658" stroke-width="0.1">NFKBIL1</text><text x="168.20" y="321.60" font-size="8.3" fill="#3d7658" textLength="27.90" lengthAdjust="spacingAndGlyphs" stroke="#3d7658" stroke-width="0.1">ZNF284</text><text x="98.50" y="325.20" font-size="8.3" fill="#3d7658" textLength="24.10" lengthAdjust="spacingAndGlyphs" stroke="#3d7658" stroke-width="0.1">EFNA5</text><text x="148.20" y="332.30" font-size="8.3" fill="#3d7658" textLength="41.30" lengthAdjust="spacingAndGlyphs" stroke="#3d7658" stroke-width="0.1">PCDHGA12</text><text x="117.20" y="335.80" font-size="8.3" fill="#3d7658" textLength="23.10" lengthAdjust="spacingAndGlyphs" stroke="#3d7658" stroke-width="0.1">ICAM5</text><text x="83.90" y="341.50" font-size="8.3" fill="#3d7658" textLength="26.80" lengthAdjust="spacingAndGlyphs" stroke="#3d7658" stroke-width="0.1">CRADD</text><text x="162.70" y="343.10" font-size="8.3" fill="#3d7658" textLength="25.30" lengthAdjust="spacingAndGlyphs" stroke="#3d7658" stroke-width="0.1">TUBG2</text><text x="82.70" y="352.50" font-size="8.3" fill="#3e5a9c" textLength="19.80" lengthAdjust="spacingAndGlyphs" stroke="#3e5a9c" stroke-width="0.1">KRAS</text><text x="115.90" y="352.50" font-size="8.3" fill="#3d7658" textLength="24.40" lengthAdjust="spacingAndGlyphs" stroke="#3d7658" stroke-width="0.1">POMC</text><text x="142.80" y="354.20" font-size="8.3" fill="#3d7658" textLength="17.50" lengthAdjust="spacingAndGlyphs" stroke="#3d7658" stroke-width="0.1">PPA1</text><text x="88.90" y="363.50" font-size="8.3" fill="#3d7658" textLength="26.40" lengthAdjust="spacingAndGlyphs" stroke="#3d7658" stroke-width="0.1">WDR26</text><text x="121.60" y="364.90" font-size="8.3" fill="#3d7658" textLength="24.90" lengthAdjust="spacingAndGlyphs" stroke="#3d7658" stroke-width="0.1">NUP35</text><text x="108.90" y="376.20" font-size="8.3" fill="#3d7658" textLength="22.60" lengthAdjust="spacingAndGlyphs" stroke="#3d7658" stroke-width="0.1">COQ6</text><text x="79.60" y="380.40" font-size="8.3" fill="#3d7658" textLength="23.00" lengthAdjust="spacingAndGlyphs" stroke="#3d7658" stroke-width="0.1">RPL13</text><text x="204.30" y="322.00" font-size="8.3" fill="#c0153f" textLength="39.10" lengthAdjust="spacingAndGlyphs" stroke="#c0153f" stroke-width="0.1">ADAMTS15</text><text x="190.50" y="329.70" font-size="8.3" fill="#c0153f" textLength="26.00" lengthAdjust="spacingAndGlyphs" stroke="#c0153f" stroke-width="0.1">TRIM41</text><text x="220.00" y="333.80" font-size="8.3" fill="#c0153f" textLength="27.20" lengthAdjust="spacingAndGlyphs" stroke="#c0153f" stroke-width="0.1">TAS2R8</text><text x="196.90" y="345.10" font-size="8.3" fill="#c0153f" textLength="19.10" lengthAdjust="spacingAndGlyphs" stroke="#c0153f" stroke-width="0.1">GYS1</text><text x="223.50" y="350.30" font-size="8.3" fill="#c0153f" textLength="22.60" lengthAdjust="spacingAndGlyphs" stroke="#c0153f" stroke-width="0.1">APOO</text><text x="182.00" y="354.60" font-size="8.3" fill="#c0153f" textLength="26.80" lengthAdjust="spacingAndGlyphs" stroke="#c0153f" stroke-width="0.1">APOBR</text><text x="213.90" y="361.50" font-size="8.3" fill="#c0153f" textLength="21.50" lengthAdjust="spacingAndGlyphs" stroke="#c0153f" stroke-width="0.1">SUOX</text><text x="162.80" y="367.40" font-size="8.3" fill="#c0153f" textLength="25.20" lengthAdjust="spacingAndGlyphs" stroke="#c0153f" stroke-width="0.1">CARD9</text><text x="220.00" y="371.20" font-size="8.3" fill="#c0153f" textLength="28.00" lengthAdjust="spacingAndGlyphs" stroke="#c0153f" stroke-width="0.1">DNAJA2</text><text x="165.50" y="383.40" font-size="8.3" fill="#c0153f" textLength="24.30" lengthAdjust="spacingAndGlyphs" stroke="#c0153f" stroke-width="0.1">H2AFV</text><text x="197.90" y="385.10" font-size="8.3" fill="#3e5a9c" textLength="19.30" lengthAdjust="spacingAndGlyphs" stroke="#3e5a9c" stroke-width="0.1">NRAS</text><text x="422.20" y="327.00" font-size="8.3" fill="#3d7658" textLength="15.10" lengthAdjust="spacingAndGlyphs" stroke="#3d7658" stroke-width="0.1">MAF</text><text x="406.00" y="337.50" font-size="8.3" fill="#3e5a9c" textLength="19.80" lengthAdjust="spacingAndGlyphs" stroke="#3e5a9c" stroke-width="0.1">KRAS</text><text x="370.90" y="340.00" font-size="8.3" fill="#3d7658" textLength="25.60" lengthAdjust="spacingAndGlyphs" stroke="#3d7658" stroke-width="0.1">MEF2C</text><text x="466.70" y="340.00" font-size="8.3" fill="#c0153f" textLength="34.10" lengthAdjust="spacingAndGlyphs" stroke="#c0153f" stroke-width="0.1">CSNK2A1</text><text x="326.90" y="351.50" font-size="8.3" fill="#3d7658" textLength="26.80" lengthAdjust="spacingAndGlyphs" stroke="#3d7658" stroke-width="0.1">CCND2</text><text x="360.10" y="351.50" font-size="8.3" fill="#3d7658" textLength="20.00" lengthAdjust="spacingAndGlyphs" stroke="#3d7658" stroke-width="0.1">MANF</text><text x="388.40" y="351.20" font-size="8.3" fill="#3d7658" textLength="28.10" lengthAdjust="spacingAndGlyphs" stroke="#3d7658" stroke-width="0.1">BCL2L1</text><text x="422.90" y="348.70" font-size="8.3" fill="#3d7658" textLength="33.60" lengthAdjust="spacingAndGlyphs" stroke="#3d7658" stroke-width="0.1">PDCD6IP</text><text x="353.10" y="362.30" font-size="8.3" fill="#3d7658" textLength="21.10" lengthAdjust="spacingAndGlyphs" stroke="#3d7658" stroke-width="0.1">MEN1</text><text x="414.20" y="361.20" font-size="8.3" fill="#3d7658" textLength="38.60" lengthAdjust="spacingAndGlyphs" stroke="#3d7658" stroke-width="0.1">PPP1R15B</text><text x="381.70" y="365.50" font-size="8.3" fill="#3d7658" textLength="24.30" lengthAdjust="spacingAndGlyphs" stroke="#3d7658" stroke-width="0.1">CFLAR</text><text x="465.40" y="365.50" font-size="8.3" fill="#3e5a9c" textLength="19.90" lengthAdjust="spacingAndGlyphs" stroke="#3e5a9c" stroke-width="0.1">NRAS</text><text x="347.10" y="373.90" font-size="8.3" fill="#3d7658" textLength="13.60" lengthAdjust="spacingAndGlyphs" stroke="#3d7658" stroke-width="0.1">FAU</text><text x="392.70" y="376.20" font-size="8.3" fill="#3d7658" textLength="33.10" lengthAdjust="spacingAndGlyphs" stroke="#3d7658" stroke-width="0.1">PRPF38B</text><text x="322.30" y="385.20" font-size="8.3" fill="#3d7658" textLength="29.50" lengthAdjust="spacingAndGlyphs" stroke="#3d7658" stroke-width="0.1">DNAJC9</text><text x="360.10" y="385.20" font-size="8.3" fill="#3d7658" textLength="24.80" lengthAdjust="spacingAndGlyphs" stroke="#3d7658" stroke-width="0.1">MED30</text><text x="332.30" y="395.20" font-size="8.3" fill="#3d7658" textLength="22.20" lengthAdjust="spacingAndGlyphs" stroke="#3d7658" stroke-width="0.1">RPL37</text><text x="366.50" y="395.20" font-size="8.3" fill="#3d7658" textLength="26.50" lengthAdjust="spacingAndGlyphs" stroke="#3d7658" stroke-width="0.1">RNPC3</text><text x="147.80" y="538.90" font-size="8.3" fill="#3d7658" textLength="47.20" lengthAdjust="spacingAndGlyphs" stroke="#3d7658" stroke-width="0.1">ZNF436–AS1</text><text x="119.40" y="549.50" font-size="8.3" fill="#3d7658" textLength="21.40" lengthAdjust="spacingAndGlyphs" stroke="#3d7658" stroke-width="0.1">PRM3</text><text x="147.10" y="558.10" font-size="8.3" fill="#3d7658" textLength="20.40" lengthAdjust="spacingAndGlyphs" stroke="#3d7658" stroke-width="0.1">G0S2</text><text x="99.30" y="559.90" font-size="8.3" fill="#3d7658" textLength="33.60" lengthAdjust="spacingAndGlyphs" stroke="#3d7658" stroke-width="0.1">FAM169B</text><text x="153.10" y="568.90" font-size="8.3" fill="#3d7658" textLength="29.90" lengthAdjust="spacingAndGlyphs" stroke="#3d7658" stroke-width="0.1">GPR108</text><text x="98.60" y="571.20" font-size="8.3" fill="#3d7658" textLength="26.00" lengthAdjust="spacingAndGlyphs" stroke="#3d7658" stroke-width="0.1">GLOD4</text><text x="133.90" y="580.00" font-size="8.3" fill="#3d7658" textLength="24.90" lengthAdjust="spacingAndGlyphs" stroke="#3d7658" stroke-width="0.1">SCRN1</text><text x="113.20" y="582.30" font-size="8.3" fill="#3d7658" textLength="10.90" lengthAdjust="spacingAndGlyphs" stroke="#3d7658" stroke-width="0.1">CIT</text><text x="165.10" y="581.80" font-size="8.3" fill="#3e5a9c" textLength="20.90" lengthAdjust="spacingAndGlyphs" stroke="#3e5a9c" stroke-width="0.1">NRAS</text><text x="101.60" y="592.70" font-size="8.3" fill="#3d7658" textLength="32.90" lengthAdjust="spacingAndGlyphs" stroke="#3d7658" stroke-width="0.1">C11orf49</text><text x="141.50" y="593.40" font-size="8.3" fill="#3e5a9c" textLength="19.60" lengthAdjust="spacingAndGlyphs" stroke="#3e5a9c" stroke-width="0.1">KRAS</text><text x="193.10" y="580.20" font-size="8.3" fill="#c0153f" textLength="20.20" lengthAdjust="spacingAndGlyphs" stroke="#c0153f" stroke-width="0.1">MOB2</text><text x="221.60" y="580.60" font-size="8.3" fill="#c0153f" textLength="25.00" lengthAdjust="spacingAndGlyphs" stroke="#c0153f" stroke-width="0.1">CEP89</text><text x="178.70" y="591.40" font-size="8.3" fill="#c0153f" textLength="28.70" lengthAdjust="spacingAndGlyphs" stroke="#c0153f" stroke-width="0.1">DNAJC9</text><text x="217.00" y="591.40" font-size="8.3" fill="#c0153f" textLength="32.10" lengthAdjust="spacingAndGlyphs" stroke="#c0153f" stroke-width="0.1">CCDC60</text><text x="153.50" y="602.20" font-size="8.3" fill="#c0153f" textLength="24.30" lengthAdjust="spacingAndGlyphs" stroke="#c0153f" stroke-width="0.1">SCFD1</text><text x="201.10" y="602.40" font-size="8.3" fill="#c0153f" textLength="23.70" lengthAdjust="spacingAndGlyphs" stroke="#c0153f" stroke-width="0.1">CLBA1</text><text x="148.00" y="612.50" font-size="8.3" fill="#c0153f" textLength="33.00" lengthAdjust="spacingAndGlyphs" stroke="#c0153f" stroke-width="0.1">MRGPRE</text><text x="186.70" y="613.00" font-size="8.3" fill="#c0153f" textLength="15.40" lengthAdjust="spacingAndGlyphs" stroke="#c0153f" stroke-width="0.1">EIF5</text><text x="169.40" y="623.60" font-size="8.3" fill="#c0153f" textLength="21.10" lengthAdjust="spacingAndGlyphs" stroke="#c0153f" stroke-width="0.1">INTS7</text><text x="134.30" y="633.80" font-size="8.3" fill="#c0153f" textLength="20.20" lengthAdjust="spacingAndGlyphs" stroke="#c0153f" stroke-width="0.1">RPN2</text><text x="59.80" y="621.20" font-size="8.3" fill="#3d7658" textLength="32.40" lengthAdjust="spacingAndGlyphs" stroke="#3d7658" stroke-width="0.1">MCM3AP</text><text x="60.50" y="633.40" font-size="8.3" fill="#3d7658" textLength="29.40" lengthAdjust="spacingAndGlyphs" stroke="#3d7658" stroke-width="0.1">PDCD11</text><text x="475.80" y="523.50" font-size="8.0" fill="#3d7658" textLength="31.70" lengthAdjust="spacingAndGlyphs" stroke="#3d7658" stroke-width="0.06">ARRDC3</text><text x="424.40" y="560.10" font-size="8.0" fill="#3e5a9c" textLength="20.80" lengthAdjust="spacingAndGlyphs" stroke="#3e5a9c" stroke-width="0.06">NRAS</text><text x="460.70" y="568.40" font-size="8.0" fill="#c0153f" textLength="18.20" lengthAdjust="spacingAndGlyphs" stroke="#c0153f" stroke-width="0.06">TSC1</text><text x="393.20" y="571.00" font-size="8.0" fill="#3e5a9c" textLength="19.60" lengthAdjust="spacingAndGlyphs" stroke="#3e5a9c" stroke-width="0.06">KRAS</text><text x="441.50" y="579.60" font-size="8.0" fill="#c0153f" textLength="29.10" lengthAdjust="spacingAndGlyphs" stroke="#c0153f" stroke-width="0.06">PPP6R3</text><text x="412.70" y="584.80" font-size="8.0" fill="#c0153f" textLength="20.80" lengthAdjust="spacingAndGlyphs" stroke="#c0153f" stroke-width="0.06">MAEA</text><text x="444.60" y="593.60" font-size="8.0" fill="#c0153f" textLength="22.70" lengthAdjust="spacingAndGlyphs" stroke="#c0153f" stroke-width="0.06">TRAF2</text><text x="377.40" y="594.40" font-size="8.0" fill="#3d7658" textLength="16.00" lengthAdjust="spacingAndGlyphs" stroke="#3d7658" stroke-width="0.06">IRF4</text><text x="348.20" y="609.00" font-size="8.0" fill="#3d7658" textLength="29.60" lengthAdjust="spacingAndGlyphs" stroke="#3d7658" stroke-width="0.06">DNAJC9</text><text x="0.00" y="0.00" font-size="7.4" fill="#c0153f" textLength="23.00" lengthAdjust="spacingAndGlyphs" stroke="#c0153f" stroke-width="0.1" transform="translate(199.3,371.6) rotate(21)">PPP6C</text><line x1="162.30" y1="310.00" x2="164.90" y2="313.40" stroke="#3d7658" stroke-width="0.95" /><line x1="144.80" y1="322.80" x2="144.80" y2="332.80" stroke="#3d7658" stroke-width="0.95" /><line x1="123.30" y1="322.90" x2="144.10" y2="332.80" stroke="#3d7658" stroke-width="0.95" /><line x1="111.20" y1="338.90" x2="126.00" y2="343.60" stroke="#3d7658" stroke-width="0.95" /><line x1="136.00" y1="340.20" x2="142.10" y2="349.00" stroke="#3d7658" stroke-width="0.95" /><line x1="148.20" y1="336.20" x2="161.00" y2="340.20" stroke="#3d7658" stroke-width="0.95" /><line x1="109.80" y1="349.60" x2="113.20" y2="351.00" stroke="#3e5a9c" stroke-width="0.95" /><line x1="132.70" y1="342.20" x2="132.70" y2="344.50" stroke="#3d7658" stroke-width="0.95" /><line x1="116.00" y1="361.00" x2="117.70" y2="353.50" stroke="#3d7658" stroke-width="0.95" /><line x1="120.60" y1="354.00" x2="119.60" y2="369.00" stroke="#3d7658" stroke-width="0.95" /><line x1="134.00" y1="351.50" x2="134.00" y2="358.40" stroke="#3d7658" stroke-width="0.95" /><line x1="84.20" y1="383.40" x2="86.50" y2="381.70" stroke="#3d7658" stroke-width="0.95" /><line x1="137.60" y1="335.80" x2="139.60" y2="338.00" stroke="#3d7658" stroke-width="0.95" /><line x1="215.00" y1="330.00" x2="219.40" y2="345.60" stroke="#c0153f" stroke-width="0.95" /><line x1="225.60" y1="322.50" x2="223.10" y2="341.30" stroke="#c0153f" stroke-width="0.95" /><line x1="229.50" y1="334.50" x2="223.80" y2="341.30" stroke="#c0153f" stroke-width="0.95" /><line x1="227.50" y1="343.50" x2="223.80" y2="341.30" stroke="#c0153f" stroke-width="0.95" /><line x1="208.80" y1="345.00" x2="212.00" y2="349.50" stroke="#c0153f" stroke-width="0.95" /><line x1="209.50" y1="352.00" x2="215.00" y2="351.30" stroke="#c0153f" stroke-width="0.95" /><line x1="206.00" y1="361.70" x2="213.70" y2="359.00" stroke="#c0153f" stroke-width="0.95" /><line x1="202.60" y1="363.70" x2="219.40" y2="368.50" stroke="#c0153f" stroke-width="0.95" /><line x1="189.60" y1="364.60" x2="194.90" y2="367.00" stroke="#c0153f" stroke-width="0.95" /><line x1="189.10" y1="374.70" x2="198.80" y2="369.90" stroke="#c0153f" stroke-width="0.95" /><line x1="199.20" y1="373.80" x2="203.00" y2="376.60" stroke="#3e5a9c" stroke-width="0.95" /><line x1="420.80" y1="325.60" x2="406.30" y2="344.60" stroke="#3d7658" stroke-width="0.95" /><line x1="409.20" y1="340.60" x2="407.50" y2="341.70" stroke="#3e5a9c" stroke-width="0.95" /><line x1="405.00" y1="346.90" x2="420.20" y2="346.90" stroke="#3d7658" stroke-width="0.95" /><line x1="387.30" y1="339.60" x2="388.30" y2="342.50" stroke="#3d7658" stroke-width="0.95" /><line x1="353.70" y1="349.20" x2="377.70" y2="354.60" stroke="#3d7658" stroke-width="0.95" /><line x1="381.20" y1="349.20" x2="410.40" y2="358.80" stroke="#3d7658" stroke-width="0.95" /><line x1="374.80" y1="359.80" x2="387.30" y2="355.00" stroke="#3d7658" stroke-width="0.95" /><line x1="375.80" y1="370.40" x2="388.30" y2="373.30" stroke="#3d7658" stroke-width="0.95" /><line x1="360.40" y1="374.20" x2="366.20" y2="378.10" stroke="#3d7658" stroke-width="0.95" /><line x1="354.30" y1="376.80" x2="354.90" y2="377.40" stroke="#3d7658" stroke-width="0.95" /><line x1="347.90" y1="389.60" x2="355.60" y2="385.80" stroke="#3d7658" stroke-width="0.95" /><line x1="356.50" y1="386.70" x2="364.20" y2="392.50" stroke="#3d7658" stroke-width="0.95" /><line x1="466.00" y1="367.00" x2="463.00" y2="370.00" stroke="#3e5a9c" stroke-width="0.95" /><line x1="470.50" y1="342.50" x2="467.50" y2="345.00" stroke="#c0153f" stroke-width="0.95" /><line x1="145.20" y1="537.80" x2="143.10" y2="556.00" stroke="#3d7658" stroke-width="0.95" /><line x1="129.60" y1="549.90" x2="138.30" y2="563.70" stroke="#3d7658" stroke-width="0.95" /><line x1="121.80" y1="561.10" x2="129.60" y2="567.20" stroke="#3d7658" stroke-width="0.95" /><line x1="126.80" y1="569.40" x2="127.40" y2="569.40" stroke="#3d7658" stroke-width="0.95" /><line x1="152.10" y1="560.30" x2="139.10" y2="570.10" stroke="#3d7658" stroke-width="0.95" /><line x1="150.40" y1="565.50" x2="140.00" y2="569.80" stroke="#3d7658" stroke-width="0.95" /><line x1="127.00" y1="575.80" x2="128.70" y2="576.70" stroke="#3d7658" stroke-width="0.95" /><line x1="121.00" y1="585.40" x2="123.50" y2="583.60" stroke="#3d7658" stroke-width="0.95" /><line x1="167.30" y1="570.70" x2="171.10" y2="574.10" stroke="#3e5a9c" stroke-width="0.95" /><line x1="145.20" y1="581.90" x2="147.80" y2="584.50" stroke="#3e5a9c" stroke-width="0.95" /><line x1="63.00" y1="623.50" x2="60.50" y2="626.50" stroke="#3d7658" stroke-width="0.95" /><line x1="207.70" y1="580.60" x2="214.40" y2="586.30" stroke="#c0153f" stroke-width="0.95" /><line x1="216.30" y1="583.50" x2="219.20" y2="580.60" stroke="#c0153f" stroke-width="0.95" /><line x1="177.90" y1="599.80" x2="187.50" y2="596.90" stroke="#c0153f" stroke-width="0.95" /><line x1="193.80" y1="606.50" x2="194.60" y2="594.00" stroke="#c0153f" stroke-width="0.95" /><line x1="196.20" y1="596.90" x2="197.10" y2="596.00" stroke="#c0153f" stroke-width="0.95" /><line x1="176.90" y1="605.60" x2="180.40" y2="603.70" stroke="#c0153f" stroke-width="0.95" /><line x1="180.80" y1="616.20" x2="183.10" y2="613.80" stroke="#c0153f" stroke-width="0.95" /><line x1="142.50" y1="627.50" x2="145.50" y2="625.00" stroke="#c0153f" stroke-width="0.95" /><line x1="461.90" y1="568.80" x2="451.20" y2="578.10" stroke="#c0153f" stroke-width="0.95" /><line x1="434.20" y1="582.40" x2="451.20" y2="579.60" stroke="#c0153f" stroke-width="0.95" /><line x1="448.10" y1="584.20" x2="450.40" y2="586.50" stroke="#c0153f" stroke-width="0.95" /><line x1="440.40" y1="561.90" x2="441.90" y2="563.50" stroke="#3e5a9c" stroke-width="0.95" /><line x1="421.00" y1="567.80" x2="421.60" y2="568.40" stroke="#3e5a9c" stroke-width="0.95" /><line x1="476.00" y1="519.50" x2="474.00" y2="521.00" stroke="#3d7658" stroke-width="0.95" /><line x1="376.50" y1="597.50" x2="373.50" y2="600.50" stroke="#3d7658" stroke-width="0.95" /><line x1="367.50" y1="603.50" x2="370.00" y2="600.50" stroke="#3d7658" stroke-width="0.95" /></svg></body></html>
